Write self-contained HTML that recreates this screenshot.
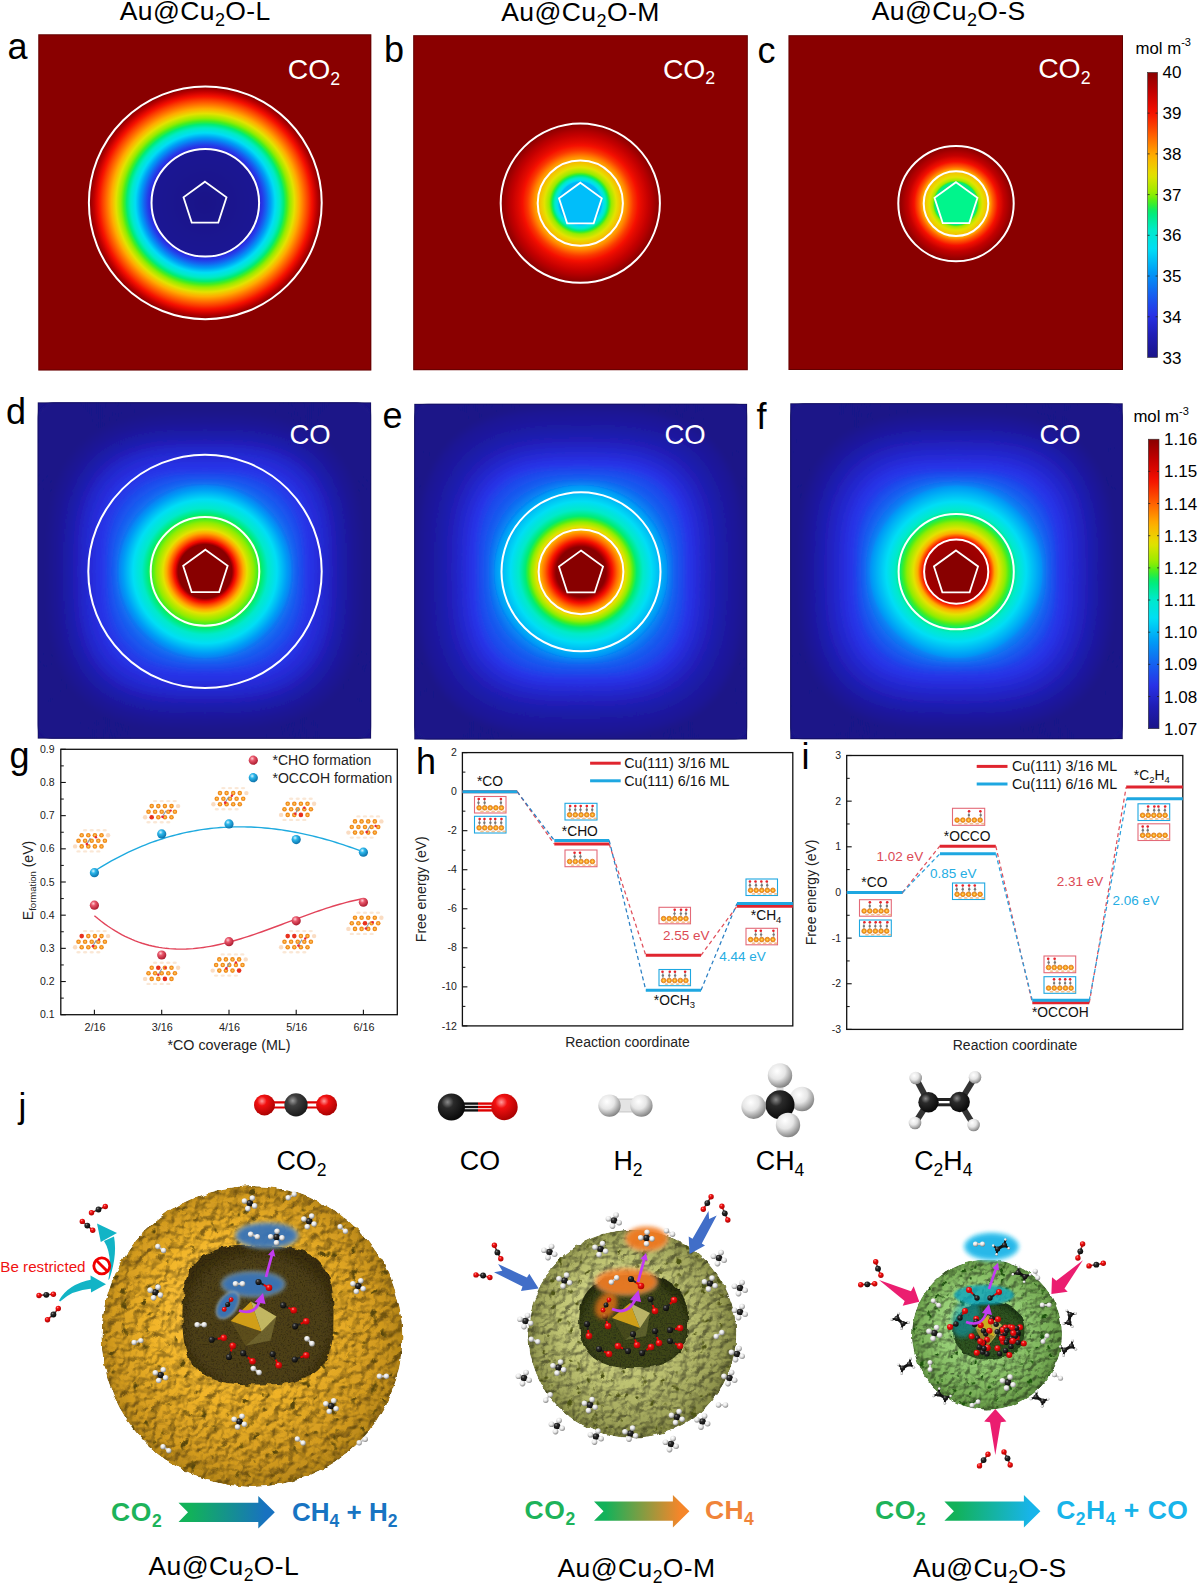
<!DOCTYPE html>
<html><head><meta charset="utf-8"><style>
html,body{margin:0;padding:0;background:#fff;}
body{width:1200px;height:1585px;overflow:hidden;}
svg{display:block;font-family:'Liberation Sans', sans-serif;}
</style></head><body>
<svg width="1200" height="1585" viewBox="0 0 1200 1585">
<defs><filter id="bandblur" x="-10%" y="-10%" width="120%" height="120%"><feGaussianBlur stdDeviation="1.6"/></filter>
<radialGradient id="g_a" gradientUnits="userSpaceOnUse" cx="205.30" cy="202.80" r="117.00"><stop offset="0.0000" stop-color="#1a1488"/><stop offset="0.0064" stop-color="#1a1488"/><stop offset="0.0128" stop-color="#1a1488"/><stop offset="0.0192" stop-color="#1a1488"/><stop offset="0.0256" stop-color="#1a1489"/><stop offset="0.0321" stop-color="#1a1489"/><stop offset="0.0385" stop-color="#1a1489"/><stop offset="0.0449" stop-color="#1a1489"/><stop offset="0.0513" stop-color="#1a1489"/><stop offset="0.0577" stop-color="#1a1489"/><stop offset="0.0641" stop-color="#1a148a"/><stop offset="0.0705" stop-color="#1a148a"/><stop offset="0.0769" stop-color="#1a148a"/><stop offset="0.0833" stop-color="#1a148a"/><stop offset="0.0897" stop-color="#1a148a"/><stop offset="0.0962" stop-color="#1a158a"/><stop offset="0.1026" stop-color="#1a158b"/><stop offset="0.1090" stop-color="#1a158b"/><stop offset="0.1154" stop-color="#1a158b"/><stop offset="0.1218" stop-color="#1a158b"/><stop offset="0.1282" stop-color="#1a158b"/><stop offset="0.1346" stop-color="#1a158b"/><stop offset="0.1410" stop-color="#1a158c"/><stop offset="0.1474" stop-color="#1a158c"/><stop offset="0.1538" stop-color="#1b158c"/><stop offset="0.1603" stop-color="#1b158c"/><stop offset="0.1667" stop-color="#1b158c"/><stop offset="0.1731" stop-color="#1b158c"/><stop offset="0.1795" stop-color="#1b158d"/><stop offset="0.1859" stop-color="#1b158d"/><stop offset="0.1923" stop-color="#1b158d"/><stop offset="0.1987" stop-color="#1b158d"/><stop offset="0.2051" stop-color="#1b158d"/><stop offset="0.2115" stop-color="#1b158d"/><stop offset="0.2179" stop-color="#1b158e"/><stop offset="0.2244" stop-color="#1b158e"/><stop offset="0.2308" stop-color="#1b158e"/><stop offset="0.2372" stop-color="#1b158e"/><stop offset="0.2436" stop-color="#1b158e"/><stop offset="0.2500" stop-color="#1b158e"/><stop offset="0.2564" stop-color="#1b158f"/><stop offset="0.2628" stop-color="#1b158f"/><stop offset="0.2692" stop-color="#1b158f"/><stop offset="0.2756" stop-color="#1b168f"/><stop offset="0.2821" stop-color="#1b168f"/><stop offset="0.2885" stop-color="#1b168f"/><stop offset="0.2949" stop-color="#1b168f"/><stop offset="0.3013" stop-color="#1b1690"/><stop offset="0.3077" stop-color="#1b1690"/><stop offset="0.3141" stop-color="#1b1690"/><stop offset="0.3205" stop-color="#1b1690"/><stop offset="0.3269" stop-color="#1b1690"/><stop offset="0.3333" stop-color="#1b1690"/><stop offset="0.3397" stop-color="#1b1691"/><stop offset="0.3462" stop-color="#1b1691"/><stop offset="0.3526" stop-color="#1b1691"/><stop offset="0.3590" stop-color="#1b1691"/><stop offset="0.3654" stop-color="#1b1691"/><stop offset="0.3718" stop-color="#1b1691"/><stop offset="0.3782" stop-color="#1b1692"/><stop offset="0.3846" stop-color="#1b1692"/><stop offset="0.3910" stop-color="#1b1692"/><stop offset="0.3974" stop-color="#1b1692"/><stop offset="0.4038" stop-color="#1b1692"/><stop offset="0.4103" stop-color="#1b1692"/><stop offset="0.4167" stop-color="#1b1693"/><stop offset="0.4231" stop-color="#1b1693"/><stop offset="0.4295" stop-color="#1b1693"/><stop offset="0.4359" stop-color="#1b1693"/><stop offset="0.4423" stop-color="#1b1693"/><stop offset="0.4487" stop-color="#1b1693"/><stop offset="0.4551" stop-color="#1d199f"/><stop offset="0.4615" stop-color="#2325c6"/><stop offset="0.4679" stop-color="#252bd6"/><stop offset="0.4744" stop-color="#262edd"/><stop offset="0.4808" stop-color="#2831e4"/><stop offset="0.4872" stop-color="#2636e7"/><stop offset="0.4936" stop-color="#233ee9"/><stop offset="0.5000" stop-color="#2046ea"/><stop offset="0.5064" stop-color="#1c4fec"/><stop offset="0.5128" stop-color="#1958ee"/><stop offset="0.5192" stop-color="#1660f0"/><stop offset="0.5256" stop-color="#126af1"/><stop offset="0.5321" stop-color="#0e74f2"/><stop offset="0.5385" stop-color="#0a7ff3"/><stop offset="0.5449" stop-color="#0789f4"/><stop offset="0.5513" stop-color="#0392f5"/><stop offset="0.5577" stop-color="#009cf6"/><stop offset="0.5641" stop-color="#00a6f6"/><stop offset="0.5705" stop-color="#00b1f6"/><stop offset="0.5769" stop-color="#00bbf6"/><stop offset="0.5833" stop-color="#00c6f5"/><stop offset="0.5897" stop-color="#00d0f5"/><stop offset="0.5962" stop-color="#00dbf5"/><stop offset="0.6026" stop-color="#00dff0"/><stop offset="0.6090" stop-color="#00e1e9"/><stop offset="0.6154" stop-color="#00e3e1"/><stop offset="0.6218" stop-color="#00e5da"/><stop offset="0.6282" stop-color="#00e7d3"/><stop offset="0.6346" stop-color="#00e9cb"/><stop offset="0.6410" stop-color="#00eac0"/><stop offset="0.6474" stop-color="#00ebb0"/><stop offset="0.6538" stop-color="#00eba0"/><stop offset="0.6603" stop-color="#00eb90"/><stop offset="0.6667" stop-color="#00ec80"/><stop offset="0.6731" stop-color="#04ec6f"/><stop offset="0.6795" stop-color="#18ed56"/><stop offset="0.6859" stop-color="#28ed43"/><stop offset="0.6923" stop-color="#37ee30"/><stop offset="0.6987" stop-color="#47ee1e"/><stop offset="0.7051" stop-color="#5ced16"/><stop offset="0.7115" stop-color="#71ed0e"/><stop offset="0.7179" stop-color="#85ec06"/><stop offset="0.7244" stop-color="#98ec00"/><stop offset="0.7308" stop-color="#a5ea00"/><stop offset="0.7372" stop-color="#b1e800"/><stop offset="0.7436" stop-color="#bee700"/><stop offset="0.7500" stop-color="#cae500"/><stop offset="0.7564" stop-color="#d7e400"/><stop offset="0.7628" stop-color="#e3e200"/><stop offset="0.7692" stop-color="#e8da00"/><stop offset="0.7756" stop-color="#ecd100"/><stop offset="0.7821" stop-color="#f1c900"/><stop offset="0.7885" stop-color="#f5c000"/><stop offset="0.7949" stop-color="#f9b700"/><stop offset="0.8013" stop-color="#feaf00"/><stop offset="0.8077" stop-color="#ffa600"/><stop offset="0.8141" stop-color="#ff9c00"/><stop offset="0.8205" stop-color="#ff9200"/><stop offset="0.8269" stop-color="#ff8900"/><stop offset="0.8333" stop-color="#ff7f00"/><stop offset="0.8397" stop-color="#ff7500"/><stop offset="0.8462" stop-color="#ff6c00"/><stop offset="0.8526" stop-color="#ff6200"/><stop offset="0.8590" stop-color="#fe5900"/><stop offset="0.8654" stop-color="#fd5000"/><stop offset="0.8718" stop-color="#fc4700"/><stop offset="0.8782" stop-color="#fb3e00"/><stop offset="0.8846" stop-color="#fa3500"/><stop offset="0.8910" stop-color="#f92b00"/><stop offset="0.8974" stop-color="#f72200"/><stop offset="0.9038" stop-color="#f61900"/><stop offset="0.9103" stop-color="#f51000"/><stop offset="0.9167" stop-color="#ee0d00"/><stop offset="0.9231" stop-color="#e50a00"/><stop offset="0.9295" stop-color="#dd0800"/><stop offset="0.9359" stop-color="#d40500"/><stop offset="0.9423" stop-color="#cc0300"/><stop offset="0.9487" stop-color="#c30000"/><stop offset="0.9551" stop-color="#ba0000"/><stop offset="0.9615" stop-color="#b00000"/><stop offset="0.9679" stop-color="#a70000"/><stop offset="0.9744" stop-color="#9e0000"/><stop offset="0.9808" stop-color="#940000"/><stop offset="0.9872" stop-color="#8f0000"/><stop offset="0.9936" stop-color="#8c0000"/><stop offset="1.0000" stop-color="#890000"/></radialGradient>
<radialGradient id="g_b" gradientUnits="userSpaceOnUse" cx="580.30" cy="203.20" r="79.00"><stop offset="0.0000" stop-color="#00acf6"/><stop offset="0.0095" stop-color="#00acf6"/><stop offset="0.0190" stop-color="#00acf6"/><stop offset="0.0285" stop-color="#00adf6"/><stop offset="0.0380" stop-color="#00adf6"/><stop offset="0.0475" stop-color="#00adf6"/><stop offset="0.0570" stop-color="#00aef6"/><stop offset="0.0665" stop-color="#00aef6"/><stop offset="0.0759" stop-color="#00aef6"/><stop offset="0.0854" stop-color="#00aef6"/><stop offset="0.0949" stop-color="#00aff6"/><stop offset="0.1044" stop-color="#00aff6"/><stop offset="0.1139" stop-color="#00aff6"/><stop offset="0.1234" stop-color="#00b0f6"/><stop offset="0.1329" stop-color="#00b0f6"/><stop offset="0.1424" stop-color="#00b0f6"/><stop offset="0.1519" stop-color="#00b1f6"/><stop offset="0.1614" stop-color="#00b1f6"/><stop offset="0.1709" stop-color="#00b1f6"/><stop offset="0.1804" stop-color="#00b1f6"/><stop offset="0.1899" stop-color="#00b2f6"/><stop offset="0.1994" stop-color="#00b2f6"/><stop offset="0.2089" stop-color="#00b2f6"/><stop offset="0.2184" stop-color="#00b3f6"/><stop offset="0.2278" stop-color="#00b3f6"/><stop offset="0.2373" stop-color="#00b3f6"/><stop offset="0.2468" stop-color="#00b4f6"/><stop offset="0.2563" stop-color="#00b4f6"/><stop offset="0.2658" stop-color="#00b4f6"/><stop offset="0.2753" stop-color="#00c7f5"/><stop offset="0.2848" stop-color="#00d8f5"/><stop offset="0.2943" stop-color="#00e0ec"/><stop offset="0.3038" stop-color="#00e4e0"/><stop offset="0.3133" stop-color="#00e7d3"/><stop offset="0.3228" stop-color="#00eac3"/><stop offset="0.3323" stop-color="#00eba7"/><stop offset="0.3418" stop-color="#00eb8b"/><stop offset="0.3513" stop-color="#07ec6b"/><stop offset="0.3608" stop-color="#26ed44"/><stop offset="0.3703" stop-color="#42ee23"/><stop offset="0.3797" stop-color="#65ed12"/><stop offset="0.3892" stop-color="#8aec05"/><stop offset="0.3987" stop-color="#9eeb00"/><stop offset="0.4082" stop-color="#a9ea00"/><stop offset="0.4177" stop-color="#b5e800"/><stop offset="0.4272" stop-color="#c1e600"/><stop offset="0.4367" stop-color="#cde500"/><stop offset="0.4462" stop-color="#d8e400"/><stop offset="0.4557" stop-color="#e4e200"/><stop offset="0.4652" stop-color="#e7dc00"/><stop offset="0.4747" stop-color="#ead600"/><stop offset="0.4842" stop-color="#edd100"/><stop offset="0.4937" stop-color="#f0cb00"/><stop offset="0.5032" stop-color="#f2c500"/><stop offset="0.5127" stop-color="#f5bf00"/><stop offset="0.5222" stop-color="#f8b900"/><stop offset="0.5316" stop-color="#fbb400"/><stop offset="0.5411" stop-color="#feaf00"/><stop offset="0.5506" stop-color="#ffa900"/><stop offset="0.5601" stop-color="#ffa100"/><stop offset="0.5696" stop-color="#ff9a00"/><stop offset="0.5791" stop-color="#ff9300"/><stop offset="0.5886" stop-color="#ff8a00"/><stop offset="0.5981" stop-color="#ff8000"/><stop offset="0.6076" stop-color="#ff7600"/><stop offset="0.6171" stop-color="#ff6c00"/><stop offset="0.6266" stop-color="#ff6200"/><stop offset="0.6361" stop-color="#fe5800"/><stop offset="0.6456" stop-color="#fd4f00"/><stop offset="0.6551" stop-color="#fc4600"/><stop offset="0.6646" stop-color="#fb3d00"/><stop offset="0.6741" stop-color="#fa3500"/><stop offset="0.6835" stop-color="#f92f00"/><stop offset="0.6930" stop-color="#f82900"/><stop offset="0.7025" stop-color="#f72300"/><stop offset="0.7120" stop-color="#f71d00"/><stop offset="0.7215" stop-color="#f61600"/><stop offset="0.7310" stop-color="#f51000"/><stop offset="0.7405" stop-color="#f20e00"/><stop offset="0.7500" stop-color="#ed0d00"/><stop offset="0.7595" stop-color="#e90b00"/><stop offset="0.7690" stop-color="#e50a00"/><stop offset="0.7785" stop-color="#e10900"/><stop offset="0.7880" stop-color="#de0800"/><stop offset="0.7975" stop-color="#da0700"/><stop offset="0.8070" stop-color="#d70600"/><stop offset="0.8165" stop-color="#d40500"/><stop offset="0.8259" stop-color="#d10400"/><stop offset="0.8354" stop-color="#cd0300"/><stop offset="0.8449" stop-color="#ca0200"/><stop offset="0.8544" stop-color="#c70100"/><stop offset="0.8639" stop-color="#c30000"/><stop offset="0.8734" stop-color="#c00000"/><stop offset="0.8829" stop-color="#bc0000"/><stop offset="0.8924" stop-color="#b80000"/><stop offset="0.9019" stop-color="#b40000"/><stop offset="0.9114" stop-color="#b00000"/><stop offset="0.9209" stop-color="#ac0000"/><stop offset="0.9304" stop-color="#a70000"/><stop offset="0.9399" stop-color="#a30000"/><stop offset="0.9494" stop-color="#9f0000"/><stop offset="0.9589" stop-color="#9b0000"/><stop offset="0.9684" stop-color="#970000"/><stop offset="0.9778" stop-color="#930000"/><stop offset="0.9873" stop-color="#8f0000"/><stop offset="0.9968" stop-color="#8a0000"/></radialGradient>
<radialGradient id="g_c" gradientUnits="userSpaceOnUse" cx="956.00" cy="203.60" r="57.00"><stop offset="0.0000" stop-color="#00ec81"/><stop offset="0.0132" stop-color="#00ec81"/><stop offset="0.0263" stop-color="#00ec81"/><stop offset="0.0395" stop-color="#00ec81"/><stop offset="0.0526" stop-color="#00ec81"/><stop offset="0.0658" stop-color="#00ec81"/><stop offset="0.0789" stop-color="#00ec81"/><stop offset="0.0921" stop-color="#00ec81"/><stop offset="0.1053" stop-color="#00ec81"/><stop offset="0.1184" stop-color="#00ec81"/><stop offset="0.1316" stop-color="#00ec81"/><stop offset="0.1447" stop-color="#00ec81"/><stop offset="0.1579" stop-color="#00ec81"/><stop offset="0.1711" stop-color="#00ec81"/><stop offset="0.1842" stop-color="#00ec81"/><stop offset="0.1974" stop-color="#00ec81"/><stop offset="0.2105" stop-color="#00ec81"/><stop offset="0.2237" stop-color="#00ec81"/><stop offset="0.2368" stop-color="#00ec81"/><stop offset="0.2500" stop-color="#00ec81"/><stop offset="0.2632" stop-color="#00ec81"/><stop offset="0.2763" stop-color="#00ec81"/><stop offset="0.2895" stop-color="#00ec81"/><stop offset="0.3026" stop-color="#00ec81"/><stop offset="0.3158" stop-color="#00ec81"/><stop offset="0.3289" stop-color="#00ec81"/><stop offset="0.3421" stop-color="#00ec81"/><stop offset="0.3553" stop-color="#00ec81"/><stop offset="0.3684" stop-color="#00ec81"/><stop offset="0.3816" stop-color="#28ed42"/><stop offset="0.3947" stop-color="#6eed0f"/><stop offset="0.4079" stop-color="#a1eb00"/><stop offset="0.4211" stop-color="#b1e900"/><stop offset="0.4342" stop-color="#c0e700"/><stop offset="0.4474" stop-color="#cfe500"/><stop offset="0.4605" stop-color="#dfe300"/><stop offset="0.4737" stop-color="#e6df00"/><stop offset="0.4868" stop-color="#e8da00"/><stop offset="0.5000" stop-color="#ebd500"/><stop offset="0.5132" stop-color="#edd000"/><stop offset="0.5263" stop-color="#f0cb00"/><stop offset="0.5395" stop-color="#f3c400"/><stop offset="0.5526" stop-color="#f6be00"/><stop offset="0.5658" stop-color="#f9b700"/><stop offset="0.5789" stop-color="#fdb000"/><stop offset="0.5921" stop-color="#ffa600"/><stop offset="0.6053" stop-color="#ff9600"/><stop offset="0.6184" stop-color="#ff8600"/><stop offset="0.6316" stop-color="#ff7500"/><stop offset="0.6447" stop-color="#ff6400"/><stop offset="0.6579" stop-color="#fe5700"/><stop offset="0.6711" stop-color="#fc4b00"/><stop offset="0.6842" stop-color="#fb3f00"/><stop offset="0.6974" stop-color="#fa3300"/><stop offset="0.7105" stop-color="#f82700"/><stop offset="0.7237" stop-color="#f61b00"/><stop offset="0.7368" stop-color="#f50f00"/><stop offset="0.7500" stop-color="#ef0d00"/><stop offset="0.7632" stop-color="#e90b00"/><stop offset="0.7763" stop-color="#e20900"/><stop offset="0.7895" stop-color="#dc0800"/><stop offset="0.8026" stop-color="#d60600"/><stop offset="0.8158" stop-color="#cf0400"/><stop offset="0.8289" stop-color="#c90200"/><stop offset="0.8421" stop-color="#c30000"/><stop offset="0.8553" stop-color="#be0000"/><stop offset="0.8684" stop-color="#b90000"/><stop offset="0.8816" stop-color="#b50000"/><stop offset="0.8947" stop-color="#b00000"/><stop offset="0.9079" stop-color="#ab0000"/><stop offset="0.9211" stop-color="#a60000"/><stop offset="0.9342" stop-color="#a10000"/><stop offset="0.9474" stop-color="#9c0000"/><stop offset="0.9605" stop-color="#970000"/><stop offset="0.9737" stop-color="#930000"/><stop offset="0.9868" stop-color="#8e0000"/><stop offset="1.0000" stop-color="#890000"/></radialGradient>
<radialGradient id="g_d" gradientUnits="userSpaceOnUse" cx="205.00" cy="571.40" r="162.00"><stop offset="0.0000" stop-color="#890000"/><stop offset="0.0046" stop-color="#890000"/><stop offset="0.0093" stop-color="#890000"/><stop offset="0.0139" stop-color="#890000"/><stop offset="0.0185" stop-color="#890000"/><stop offset="0.0231" stop-color="#890000"/><stop offset="0.0278" stop-color="#890000"/><stop offset="0.0324" stop-color="#890000"/><stop offset="0.0370" stop-color="#890000"/><stop offset="0.0417" stop-color="#890000"/><stop offset="0.0463" stop-color="#890000"/><stop offset="0.0509" stop-color="#890000"/><stop offset="0.0556" stop-color="#890000"/><stop offset="0.0602" stop-color="#890000"/><stop offset="0.0648" stop-color="#890000"/><stop offset="0.0694" stop-color="#890000"/><stop offset="0.0741" stop-color="#890000"/><stop offset="0.0787" stop-color="#890000"/><stop offset="0.0833" stop-color="#890000"/><stop offset="0.0880" stop-color="#890000"/><stop offset="0.0926" stop-color="#890000"/><stop offset="0.0972" stop-color="#890000"/><stop offset="0.1019" stop-color="#890000"/><stop offset="0.1065" stop-color="#890000"/><stop offset="0.1111" stop-color="#890000"/><stop offset="0.1157" stop-color="#890000"/><stop offset="0.1204" stop-color="#890000"/><stop offset="0.1250" stop-color="#890000"/><stop offset="0.1296" stop-color="#890000"/><stop offset="0.1343" stop-color="#890000"/><stop offset="0.1389" stop-color="#890000"/><stop offset="0.1435" stop-color="#890000"/><stop offset="0.1481" stop-color="#890000"/><stop offset="0.1528" stop-color="#890000"/><stop offset="0.1574" stop-color="#890000"/><stop offset="0.1620" stop-color="#890000"/><stop offset="0.1667" stop-color="#890000"/><stop offset="0.1713" stop-color="#a20000"/><stop offset="0.1759" stop-color="#bb0000"/><stop offset="0.1806" stop-color="#d10400"/><stop offset="0.1852" stop-color="#e70b00"/><stop offset="0.1898" stop-color="#f30e00"/><stop offset="0.1944" stop-color="#f71d00"/><stop offset="0.1991" stop-color="#f92e00"/><stop offset="0.2037" stop-color="#fb3f00"/><stop offset="0.2083" stop-color="#fd4f00"/><stop offset="0.2130" stop-color="#ff5e00"/><stop offset="0.2176" stop-color="#ff6d00"/><stop offset="0.2222" stop-color="#ff7c00"/><stop offset="0.2269" stop-color="#ff8b00"/><stop offset="0.2315" stop-color="#ff9a00"/><stop offset="0.2361" stop-color="#ffa900"/><stop offset="0.2407" stop-color="#fab500"/><stop offset="0.2454" stop-color="#f5c000"/><stop offset="0.2500" stop-color="#efcb00"/><stop offset="0.2546" stop-color="#ead700"/><stop offset="0.2593" stop-color="#e4e200"/><stop offset="0.2639" stop-color="#dbe300"/><stop offset="0.2685" stop-color="#d1e400"/><stop offset="0.2731" stop-color="#c8e600"/><stop offset="0.2778" stop-color="#bee700"/><stop offset="0.2824" stop-color="#b5e800"/><stop offset="0.2870" stop-color="#abe900"/><stop offset="0.2917" stop-color="#a2eb00"/><stop offset="0.2963" stop-color="#99ec00"/><stop offset="0.3009" stop-color="#8fec03"/><stop offset="0.3056" stop-color="#81ed08"/><stop offset="0.3102" stop-color="#72ed0d"/><stop offset="0.3148" stop-color="#64ed13"/><stop offset="0.3194" stop-color="#55ee18"/><stop offset="0.3241" stop-color="#47ee1e"/><stop offset="0.3287" stop-color="#3cee2a"/><stop offset="0.3333" stop-color="#31ed38"/><stop offset="0.3380" stop-color="#26ed45"/><stop offset="0.3426" stop-color="#1bed52"/><stop offset="0.3472" stop-color="#0fec61"/><stop offset="0.3519" stop-color="#00ec73"/><stop offset="0.3565" stop-color="#00ec7e"/><stop offset="0.3611" stop-color="#00ec88"/><stop offset="0.3657" stop-color="#00eb93"/><stop offset="0.3704" stop-color="#00eb9d"/><stop offset="0.3750" stop-color="#00eba8"/><stop offset="0.3796" stop-color="#00eab3"/><stop offset="0.3843" stop-color="#00eabd"/><stop offset="0.3889" stop-color="#00eac8"/><stop offset="0.3935" stop-color="#00e9cc"/><stop offset="0.3981" stop-color="#00e8d0"/><stop offset="0.4028" stop-color="#00e7d3"/><stop offset="0.4074" stop-color="#00e6d7"/><stop offset="0.4120" stop-color="#00e5db"/><stop offset="0.4167" stop-color="#00e4de"/><stop offset="0.4213" stop-color="#00e3e2"/><stop offset="0.4259" stop-color="#00e2e6"/><stop offset="0.4306" stop-color="#00e1ea"/><stop offset="0.4352" stop-color="#00e0ee"/><stop offset="0.4398" stop-color="#00dff1"/><stop offset="0.4444" stop-color="#00def5"/><stop offset="0.4491" stop-color="#00d9f5"/><stop offset="0.4537" stop-color="#00d4f5"/><stop offset="0.4583" stop-color="#00cff5"/><stop offset="0.4630" stop-color="#00caf5"/><stop offset="0.4676" stop-color="#00c5f5"/><stop offset="0.4722" stop-color="#00c0f5"/><stop offset="0.4769" stop-color="#00bbf6"/><stop offset="0.4815" stop-color="#00b6f6"/><stop offset="0.4861" stop-color="#00b1f6"/><stop offset="0.4907" stop-color="#00acf6"/><stop offset="0.4954" stop-color="#00a7f6"/><stop offset="0.5000" stop-color="#00a2f6"/><stop offset="0.5046" stop-color="#009df6"/><stop offset="0.5093" stop-color="#0198f6"/><stop offset="0.5139" stop-color="#0394f5"/><stop offset="0.5185" stop-color="#048ff5"/><stop offset="0.5231" stop-color="#068af4"/><stop offset="0.5278" stop-color="#0886f4"/><stop offset="0.5324" stop-color="#0982f3"/><stop offset="0.5370" stop-color="#0b7df3"/><stop offset="0.5417" stop-color="#0d78f3"/><stop offset="0.5463" stop-color="#0e74f2"/><stop offset="0.5509" stop-color="#1070f2"/><stop offset="0.5556" stop-color="#126bf1"/><stop offset="0.5602" stop-color="#1367f1"/><stop offset="0.5648" stop-color="#1562f0"/><stop offset="0.5694" stop-color="#165ef0"/><stop offset="0.5741" stop-color="#175bef"/><stop offset="0.5787" stop-color="#1859ef"/><stop offset="0.5833" stop-color="#1a56ee"/><stop offset="0.5880" stop-color="#1b54ed"/><stop offset="0.5926" stop-color="#1c51ed"/><stop offset="0.5972" stop-color="#1d4eec"/><stop offset="0.6019" stop-color="#1e4cec"/><stop offset="0.6065" stop-color="#1f49eb"/><stop offset="0.6111" stop-color="#2046eb"/><stop offset="0.6157" stop-color="#2144ea"/><stop offset="0.6204" stop-color="#2241e9"/><stop offset="0.6250" stop-color="#233fe9"/><stop offset="0.6296" stop-color="#243ce8"/><stop offset="0.6343" stop-color="#2539e8"/><stop offset="0.6389" stop-color="#2638e7"/><stop offset="0.6435" stop-color="#2636e7"/><stop offset="0.6481" stop-color="#2735e7"/><stop offset="0.6528" stop-color="#2734e6"/><stop offset="0.6574" stop-color="#2833e6"/><stop offset="0.6620" stop-color="#2832e6"/><stop offset="0.6667" stop-color="#2831e4"/><stop offset="0.6713" stop-color="#2831e3"/><stop offset="0.6759" stop-color="#2730e2"/><stop offset="0.6806" stop-color="#2730e0"/><stop offset="0.6852" stop-color="#272fdf"/><stop offset="0.6898" stop-color="#272fde"/><stop offset="0.6944" stop-color="#262edd"/><stop offset="0.6991" stop-color="#262edb"/><stop offset="0.7037" stop-color="#262dda"/><stop offset="0.7083" stop-color="#262cd9"/><stop offset="0.7130" stop-color="#262cd7"/><stop offset="0.7176" stop-color="#252bd6"/><stop offset="0.7222" stop-color="#252bd5"/><stop offset="0.7269" stop-color="#252ad4"/><stop offset="0.7315" stop-color="#252ad2"/><stop offset="0.7361" stop-color="#2429d1"/><stop offset="0.7407" stop-color="#2429d0"/><stop offset="0.7454" stop-color="#2428ce"/><stop offset="0.7500" stop-color="#2428cd"/><stop offset="0.7546" stop-color="#2427cc"/><stop offset="0.7593" stop-color="#2327cb"/><stop offset="0.7639" stop-color="#2326c9"/><stop offset="0.7685" stop-color="#2325c7"/><stop offset="0.7731" stop-color="#2324c5"/><stop offset="0.7778" stop-color="#2224c3"/><stop offset="0.7824" stop-color="#2223c1"/><stop offset="0.7870" stop-color="#2222c0"/><stop offset="0.7917" stop-color="#2121be"/><stop offset="0.7963" stop-color="#2120bc"/><stop offset="0.8009" stop-color="#2120ba"/><stop offset="0.8056" stop-color="#201fb8"/><stop offset="0.8102" stop-color="#201eb6"/><stop offset="0.8148" stop-color="#201eb5"/><stop offset="0.8194" stop-color="#201db3"/><stop offset="0.8241" stop-color="#1f1db2"/><stop offset="0.8287" stop-color="#1f1db0"/><stop offset="0.8333" stop-color="#1f1caf"/><stop offset="0.8380" stop-color="#1f1cad"/><stop offset="0.8426" stop-color="#1f1cac"/><stop offset="0.8472" stop-color="#1e1baa"/><stop offset="0.8519" stop-color="#1e1ba9"/><stop offset="0.8565" stop-color="#1e1ba8"/><stop offset="0.8611" stop-color="#1e1ba7"/><stop offset="0.8657" stop-color="#1e1aa5"/><stop offset="0.8704" stop-color="#1e1aa4"/><stop offset="0.8750" stop-color="#1e1aa3"/><stop offset="0.8796" stop-color="#1d1aa2"/><stop offset="0.8843" stop-color="#1d19a1"/><stop offset="0.8889" stop-color="#1d19a0"/><stop offset="0.8935" stop-color="#1d199f"/><stop offset="0.8981" stop-color="#1d199d"/><stop offset="0.9028" stop-color="#1d189c"/><stop offset="0.9074" stop-color="#1c189b"/><stop offset="0.9120" stop-color="#1c189a"/><stop offset="0.9167" stop-color="#1c1899"/><stop offset="0.9213" stop-color="#1c1798"/><stop offset="0.9259" stop-color="#1c1796"/><stop offset="0.9306" stop-color="#1c1795"/><stop offset="0.9352" stop-color="#1c1795"/><stop offset="0.9398" stop-color="#1c1794"/><stop offset="0.9444" stop-color="#1b1693"/><stop offset="0.9491" stop-color="#1b1692"/><stop offset="0.9537" stop-color="#1b1691"/><stop offset="0.9583" stop-color="#1b1690"/><stop offset="0.9630" stop-color="#1b168f"/><stop offset="0.9676" stop-color="#1b158e"/><stop offset="0.9722" stop-color="#1b158d"/><stop offset="0.9769" stop-color="#1b158c"/><stop offset="0.9815" stop-color="#1a158c"/><stop offset="0.9861" stop-color="#1a158b"/><stop offset="0.9907" stop-color="#1a148a"/><stop offset="0.9954" stop-color="#1a1489"/><stop offset="1.0000" stop-color="#1a1488"/></radialGradient>
<clipPath id="clip_d"><rect x="37.60" y="402.30" width="333.60" height="336.40"/></clipPath>
<radialGradient id="g_e" gradientUnits="userSpaceOnUse" cx="581.00" cy="571.80" r="168.00"><stop offset="0.0000" stop-color="#890000"/><stop offset="0.0045" stop-color="#890000"/><stop offset="0.0089" stop-color="#890000"/><stop offset="0.0134" stop-color="#890000"/><stop offset="0.0179" stop-color="#890000"/><stop offset="0.0223" stop-color="#890000"/><stop offset="0.0268" stop-color="#890000"/><stop offset="0.0312" stop-color="#890000"/><stop offset="0.0357" stop-color="#890000"/><stop offset="0.0402" stop-color="#890000"/><stop offset="0.0446" stop-color="#890000"/><stop offset="0.0491" stop-color="#890000"/><stop offset="0.0536" stop-color="#890000"/><stop offset="0.0580" stop-color="#890000"/><stop offset="0.0625" stop-color="#890000"/><stop offset="0.0670" stop-color="#890000"/><stop offset="0.0714" stop-color="#890000"/><stop offset="0.0759" stop-color="#890000"/><stop offset="0.0804" stop-color="#890000"/><stop offset="0.0848" stop-color="#890000"/><stop offset="0.0893" stop-color="#890000"/><stop offset="0.0938" stop-color="#890000"/><stop offset="0.0982" stop-color="#890000"/><stop offset="0.1027" stop-color="#890000"/><stop offset="0.1071" stop-color="#890000"/><stop offset="0.1116" stop-color="#890000"/><stop offset="0.1161" stop-color="#890000"/><stop offset="0.1205" stop-color="#890000"/><stop offset="0.1250" stop-color="#890000"/><stop offset="0.1295" stop-color="#890000"/><stop offset="0.1339" stop-color="#890000"/><stop offset="0.1384" stop-color="#890000"/><stop offset="0.1429" stop-color="#890000"/><stop offset="0.1473" stop-color="#890000"/><stop offset="0.1518" stop-color="#930000"/><stop offset="0.1562" stop-color="#a10000"/><stop offset="0.1607" stop-color="#af0000"/><stop offset="0.1652" stop-color="#be0000"/><stop offset="0.1696" stop-color="#cb0200"/><stop offset="0.1741" stop-color="#d70600"/><stop offset="0.1786" stop-color="#e40a00"/><stop offset="0.1830" stop-color="#f00d00"/><stop offset="0.1875" stop-color="#f61500"/><stop offset="0.1920" stop-color="#f72200"/><stop offset="0.1964" stop-color="#f92f00"/><stop offset="0.2009" stop-color="#fb3c00"/><stop offset="0.2054" stop-color="#fc4900"/><stop offset="0.2098" stop-color="#fe5700"/><stop offset="0.2143" stop-color="#ff6400"/><stop offset="0.2188" stop-color="#ff7100"/><stop offset="0.2232" stop-color="#ff7c00"/><stop offset="0.2277" stop-color="#ff8800"/><stop offset="0.2321" stop-color="#ff9300"/><stop offset="0.2366" stop-color="#ff9f00"/><stop offset="0.2411" stop-color="#ffaa00"/><stop offset="0.2455" stop-color="#fbb400"/><stop offset="0.2500" stop-color="#f6be00"/><stop offset="0.2545" stop-color="#f2c700"/><stop offset="0.2589" stop-color="#edd000"/><stop offset="0.2634" stop-color="#e8da00"/><stop offset="0.2679" stop-color="#e2e200"/><stop offset="0.2723" stop-color="#d5e400"/><stop offset="0.2768" stop-color="#c8e600"/><stop offset="0.2812" stop-color="#bbe700"/><stop offset="0.2857" stop-color="#aee900"/><stop offset="0.2902" stop-color="#a0eb00"/><stop offset="0.2946" stop-color="#96ec00"/><stop offset="0.2991" stop-color="#81ed08"/><stop offset="0.3036" stop-color="#6ced10"/><stop offset="0.3080" stop-color="#57ee17"/><stop offset="0.3125" stop-color="#44ee21"/><stop offset="0.3170" stop-color="#34ed34"/><stop offset="0.3214" stop-color="#25ed47"/><stop offset="0.3259" stop-color="#15ed59"/><stop offset="0.3304" stop-color="#06ec6b"/><stop offset="0.3348" stop-color="#00ec79"/><stop offset="0.3393" stop-color="#00ec83"/><stop offset="0.3438" stop-color="#00eb8d"/><stop offset="0.3482" stop-color="#00eb98"/><stop offset="0.3527" stop-color="#00eba2"/><stop offset="0.3571" stop-color="#00ebac"/><stop offset="0.3616" stop-color="#00eab7"/><stop offset="0.3661" stop-color="#00eac1"/><stop offset="0.3705" stop-color="#00eac9"/><stop offset="0.3750" stop-color="#00e9cd"/><stop offset="0.3795" stop-color="#00e8d1"/><stop offset="0.3839" stop-color="#00e6d5"/><stop offset="0.3884" stop-color="#00e5d9"/><stop offset="0.3929" stop-color="#00e4dd"/><stop offset="0.3973" stop-color="#00e3e1"/><stop offset="0.4018" stop-color="#00e2e5"/><stop offset="0.4062" stop-color="#00e1e9"/><stop offset="0.4107" stop-color="#00e0ed"/><stop offset="0.4152" stop-color="#00dff1"/><stop offset="0.4196" stop-color="#00def5"/><stop offset="0.4241" stop-color="#00daf5"/><stop offset="0.4286" stop-color="#00d7f5"/><stop offset="0.4330" stop-color="#00d3f5"/><stop offset="0.4375" stop-color="#00d0f5"/><stop offset="0.4420" stop-color="#00ccf5"/><stop offset="0.4464" stop-color="#00c9f5"/><stop offset="0.4509" stop-color="#00c5f5"/><stop offset="0.4554" stop-color="#00c2f5"/><stop offset="0.4598" stop-color="#00bef5"/><stop offset="0.4643" stop-color="#00bbf6"/><stop offset="0.4688" stop-color="#00b7f6"/><stop offset="0.4732" stop-color="#00b4f6"/><stop offset="0.4777" stop-color="#00b0f6"/><stop offset="0.4821" stop-color="#00acf6"/><stop offset="0.4866" stop-color="#00a9f6"/><stop offset="0.4911" stop-color="#00a5f6"/><stop offset="0.4955" stop-color="#00a2f6"/><stop offset="0.5000" stop-color="#009ef6"/><stop offset="0.5045" stop-color="#009bf6"/><stop offset="0.5089" stop-color="#0296f6"/><stop offset="0.5134" stop-color="#0392f5"/><stop offset="0.5179" stop-color="#058df5"/><stop offset="0.5223" stop-color="#0789f4"/><stop offset="0.5268" stop-color="#0884f4"/><stop offset="0.5312" stop-color="#0a80f3"/><stop offset="0.5357" stop-color="#0c7bf3"/><stop offset="0.5402" stop-color="#0d77f2"/><stop offset="0.5446" stop-color="#0f72f2"/><stop offset="0.5491" stop-color="#116ef1"/><stop offset="0.5536" stop-color="#1269f1"/><stop offset="0.5580" stop-color="#1465f1"/><stop offset="0.5625" stop-color="#1660f0"/><stop offset="0.5670" stop-color="#175df0"/><stop offset="0.5714" stop-color="#185bef"/><stop offset="0.5759" stop-color="#1859ef"/><stop offset="0.5804" stop-color="#1957ee"/><stop offset="0.5848" stop-color="#1a55ee"/><stop offset="0.5893" stop-color="#1b52ed"/><stop offset="0.5938" stop-color="#1c50ed"/><stop offset="0.5982" stop-color="#1d4eec"/><stop offset="0.6027" stop-color="#1e4cec"/><stop offset="0.6071" stop-color="#1f4aeb"/><stop offset="0.6116" stop-color="#1f47eb"/><stop offset="0.6161" stop-color="#2045ea"/><stop offset="0.6205" stop-color="#2143ea"/><stop offset="0.6250" stop-color="#2241e9"/><stop offset="0.6295" stop-color="#233fe9"/><stop offset="0.6339" stop-color="#243de8"/><stop offset="0.6384" stop-color="#253ae8"/><stop offset="0.6429" stop-color="#2638e7"/><stop offset="0.6473" stop-color="#2636e7"/><stop offset="0.6518" stop-color="#2734e6"/><stop offset="0.6562" stop-color="#2833e6"/><stop offset="0.6607" stop-color="#2832e5"/><stop offset="0.6652" stop-color="#2831e4"/><stop offset="0.6696" stop-color="#2730e2"/><stop offset="0.6741" stop-color="#2730e0"/><stop offset="0.6786" stop-color="#272fdf"/><stop offset="0.6830" stop-color="#272edd"/><stop offset="0.6875" stop-color="#262edc"/><stop offset="0.6920" stop-color="#262dda"/><stop offset="0.6964" stop-color="#262cd8"/><stop offset="0.7009" stop-color="#252cd7"/><stop offset="0.7054" stop-color="#252bd5"/><stop offset="0.7098" stop-color="#252ad4"/><stop offset="0.7143" stop-color="#252ad2"/><stop offset="0.7188" stop-color="#2429d0"/><stop offset="0.7232" stop-color="#2428cf"/><stop offset="0.7277" stop-color="#2428cd"/><stop offset="0.7321" stop-color="#2427cc"/><stop offset="0.7366" stop-color="#2326ca"/><stop offset="0.7411" stop-color="#2326c9"/><stop offset="0.7455" stop-color="#2325c7"/><stop offset="0.7500" stop-color="#2324c5"/><stop offset="0.7545" stop-color="#2224c4"/><stop offset="0.7589" stop-color="#2223c2"/><stop offset="0.7634" stop-color="#2222c1"/><stop offset="0.7679" stop-color="#2122bf"/><stop offset="0.7723" stop-color="#2121bd"/><stop offset="0.7768" stop-color="#2120bc"/><stop offset="0.7812" stop-color="#2120bb"/><stop offset="0.7857" stop-color="#211fb9"/><stop offset="0.7902" stop-color="#201fb8"/><stop offset="0.7946" stop-color="#201eb6"/><stop offset="0.7991" stop-color="#201eb5"/><stop offset="0.8036" stop-color="#201eb4"/><stop offset="0.8080" stop-color="#201db3"/><stop offset="0.8125" stop-color="#1f1db2"/><stop offset="0.8170" stop-color="#1f1db1"/><stop offset="0.8214" stop-color="#1f1daf"/><stop offset="0.8259" stop-color="#1f1cae"/><stop offset="0.8304" stop-color="#1f1cad"/><stop offset="0.8348" stop-color="#1f1cac"/><stop offset="0.8393" stop-color="#1f1cab"/><stop offset="0.8438" stop-color="#1e1baa"/><stop offset="0.8482" stop-color="#1e1ba9"/><stop offset="0.8527" stop-color="#1e1ba7"/><stop offset="0.8571" stop-color="#1e1ba6"/><stop offset="0.8616" stop-color="#1e1aa5"/><stop offset="0.8661" stop-color="#1e1aa4"/><stop offset="0.8705" stop-color="#1e1aa3"/><stop offset="0.8750" stop-color="#1d1aa3"/><stop offset="0.8795" stop-color="#1d1aa2"/><stop offset="0.8839" stop-color="#1d19a1"/><stop offset="0.8884" stop-color="#1d19a0"/><stop offset="0.8929" stop-color="#1d19a0"/><stop offset="0.8973" stop-color="#1d199f"/><stop offset="0.9018" stop-color="#1d199e"/><stop offset="0.9062" stop-color="#1d199d"/><stop offset="0.9107" stop-color="#1d189d"/><stop offset="0.9152" stop-color="#1d189c"/><stop offset="0.9196" stop-color="#1c189b"/><stop offset="0.9241" stop-color="#1c189a"/><stop offset="0.9286" stop-color="#1c1899"/><stop offset="0.9330" stop-color="#1c1899"/><stop offset="0.9375" stop-color="#1c1798"/><stop offset="0.9420" stop-color="#1c1797"/><stop offset="0.9464" stop-color="#1c1796"/><stop offset="0.9509" stop-color="#1c1795"/><stop offset="0.9554" stop-color="#1c1794"/><stop offset="0.9598" stop-color="#1b1693"/><stop offset="0.9643" stop-color="#1b1692"/><stop offset="0.9688" stop-color="#1b1690"/><stop offset="0.9732" stop-color="#1b168f"/><stop offset="0.9777" stop-color="#1b158e"/><stop offset="0.9821" stop-color="#1b158d"/><stop offset="0.9866" stop-color="#1a158c"/><stop offset="0.9911" stop-color="#1a158a"/><stop offset="0.9955" stop-color="#1a1489"/><stop offset="1.0000" stop-color="#1a1488"/></radialGradient>
<clipPath id="clip_e"><rect x="414.20" y="403.70" width="333.00" height="335.90"/></clipPath>
<radialGradient id="g_f" gradientUnits="userSpaceOnUse" cx="956.20" cy="571.70" r="162.00"><stop offset="0.0000" stop-color="#890000"/><stop offset="0.0046" stop-color="#8a0000"/><stop offset="0.0093" stop-color="#8a0000"/><stop offset="0.0139" stop-color="#8b0000"/><stop offset="0.0185" stop-color="#8b0000"/><stop offset="0.0231" stop-color="#8c0000"/><stop offset="0.0278" stop-color="#8d0000"/><stop offset="0.0324" stop-color="#8d0000"/><stop offset="0.0370" stop-color="#8e0000"/><stop offset="0.0417" stop-color="#8e0000"/><stop offset="0.0463" stop-color="#8f0000"/><stop offset="0.0509" stop-color="#900000"/><stop offset="0.0556" stop-color="#900000"/><stop offset="0.0602" stop-color="#910000"/><stop offset="0.0648" stop-color="#920000"/><stop offset="0.0694" stop-color="#920000"/><stop offset="0.0741" stop-color="#930000"/><stop offset="0.0787" stop-color="#930000"/><stop offset="0.0833" stop-color="#940000"/><stop offset="0.0880" stop-color="#950000"/><stop offset="0.0926" stop-color="#950000"/><stop offset="0.0972" stop-color="#960000"/><stop offset="0.1019" stop-color="#960000"/><stop offset="0.1065" stop-color="#970000"/><stop offset="0.1111" stop-color="#980000"/><stop offset="0.1157" stop-color="#980000"/><stop offset="0.1204" stop-color="#990000"/><stop offset="0.1250" stop-color="#990000"/><stop offset="0.1296" stop-color="#9a0000"/><stop offset="0.1343" stop-color="#9b0000"/><stop offset="0.1389" stop-color="#9b0000"/><stop offset="0.1435" stop-color="#9c0000"/><stop offset="0.1481" stop-color="#9c0000"/><stop offset="0.1528" stop-color="#9d0000"/><stop offset="0.1574" stop-color="#9e0000"/><stop offset="0.1620" stop-color="#9e0000"/><stop offset="0.1667" stop-color="#9f0000"/><stop offset="0.1713" stop-color="#9f0000"/><stop offset="0.1759" stop-color="#a00000"/><stop offset="0.1806" stop-color="#a10000"/><stop offset="0.1852" stop-color="#a10000"/><stop offset="0.1898" stop-color="#a40000"/><stop offset="0.1944" stop-color="#c10000"/><stop offset="0.1991" stop-color="#db0700"/><stop offset="0.2037" stop-color="#f20e00"/><stop offset="0.2083" stop-color="#f71f00"/><stop offset="0.2130" stop-color="#fa3400"/><stop offset="0.2176" stop-color="#fc4900"/><stop offset="0.2222" stop-color="#ff5e00"/><stop offset="0.2269" stop-color="#ff7500"/><stop offset="0.2315" stop-color="#ff8d00"/><stop offset="0.2361" stop-color="#ffa400"/><stop offset="0.2407" stop-color="#fcb200"/><stop offset="0.2454" stop-color="#f7bc00"/><stop offset="0.2500" stop-color="#f2c500"/><stop offset="0.2546" stop-color="#eecf00"/><stop offset="0.2593" stop-color="#e9d800"/><stop offset="0.2639" stop-color="#e4e100"/><stop offset="0.2685" stop-color="#dbe300"/><stop offset="0.2731" stop-color="#d2e400"/><stop offset="0.2778" stop-color="#c8e600"/><stop offset="0.2824" stop-color="#bfe700"/><stop offset="0.2870" stop-color="#b5e800"/><stop offset="0.2917" stop-color="#ace900"/><stop offset="0.2963" stop-color="#a2ea00"/><stop offset="0.3009" stop-color="#99ec00"/><stop offset="0.3056" stop-color="#8dec03"/><stop offset="0.3102" stop-color="#7ced0a"/><stop offset="0.3148" stop-color="#6bed10"/><stop offset="0.3194" stop-color="#5aed16"/><stop offset="0.3241" stop-color="#49ee1d"/><stop offset="0.3287" stop-color="#3cee2a"/><stop offset="0.3333" stop-color="#2fed3a"/><stop offset="0.3380" stop-color="#22ed49"/><stop offset="0.3426" stop-color="#16ed59"/><stop offset="0.3472" stop-color="#04ec6e"/><stop offset="0.3519" stop-color="#00ec7d"/><stop offset="0.3565" stop-color="#00eb8a"/><stop offset="0.3611" stop-color="#00eb97"/><stop offset="0.3657" stop-color="#00eba4"/><stop offset="0.3704" stop-color="#00ebb1"/><stop offset="0.3750" stop-color="#00eabe"/><stop offset="0.3796" stop-color="#00eac9"/><stop offset="0.3843" stop-color="#00e9cd"/><stop offset="0.3889" stop-color="#00e8d1"/><stop offset="0.3935" stop-color="#00e7d5"/><stop offset="0.3981" stop-color="#00e6d9"/><stop offset="0.4028" stop-color="#00e5dc"/><stop offset="0.4074" stop-color="#00e4e0"/><stop offset="0.4120" stop-color="#00e2e4"/><stop offset="0.4167" stop-color="#00e1e8"/><stop offset="0.4213" stop-color="#00e0ec"/><stop offset="0.4259" stop-color="#00dff0"/><stop offset="0.4306" stop-color="#00def4"/><stop offset="0.4352" stop-color="#00dcf5"/><stop offset="0.4398" stop-color="#00d8f5"/><stop offset="0.4444" stop-color="#00d4f5"/><stop offset="0.4491" stop-color="#00d1f5"/><stop offset="0.4537" stop-color="#00cdf5"/><stop offset="0.4583" stop-color="#00caf5"/><stop offset="0.4630" stop-color="#00c6f5"/><stop offset="0.4676" stop-color="#00c2f5"/><stop offset="0.4722" stop-color="#00bff5"/><stop offset="0.4769" stop-color="#00bbf6"/><stop offset="0.4815" stop-color="#00b8f6"/><stop offset="0.4861" stop-color="#00b4f6"/><stop offset="0.4907" stop-color="#00b1f6"/><stop offset="0.4954" stop-color="#00adf6"/><stop offset="0.5000" stop-color="#00a9f6"/><stop offset="0.5046" stop-color="#00a6f6"/><stop offset="0.5093" stop-color="#00a2f6"/><stop offset="0.5139" stop-color="#009ff6"/><stop offset="0.5185" stop-color="#009bf6"/><stop offset="0.5231" stop-color="#0296f6"/><stop offset="0.5278" stop-color="#0392f5"/><stop offset="0.5324" stop-color="#058ef5"/><stop offset="0.5370" stop-color="#0789f4"/><stop offset="0.5417" stop-color="#0885f4"/><stop offset="0.5463" stop-color="#0a80f3"/><stop offset="0.5509" stop-color="#0c7cf3"/><stop offset="0.5556" stop-color="#0d77f2"/><stop offset="0.5602" stop-color="#0f72f2"/><stop offset="0.5648" stop-color="#106ef2"/><stop offset="0.5694" stop-color="#1269f1"/><stop offset="0.5741" stop-color="#1465f1"/><stop offset="0.5787" stop-color="#1560f0"/><stop offset="0.5833" stop-color="#175df0"/><stop offset="0.5880" stop-color="#185aef"/><stop offset="0.5926" stop-color="#1957ee"/><stop offset="0.5972" stop-color="#1a54ee"/><stop offset="0.6019" stop-color="#1b52ed"/><stop offset="0.6065" stop-color="#1d4fec"/><stop offset="0.6111" stop-color="#1e4cec"/><stop offset="0.6157" stop-color="#1f49eb"/><stop offset="0.6204" stop-color="#2046ea"/><stop offset="0.6250" stop-color="#2143ea"/><stop offset="0.6296" stop-color="#2240e9"/><stop offset="0.6343" stop-color="#243de8"/><stop offset="0.6389" stop-color="#253ae8"/><stop offset="0.6435" stop-color="#2638e7"/><stop offset="0.6481" stop-color="#2637e7"/><stop offset="0.6528" stop-color="#2735e7"/><stop offset="0.6574" stop-color="#2734e6"/><stop offset="0.6620" stop-color="#2833e6"/><stop offset="0.6667" stop-color="#2832e5"/><stop offset="0.6713" stop-color="#2831e4"/><stop offset="0.6759" stop-color="#2730e2"/><stop offset="0.6806" stop-color="#2730e1"/><stop offset="0.6852" stop-color="#272fe0"/><stop offset="0.6898" stop-color="#272fde"/><stop offset="0.6944" stop-color="#262edd"/><stop offset="0.6991" stop-color="#262edb"/><stop offset="0.7037" stop-color="#262dda"/><stop offset="0.7083" stop-color="#262cd8"/><stop offset="0.7130" stop-color="#252cd7"/><stop offset="0.7176" stop-color="#252bd6"/><stop offset="0.7222" stop-color="#252bd4"/><stop offset="0.7269" stop-color="#252ad3"/><stop offset="0.7315" stop-color="#2529d1"/><stop offset="0.7361" stop-color="#2429d0"/><stop offset="0.7407" stop-color="#2428ce"/><stop offset="0.7454" stop-color="#2428cd"/><stop offset="0.7500" stop-color="#2427cc"/><stop offset="0.7546" stop-color="#2326ca"/><stop offset="0.7593" stop-color="#2326c9"/><stop offset="0.7639" stop-color="#2325c7"/><stop offset="0.7685" stop-color="#2325c6"/><stop offset="0.7731" stop-color="#2224c4"/><stop offset="0.7778" stop-color="#2223c3"/><stop offset="0.7824" stop-color="#2223c2"/><stop offset="0.7870" stop-color="#2222c0"/><stop offset="0.7917" stop-color="#2122bf"/><stop offset="0.7963" stop-color="#2121bd"/><stop offset="0.8009" stop-color="#2120bc"/><stop offset="0.8056" stop-color="#2120ba"/><stop offset="0.8102" stop-color="#201fb9"/><stop offset="0.8148" stop-color="#201fb7"/><stop offset="0.8194" stop-color="#201eb6"/><stop offset="0.8241" stop-color="#201eb5"/><stop offset="0.8287" stop-color="#201db3"/><stop offset="0.8333" stop-color="#1f1db2"/><stop offset="0.8380" stop-color="#1f1db1"/><stop offset="0.8426" stop-color="#1f1daf"/><stop offset="0.8472" stop-color="#1f1cae"/><stop offset="0.8519" stop-color="#1f1cad"/><stop offset="0.8565" stop-color="#1f1cac"/><stop offset="0.8611" stop-color="#1e1baa"/><stop offset="0.8657" stop-color="#1e1ba9"/><stop offset="0.8704" stop-color="#1e1ba8"/><stop offset="0.8750" stop-color="#1e1ba6"/><stop offset="0.8796" stop-color="#1e1aa5"/><stop offset="0.8843" stop-color="#1e1aa4"/><stop offset="0.8889" stop-color="#1d1aa2"/><stop offset="0.8935" stop-color="#1d19a1"/><stop offset="0.8981" stop-color="#1d19a0"/><stop offset="0.9028" stop-color="#1d199f"/><stop offset="0.9074" stop-color="#1d199e"/><stop offset="0.9120" stop-color="#1d189c"/><stop offset="0.9167" stop-color="#1d189b"/><stop offset="0.9213" stop-color="#1c189a"/><stop offset="0.9259" stop-color="#1c1899"/><stop offset="0.9306" stop-color="#1c1898"/><stop offset="0.9352" stop-color="#1c1797"/><stop offset="0.9398" stop-color="#1c1796"/><stop offset="0.9444" stop-color="#1c1795"/><stop offset="0.9491" stop-color="#1c1794"/><stop offset="0.9537" stop-color="#1b1693"/><stop offset="0.9583" stop-color="#1b1692"/><stop offset="0.9630" stop-color="#1b1691"/><stop offset="0.9676" stop-color="#1b1690"/><stop offset="0.9722" stop-color="#1b158e"/><stop offset="0.9769" stop-color="#1b158d"/><stop offset="0.9815" stop-color="#1b158c"/><stop offset="0.9861" stop-color="#1a158b"/><stop offset="0.9907" stop-color="#1a148a"/><stop offset="0.9954" stop-color="#1a1489"/><stop offset="1.0000" stop-color="#1a1488"/></radialGradient>
<clipPath id="clip_f"><rect x="790.20" y="403.20" width="332.60" height="336.00"/></clipPath>
<linearGradient id="cb1" x1="0" y1="0" x2="0" y2="1"><stop offset="0.0000" stop-color="#890000"/><stop offset="0.0167" stop-color="#970000"/><stop offset="0.0333" stop-color="#a50000"/><stop offset="0.0500" stop-color="#b20000"/><stop offset="0.0667" stop-color="#c00000"/><stop offset="0.0833" stop-color="#cd0300"/><stop offset="0.1000" stop-color="#d80600"/><stop offset="0.1167" stop-color="#e40a00"/><stop offset="0.1333" stop-color="#f00e00"/><stop offset="0.1500" stop-color="#f61900"/><stop offset="0.1667" stop-color="#f82a00"/><stop offset="0.1833" stop-color="#fa3a00"/><stop offset="0.2000" stop-color="#fc4b00"/><stop offset="0.2167" stop-color="#ff5c00"/><stop offset="0.2333" stop-color="#ff6e00"/><stop offset="0.2500" stop-color="#ff8000"/><stop offset="0.2667" stop-color="#ff9200"/><stop offset="0.2833" stop-color="#ffa500"/><stop offset="0.3000" stop-color="#fbb400"/><stop offset="0.3167" stop-color="#f5c100"/><stop offset="0.3333" stop-color="#eecd00"/><stop offset="0.3500" stop-color="#e8da00"/><stop offset="0.3667" stop-color="#dce300"/><stop offset="0.3833" stop-color="#c8e600"/><stop offset="0.4000" stop-color="#b4e800"/><stop offset="0.4167" stop-color="#a0eb00"/><stop offset="0.4333" stop-color="#80ed08"/><stop offset="0.4500" stop-color="#53ee19"/><stop offset="0.4667" stop-color="#2fed3a"/><stop offset="0.4833" stop-color="#0dec63"/><stop offset="0.5000" stop-color="#00ec81"/><stop offset="0.5167" stop-color="#00eb99"/><stop offset="0.5333" stop-color="#00ebb0"/><stop offset="0.5500" stop-color="#00eac8"/><stop offset="0.5667" stop-color="#00e7d3"/><stop offset="0.5833" stop-color="#00e4dd"/><stop offset="0.6000" stop-color="#00e1e8"/><stop offset="0.6167" stop-color="#00dff3"/><stop offset="0.6333" stop-color="#00d3f5"/><stop offset="0.6500" stop-color="#00c5f5"/><stop offset="0.6667" stop-color="#00b7f6"/><stop offset="0.6833" stop-color="#00a9f6"/><stop offset="0.7000" stop-color="#009bf6"/><stop offset="0.7167" stop-color="#058ef5"/><stop offset="0.7333" stop-color="#0982f4"/><stop offset="0.7500" stop-color="#0e76f2"/><stop offset="0.7667" stop-color="#1269f1"/><stop offset="0.7833" stop-color="#175df0"/><stop offset="0.8000" stop-color="#1b52ed"/><stop offset="0.8167" stop-color="#1f47eb"/><stop offset="0.8333" stop-color="#243de8"/><stop offset="0.8500" stop-color="#2832e6"/><stop offset="0.8667" stop-color="#262ddb"/><stop offset="0.8833" stop-color="#2428cf"/><stop offset="0.9000" stop-color="#2224c4"/><stop offset="0.9167" stop-color="#201fb8"/><stop offset="0.9333" stop-color="#1f1cae"/><stop offset="0.9500" stop-color="#1e1aa5"/><stop offset="0.9667" stop-color="#1c189b"/><stop offset="0.9833" stop-color="#1b1692"/><stop offset="1.0000" stop-color="#1a1488"/></linearGradient>
<linearGradient id="cb2" x1="0" y1="0" x2="0" y2="1"><stop offset="0.0000" stop-color="#890000"/><stop offset="0.0167" stop-color="#970000"/><stop offset="0.0333" stop-color="#a50000"/><stop offset="0.0500" stop-color="#b20000"/><stop offset="0.0667" stop-color="#c00000"/><stop offset="0.0833" stop-color="#cd0300"/><stop offset="0.1000" stop-color="#d80600"/><stop offset="0.1167" stop-color="#e40a00"/><stop offset="0.1333" stop-color="#f00e00"/><stop offset="0.1500" stop-color="#f61900"/><stop offset="0.1667" stop-color="#f82a00"/><stop offset="0.1833" stop-color="#fa3a00"/><stop offset="0.2000" stop-color="#fc4b00"/><stop offset="0.2167" stop-color="#ff5c00"/><stop offset="0.2333" stop-color="#ff6e00"/><stop offset="0.2500" stop-color="#ff8000"/><stop offset="0.2667" stop-color="#ff9200"/><stop offset="0.2833" stop-color="#ffa500"/><stop offset="0.3000" stop-color="#fbb400"/><stop offset="0.3167" stop-color="#f5c100"/><stop offset="0.3333" stop-color="#eecd00"/><stop offset="0.3500" stop-color="#e8da00"/><stop offset="0.3667" stop-color="#dce300"/><stop offset="0.3833" stop-color="#c8e600"/><stop offset="0.4000" stop-color="#b4e800"/><stop offset="0.4167" stop-color="#a0eb00"/><stop offset="0.4333" stop-color="#80ed08"/><stop offset="0.4500" stop-color="#53ee19"/><stop offset="0.4667" stop-color="#2fed3a"/><stop offset="0.4833" stop-color="#0dec63"/><stop offset="0.5000" stop-color="#00ec81"/><stop offset="0.5167" stop-color="#00eb99"/><stop offset="0.5333" stop-color="#00ebb0"/><stop offset="0.5500" stop-color="#00eac8"/><stop offset="0.5667" stop-color="#00e7d3"/><stop offset="0.5833" stop-color="#00e4dd"/><stop offset="0.6000" stop-color="#00e1e8"/><stop offset="0.6167" stop-color="#00dff3"/><stop offset="0.6333" stop-color="#00d3f5"/><stop offset="0.6500" stop-color="#00c5f5"/><stop offset="0.6667" stop-color="#00b7f6"/><stop offset="0.6833" stop-color="#00a9f6"/><stop offset="0.7000" stop-color="#009bf6"/><stop offset="0.7167" stop-color="#058ef5"/><stop offset="0.7333" stop-color="#0982f4"/><stop offset="0.7500" stop-color="#0e76f2"/><stop offset="0.7667" stop-color="#1269f1"/><stop offset="0.7833" stop-color="#175df0"/><stop offset="0.8000" stop-color="#1b52ed"/><stop offset="0.8167" stop-color="#1f47eb"/><stop offset="0.8333" stop-color="#243de8"/><stop offset="0.8500" stop-color="#2832e6"/><stop offset="0.8667" stop-color="#262ddb"/><stop offset="0.8833" stop-color="#2428cf"/><stop offset="0.9000" stop-color="#2224c4"/><stop offset="0.9167" stop-color="#201fb8"/><stop offset="0.9333" stop-color="#1f1cae"/><stop offset="0.9500" stop-color="#1e1aa5"/><stop offset="0.9667" stop-color="#1c189b"/><stop offset="0.9833" stop-color="#1b1692"/><stop offset="1.0000" stop-color="#1a1488"/></linearGradient>
<radialGradient id="bred" cx="0.38" cy="0.32" r="0.7"><stop offset="0" stop-color="#ffd0d5"/><stop offset="0.35" stop-color="#e8566a"/><stop offset="1" stop-color="#a8182c"/></radialGradient>
<radialGradient id="bblue" cx="0.38" cy="0.32" r="0.7"><stop offset="0" stop-color="#d8f4ff"/><stop offset="0.35" stop-color="#2bb6ea"/><stop offset="1" stop-color="#0a6fa8"/></radialGradient>
<radialGradient id="gC" cx="0.36" cy="0.32" r="0.75"><stop offset="0" stop-color="#8a8a8a"/><stop offset="0.3" stop-color="#2a2a2a"/><stop offset="1" stop-color="#050505"/></radialGradient>
<radialGradient id="gCg" cx="0.36" cy="0.32" r="0.75"><stop offset="0" stop-color="#9a9a9a"/><stop offset="0.3" stop-color="#404040"/><stop offset="1" stop-color="#151515"/></radialGradient>
<radialGradient id="gO" cx="0.38" cy="0.32" r="0.75"><stop offset="0" stop-color="#ff9a9a"/><stop offset="0.3" stop-color="#f21010"/><stop offset="1" stop-color="#a00000"/></radialGradient>
<radialGradient id="gH" cx="0.38" cy="0.32" r="0.75"><stop offset="0" stop-color="#ffffff"/><stop offset="0.45" stop-color="#e6e6e6"/><stop offset="1" stop-color="#747474"/></radialGradient>
<filter id="poreL" x="0" y="0" width="100%" height="100%" color-interpolation-filters="sRGB"><feTurbulence type="fractalNoise" baseFrequency="0.085" numOctaves="2" seed="4" result="n"/><feColorMatrix in="n" type="matrix" values="0 0 0 0 0.42  0 0 0 0 0.30  0 0 0 0 0.02  3.20 0 0 0 -1.55" result="c"/><feComposite in="c" in2="SourceAlpha" operator="in"/></filter>
<filter id="poreM" x="0" y="0" width="100%" height="100%" color-interpolation-filters="sRGB"><feTurbulence type="fractalNoise" baseFrequency="0.100" numOctaves="2" seed="7" result="n"/><feColorMatrix in="n" type="matrix" values="0 0 0 0 0.32  0 0 0 0 0.34  0 0 0 0 0.08  3.20 0 0 0 -1.55" result="c"/><feComposite in="c" in2="SourceAlpha" operator="in"/></filter>
<filter id="poreS" x="0" y="0" width="100%" height="100%" color-interpolation-filters="sRGB"><feTurbulence type="fractalNoise" baseFrequency="0.120" numOctaves="2" seed="9" result="n"/><feColorMatrix in="n" type="matrix" values="0 0 0 0 0.14  0 0 0 0 0.34  0 0 0 0 0.08  3.20 0 0 0 -1.55" result="c"/><feComposite in="c" in2="SourceAlpha" operator="in"/></filter>
<filter id="hiL" x="0" y="0" width="100%" height="100%" color-interpolation-filters="sRGB"><feTurbulence type="fractalNoise" baseFrequency="0.085" numOctaves="2" seed="11" result="n"/><feColorMatrix in="n" type="matrix" values="0 0 0 0 1.0  0 0 0 0 0.85  0 0 0 0 0.45  3.00 0 0 0 -1.60" result="c"/><feComposite in="c" in2="SourceAlpha" operator="in"/></filter>
<filter id="hiM" x="0" y="0" width="100%" height="100%" color-interpolation-filters="sRGB"><feTurbulence type="fractalNoise" baseFrequency="0.100" numOctaves="2" seed="13" result="n"/><feColorMatrix in="n" type="matrix" values="0 0 0 0 0.85  0 0 0 0 0.88  0 0 0 0 0.55  3.00 0 0 0 -1.60" result="c"/><feComposite in="c" in2="SourceAlpha" operator="in"/></filter>
<filter id="hiS" x="0" y="0" width="100%" height="100%" color-interpolation-filters="sRGB"><feTurbulence type="fractalNoise" baseFrequency="0.120" numOctaves="2" seed="15" result="n"/><feColorMatrix in="n" type="matrix" values="0 0 0 0 0.75  0 0 0 0 0.92  0 0 0 0 0.60  3.00 0 0 0 -1.60" result="c"/><feComposite in="c" in2="SourceAlpha" operator="in"/></filter>
<filter id="blur2" x="-50%" y="-50%" width="200%" height="200%"><feGaussianBlur stdDeviation="2"/></filter>
<filter id="blur1" x="-50%" y="-50%" width="200%" height="200%"><feGaussianBlur stdDeviation="1"/></filter>
<filter id="blur4" x="-50%" y="-50%" width="200%" height="200%"><feGaussianBlur stdDeviation="4"/></filter>
<radialGradient id="sgL" gradientUnits="userSpaceOnUse" cx="252.00" cy="1336.50" r="158.03" fx="214.38" fy="1291.35"><stop offset="0" stop-color="#e8b43a"/><stop offset="0.55" stop-color="#d6a024"/><stop offset="0.85" stop-color="#bc8a1c"/><stop offset="1" stop-color="#987012"/></radialGradient>
<filter id="bumpL" x="0" y="0" width="100%" height="100%" color-interpolation-filters="sRGB"><feTurbulence type="fractalNoise" baseFrequency="0.110" numOctaves="2" seed="4" result="n"/><feComponentTransfer in="n" result="h"><feFuncA type="table" tableValues="0 0.1 0.5 0.9 1"/></feComponentTransfer><feDiffuseLighting in="h" surfaceScale="3" diffuseConstant="1.15" lighting-color="#fff" result="lt"><feDistantLight azimuth="235" elevation="45"/></feDiffuseLighting><feComposite in="SourceGraphic" in2="lt" operator="arithmetic" k1="0.5" k2="0.62" k3="0" k4="0" result="m"/><feTurbulence type="fractalNoise" baseFrequency="0.100" numOctaves="2" seed="9" result="n2"/><feColorMatrix in="n2" type="matrix" values="0 0 0 0 0.35  0 0 0 0 0.28  0 0 0 0 0.04  -8 0 0 0 2.7" result="p"/><feGaussianBlur in="p" stdDeviation="0.6" result="pb"/><feComposite in="pb" in2="m" operator="over" result="mp"/><feComposite in="mp" in2="SourceAlpha" operator="in"/></filter>
<filter id="roughL" x="-5%" y="-5%" width="110%" height="110%"><feTurbulence type="fractalNoise" baseFrequency="0.12" numOctaves="2" seed="2" result="t"/><feDisplacementMap in="SourceGraphic" in2="t" scale="5.0" xChannelSelector="R" yChannelSelector="G" result="d"/><feGaussianBlur in="d" stdDeviation="0.45"/></filter>
<radialGradient id="hgL" cx="0.5" cy="0.55" r="0.55"><stop offset="0" stop-color="#4e4016"/><stop offset="0.8" stop-color="#4e4016"/><stop offset="1" stop-color="#3a2e0e"/></radialGradient>
<filter id="grainL" x="0" y="0" width="100%" height="100%" color-interpolation-filters="sRGB"><feTurbulence type="fractalNoise" baseFrequency="0.6" numOctaves="1" seed="3" result="g"/><feColorMatrix in="g" type="matrix" values="0 0 0 0 0  0 0 0 0 0  0 0 0 0 0  0 0 0 -0.9 0.5" result="ga"/><feComposite in="ga" in2="SourceGraphic" operator="in" result="gi"/><feComposite in="gi" in2="SourceGraphic" operator="over"/></filter>
<radialGradient id="sgM" gradientUnits="userSpaceOnUse" cx="632.30" cy="1333.80" r="109.20" fx="606.30" fy="1302.60"><stop offset="0" stop-color="#c6c888"/><stop offset="0.55" stop-color="#acb068"/><stop offset="0.85" stop-color="#8e9250"/><stop offset="1" stop-color="#6e7236"/></radialGradient>
<filter id="bumpM" x="0" y="0" width="100%" height="100%" color-interpolation-filters="sRGB"><feTurbulence type="fractalNoise" baseFrequency="0.130" numOctaves="2" seed="4" result="n"/><feComponentTransfer in="n" result="h"><feFuncA type="table" tableValues="0 0.1 0.5 0.9 1"/></feComponentTransfer><feDiffuseLighting in="h" surfaceScale="3" diffuseConstant="1.15" lighting-color="#fff" result="lt"><feDistantLight azimuth="235" elevation="45"/></feDiffuseLighting><feComposite in="SourceGraphic" in2="lt" operator="arithmetic" k1="0.5" k2="0.62" k3="0" k4="0" result="m"/><feTurbulence type="fractalNoise" baseFrequency="0.120" numOctaves="2" seed="9" result="n2"/><feColorMatrix in="n2" type="matrix" values="0 0 0 0 0.30  0 0 0 0 0.32  0 0 0 0 0.08  -8 0 0 0 2.7" result="p"/><feGaussianBlur in="p" stdDeviation="0.6" result="pb"/><feComposite in="pb" in2="m" operator="over" result="mp"/><feComposite in="mp" in2="SourceAlpha" operator="in"/></filter>
<filter id="roughM" x="-5%" y="-5%" width="110%" height="110%"><feTurbulence type="fractalNoise" baseFrequency="0.12" numOctaves="2" seed="2" result="t"/><feDisplacementMap in="SourceGraphic" in2="t" scale="4.0" xChannelSelector="R" yChannelSelector="G" result="d"/><feGaussianBlur in="d" stdDeviation="0.45"/></filter>
<radialGradient id="hgM" cx="0.5" cy="0.55" r="0.55"><stop offset="0" stop-color="#3c4418"/><stop offset="0.8" stop-color="#3c4418"/><stop offset="1" stop-color="#262c0c"/></radialGradient>
<filter id="grainM" x="0" y="0" width="100%" height="100%" color-interpolation-filters="sRGB"><feTurbulence type="fractalNoise" baseFrequency="0.6" numOctaves="1" seed="3" result="g"/><feColorMatrix in="g" type="matrix" values="0 0 0 0 0  0 0 0 0 0  0 0 0 0 0  0 0 0 -0.9 0.5" result="ga"/><feComposite in="ga" in2="SourceGraphic" operator="in" result="gi"/><feComposite in="gi" in2="SourceGraphic" operator="over"/></filter>
<radialGradient id="sgS" gradientUnits="userSpaceOnUse" cx="987.00" cy="1334.70" r="78.75" fx="968.25" fy="1312.20"><stop offset="0" stop-color="#a0d084"/><stop offset="0.55" stop-color="#82b464"/><stop offset="0.85" stop-color="#6a9a4c"/><stop offset="1" stop-color="#507a36"/></radialGradient>
<filter id="bumpS" x="0" y="0" width="100%" height="100%" color-interpolation-filters="sRGB"><feTurbulence type="fractalNoise" baseFrequency="0.150" numOctaves="2" seed="4" result="n"/><feComponentTransfer in="n" result="h"><feFuncA type="table" tableValues="0 0.1 0.5 0.9 1"/></feComponentTransfer><feDiffuseLighting in="h" surfaceScale="3" diffuseConstant="1.15" lighting-color="#fff" result="lt"><feDistantLight azimuth="235" elevation="45"/></feDiffuseLighting><feComposite in="SourceGraphic" in2="lt" operator="arithmetic" k1="0.5" k2="0.62" k3="0" k4="0" result="m"/><feTurbulence type="fractalNoise" baseFrequency="0.150" numOctaves="2" seed="9" result="n2"/><feColorMatrix in="n2" type="matrix" values="0 0 0 0 0.12  0 0 0 0 0.32  0 0 0 0 0.06  -8 0 0 0 2.7" result="p"/><feGaussianBlur in="p" stdDeviation="0.6" result="pb"/><feComposite in="pb" in2="m" operator="over" result="mp"/><feComposite in="mp" in2="SourceAlpha" operator="in"/></filter>
<filter id="roughS" x="-5%" y="-5%" width="110%" height="110%"><feTurbulence type="fractalNoise" baseFrequency="0.12" numOctaves="2" seed="2" result="t"/><feDisplacementMap in="SourceGraphic" in2="t" scale="3.5" xChannelSelector="R" yChannelSelector="G" result="d"/><feGaussianBlur in="d" stdDeviation="0.45"/></filter>
<radialGradient id="hgS" cx="0.5" cy="0.55" r="0.55"><stop offset="0" stop-color="#2e5220"/><stop offset="0.8" stop-color="#2e5220"/><stop offset="1" stop-color="#1a3412"/></radialGradient>
<filter id="grainS" x="0" y="0" width="100%" height="100%" color-interpolation-filters="sRGB"><feTurbulence type="fractalNoise" baseFrequency="0.6" numOctaves="1" seed="3" result="g"/><feColorMatrix in="g" type="matrix" values="0 0 0 0 0  0 0 0 0 0  0 0 0 0 0  0 0 0 -0.9 0.5" result="ga"/><feComposite in="ga" in2="SourceGraphic" operator="in" result="gi"/><feComposite in="gi" in2="SourceGraphic" operator="over"/></filter>
<linearGradient id="agL" gradientUnits="userSpaceOnUse" x1="178.50" y1="0" x2="274.80" y2="0"><stop offset="0.12" stop-color="#12b25a"/><stop offset="0.9" stop-color="#1872c0"/></linearGradient>
<linearGradient id="agM" gradientUnits="userSpaceOnUse" x1="594.00" y1="0" x2="689.40" y2="0"><stop offset="0.12" stop-color="#12b25a"/><stop offset="0.9" stop-color="#f5862a"/></linearGradient>
<linearGradient id="agS" gradientUnits="userSpaceOnUse" x1="944.40" y1="0" x2="1040.40" y2="0"><stop offset="0.12" stop-color="#12b25a"/><stop offset="0.9" stop-color="#18b4ea"/></linearGradient></defs>
<rect x="38.30" y="34.30" width="333.00" height="336.20" fill="url(#g_a)"/>
<rect x="38.80" y="34.80" width="332.00" height="335.20" fill="none" stroke="#000" stroke-opacity="0.28" stroke-width="1"/>
<circle cx="205.30" cy="202.80" r="53.80" fill="none" stroke="#fff" stroke-width="2"/>
<circle cx="205.30" cy="202.80" r="116.40" fill="none" stroke="#fff" stroke-width="2"/>
<polygon points="205.00,181.70 226.49,197.32 218.28,222.58 191.72,222.58 183.51,197.32" fill="none" stroke="#fff" stroke-width="1.8" stroke-linejoin="miter"/>
<rect x="413.20" y="35.20" width="334.60" height="335.00" fill="url(#g_b)"/>
<rect x="413.70" y="35.70" width="333.60" height="334.00" fill="none" stroke="#000" stroke-opacity="0.28" stroke-width="1"/>
<polygon points="580.40,182.70 601.80,198.25 593.63,223.40 567.17,223.40 559.00,198.25" fill="#00befa"/>
<circle cx="580.30" cy="203.20" r="42.60" fill="none" stroke="#fff" stroke-width="2"/>
<circle cx="580.30" cy="203.20" r="79.60" fill="none" stroke="#fff" stroke-width="2"/>
<polygon points="580.40,182.70 601.80,198.25 593.63,223.40 567.17,223.40 559.00,198.25" fill="none" stroke="#fff" stroke-width="1.8" stroke-linejoin="miter"/>
<rect x="788.50" y="35.20" width="334.50" height="334.80" fill="url(#g_c)"/>
<rect x="789.00" y="35.70" width="333.50" height="333.80" fill="none" stroke="#000" stroke-opacity="0.28" stroke-width="1"/>
<polygon points="956.00,182.20 977.49,197.82 969.28,223.08 942.72,223.08 934.51,197.82" fill="#00f58c"/>
<circle cx="956.00" cy="203.60" r="32.30" fill="none" stroke="#fff" stroke-width="2"/>
<circle cx="956.00" cy="203.60" r="57.70" fill="none" stroke="#fff" stroke-width="2"/>
<polygon points="956.00,182.20 977.49,197.82 969.28,223.08 942.72,223.08 934.51,197.82" fill="none" stroke="#fff" stroke-width="1.8" stroke-linejoin="miter"/>
<g clip-path="url(#clip_d)">
<rect x="37.60" y="402.30" width="333.60" height="336.40" fill="#1a1488"/>
<g filter="url(#bandblur)">
<polygon points="410.0,571.4 409.1,619.0 406.6,646.7 402.3,669.4 396.2,688.9 388.5,706.0 379.0,721.0 367.7,734.1 354.6,745.4 339.6,754.9 322.5,762.6 303.0,768.7 280.3,773.0 252.6,775.5 205.0,776.4 157.4,775.5 129.7,773.0 107.0,768.7 87.5,762.6 70.4,754.9 55.4,745.4 42.3,734.1 31.0,721.0 21.5,706.0 13.8,688.9 7.7,669.4 3.4,646.7 0.9,619.0 0.0,571.4 0.9,523.8 3.4,496.1 7.7,473.4 13.8,453.9 21.5,436.8 31.0,421.8 42.3,408.7 55.4,397.4 70.4,387.9 87.5,380.2 107.0,374.1 129.7,369.8 157.4,367.3 205.0,366.4 252.6,367.3 280.3,369.8 303.0,374.1 322.5,380.2 339.6,387.9 354.6,397.4 367.7,408.7 379.0,421.8 388.5,436.8 396.2,453.9 402.3,473.4 406.6,496.1 409.1,523.8" fill="#1a1488"/>
<polygon points="407.5,571.4 406.7,618.4 404.1,645.8 399.9,668.2 393.9,687.5 386.2,704.4 376.9,719.2 365.7,732.1 352.8,743.3 338.0,752.6 321.1,760.3 301.8,766.3 279.4,770.5 252.0,773.1 205.0,773.9 158.0,773.1 130.6,770.5 108.2,766.3 88.9,760.3 72.0,752.6 57.2,743.3 44.3,732.1 33.1,719.2 23.8,704.4 16.1,687.5 10.1,668.2 5.9,645.8 3.3,618.4 2.5,571.4 3.3,524.4 5.9,497.0 10.1,474.6 16.1,455.3 23.8,438.4 33.1,423.6 44.3,410.7 57.2,399.5 72.0,390.2 88.9,382.5 108.2,376.5 130.6,372.3 158.0,369.7 205.0,368.9 252.0,369.7 279.4,372.3 301.8,376.5 321.1,382.5 338.0,390.2 352.8,399.5 365.7,410.7 376.9,423.6 386.2,438.4 393.9,455.3 399.9,474.6 404.1,497.0 406.7,524.4" fill="#1a1488"/>
<polygon points="405.0,571.4 404.2,617.9 401.6,644.8 397.4,667.0 391.6,686.0 384.0,702.7 374.7,717.4 363.7,730.1 351.0,741.1 336.3,750.4 319.6,758.0 300.6,763.8 278.4,768.0 251.5,770.6 205.0,771.4 158.5,770.6 131.6,768.0 109.4,763.8 90.4,758.0 73.7,750.4 59.0,741.1 46.3,730.1 35.3,717.4 26.0,702.7 18.4,686.0 12.6,667.0 8.4,644.8 5.8,617.9 5.0,571.4 5.8,524.9 8.4,498.0 12.6,475.8 18.4,456.8 26.0,440.1 35.3,425.4 46.3,412.7 59.0,401.7 73.7,392.4 90.4,384.8 109.4,379.0 131.6,374.8 158.5,372.2 205.0,371.4 251.5,372.2 278.4,374.8 300.6,379.0 319.6,384.8 336.3,392.4 351.0,401.7 363.7,412.7 374.7,425.4 384.0,440.1 391.6,456.8 397.4,475.8 401.6,498.0 404.2,524.9" fill="#1a1488"/>
<polygon points="402.5,571.4 401.7,617.3 399.2,643.9 395.0,665.8 389.2,684.6 381.8,701.1 372.6,715.5 361.8,728.2 349.1,739.0 334.7,748.2 318.2,755.6 299.4,761.4 277.5,765.6 250.9,768.1 205.0,768.9 159.1,768.1 132.5,765.6 110.6,761.4 91.8,755.6 75.3,748.2 60.9,739.0 48.2,728.2 37.4,715.5 28.2,701.1 20.8,684.6 15.0,665.8 10.8,643.9 8.3,617.3 7.5,571.4 8.3,525.5 10.8,498.9 15.0,477.0 20.8,458.2 28.2,441.7 37.4,427.3 48.2,414.6 60.9,403.8 75.3,394.6 91.8,387.2 110.6,381.4 132.5,377.2 159.1,374.7 205.0,373.9 250.9,374.7 277.5,377.2 299.4,381.4 318.2,387.2 334.7,394.6 349.1,403.8 361.8,414.6 372.6,427.3 381.8,441.7 389.2,458.2 395.0,477.0 399.2,498.9 401.7,525.5" fill="#1a1488"/>
<polygon points="400.0,571.4 399.2,616.7 396.7,643.0 392.6,664.6 386.9,683.2 379.5,699.4 370.5,713.7 359.8,726.2 347.3,736.9 333.0,745.9 316.8,753.3 298.2,759.0 276.6,763.1 250.3,765.6 205.0,766.4 159.7,765.6 133.4,763.1 111.8,759.0 93.2,753.3 77.0,745.9 62.7,736.9 50.2,726.2 39.5,713.7 30.5,699.4 23.1,683.2 17.4,664.6 13.3,643.0 10.8,616.7 10.0,571.4 10.8,526.1 13.3,499.8 17.4,478.2 23.1,459.6 30.5,443.4 39.5,429.1 50.2,416.6 62.7,405.9 77.0,396.9 93.2,389.5 111.8,383.8 133.4,379.7 159.7,377.2 205.0,376.4 250.3,377.2 276.6,379.7 298.2,383.8 316.8,389.5 333.0,396.9 347.3,405.9 359.8,416.6 370.5,429.1 379.5,443.4 386.9,459.6 392.6,478.2 396.7,499.8 399.2,526.1" fill="#1a1488"/>
<polygon points="397.5,571.4 396.7,616.1 394.3,642.1 390.2,663.4 384.6,681.7 377.3,697.8 368.4,711.9 357.8,724.2 345.5,734.8 331.4,743.7 315.3,751.0 297.0,756.6 275.7,760.7 249.7,763.1 205.0,763.9 160.3,763.1 134.3,760.7 113.0,756.6 94.7,751.0 78.6,743.7 64.5,734.8 52.2,724.2 41.6,711.9 32.7,697.8 25.4,681.7 19.8,663.4 15.7,642.1 13.3,616.1 12.5,571.4 13.3,526.7 15.7,500.7 19.8,479.4 25.4,461.1 32.7,445.0 41.6,430.9 52.2,418.6 64.5,408.0 78.6,399.1 94.7,391.8 113.0,386.2 134.3,382.1 160.3,379.7 205.0,378.9 249.7,379.7 275.7,382.1 297.0,386.2 315.3,391.8 331.4,399.1 345.5,408.0 357.8,418.6 368.4,430.9 377.3,445.0 384.6,461.1 390.2,479.4 394.3,500.7 396.7,526.7" fill="#1a1488"/>
<polygon points="395.0,571.4 394.2,615.5 391.8,641.2 387.8,662.2 382.2,680.3 375.1,696.2 366.2,710.1 355.8,722.2 343.7,732.6 329.8,741.5 313.9,748.6 295.8,754.2 274.8,758.2 249.1,760.6 205.0,761.4 160.9,760.6 135.2,758.2 114.2,754.2 96.1,748.6 80.2,741.5 66.3,732.6 54.2,722.2 43.8,710.1 34.9,696.2 27.8,680.3 22.2,662.2 18.2,641.2 15.8,615.5 15.0,571.4 15.8,527.3 18.2,501.6 22.2,480.6 27.8,462.5 34.9,446.6 43.8,432.7 54.2,420.6 66.3,410.2 80.2,401.3 96.1,394.2 114.2,388.6 135.2,384.6 160.9,382.2 205.0,381.4 249.1,382.2 274.8,384.6 295.8,388.6 313.9,394.2 329.8,401.3 343.7,410.2 355.8,420.6 366.2,432.7 375.1,446.6 382.2,462.5 387.8,480.6 391.8,501.6 394.2,527.3" fill="#1a1488"/>
<polygon points="392.5,571.4 391.7,615.0 389.4,640.3 385.4,661.0 379.9,678.9 372.8,694.5 364.1,708.2 353.8,720.2 341.8,730.5 328.1,739.2 312.5,746.3 294.6,751.8 273.9,755.8 248.6,758.1 205.0,758.9 161.4,758.1 136.1,755.8 115.4,751.8 97.5,746.3 81.9,739.2 68.2,730.5 56.2,720.2 45.9,708.2 37.2,694.5 30.1,678.9 24.6,661.0 20.6,640.3 18.3,615.0 17.5,571.4 18.3,527.8 20.6,502.5 24.6,481.8 30.1,463.9 37.2,448.3 45.9,434.6 56.2,422.6 68.2,412.3 81.9,403.6 97.5,396.5 115.4,391.0 136.1,387.0 161.4,384.7 205.0,383.9 248.6,384.7 273.9,387.0 294.6,391.0 312.5,396.5 328.1,403.6 341.8,412.3 353.8,422.6 364.1,434.6 372.8,448.3 379.9,463.9 385.4,481.8 389.4,502.5 391.7,527.8" fill="#1a1488"/>
<polygon points="390.0,571.4 389.2,614.4 386.9,639.3 383.0,659.8 377.6,677.4 370.6,692.9 362.0,706.4 351.8,718.2 340.0,728.4 326.5,737.0 311.0,744.0 293.4,749.4 272.9,753.3 248.0,755.6 205.0,756.4 162.0,755.6 137.1,753.3 116.6,749.4 99.0,744.0 83.5,737.0 70.0,728.4 58.2,718.2 48.0,706.4 39.4,692.9 32.4,677.4 27.0,659.8 23.1,639.3 20.8,614.4 20.0,571.4 20.8,528.4 23.1,503.5 27.0,483.0 32.4,465.4 39.4,449.9 48.0,436.4 58.2,424.6 70.0,414.4 83.5,405.8 99.0,398.8 116.6,393.4 137.1,389.5 162.0,387.2 205.0,386.4 248.0,387.2 272.9,389.5 293.4,393.4 311.0,398.8 326.5,405.8 340.0,414.4 351.8,424.6 362.0,436.4 370.6,449.9 377.6,465.4 383.0,483.0 386.9,503.5 389.2,528.4" fill="#1a1488"/>
<polygon points="387.5,571.4 386.7,613.8 384.4,638.4 380.6,658.6 375.2,676.0 368.3,691.2 359.9,704.6 349.9,716.3 338.2,726.3 324.8,734.7 309.6,741.6 292.2,747.0 272.0,750.8 247.4,753.1 205.0,753.9 162.6,753.1 138.0,750.8 117.8,747.0 100.4,741.6 85.2,734.7 71.8,726.3 60.1,716.3 50.1,704.6 41.7,691.2 34.8,676.0 29.4,658.6 25.6,638.4 23.3,613.8 22.5,571.4 23.3,529.0 25.6,504.4 29.4,484.2 34.8,466.8 41.7,451.6 50.1,438.2 60.1,426.5 71.8,416.5 85.2,408.1 100.4,401.2 117.8,395.8 138.0,392.0 162.6,389.7 205.0,388.9 247.4,389.7 272.0,392.0 292.2,395.8 309.6,401.2 324.8,408.1 338.2,416.5 349.9,426.5 359.9,438.2 368.3,451.6 375.2,466.8 380.6,484.2 384.4,504.4 386.7,529.0" fill="#1a1488"/>
<polygon points="385.0,571.4 384.2,613.2 382.0,637.5 378.2,657.4 372.9,674.6 366.1,689.6 357.8,702.8 347.9,714.3 336.4,724.2 323.2,732.5 308.2,739.3 291.0,744.6 271.1,748.4 246.8,750.6 205.0,751.4 163.2,750.6 138.9,748.4 119.0,744.6 101.8,739.3 86.8,732.5 73.6,724.2 62.1,714.3 52.2,702.8 43.9,689.6 37.1,674.6 31.8,657.4 28.0,637.5 25.8,613.2 25.0,571.4 25.8,529.6 28.0,505.3 31.8,485.4 37.1,468.2 43.9,453.2 52.2,440.0 62.1,428.5 73.6,418.6 86.8,410.3 101.8,403.5 119.0,398.2 138.9,394.4 163.2,392.2 205.0,391.4 246.8,392.2 271.1,394.4 291.0,398.2 308.2,403.5 323.2,410.3 336.4,418.6 347.9,428.5 357.8,440.0 366.1,453.2 372.9,468.2 378.2,485.4 382.0,505.3 384.2,529.6" fill="#1a1488"/>
<polygon points="382.5,571.4 381.8,612.6 379.5,636.6 375.8,656.2 370.6,673.1 363.9,687.9 355.6,700.9 345.9,712.3 334.5,722.0 321.5,730.3 306.7,737.0 289.8,742.2 270.2,745.9 246.2,748.2 205.0,748.9 163.8,748.2 139.8,745.9 120.2,742.2 103.3,737.0 88.5,730.3 75.5,722.0 64.1,712.3 54.4,700.9 46.1,687.9 39.4,673.1 34.2,656.2 30.5,636.6 28.2,612.6 27.5,571.4 28.2,530.2 30.5,506.2 34.2,486.6 39.4,469.7 46.1,454.9 54.4,441.9 64.1,430.5 75.5,420.8 88.5,412.5 103.3,405.8 120.2,400.6 139.8,396.9 163.8,394.6 205.0,393.9 246.2,394.6 270.2,396.9 289.8,400.6 306.7,405.8 321.5,412.5 334.5,420.8 345.9,430.5 355.6,441.9 363.9,454.9 370.6,469.7 375.8,486.6 379.5,506.2 381.8,530.2" fill="#1a1488"/>
<polygon points="380.0,571.4 379.3,612.1 377.1,635.7 373.4,655.0 368.2,671.7 361.6,686.3 353.5,699.1 343.9,710.3 332.7,719.9 319.9,728.0 305.3,734.6 288.6,739.8 269.3,743.5 245.7,745.7 205.0,746.4 164.3,745.7 140.7,743.5 121.4,739.8 104.7,734.6 90.1,728.0 77.3,719.9 66.1,710.3 56.5,699.1 48.4,686.3 41.8,671.7 36.6,655.0 32.9,635.7 30.7,612.1 30.0,571.4 30.7,530.7 32.9,507.1 36.6,487.8 41.8,471.1 48.4,456.5 56.5,443.7 66.1,432.5 77.3,422.9 90.1,414.8 104.7,408.2 121.4,403.0 140.7,399.3 164.3,397.1 205.0,396.4 245.7,397.1 269.3,399.3 288.6,403.0 305.3,408.2 319.9,414.8 332.7,422.9 343.9,432.5 353.5,443.7 361.6,456.5 368.2,471.1 373.4,487.8 377.1,507.1 379.3,530.7" fill="#1a1488"/>
<polygon points="377.5,571.4 376.8,611.5 374.6,634.7 371.0,653.8 365.9,670.3 359.4,684.7 351.4,697.3 341.9,708.3 330.9,717.8 318.3,725.8 303.9,732.3 287.4,737.4 268.3,741.0 245.1,743.2 205.0,743.9 164.9,743.2 141.7,741.0 122.6,737.4 106.1,732.3 91.7,725.8 79.1,717.8 68.1,708.3 58.6,697.3 50.6,684.7 44.1,670.3 39.0,653.8 35.4,634.7 33.2,611.5 32.5,571.4 33.2,531.3 35.4,508.1 39.0,489.0 44.1,472.5 50.6,458.1 58.6,445.5 68.1,434.5 79.1,425.0 91.7,417.0 106.1,410.5 122.6,405.4 141.7,401.8 164.9,399.6 205.0,398.9 245.1,399.6 268.3,401.8 287.4,405.4 303.9,410.5 318.3,417.0 330.9,425.0 341.9,434.5 351.4,445.5 359.4,458.1 365.9,472.5 371.0,489.0 374.6,508.1 376.8,531.3" fill="#1a1488"/>
<polygon points="375.0,571.4 374.3,610.9 372.1,633.8 368.6,652.6 363.6,668.8 357.2,683.0 349.3,695.5 339.9,706.3 329.1,715.7 316.6,723.6 302.4,730.0 286.2,735.0 267.4,738.5 244.5,740.7 205.0,741.4 165.5,740.7 142.6,738.5 123.8,735.0 107.6,730.0 93.4,723.6 80.9,715.7 70.1,706.3 60.7,695.5 52.8,683.0 46.4,668.8 41.4,652.6 37.9,633.8 35.7,610.9 35.0,571.4 35.7,531.9 37.9,509.0 41.4,490.2 46.4,474.0 52.8,459.8 60.7,447.3 70.1,436.5 80.9,427.1 93.4,419.2 107.6,412.8 123.8,407.8 142.6,404.3 165.5,402.1 205.0,401.4 244.5,402.1 267.4,404.3 286.2,407.8 302.4,412.8 316.6,419.2 329.1,427.1 339.9,436.5 349.3,447.3 357.2,459.8 363.6,474.0 368.6,490.2 372.1,509.0 374.3,531.9" fill="#1a1488"/>
<polygon points="372.5,571.4 371.8,610.3 369.7,632.9 366.2,651.4 361.3,667.4 354.9,681.4 347.2,693.6 337.9,704.3 327.2,713.6 315.0,721.3 301.0,727.7 285.0,732.6 266.5,736.1 243.9,738.2 205.0,738.9 166.1,738.2 143.5,736.1 125.0,732.6 109.0,727.7 95.0,721.3 82.8,713.6 72.1,704.3 62.8,693.6 55.1,681.4 48.7,667.4 43.8,651.4 40.3,632.9 38.2,610.3 37.5,571.4 38.2,532.5 40.3,509.9 43.8,491.4 48.7,475.4 55.1,461.4 62.8,449.2 72.1,438.5 82.8,429.2 95.0,421.5 109.0,415.1 125.0,410.2 143.5,406.7 166.1,404.6 205.0,403.9 243.9,404.6 266.5,406.7 285.0,410.2 301.0,415.1 315.0,421.5 327.2,429.2 337.9,438.5 347.2,449.2 354.9,461.4 361.3,475.4 366.2,491.4 369.7,509.9 371.8,532.5" fill="#1a1488"/>
<polygon points="370.0,571.4 369.3,609.7 367.2,632.0 363.8,650.2 358.9,666.0 352.7,679.7 345.0,691.8 336.0,702.4 325.4,711.4 313.3,719.1 299.6,725.3 283.8,730.2 265.6,733.6 243.3,735.7 205.0,736.4 166.7,735.7 144.4,733.6 126.2,730.2 110.4,725.3 96.7,719.1 84.6,711.4 74.0,702.4 65.0,691.8 57.3,679.7 51.1,666.0 46.2,650.2 42.8,632.0 40.7,609.7 40.0,571.4 40.7,533.1 42.8,510.8 46.2,492.6 51.1,476.8 57.3,463.1 65.0,451.0 74.0,440.4 84.6,431.4 96.7,423.7 110.4,417.5 126.2,412.6 144.4,409.2 166.7,407.1 205.0,406.4 243.3,407.1 265.6,409.2 283.8,412.6 299.6,417.5 313.3,423.7 325.4,431.4 336.0,440.4 345.0,451.0 352.7,463.1 358.9,476.8 363.8,492.6 367.2,510.8 369.3,533.1" fill="#1a1488"/>
<polygon points="367.5,571.4 366.8,609.1 364.8,631.1 361.4,649.0 356.6,664.5 350.4,678.1 342.9,690.0 334.0,700.4 323.6,709.3 311.7,716.8 298.1,723.0 282.6,727.8 264.7,731.2 242.7,733.2 205.0,733.9 167.3,733.2 145.3,731.2 127.4,727.8 111.9,723.0 98.3,716.8 86.4,709.3 76.0,700.4 67.1,690.0 59.6,678.1 53.4,664.5 48.6,649.0 45.2,631.1 43.2,609.1 42.5,571.4 43.2,533.7 45.2,511.7 48.6,493.8 53.4,478.3 59.6,464.7 67.1,452.8 76.0,442.4 86.4,433.5 98.3,426.0 111.9,419.8 127.4,415.0 145.3,411.6 167.3,409.6 205.0,408.9 242.7,409.6 264.7,411.6 282.6,415.0 298.1,419.8 311.7,426.0 323.6,433.5 334.0,442.4 342.9,452.8 350.4,464.7 356.6,478.3 361.4,493.8 364.8,511.7 366.8,533.7" fill="#1a1488"/>
<polygon points="365.0,571.4 364.3,608.6 362.3,630.2 359.0,647.8 354.3,663.1 348.2,676.5 340.8,688.2 332.0,698.4 321.8,707.2 310.1,714.6 296.7,720.7 281.4,725.4 263.8,728.7 242.2,730.7 205.0,731.4 167.8,730.7 146.2,728.7 128.6,725.4 113.3,720.7 99.9,714.6 88.2,707.2 78.0,698.4 69.2,688.2 61.8,676.5 55.7,663.1 51.0,647.8 47.7,630.2 45.7,608.6 45.0,571.4 45.7,534.2 47.7,512.6 51.0,495.0 55.7,479.7 61.8,466.3 69.2,454.6 78.0,444.4 88.2,435.6 99.9,428.2 113.3,422.1 128.6,417.4 146.2,414.1 167.8,412.1 205.0,411.4 242.2,412.1 263.8,414.1 281.4,417.4 296.7,422.1 310.1,428.2 321.8,435.6 332.0,444.4 340.8,454.6 348.2,466.3 354.3,479.7 359.0,495.0 362.3,512.6 364.3,534.2" fill="#1a158a"/>
<polygon points="362.5,571.4 361.8,608.0 359.9,629.2 356.6,646.7 351.9,661.7 346.0,674.8 338.7,686.3 330.0,696.4 319.9,705.1 308.4,712.4 295.3,718.3 280.3,723.0 262.8,726.3 241.6,728.2 205.0,728.9 168.4,728.2 147.2,726.3 129.7,723.0 114.7,718.3 101.6,712.4 90.1,705.1 80.0,696.4 71.3,686.3 64.0,674.8 58.1,661.7 53.4,646.7 50.1,629.2 48.2,608.0 47.5,571.4 48.2,534.8 50.1,513.6 53.4,496.1 58.1,481.1 64.0,468.0 71.3,456.5 80.0,446.4 90.1,437.7 101.6,430.4 114.7,424.5 129.7,419.8 147.2,416.5 168.4,414.6 205.0,413.9 241.6,414.6 262.8,416.5 280.3,419.8 295.3,424.5 308.4,430.4 319.9,437.7 330.0,446.4 338.7,456.5 346.0,468.0 351.9,481.1 356.6,496.1 359.9,513.6 361.8,534.8" fill="#1b158d"/>
<polygon points="360.0,571.4 359.3,607.4 357.4,628.3 354.1,645.5 349.6,660.2 343.7,673.2 336.5,684.5 328.0,694.4 318.1,702.9 306.8,710.1 293.8,716.0 279.1,720.5 261.9,723.8 241.0,725.7 205.0,726.4 169.0,725.7 148.1,723.8 130.9,720.5 116.2,716.0 103.2,710.1 91.9,702.9 82.0,694.4 73.5,684.5 66.3,673.2 60.4,660.2 55.9,645.5 52.6,628.3 50.7,607.4 50.0,571.4 50.7,535.4 52.6,514.5 55.9,497.3 60.4,482.6 66.3,469.6 73.5,458.3 82.0,448.4 91.9,439.9 103.2,432.7 116.2,426.8 130.9,422.3 148.1,419.0 169.0,417.1 205.0,416.4 241.0,417.1 261.9,419.0 279.1,422.3 293.8,426.8 306.8,432.7 318.1,439.9 328.0,448.4 336.5,458.3 343.7,469.6 349.6,482.6 354.1,497.3 357.4,514.5 359.3,535.4" fill="#1b1690"/>
<polygon points="357.5,571.4 356.9,606.8 354.9,627.4 351.7,644.3 347.3,658.8 341.5,671.5 334.4,682.7 326.0,692.4 316.3,700.8 305.1,707.9 292.4,713.7 277.9,718.1 261.0,721.3 240.4,723.3 205.0,723.9 169.6,723.3 149.0,721.3 132.1,718.1 117.6,713.7 104.9,707.9 93.7,700.8 84.0,692.4 75.6,682.7 68.5,671.5 62.7,658.8 58.3,644.3 55.1,627.4 53.1,606.8 52.5,571.4 53.1,536.0 55.1,515.4 58.3,498.5 62.7,484.0 68.5,471.3 75.6,460.1 84.0,450.4 93.7,442.0 104.9,434.9 117.6,429.1 132.1,424.7 149.0,421.5 169.6,419.5 205.0,418.9 240.4,419.5 261.0,421.5 277.9,424.7 292.4,429.1 305.1,434.9 316.3,442.0 326.0,450.4 334.4,460.1 341.5,471.3 347.3,484.0 351.7,498.5 354.9,515.4 356.9,536.0" fill="#1b1693"/>
<polygon points="355.0,571.4 354.4,606.2 352.5,626.5 349.3,643.1 344.9,657.4 339.3,669.9 332.3,680.9 324.1,690.5 314.5,698.7 303.5,705.7 291.0,711.3 276.7,715.7 260.1,718.9 239.8,720.8 205.0,721.4 170.2,720.8 149.9,718.9 133.3,715.7 119.0,711.3 106.5,705.7 95.5,698.7 85.9,690.5 77.7,680.9 70.7,669.9 65.1,657.4 60.7,643.1 57.5,626.5 55.6,606.2 55.0,571.4 55.6,536.6 57.5,516.3 60.7,499.7 65.1,485.4 70.7,472.9 77.7,461.9 85.9,452.3 95.5,444.1 106.5,437.1 119.0,431.5 133.3,427.1 149.9,423.9 170.2,422.0 205.0,421.4 239.8,422.0 260.1,423.9 276.7,427.1 291.0,431.5 303.5,437.1 314.5,444.1 324.1,452.3 332.3,461.9 339.3,472.9 344.9,485.4 349.3,499.7 352.5,516.3 354.4,536.6" fill="#1c1796"/>
<polygon points="352.5,571.4 351.9,605.7 350.0,625.6 346.9,641.9 342.6,655.9 337.0,668.2 330.2,679.0 322.1,688.5 312.6,696.6 301.8,703.4 289.5,709.0 275.5,713.3 259.2,716.4 239.3,718.3 205.0,718.9 170.7,718.3 150.8,716.4 134.5,713.3 120.5,709.0 108.2,703.4 97.4,696.6 87.9,688.5 79.8,679.0 73.0,668.2 67.4,655.9 63.1,641.9 60.0,625.6 58.1,605.7 57.5,571.4 58.1,537.1 60.0,517.2 63.1,500.9 67.4,486.9 73.0,474.6 79.8,463.8 87.9,454.3 97.4,446.2 108.2,439.4 120.5,433.8 134.5,429.5 150.8,426.4 170.7,424.5 205.0,423.9 239.3,424.5 259.2,426.4 275.5,429.5 289.5,433.8 301.8,439.4 312.6,446.2 322.1,454.3 330.2,463.8 337.0,474.6 342.6,486.9 346.9,500.9 350.0,517.2 351.9,537.1" fill="#1c189a"/>
<polygon points="350.0,571.4 349.4,605.1 347.6,624.6 344.5,640.7 340.3,654.5 334.8,666.6 328.1,677.2 320.1,686.5 310.8,694.5 300.2,701.2 288.1,706.7 274.3,710.9 258.2,714.0 238.7,715.8 205.0,716.4 171.3,715.8 151.8,714.0 135.7,710.9 121.9,706.7 109.8,701.2 99.2,694.5 89.9,686.5 81.9,677.2 75.2,666.6 69.7,654.5 65.5,640.7 62.4,624.6 60.6,605.1 60.0,571.4 60.6,537.7 62.4,518.2 65.5,502.1 69.7,488.3 75.2,476.2 81.9,465.6 89.9,456.3 99.2,448.3 109.8,441.6 121.9,436.1 135.7,431.9 151.8,428.8 171.3,427.0 205.0,426.4 238.7,427.0 258.2,428.8 274.3,431.9 288.1,436.1 300.2,441.6 310.8,448.3 320.1,456.3 328.1,465.6 334.8,476.2 340.3,488.3 344.5,502.1 347.6,518.2 349.4,537.7" fill="#1d199e"/>
<polygon points="347.5,571.4 346.9,604.5 345.1,623.7 342.1,639.5 337.9,653.1 332.5,665.0 325.9,675.4 318.1,684.5 309.0,692.3 298.6,698.9 286.7,704.3 273.1,708.5 257.3,711.5 238.1,713.3 205.0,713.9 171.9,713.3 152.7,711.5 136.9,708.5 123.3,704.3 111.4,698.9 101.0,692.3 91.9,684.5 84.1,675.4 77.5,665.0 72.1,653.1 67.9,639.5 64.9,623.7 63.1,604.5 62.5,571.4 63.1,538.3 64.9,519.1 67.9,503.3 72.1,489.7 77.5,477.8 84.1,467.4 91.9,458.3 101.0,450.5 111.4,443.9 123.3,438.5 136.9,434.3 152.7,431.3 171.9,429.5 205.0,428.9 238.1,429.5 257.3,431.3 273.1,434.3 286.7,438.5 298.6,443.9 309.0,450.5 318.1,458.3 325.9,467.4 332.5,477.8 337.9,489.7 342.1,503.3 345.1,519.1 346.9,538.3" fill="#1d1aa2"/>
<polygon points="345.0,571.4 344.4,603.9 342.7,622.8 339.7,638.3 335.6,651.6 330.3,663.3 323.8,673.6 316.1,682.5 307.2,690.2 296.9,696.7 285.2,702.0 271.9,706.1 256.4,709.1 237.5,710.8 205.0,711.4 172.5,710.8 153.6,709.1 138.1,706.1 124.8,702.0 113.1,696.7 102.8,690.2 93.9,682.5 86.2,673.6 79.7,663.3 74.4,651.6 70.3,638.3 67.3,622.8 65.6,603.9 65.0,571.4 65.6,538.9 67.3,520.0 70.3,504.5 74.4,491.2 79.7,479.5 86.2,469.2 93.9,460.3 102.8,452.6 113.1,446.1 124.8,440.8 138.1,436.7 153.6,433.7 172.5,432.0 205.0,431.4 237.5,432.0 256.4,433.7 271.9,436.7 285.2,440.8 296.9,446.1 307.2,452.6 316.1,460.3 323.8,469.2 330.3,479.5 335.6,491.2 339.7,504.5 342.7,520.0 344.4,538.9" fill="#1e1aa6"/>
<polygon points="342.5,571.4 341.9,603.3 340.2,621.9 337.3,637.1 333.3,650.2 328.1,661.7 321.7,671.8 314.1,680.5 305.4,688.1 295.3,694.5 283.8,699.7 270.7,703.7 255.5,706.6 236.9,708.3 205.0,708.9 173.1,708.3 154.5,706.6 139.3,703.7 126.2,699.7 114.7,694.5 104.6,688.1 95.9,680.5 88.3,671.8 81.9,661.7 76.7,650.2 72.7,637.1 69.8,621.9 68.1,603.3 67.5,571.4 68.1,539.5 69.8,520.9 72.7,505.7 76.7,492.6 81.9,481.1 88.3,471.0 95.9,462.3 104.6,454.7 114.7,448.3 126.2,443.1 139.3,439.1 154.5,436.2 173.1,434.5 205.0,433.9 236.9,434.5 255.5,436.2 270.7,439.1 283.8,443.1 295.3,448.3 305.4,454.7 314.1,462.3 321.7,471.0 328.1,481.1 333.3,492.6 337.3,505.7 340.2,520.9 341.9,539.5" fill="#1e1baa"/>
<polygon points="340.0,571.4 339.4,602.8 337.7,621.0 334.9,635.9 330.9,648.8 325.8,660.0 319.6,669.9 312.1,678.5 303.5,686.0 293.6,692.2 282.4,697.3 269.5,701.3 254.6,704.1 236.4,705.8 205.0,706.4 173.6,705.8 155.4,704.1 140.5,701.3 127.6,697.3 116.4,692.2 106.5,686.0 97.9,678.5 90.4,669.9 84.2,660.0 79.1,648.8 75.1,635.9 72.3,621.0 70.6,602.8 70.0,571.4 70.6,540.0 72.3,521.8 75.1,506.9 79.1,494.0 84.2,482.8 90.4,472.9 97.9,464.3 106.5,456.8 116.4,450.6 127.6,445.5 140.5,441.5 155.4,438.7 173.6,437.0 205.0,436.4 236.4,437.0 254.6,438.7 269.5,441.5 282.4,445.5 293.6,450.6 303.5,456.8 312.1,464.3 319.6,472.9 325.8,482.8 330.9,494.0 334.9,506.9 337.7,521.8 339.4,540.0" fill="#1f1caf"/>
<polygon points="337.5,571.4 336.9,602.2 335.3,620.1 332.5,634.7 328.6,647.3 323.6,658.4 317.4,668.1 310.2,676.6 301.7,683.8 292.0,690.0 280.9,695.0 268.3,698.9 253.7,701.7 235.8,703.3 205.0,703.9 174.2,703.3 156.3,701.7 141.7,698.9 129.1,695.0 118.0,690.0 108.3,683.8 99.8,676.6 92.6,668.1 86.4,658.4 81.4,647.3 77.5,634.7 74.7,620.1 73.1,602.2 72.5,571.4 73.1,540.6 74.7,522.7 77.5,508.1 81.4,495.5 86.4,484.4 92.6,474.7 99.8,466.2 108.3,459.0 118.0,452.8 129.1,447.8 141.7,443.9 156.3,441.1 174.2,439.5 205.0,438.9 235.8,439.5 253.7,441.1 268.3,443.9 280.9,447.8 292.0,452.8 301.7,459.0 310.2,466.2 317.4,474.7 323.6,484.4 328.6,495.5 332.5,508.1 335.3,522.7 336.9,540.6" fill="#201eb4"/>
<polygon points="335.0,571.4 334.5,601.6 332.8,619.1 330.1,633.5 326.3,645.9 321.4,656.8 315.3,666.3 308.2,674.6 299.9,681.7 290.4,687.8 279.5,692.7 267.1,696.5 252.7,699.2 235.2,700.9 205.0,701.4 174.8,700.9 157.3,699.2 142.9,696.5 130.5,692.7 119.6,687.8 110.1,681.7 101.8,674.6 94.7,666.3 88.6,656.8 83.7,645.9 79.9,633.5 77.2,619.1 75.5,601.6 75.0,571.4 75.5,541.2 77.2,523.7 79.9,509.3 83.7,496.9 88.6,486.0 94.7,476.5 101.8,468.2 110.1,461.1 119.6,455.0 130.5,450.1 142.9,446.3 157.3,443.6 174.8,441.9 205.0,441.4 235.2,441.9 252.7,443.6 267.1,446.3 279.5,450.1 290.4,455.0 299.9,461.1 308.2,468.2 315.3,476.5 321.4,486.0 326.3,496.9 330.1,509.3 332.8,523.7 334.5,541.2" fill="#211fb9"/>
<polygon points="332.5,571.4 332.0,601.0 330.4,618.2 327.7,632.3 323.9,644.5 319.1,655.1 313.2,664.5 306.2,672.6 298.1,679.6 288.7,685.5 278.1,690.3 265.9,694.1 251.8,696.8 234.6,698.4 205.0,698.9 175.4,698.4 158.2,696.8 144.1,694.1 131.9,690.3 121.3,685.5 111.9,679.6 103.8,672.6 96.8,664.5 90.9,655.1 86.1,644.5 82.3,632.3 79.6,618.2 78.0,601.0 77.5,571.4 78.0,541.8 79.6,524.6 82.3,510.5 86.1,498.3 90.9,487.7 96.8,478.3 103.8,470.2 111.9,463.2 121.3,457.3 131.9,452.5 144.1,448.7 158.2,446.0 175.4,444.4 205.0,443.9 234.6,444.4 251.8,446.0 265.9,448.7 278.1,452.5 288.7,457.3 298.1,463.2 306.2,470.2 313.2,478.3 319.1,487.7 323.9,498.3 327.7,510.5 330.4,524.6 332.0,541.8" fill="#2222c0"/>
<polygon points="330.0,571.4 329.5,600.4 327.9,617.3 325.3,631.1 321.6,643.0 316.9,653.5 311.1,662.6 304.2,670.6 296.2,677.5 287.1,683.3 276.6,688.0 264.7,691.7 250.9,694.3 234.0,695.9 205.0,696.4 176.0,695.9 159.1,694.3 145.3,691.7 133.4,688.0 122.9,683.3 113.8,677.5 105.8,670.6 98.9,662.6 93.1,653.5 88.4,643.0 84.7,631.1 82.1,617.3 80.5,600.4 80.0,571.4 80.5,542.4 82.1,525.5 84.7,511.7 88.4,499.8 93.1,489.3 98.9,480.2 105.8,472.2 113.8,465.3 122.9,459.5 133.4,454.8 145.3,451.1 159.1,448.5 176.0,446.9 205.0,446.4 234.0,446.9 250.9,448.5 264.7,451.1 276.6,454.8 287.1,459.5 296.2,465.3 304.2,472.2 311.1,480.2 316.9,489.3 321.6,499.8 325.3,511.7 327.9,525.5 329.5,542.4" fill="#2325c6"/>
<polygon points="327.5,571.4 327.0,599.9 325.4,616.4 322.9,629.9 319.3,641.6 314.6,651.8 309.0,660.8 302.2,668.6 294.4,675.4 285.4,681.0 275.2,685.7 263.5,689.3 250.0,691.8 233.5,693.4 205.0,693.9 176.5,693.4 160.0,691.8 146.5,689.3 134.8,685.7 124.6,681.0 115.6,675.4 107.8,668.6 101.0,660.8 95.4,651.8 90.7,641.6 87.1,629.9 84.6,616.4 83.0,599.9 82.5,571.4 83.0,542.9 84.6,526.4 87.1,512.9 90.7,501.2 95.4,491.0 101.0,482.0 107.8,474.2 115.6,467.4 124.6,461.8 134.8,457.1 146.5,453.5 160.0,451.0 176.5,449.4 205.0,448.9 233.5,449.4 250.0,451.0 263.5,453.5 275.2,457.1 285.4,461.8 294.4,467.4 302.2,474.2 309.0,482.0 314.6,491.0 319.3,501.2 322.9,512.9 325.4,526.4 327.0,542.9" fill="#2427cb"/>
<polygon points="325.0,571.4 324.5,599.3 323.0,615.5 320.5,628.7 316.9,640.2 312.4,650.2 306.8,659.0 300.2,666.6 292.6,673.2 283.8,678.8 273.8,683.3 262.3,686.9 249.1,689.4 232.9,690.9 205.0,691.4 177.1,690.9 160.9,689.4 147.7,686.9 136.2,683.3 126.2,678.8 117.4,673.2 109.8,666.6 103.2,659.0 97.6,650.2 93.1,640.2 89.5,628.7 87.0,615.5 85.5,599.3 85.0,571.4 85.5,543.5 87.0,527.3 89.5,514.1 93.1,502.6 97.6,492.6 103.2,483.8 109.8,476.2 117.4,469.6 126.2,464.0 136.2,459.5 147.7,455.9 160.9,453.4 177.1,451.9 205.0,451.4 232.9,451.9 249.1,453.4 262.3,455.9 273.8,459.5 283.8,464.0 292.6,469.6 300.2,476.2 306.8,483.8 312.4,492.6 316.9,502.6 320.5,514.1 323.0,527.3 324.5,543.5" fill="#2429d0"/>
<polygon points="322.5,571.4 322.0,598.7 320.5,614.5 318.1,627.5 314.6,638.7 310.2,648.5 304.7,657.2 298.3,664.7 290.8,671.1 282.1,676.6 272.3,681.0 261.1,684.5 248.1,686.9 232.3,688.4 205.0,688.9 177.7,688.4 161.9,686.9 148.9,684.5 137.7,681.0 127.9,676.6 119.2,671.1 111.7,664.7 105.3,657.2 99.8,648.5 95.4,638.7 91.9,627.5 89.5,614.5 88.0,598.7 87.5,571.4 88.0,544.1 89.5,528.3 91.9,515.3 95.4,504.1 99.8,494.3 105.3,485.6 111.7,478.1 119.2,471.7 127.9,466.2 137.7,461.8 148.9,458.3 161.9,455.9 177.7,454.4 205.0,453.9 232.3,454.4 248.1,455.9 261.1,458.3 272.3,461.8 282.1,466.2 290.8,471.7 298.3,478.1 304.7,485.6 310.2,494.3 314.6,504.1 318.1,515.3 320.5,528.3 322.0,544.1" fill="#252ad4"/>
<polygon points="320.0,571.4 319.5,598.1 318.1,613.6 315.7,626.3 312.3,637.3 307.9,646.9 302.6,655.3 296.3,662.7 288.9,669.0 280.5,674.3 270.9,678.7 259.9,682.1 247.2,684.5 231.7,685.9 205.0,686.4 178.3,685.9 162.8,684.5 150.1,682.1 139.1,678.7 129.5,674.3 121.1,669.0 113.7,662.7 107.4,655.3 102.1,646.9 97.7,637.3 94.3,626.3 91.9,613.6 90.5,598.1 90.0,571.4 90.5,544.7 91.9,529.2 94.3,516.5 97.7,505.5 102.1,495.9 107.4,487.5 113.7,480.1 121.1,473.8 129.5,468.5 139.1,464.1 150.1,460.7 162.8,458.3 178.3,456.9 205.0,456.4 231.7,456.9 247.2,458.3 259.9,460.7 270.9,464.1 280.5,468.5 288.9,473.8 296.3,480.1 302.6,487.5 307.9,495.9 312.3,505.5 315.7,516.5 318.1,529.2 319.5,544.7" fill="#262cd8"/>
<polygon points="317.5,571.4 317.0,597.5 315.6,612.7 313.3,625.2 309.9,635.9 305.7,645.3 300.5,653.5 294.3,660.7 287.1,666.9 278.9,672.1 269.5,676.3 258.8,679.7 246.3,682.0 231.1,683.4 205.0,683.9 178.9,683.4 163.7,682.0 151.2,679.7 140.5,676.3 131.1,672.1 122.9,666.9 115.7,660.7 109.5,653.5 104.3,645.3 100.1,635.9 96.7,625.2 94.4,612.7 93.0,597.5 92.5,571.4 93.0,545.3 94.4,530.1 96.7,517.6 100.1,506.9 104.3,497.5 109.5,489.3 115.7,482.1 122.9,475.9 131.1,470.7 140.5,466.5 151.2,463.1 163.7,460.8 178.9,459.4 205.0,458.9 231.1,459.4 246.3,460.8 258.8,463.1 269.5,466.5 278.9,470.7 287.1,475.9 294.3,482.1 300.5,489.3 305.7,497.5 309.9,506.9 313.3,517.6 315.6,530.1 317.0,545.3" fill="#262edd"/>
<polygon points="315.0,571.4 314.5,597.0 313.2,611.8 310.8,624.0 307.6,634.4 303.5,643.6 298.4,651.7 292.3,658.7 285.3,664.8 277.2,669.9 268.0,674.0 257.6,677.2 245.4,679.6 230.6,680.9 205.0,681.4 179.4,680.9 164.6,679.6 152.4,677.2 142.0,674.0 132.8,669.9 124.7,664.8 117.7,658.7 111.6,651.7 106.5,643.6 102.4,634.4 99.2,624.0 96.8,611.8 95.5,597.0 95.0,571.4 95.5,545.8 96.8,531.0 99.2,518.8 102.4,508.4 106.5,499.2 111.6,491.1 117.7,484.1 124.7,478.0 132.8,472.9 142.0,468.8 152.4,465.6 164.6,463.2 179.4,461.9 205.0,461.4 230.6,461.9 245.4,463.2 257.6,465.6 268.0,468.8 277.2,472.9 285.3,478.0 292.3,484.1 298.4,491.1 303.5,499.2 307.6,508.4 310.8,518.8 313.2,531.0 314.5,545.8" fill="#2730e1"/>
<polygon points="312.5,571.4 312.0,596.4 310.7,610.9 308.4,622.8 305.3,633.0 301.2,642.0 296.2,649.9 290.3,656.7 283.5,662.6 275.6,667.6 266.6,671.7 256.4,674.8 244.5,677.1 230.0,678.4 205.0,678.9 180.0,678.4 165.5,677.1 153.6,674.8 143.4,671.7 134.4,667.6 126.5,662.6 119.7,656.7 113.8,649.9 108.8,642.0 104.7,633.0 101.6,622.8 99.3,610.9 98.0,596.4 97.5,571.4 98.0,546.4 99.3,531.9 101.6,520.0 104.7,509.8 108.8,500.8 113.8,492.9 119.7,486.1 126.5,480.2 134.4,475.2 143.4,471.1 153.6,468.0 165.5,465.7 180.0,464.4 205.0,463.9 230.0,464.4 244.5,465.7 256.4,468.0 266.6,471.1 275.6,475.2 283.5,480.2 290.3,486.1 296.2,492.9 301.2,500.8 305.3,509.8 308.4,520.0 310.7,531.9 312.0,546.4" fill="#2832e5"/>
<polygon points="310.0,571.4 309.6,595.8 308.2,610.0 306.0,621.6 302.9,631.6 299.0,640.3 294.1,648.0 288.3,654.7 281.6,660.5 273.9,665.4 265.2,669.3 255.2,672.4 243.6,674.6 229.4,676.0 205.0,676.4 180.6,676.0 166.4,674.6 154.8,672.4 144.8,669.3 136.1,665.4 128.4,660.5 121.7,654.7 115.9,648.0 111.0,640.3 107.1,631.6 104.0,621.6 101.8,610.0 100.4,595.8 100.0,571.4 100.4,547.0 101.8,532.8 104.0,521.2 107.1,511.2 111.0,502.5 115.9,494.8 121.7,488.1 128.4,482.3 136.1,477.4 144.8,473.5 154.8,470.4 166.4,468.2 180.6,466.8 205.0,466.4 229.4,466.8 243.6,468.2 255.2,470.4 265.2,473.5 273.9,477.4 281.6,482.3 288.3,488.1 294.1,494.8 299.0,502.5 302.9,511.2 306.0,521.2 308.2,532.8 309.6,547.0" fill="#2735e7"/>
<polygon points="307.5,571.4 307.1,593.7 305.7,607.3 303.5,618.7 300.3,628.7 296.3,637.4 291.3,645.1 285.5,651.9 278.7,657.7 271.0,662.7 262.3,666.7 252.3,669.9 240.9,672.1 227.3,673.5 205.0,673.9 182.7,673.5 169.1,672.1 157.7,669.9 147.7,666.7 139.0,662.7 131.3,657.7 124.5,651.9 118.7,645.1 113.7,637.4 109.7,628.7 106.5,618.7 104.3,607.3 102.9,593.7 102.5,571.4 102.9,549.1 104.3,535.5 106.5,524.1 109.7,514.1 113.7,505.4 118.7,497.7 124.5,490.9 131.3,485.1 139.0,480.1 147.7,476.1 157.7,472.9 169.1,470.7 182.7,469.3 205.0,468.9 227.3,469.3 240.9,470.7 252.3,472.9 262.3,476.1 271.0,480.1 278.7,485.1 285.5,490.9 291.3,497.7 296.3,505.4 300.3,514.1 303.5,524.1 305.7,535.5 307.1,549.1" fill="#253ae8"/>
<polygon points="305.0,571.4 304.5,591.6 303.2,604.7 300.9,615.9 297.7,625.7 293.6,634.5 288.5,642.2 282.6,649.0 275.8,654.9 268.1,660.0 259.3,664.1 249.5,667.3 238.3,669.6 225.2,670.9 205.0,671.4 184.8,670.9 171.7,669.6 160.5,667.3 150.7,664.1 141.9,660.0 134.2,654.9 127.4,649.0 121.5,642.2 116.4,634.5 112.3,625.7 109.1,615.9 106.8,604.7 105.5,591.6 105.0,571.4 105.5,551.2 106.8,538.1 109.1,526.9 112.3,517.1 116.4,508.3 121.5,500.6 127.4,493.8 134.2,487.9 141.9,482.8 150.7,478.7 160.5,475.5 171.7,473.2 184.8,471.9 205.0,471.4 225.2,471.9 238.3,473.2 249.5,475.5 259.3,478.7 268.1,482.8 275.8,487.9 282.6,493.8 288.5,500.6 293.6,508.3 297.7,517.1 300.9,526.9 303.2,538.1 304.5,551.2" fill="#2143ea"/>
<polygon points="302.5,571.4 302.0,589.6 300.6,602.2 298.3,613.1 295.0,622.8 290.8,631.5 285.7,639.2 279.7,646.1 272.8,652.1 265.1,657.2 256.4,661.4 246.7,664.7 235.8,667.0 223.2,668.4 205.0,668.9 186.8,668.4 174.2,667.0 163.3,664.7 153.6,661.4 144.9,657.2 137.2,652.1 130.3,646.1 124.3,639.2 119.2,631.5 115.0,622.8 111.7,613.1 109.4,602.2 108.0,589.6 107.5,571.4 108.0,553.2 109.4,540.6 111.7,529.7 115.0,520.0 119.2,511.3 124.3,503.6 130.3,496.7 137.2,490.7 144.9,485.6 153.6,481.4 163.3,478.1 174.2,475.8 186.8,474.4 205.0,473.9 223.2,474.4 235.8,475.8 246.7,478.1 256.4,481.4 265.1,485.6 272.8,490.7 279.7,496.7 285.7,503.6 290.8,511.3 295.0,520.0 298.3,529.7 300.6,540.6 302.0,553.2" fill="#1e4cec"/>
<polygon points="300.0,571.4 299.5,587.6 298.1,599.6 295.7,610.2 292.3,619.8 288.0,628.4 282.9,636.2 276.8,643.2 269.8,649.3 262.0,654.4 253.4,658.7 243.8,662.1 233.2,664.5 221.2,665.9 205.0,666.4 188.8,665.9 176.8,664.5 166.2,662.1 156.6,658.7 148.0,654.4 140.2,649.3 133.2,643.2 127.1,636.2 122.0,628.4 117.7,619.8 114.3,610.2 111.9,599.6 110.5,587.6 110.0,571.4 110.5,555.2 111.9,543.2 114.3,532.6 117.7,523.0 122.0,514.4 127.1,506.6 133.2,499.6 140.2,493.5 148.0,488.4 156.6,484.1 166.2,480.7 176.8,478.3 188.8,476.9 205.0,476.4 221.2,476.9 233.2,478.3 243.8,480.7 253.4,484.1 262.0,488.4 269.8,493.5 276.8,499.6 282.9,506.6 288.0,514.4 292.3,523.0 295.7,532.6 298.1,543.2 299.5,555.2" fill="#1a54ee"/>
<polygon points="297.5,571.4 297.0,585.7 295.5,597.0 293.0,607.3 289.6,616.7 285.2,625.4 280.0,633.2 273.8,640.2 266.8,646.4 259.0,651.6 250.3,656.0 240.9,659.4 230.6,661.9 219.3,663.4 205.0,663.9 190.7,663.4 179.4,661.9 169.1,659.4 159.7,656.0 151.0,651.6 143.2,646.4 136.2,640.2 130.0,633.2 124.8,625.4 120.4,616.7 117.0,607.3 114.5,597.0 113.0,585.7 112.5,571.4 113.0,557.1 114.5,545.8 117.0,535.5 120.4,526.1 124.8,517.4 130.0,509.6 136.2,502.6 143.2,496.4 151.0,491.2 159.7,486.8 169.1,483.4 179.4,480.9 190.7,479.4 205.0,478.9 219.3,479.4 230.6,480.9 240.9,483.4 250.3,486.8 259.0,491.2 266.8,496.4 273.8,502.6 280.0,509.6 285.2,517.4 289.6,526.1 293.0,535.5 295.5,545.8 297.0,557.1" fill="#175df0"/>
<polygon points="295.0,571.4 294.5,583.8 293.0,594.5 290.4,604.4 286.9,613.7 282.4,622.2 277.0,630.1 270.8,637.2 263.7,643.4 255.8,648.8 247.3,653.3 238.0,656.8 228.1,659.4 217.4,660.9 205.0,661.4 192.6,660.9 181.9,659.4 172.0,656.8 162.7,653.3 154.2,648.8 146.3,643.4 139.2,637.2 133.0,630.1 127.6,622.2 123.1,613.7 119.6,604.4 117.0,594.5 115.5,583.8 115.0,571.4 115.5,559.0 117.0,548.3 119.6,538.4 123.1,529.1 127.6,520.6 133.0,512.7 139.2,505.6 146.3,499.4 154.2,494.0 162.7,489.5 172.0,486.0 181.9,483.4 192.6,481.9 205.0,481.4 217.4,481.9 228.1,483.4 238.0,486.0 247.3,489.5 255.8,494.0 263.7,499.4 270.8,505.6 277.0,512.7 282.4,520.6 286.9,529.1 290.4,538.4 293.0,548.3 294.5,559.0" fill="#126bf1"/>
<polygon points="292.5,571.4 292.0,582.0 290.4,592.0 287.8,601.5 284.1,610.6 279.6,619.1 274.1,626.9 267.7,634.1 260.5,640.5 252.7,646.0 244.2,650.5 235.1,654.2 225.6,656.8 215.6,658.4 205.0,658.9 194.4,658.4 184.4,656.8 174.9,654.2 165.8,650.5 157.3,646.0 149.5,640.5 142.3,634.1 135.9,626.9 130.4,619.1 125.9,610.6 122.2,601.5 119.6,592.0 118.0,582.0 117.5,571.4 118.0,560.8 119.6,550.8 122.2,541.3 125.9,532.2 130.4,523.7 135.9,515.9 142.3,508.7 149.5,502.3 157.3,496.8 165.8,492.3 174.9,488.6 184.4,486.0 194.4,484.4 205.0,483.9 215.6,484.4 225.6,486.0 235.1,488.6 244.2,492.3 252.7,496.8 260.5,502.3 267.7,508.7 274.1,515.9 279.6,523.7 284.1,532.2 287.8,541.3 290.4,550.8 292.0,560.8" fill="#0c7af3"/>
</g>
<circle cx="205.00" cy="571.40" r="86.50" fill="url(#g_d)"/>
</g>
<rect x="38.10" y="402.80" width="332.60" height="335.40" fill="none" stroke="#000" stroke-opacity="0.28" stroke-width="1"/>
<polygon points="205.40,549.70 227.65,565.87 219.15,592.03 191.65,592.03 183.15,565.87" fill="#880000"/>
<circle cx="205.00" cy="571.40" r="54.30" fill="none" stroke="#fff" stroke-width="2"/>
<circle cx="205.00" cy="571.40" r="116.70" fill="none" stroke="#fff" stroke-width="2"/>
<polygon points="205.40,549.70 227.65,565.87 219.15,592.03 191.65,592.03 183.15,565.87" fill="none" stroke="#fff" stroke-width="1.8" stroke-linejoin="miter"/>
<g clip-path="url(#clip_e)">
<rect x="414.20" y="403.70" width="333.00" height="335.90" fill="#1a1488"/>
<g filter="url(#bandblur)">
<polygon points="786.0,571.8 785.1,619.4 782.6,647.1 778.3,669.8 772.2,689.3 764.5,706.4 755.0,721.4 743.7,734.5 730.6,745.8 715.6,755.3 698.5,763.0 679.0,769.1 656.3,773.4 628.6,775.9 581.0,776.8 533.4,775.9 505.7,773.4 483.0,769.1 463.5,763.0 446.4,755.3 431.4,745.8 418.3,734.5 407.0,721.4 397.5,706.4 389.8,689.3 383.7,669.8 379.4,647.1 376.9,619.4 376.0,571.8 376.9,524.2 379.4,496.5 383.7,473.8 389.8,454.3 397.5,437.2 407.0,422.2 418.3,409.1 431.4,397.8 446.4,388.3 463.5,380.6 483.0,374.5 505.7,370.2 533.4,367.7 581.0,366.8 628.6,367.7 656.3,370.2 679.0,374.5 698.5,380.6 715.6,388.3 730.6,397.8 743.7,409.1 755.0,422.2 764.5,437.2 772.2,454.3 778.3,473.8 782.6,496.5 785.1,524.2" fill="#1a1488"/>
<polygon points="783.5,571.8 782.7,618.8 780.1,646.2 775.9,668.6 769.9,687.9 762.2,704.8 752.9,719.6 741.7,732.5 728.8,743.7 714.0,753.0 697.1,760.7 677.8,766.7 655.4,770.9 628.0,773.5 581.0,774.3 534.0,773.5 506.6,770.9 484.2,766.7 464.9,760.7 448.0,753.0 433.2,743.7 420.3,732.5 409.1,719.6 399.8,704.8 392.1,687.9 386.1,668.6 381.9,646.2 379.3,618.8 378.5,571.8 379.3,524.8 381.9,497.4 386.1,475.0 392.1,455.7 399.8,438.8 409.1,424.0 420.3,411.1 433.2,399.9 448.0,390.6 464.9,382.9 484.2,376.9 506.6,372.7 534.0,370.1 581.0,369.3 628.0,370.1 655.4,372.7 677.8,376.9 697.1,382.9 714.0,390.6 728.8,399.9 741.7,411.1 752.9,424.0 762.2,438.8 769.9,455.7 775.9,475.0 780.1,497.4 782.7,524.8" fill="#1a1488"/>
<polygon points="781.0,571.8 780.2,618.3 777.6,645.2 773.4,667.4 767.6,686.4 760.0,703.1 750.7,717.8 739.7,730.5 727.0,741.5 712.3,750.8 695.6,758.4 676.6,764.2 654.4,768.4 627.5,771.0 581.0,771.8 534.5,771.0 507.6,768.4 485.4,764.2 466.4,758.4 449.7,750.8 435.0,741.5 422.3,730.5 411.3,717.8 402.0,703.1 394.4,686.4 388.6,667.4 384.4,645.2 381.8,618.3 381.0,571.8 381.8,525.3 384.4,498.4 388.6,476.2 394.4,457.2 402.0,440.5 411.3,425.8 422.3,413.1 435.0,402.1 449.7,392.8 466.4,385.2 485.4,379.4 507.6,375.2 534.5,372.6 581.0,371.8 627.5,372.6 654.4,375.2 676.6,379.4 695.6,385.2 712.3,392.8 727.0,402.1 739.7,413.1 750.7,425.8 760.0,440.5 767.6,457.2 773.4,476.2 777.6,498.4 780.2,525.3" fill="#1a1488"/>
<polygon points="778.5,571.8 777.7,617.7 775.2,644.3 771.0,666.2 765.2,685.0 757.8,701.5 748.6,715.9 737.8,728.6 725.1,739.4 710.7,748.6 694.2,756.0 675.4,761.8 653.5,766.0 626.9,768.5 581.0,769.3 535.1,768.5 508.5,766.0 486.6,761.8 467.8,756.0 451.3,748.6 436.9,739.4 424.2,728.6 413.4,715.9 404.2,701.5 396.8,685.0 391.0,666.2 386.8,644.3 384.3,617.7 383.5,571.8 384.3,525.9 386.8,499.3 391.0,477.4 396.8,458.6 404.2,442.1 413.4,427.7 424.2,415.0 436.9,404.2 451.3,395.0 467.8,387.6 486.6,381.8 508.5,377.6 535.1,375.1 581.0,374.3 626.9,375.1 653.5,377.6 675.4,381.8 694.2,387.6 710.7,395.0 725.1,404.2 737.8,415.0 748.6,427.7 757.8,442.1 765.2,458.6 771.0,477.4 775.2,499.3 777.7,525.9" fill="#1a1488"/>
<polygon points="776.0,571.8 775.2,617.1 772.7,643.4 768.6,665.0 762.9,683.6 755.5,699.8 746.5,714.1 735.8,726.6 723.3,737.3 709.0,746.3 692.8,753.7 674.2,759.4 652.6,763.5 626.3,766.0 581.0,766.8 535.7,766.0 509.4,763.5 487.8,759.4 469.2,753.7 453.0,746.3 438.7,737.3 426.2,726.6 415.5,714.1 406.5,699.8 399.1,683.6 393.4,665.0 389.3,643.4 386.8,617.1 386.0,571.8 386.8,526.5 389.3,500.2 393.4,478.6 399.1,460.0 406.5,443.8 415.5,429.5 426.2,417.0 438.7,406.3 453.0,397.3 469.2,389.9 487.8,384.2 509.4,380.1 535.7,377.6 581.0,376.8 626.3,377.6 652.6,380.1 674.2,384.2 692.8,389.9 709.0,397.3 723.3,406.3 735.8,417.0 746.5,429.5 755.5,443.8 762.9,460.0 768.6,478.6 772.7,500.2 775.2,526.5" fill="#1a1488"/>
<polygon points="773.5,571.8 772.7,616.5 770.3,642.5 766.2,663.8 760.6,682.1 753.3,698.2 744.4,712.3 733.8,724.6 721.5,735.2 707.4,744.1 691.3,751.4 673.0,757.0 651.7,761.1 625.7,763.5 581.0,764.3 536.3,763.5 510.3,761.1 489.0,757.0 470.7,751.4 454.6,744.1 440.5,735.2 428.2,724.6 417.6,712.3 408.7,698.2 401.4,682.1 395.8,663.8 391.7,642.5 389.3,616.5 388.5,571.8 389.3,527.1 391.7,501.1 395.8,479.8 401.4,461.5 408.7,445.4 417.6,431.3 428.2,419.0 440.5,408.4 454.6,399.5 470.7,392.2 489.0,386.6 510.3,382.5 536.3,380.1 581.0,379.3 625.7,380.1 651.7,382.5 673.0,386.6 691.3,392.2 707.4,399.5 721.5,408.4 733.8,419.0 744.4,431.3 753.3,445.4 760.6,461.5 766.2,479.8 770.3,501.1 772.7,527.1" fill="#1a1488"/>
<polygon points="771.0,571.8 770.2,615.9 767.8,641.6 763.8,662.6 758.2,680.7 751.1,696.6 742.2,710.5 731.8,722.6 719.7,733.0 705.8,741.9 689.9,749.0 671.8,754.6 650.8,758.6 625.1,761.0 581.0,761.8 536.9,761.0 511.2,758.6 490.2,754.6 472.1,749.0 456.2,741.9 442.3,733.0 430.2,722.6 419.8,710.5 410.9,696.6 403.8,680.7 398.2,662.6 394.2,641.6 391.8,615.9 391.0,571.8 391.8,527.7 394.2,502.0 398.2,481.0 403.8,462.9 410.9,447.0 419.8,433.1 430.2,421.0 442.3,410.6 456.2,401.7 472.1,394.6 490.2,389.0 511.2,385.0 536.9,382.6 581.0,381.8 625.1,382.6 650.8,385.0 671.8,389.0 689.9,394.6 705.8,401.7 719.7,410.6 731.8,421.0 742.2,433.1 751.1,447.0 758.2,462.9 763.8,481.0 767.8,502.0 770.2,527.7" fill="#1a1488"/>
<polygon points="768.5,571.8 767.7,615.4 765.4,640.7 761.4,661.4 755.9,679.3 748.8,694.9 740.1,708.6 729.8,720.6 717.8,730.9 704.1,739.6 688.5,746.7 670.6,752.2 649.9,756.2 624.6,758.5 581.0,759.3 537.4,758.5 512.1,756.2 491.4,752.2 473.5,746.7 457.9,739.6 444.2,730.9 432.2,720.6 421.9,708.6 413.2,694.9 406.1,679.3 400.6,661.4 396.6,640.7 394.3,615.4 393.5,571.8 394.3,528.2 396.6,502.9 400.6,482.2 406.1,464.3 413.2,448.7 421.9,435.0 432.2,423.0 444.2,412.7 457.9,404.0 473.5,396.9 491.4,391.4 512.1,387.4 537.4,385.1 581.0,384.3 624.6,385.1 649.9,387.4 670.6,391.4 688.5,396.9 704.1,404.0 717.8,412.7 729.8,423.0 740.1,435.0 748.8,448.7 755.9,464.3 761.4,482.2 765.4,502.9 767.7,528.2" fill="#1a1488"/>
<polygon points="766.0,571.8 765.2,614.8 762.9,639.7 759.0,660.2 753.6,677.8 746.6,693.3 738.0,706.8 727.8,718.6 716.0,728.8 702.5,737.4 687.0,744.4 669.4,749.8 648.9,753.7 624.0,756.0 581.0,756.8 538.0,756.0 513.1,753.7 492.6,749.8 475.0,744.4 459.5,737.4 446.0,728.8 434.2,718.6 424.0,706.8 415.4,693.3 408.4,677.8 403.0,660.2 399.1,639.7 396.8,614.8 396.0,571.8 396.8,528.8 399.1,503.9 403.0,483.4 408.4,465.8 415.4,450.3 424.0,436.8 434.2,425.0 446.0,414.8 459.5,406.2 475.0,399.2 492.6,393.8 513.1,389.9 538.0,387.6 581.0,386.8 624.0,387.6 648.9,389.9 669.4,393.8 687.0,399.2 702.5,406.2 716.0,414.8 727.8,425.0 738.0,436.8 746.6,450.3 753.6,465.8 759.0,483.4 762.9,503.9 765.2,528.8" fill="#1a1488"/>
<polygon points="763.5,571.8 762.7,614.2 760.4,638.8 756.6,659.0 751.2,676.4 744.3,691.6 735.9,705.0 725.9,716.7 714.2,726.7 700.8,735.1 685.6,742.0 668.2,747.4 648.0,751.2 623.4,753.5 581.0,754.3 538.6,753.5 514.0,751.2 493.8,747.4 476.4,742.0 461.2,735.1 447.8,726.7 436.1,716.7 426.1,705.0 417.7,691.6 410.8,676.4 405.4,659.0 401.6,638.8 399.3,614.2 398.5,571.8 399.3,529.4 401.6,504.8 405.4,484.6 410.8,467.2 417.7,452.0 426.1,438.6 436.1,426.9 447.8,416.9 461.2,408.5 476.4,401.6 493.8,396.2 514.0,392.4 538.6,390.1 581.0,389.3 623.4,390.1 648.0,392.4 668.2,396.2 685.6,401.6 700.8,408.5 714.2,416.9 725.9,426.9 735.9,438.6 744.3,452.0 751.2,467.2 756.6,484.6 760.4,504.8 762.7,529.4" fill="#1a1488"/>
<polygon points="761.0,571.8 760.2,613.6 758.0,637.9 754.2,657.8 748.9,675.0 742.1,690.0 733.8,703.2 723.9,714.7 712.4,724.6 699.2,732.9 684.2,739.7 667.0,745.0 647.1,748.8 622.8,751.0 581.0,751.8 539.2,751.0 514.9,748.8 495.0,745.0 477.8,739.7 462.8,732.9 449.6,724.6 438.1,714.7 428.2,703.2 419.9,690.0 413.1,675.0 407.8,657.8 404.0,637.9 401.8,613.6 401.0,571.8 401.8,530.0 404.0,505.7 407.8,485.8 413.1,468.6 419.9,453.6 428.2,440.4 438.1,428.9 449.6,419.0 462.8,410.7 477.8,403.9 495.0,398.6 514.9,394.8 539.2,392.6 581.0,391.8 622.8,392.6 647.1,394.8 667.0,398.6 684.2,403.9 699.2,410.7 712.4,419.0 723.9,428.9 733.8,440.4 742.1,453.6 748.9,468.6 754.2,485.8 758.0,505.7 760.2,530.0" fill="#1a1488"/>
<polygon points="758.5,571.8 757.8,613.0 755.5,637.0 751.8,656.6 746.6,673.5 739.9,688.3 731.6,701.3 721.9,712.7 710.5,722.4 697.5,730.7 682.7,737.4 665.8,742.6 646.2,746.3 622.2,748.6 581.0,749.3 539.8,748.6 515.8,746.3 496.2,742.6 479.3,737.4 464.5,730.7 451.5,722.4 440.1,712.7 430.4,701.3 422.1,688.3 415.4,673.5 410.2,656.6 406.5,637.0 404.2,613.0 403.5,571.8 404.2,530.6 406.5,506.6 410.2,487.0 415.4,470.1 422.1,455.3 430.4,442.3 440.1,430.9 451.5,421.2 464.5,412.9 479.3,406.2 496.2,401.0 515.8,397.3 539.8,395.0 581.0,394.3 622.2,395.0 646.2,397.3 665.8,401.0 682.7,406.2 697.5,412.9 710.5,421.2 721.9,430.9 731.6,442.3 739.9,455.3 746.6,470.1 751.8,487.0 755.5,506.6 757.8,530.6" fill="#1a1488"/>
<polygon points="756.0,571.8 755.3,612.5 753.1,636.1 749.4,655.4 744.2,672.1 737.6,686.7 729.5,699.5 719.9,710.7 708.7,720.3 695.9,728.4 681.3,735.0 664.6,740.2 645.3,743.9 621.7,746.1 581.0,746.8 540.3,746.1 516.7,743.9 497.4,740.2 480.7,735.0 466.1,728.4 453.3,720.3 442.1,710.7 432.5,699.5 424.4,686.7 417.8,672.1 412.6,655.4 408.9,636.1 406.7,612.5 406.0,571.8 406.7,531.1 408.9,507.5 412.6,488.2 417.8,471.5 424.4,456.9 432.5,444.1 442.1,432.9 453.3,423.3 466.1,415.2 480.7,408.6 497.4,403.4 516.7,399.7 540.3,397.5 581.0,396.8 621.7,397.5 645.3,399.7 664.6,403.4 681.3,408.6 695.9,415.2 708.7,423.3 719.9,432.9 729.5,444.1 737.6,456.9 744.2,471.5 749.4,488.2 753.1,507.5 755.3,531.1" fill="#1a1488"/>
<polygon points="753.5,571.8 752.8,611.9 750.6,635.1 747.0,654.2 741.9,670.7 735.4,685.1 727.4,697.7 717.9,708.7 706.9,718.2 694.3,726.2 679.9,732.7 663.4,737.8 644.3,741.4 621.1,743.6 581.0,744.3 540.9,743.6 517.7,741.4 498.6,737.8 482.1,732.7 467.7,726.2 455.1,718.2 444.1,708.7 434.6,697.7 426.6,685.1 420.1,670.7 415.0,654.2 411.4,635.1 409.2,611.9 408.5,571.8 409.2,531.7 411.4,508.5 415.0,489.4 420.1,472.9 426.6,458.5 434.6,445.9 444.1,434.9 455.1,425.4 467.7,417.4 482.1,410.9 498.6,405.8 517.7,402.2 540.9,400.0 581.0,399.3 621.1,400.0 644.3,402.2 663.4,405.8 679.9,410.9 694.3,417.4 706.9,425.4 717.9,434.9 727.4,445.9 735.4,458.5 741.9,472.9 747.0,489.4 750.6,508.5 752.8,531.7" fill="#1a1488"/>
<polygon points="751.0,571.8 750.3,611.3 748.1,634.2 744.6,653.0 739.6,669.2 733.2,683.4 725.3,695.9 715.9,706.7 705.1,716.1 692.6,724.0 678.4,730.4 662.2,735.4 643.4,738.9 620.5,741.1 581.0,741.8 541.5,741.1 518.6,738.9 499.8,735.4 483.6,730.4 469.4,724.0 456.9,716.1 446.1,706.7 436.7,695.9 428.8,683.4 422.4,669.2 417.4,653.0 413.9,634.2 411.7,611.3 411.0,571.8 411.7,532.3 413.9,509.4 417.4,490.6 422.4,474.4 428.8,460.2 436.7,447.7 446.1,436.9 456.9,427.5 469.4,419.6 483.6,413.2 499.8,408.2 518.6,404.7 541.5,402.5 581.0,401.8 620.5,402.5 643.4,404.7 662.2,408.2 678.4,413.2 692.6,419.6 705.1,427.5 715.9,436.9 725.3,447.7 733.2,460.2 739.6,474.4 744.6,490.6 748.1,509.4 750.3,532.3" fill="#1a1488"/>
<polygon points="748.5,571.8 747.8,610.7 745.7,633.3 742.2,651.8 737.3,667.8 730.9,681.8 723.2,694.0 713.9,704.7 703.2,714.0 691.0,721.7 677.0,728.1 661.0,733.0 642.5,736.5 619.9,738.6 581.0,739.3 542.1,738.6 519.5,736.5 501.0,733.0 485.0,728.1 471.0,721.7 458.8,714.0 448.1,704.7 438.8,694.0 431.1,681.8 424.7,667.8 419.8,651.8 416.3,633.3 414.2,610.7 413.5,571.8 414.2,532.9 416.3,510.3 419.8,491.8 424.7,475.8 431.1,461.8 438.8,449.6 448.1,438.9 458.8,429.6 471.0,421.9 485.0,415.5 501.0,410.6 519.5,407.1 542.1,405.0 581.0,404.3 619.9,405.0 642.5,407.1 661.0,410.6 677.0,415.5 691.0,421.9 703.2,429.6 713.9,438.9 723.2,449.6 730.9,461.8 737.3,475.8 742.2,491.8 745.7,510.3 747.8,532.9" fill="#1a1489"/>
<polygon points="746.0,571.8 745.3,610.1 743.2,632.4 739.8,650.6 734.9,666.4 728.7,680.1 721.0,692.2 712.0,702.8 701.4,711.8 689.3,719.5 675.6,725.7 659.8,730.6 641.6,734.0 619.3,736.1 581.0,736.8 542.7,736.1 520.4,734.0 502.2,730.6 486.4,725.7 472.7,719.5 460.6,711.8 450.0,702.8 441.0,692.2 433.3,680.1 427.1,666.4 422.2,650.6 418.8,632.4 416.7,610.1 416.0,571.8 416.7,533.5 418.8,511.2 422.2,493.0 427.1,477.2 433.3,463.5 441.0,451.4 450.0,440.8 460.6,431.8 472.7,424.1 486.4,417.9 502.2,413.0 520.4,409.6 542.7,407.5 581.0,406.8 619.3,407.5 641.6,409.6 659.8,413.0 675.6,417.9 689.3,424.1 701.4,431.8 712.0,440.8 721.0,451.4 728.7,463.5 734.9,477.2 739.8,493.0 743.2,511.2 745.3,533.5" fill="#1b158d"/>
<polygon points="743.5,571.8 742.8,609.5 740.8,631.5 737.4,649.4 732.6,664.9 726.4,678.5 718.9,690.4 710.0,700.8 699.6,709.7 687.7,717.2 674.1,723.4 658.6,728.2 640.7,731.6 618.7,733.6 581.0,734.3 543.3,733.6 521.3,731.6 503.4,728.2 487.9,723.4 474.3,717.2 462.4,709.7 452.0,700.8 443.1,690.4 435.6,678.5 429.4,664.9 424.6,649.4 421.2,631.5 419.2,609.5 418.5,571.8 419.2,534.1 421.2,512.1 424.6,494.2 429.4,478.7 435.6,465.1 443.1,453.2 452.0,442.8 462.4,433.9 474.3,426.4 487.9,420.2 503.4,415.4 521.3,412.0 543.3,410.0 581.0,409.3 618.7,410.0 640.7,412.0 658.6,415.4 674.1,420.2 687.7,426.4 699.6,433.9 710.0,442.8 718.9,453.2 726.4,465.1 732.6,478.7 737.4,494.2 740.8,512.1 742.8,534.1" fill="#1b1691"/>
<polygon points="741.0,571.8 740.3,609.0 738.3,630.6 735.0,648.2 730.3,663.5 724.2,676.9 716.8,688.6 708.0,698.8 697.8,707.6 686.1,715.0 672.7,721.1 657.4,725.8 639.8,729.1 618.2,731.1 581.0,731.8 543.8,731.1 522.2,729.1 504.6,725.8 489.3,721.1 475.9,715.0 464.2,707.6 454.0,698.8 445.2,688.6 437.8,676.9 431.7,663.5 427.0,648.2 423.7,630.6 421.7,609.0 421.0,571.8 421.7,534.6 423.7,513.0 427.0,495.4 431.7,480.1 437.8,466.7 445.2,455.0 454.0,444.8 464.2,436.0 475.9,428.6 489.3,422.5 504.6,417.8 522.2,414.5 543.8,412.5 581.0,411.8 618.2,412.5 639.8,414.5 657.4,417.8 672.7,422.5 686.1,428.6 697.8,436.0 708.0,444.8 716.8,455.0 724.2,466.7 730.3,480.1 735.0,495.4 738.3,513.0 740.3,534.6" fill="#1c1795"/>
<polygon points="738.5,571.8 737.8,608.4 735.9,629.6 732.6,647.1 727.9,662.1 722.0,675.2 714.7,686.7 706.0,696.8 695.9,705.5 684.4,712.8 671.3,718.7 656.3,723.4 638.8,726.7 617.6,728.6 581.0,729.3 544.4,728.6 523.2,726.7 505.7,723.4 490.7,718.7 477.6,712.8 466.1,705.5 456.0,696.8 447.3,686.7 440.0,675.2 434.1,662.1 429.4,647.1 426.1,629.6 424.2,608.4 423.5,571.8 424.2,535.2 426.1,514.0 429.4,496.5 434.1,481.5 440.0,468.4 447.3,456.9 456.0,446.8 466.1,438.1 477.6,430.8 490.7,424.9 505.7,420.2 523.2,416.9 544.4,415.0 581.0,414.3 617.6,415.0 638.8,416.9 656.3,420.2 671.3,424.9 684.4,430.8 695.9,438.1 706.0,446.8 714.7,456.9 722.0,468.4 727.9,481.5 732.6,496.5 735.9,514.0 737.8,535.2" fill="#1c1798"/>
<polygon points="736.0,571.8 735.3,607.8 733.4,628.7 730.1,645.9 725.6,660.6 719.7,673.6 712.5,684.9 704.0,694.8 694.1,703.3 682.8,710.5 669.8,716.4 655.1,720.9 637.9,724.2 617.0,726.1 581.0,726.8 545.0,726.1 524.1,724.2 506.9,720.9 492.2,716.4 479.2,710.5 467.9,703.3 458.0,694.8 449.5,684.9 442.3,673.6 436.4,660.6 431.9,645.9 428.6,628.7 426.7,607.8 426.0,571.8 426.7,535.8 428.6,514.9 431.9,497.7 436.4,483.0 442.3,470.0 449.5,458.7 458.0,448.8 467.9,440.3 479.2,433.1 492.2,427.2 506.9,422.7 524.1,419.4 545.0,417.5 581.0,416.8 617.0,417.5 637.9,419.4 655.1,422.7 669.8,427.2 682.8,433.1 694.1,440.3 704.0,448.8 712.5,458.7 719.7,470.0 725.6,483.0 730.1,497.7 733.4,514.9 735.3,535.8" fill="#1c189a"/>
<polygon points="733.5,571.8 732.9,607.2 730.9,627.8 727.7,644.7 723.3,659.2 717.5,671.9 710.4,683.1 702.0,692.8 692.3,701.2 681.1,708.3 668.4,714.1 653.9,718.5 637.0,721.7 616.4,723.7 581.0,724.3 545.6,723.7 525.0,721.7 508.1,718.5 493.6,714.1 480.9,708.3 469.7,701.2 460.0,692.8 451.6,683.1 444.5,671.9 438.7,659.2 434.3,644.7 431.1,627.8 429.1,607.2 428.5,571.8 429.1,536.4 431.1,515.8 434.3,498.9 438.7,484.4 444.5,471.7 451.6,460.5 460.0,450.8 469.7,442.4 480.9,435.3 493.6,429.5 508.1,425.1 525.0,421.9 545.6,419.9 581.0,419.3 616.4,419.9 637.0,421.9 653.9,425.1 668.4,429.5 681.1,435.3 692.3,442.4 702.0,450.8 710.4,460.5 717.5,471.7 723.3,484.4 727.7,498.9 730.9,515.8 732.9,536.4" fill="#1d199d"/>
<polygon points="731.0,571.8 730.4,606.6 728.5,626.9 725.3,643.5 720.9,657.8 715.3,670.3 708.3,681.3 700.1,690.9 690.5,699.1 679.5,706.1 667.0,711.7 652.7,716.1 636.1,719.3 615.8,721.2 581.0,721.8 546.2,721.2 525.9,719.3 509.3,716.1 495.0,711.7 482.5,706.1 471.5,699.1 461.9,690.9 453.7,681.3 446.7,670.3 441.1,657.8 436.7,643.5 433.5,626.9 431.6,606.6 431.0,571.8 431.6,537.0 433.5,516.7 436.7,500.1 441.1,485.8 446.7,473.3 453.7,462.3 461.9,452.7 471.5,444.5 482.5,437.5 495.0,431.9 509.3,427.5 525.9,424.3 546.2,422.4 581.0,421.8 615.8,422.4 636.1,424.3 652.7,427.5 667.0,431.9 679.5,437.5 690.5,444.5 700.1,452.7 708.3,462.3 715.3,473.3 720.9,485.8 725.3,500.1 728.5,516.7 730.4,537.0" fill="#1d19a0"/>
<polygon points="728.5,571.8 727.9,606.1 726.0,626.0 722.9,642.3 718.6,656.3 713.0,668.6 706.2,679.4 698.1,688.9 688.6,697.0 677.8,703.8 665.5,709.4 651.5,713.7 635.2,716.8 615.3,718.7 581.0,719.3 546.7,718.7 526.8,716.8 510.5,713.7 496.5,709.4 484.2,703.8 473.4,697.0 463.9,688.9 455.8,679.4 449.0,668.6 443.4,656.3 439.1,642.3 436.0,626.0 434.1,606.1 433.5,571.8 434.1,537.5 436.0,517.6 439.1,501.3 443.4,487.3 449.0,475.0 455.8,464.2 463.9,454.7 473.4,446.6 484.2,439.8 496.5,434.2 510.5,429.9 526.8,426.8 546.7,424.9 581.0,424.3 615.3,424.9 635.2,426.8 651.5,429.9 665.5,434.2 677.8,439.8 688.6,446.6 698.1,454.7 706.2,464.2 713.0,475.0 718.6,487.3 722.9,501.3 726.0,517.6 727.9,537.5" fill="#1d1aa2"/>
<polygon points="726.0,571.8 725.4,605.5 723.6,625.0 720.5,641.1 716.3,654.9 710.8,667.0 704.1,677.6 696.1,686.9 686.8,694.9 676.2,701.6 664.1,707.1 650.3,711.3 634.2,714.4 614.7,716.2 581.0,716.8 547.3,716.2 527.8,714.4 511.7,711.3 497.9,707.1 485.8,701.6 475.2,694.9 465.9,686.9 457.9,677.6 451.2,667.0 445.7,654.9 441.5,641.1 438.4,625.0 436.6,605.5 436.0,571.8 436.6,538.1 438.4,518.6 441.5,502.5 445.7,488.7 451.2,476.6 457.9,466.0 465.9,456.7 475.2,448.7 485.8,442.0 497.9,436.5 511.7,432.3 527.8,429.2 547.3,427.4 581.0,426.8 614.7,427.4 634.2,429.2 650.3,432.3 664.1,436.5 676.2,442.0 686.8,448.7 696.1,456.7 704.1,466.0 710.8,476.6 716.3,488.7 720.5,502.5 723.6,518.6 725.4,538.1" fill="#1e1aa5"/>
<polygon points="723.5,571.8 722.9,604.9 721.1,624.1 718.1,639.9 713.9,653.5 708.5,665.4 701.9,675.8 694.1,684.9 685.0,692.7 674.6,699.3 662.7,704.7 649.1,708.9 633.3,711.9 614.1,713.7 581.0,714.3 547.9,713.7 528.7,711.9 512.9,708.9 499.3,704.7 487.4,699.3 477.0,692.7 467.9,684.9 460.1,675.8 453.5,665.4 448.1,653.5 443.9,639.9 440.9,624.1 439.1,604.9 438.5,571.8 439.1,538.7 440.9,519.5 443.9,503.7 448.1,490.1 453.5,478.2 460.1,467.8 467.9,458.7 477.0,450.9 487.4,444.3 499.3,438.9 512.9,434.7 528.7,431.7 547.9,429.9 581.0,429.3 614.1,429.9 633.3,431.7 649.1,434.7 662.7,438.9 674.6,444.3 685.0,450.9 694.1,458.7 701.9,467.8 708.5,478.2 713.9,490.1 718.1,503.7 721.1,519.5 722.9,538.7" fill="#1e1ba9"/>
<polygon points="721.0,571.8 720.4,604.3 718.7,623.2 715.7,638.7 711.6,652.0 706.3,663.7 699.8,674.0 692.1,682.9 683.2,690.6 672.9,697.1 661.2,702.4 647.9,706.5 632.4,709.5 613.5,711.2 581.0,711.8 548.5,711.2 529.6,709.5 514.1,706.5 500.8,702.4 489.1,697.1 478.8,690.6 469.9,682.9 462.2,674.0 455.7,663.7 450.4,652.0 446.3,638.7 443.3,623.2 441.6,604.3 441.0,571.8 441.6,539.3 443.3,520.4 446.3,504.9 450.4,491.6 455.7,479.9 462.2,469.6 469.9,460.7 478.8,453.0 489.1,446.5 500.8,441.2 514.1,437.1 529.6,434.1 548.5,432.4 581.0,431.8 613.5,432.4 632.4,434.1 647.9,437.1 661.2,441.2 672.9,446.5 683.2,453.0 692.1,460.7 699.8,469.6 706.3,479.9 711.6,491.6 715.7,504.9 718.7,520.4 720.4,539.3" fill="#1f1cac"/>
<polygon points="718.5,571.8 717.9,603.7 716.2,622.3 713.3,637.5 709.3,650.6 704.1,662.1 697.7,672.2 690.1,680.9 681.4,688.5 671.3,694.9 659.8,700.1 646.7,704.1 631.5,707.0 612.9,708.7 581.0,709.3 549.1,708.7 530.5,707.0 515.3,704.1 502.2,700.1 490.7,694.9 480.6,688.5 471.9,680.9 464.3,672.2 457.9,662.1 452.7,650.6 448.7,637.5 445.8,622.3 444.1,603.7 443.5,571.8 444.1,539.9 445.8,521.3 448.7,506.1 452.7,493.0 457.9,481.5 464.3,471.4 471.9,462.7 480.6,455.1 490.7,448.7 502.2,443.5 515.3,439.5 530.5,436.6 549.1,434.9 581.0,434.3 612.9,434.9 631.5,436.6 646.7,439.5 659.8,443.5 671.3,448.7 681.4,455.1 690.1,462.7 697.7,471.4 704.1,481.5 709.3,493.0 713.3,506.1 716.2,521.3 717.9,539.9" fill="#1f1db0"/>
<polygon points="716.0,571.8 715.4,603.2 713.7,621.4 710.9,636.3 706.9,649.2 701.8,660.4 695.6,670.3 688.1,678.9 679.5,686.4 669.6,692.6 658.4,697.7 645.5,701.7 630.6,704.5 612.4,706.2 581.0,706.8 549.6,706.2 531.4,704.5 516.5,701.7 503.6,697.7 492.4,692.6 482.5,686.4 473.9,678.9 466.4,670.3 460.2,660.4 455.1,649.2 451.1,636.3 448.3,621.4 446.6,603.2 446.0,571.8 446.6,540.4 448.3,522.2 451.1,507.3 455.1,494.4 460.2,483.2 466.4,473.3 473.9,464.7 482.5,457.2 492.4,451.0 503.6,445.9 516.5,441.9 531.4,439.1 549.6,437.4 581.0,436.8 612.4,437.4 630.6,439.1 645.5,441.9 658.4,445.9 669.6,451.0 679.5,457.2 688.1,464.7 695.6,473.3 701.8,483.2 706.9,494.4 710.9,507.3 713.7,522.2 715.4,540.4" fill="#201eb4"/>
<polygon points="713.5,571.8 712.9,602.6 711.3,620.5 708.5,635.1 704.6,647.7 699.6,658.8 693.4,668.5 686.2,677.0 677.7,684.2 668.0,690.4 656.9,695.4 644.3,699.3 629.7,702.1 611.8,703.7 581.0,704.3 550.2,703.7 532.3,702.1 517.7,699.3 505.1,695.4 494.0,690.4 484.3,684.2 475.8,677.0 468.6,668.5 462.4,658.8 457.4,647.7 453.5,635.1 450.7,620.5 449.1,602.6 448.5,571.8 449.1,541.0 450.7,523.1 453.5,508.5 457.4,495.9 462.4,484.8 468.6,475.1 475.8,466.6 484.3,459.4 494.0,453.2 505.1,448.2 517.7,444.3 532.3,441.5 550.2,439.9 581.0,439.3 611.8,439.9 629.7,441.5 644.3,444.3 656.9,448.2 668.0,453.2 677.7,459.4 686.2,466.6 693.4,475.1 699.6,484.8 704.6,495.9 708.5,508.5 711.3,523.1 712.9,541.0" fill="#201fb8"/>
<polygon points="711.0,571.8 710.5,602.0 708.8,619.5 706.1,633.9 702.3,646.3 697.4,657.2 691.3,666.7 684.2,675.0 675.9,682.1 666.4,688.2 655.5,693.1 643.1,696.9 628.7,699.6 611.2,701.3 581.0,701.8 550.8,701.3 533.3,699.6 518.9,696.9 506.5,693.1 495.6,688.2 486.1,682.1 477.8,675.0 470.7,666.7 464.6,657.2 459.7,646.3 455.9,633.9 453.2,619.5 451.5,602.0 451.0,571.8 451.5,541.6 453.2,524.1 455.9,509.7 459.7,497.3 464.6,486.4 470.7,476.9 477.8,468.6 486.1,461.5 495.6,455.4 506.5,450.5 518.9,446.7 533.3,444.0 550.8,442.3 581.0,441.8 611.2,442.3 628.7,444.0 643.1,446.7 655.5,450.5 666.4,455.4 675.9,461.5 684.2,468.6 691.3,476.9 697.4,486.4 702.3,497.3 706.1,509.7 708.8,524.1 710.5,541.6" fill="#2121bd"/>
<polygon points="708.5,571.8 708.0,601.4 706.4,618.6 703.7,632.7 699.9,644.9 695.1,655.5 689.2,664.9 682.2,673.0 674.1,680.0 664.7,685.9 654.1,690.7 641.9,694.5 627.8,697.2 610.6,698.8 581.0,699.3 551.4,698.8 534.2,697.2 520.1,694.5 507.9,690.7 497.3,685.9 487.9,680.0 479.8,673.0 472.8,664.9 466.9,655.5 462.1,644.9 458.3,632.7 455.6,618.6 454.0,601.4 453.5,571.8 454.0,542.2 455.6,525.0 458.3,510.9 462.1,498.7 466.9,488.1 472.8,478.7 479.8,470.6 487.9,463.6 497.3,457.7 507.9,452.9 520.1,449.1 534.2,446.4 551.4,444.8 581.0,444.3 610.6,444.8 627.8,446.4 641.9,449.1 654.1,452.9 664.7,457.7 674.1,463.6 682.2,470.6 689.2,478.7 695.1,488.1 699.9,498.7 703.7,510.9 706.4,525.0 708.0,542.2" fill="#2223c2"/>
<polygon points="706.0,571.8 705.5,600.8 703.9,617.7 701.3,631.5 697.6,643.4 692.9,653.9 687.1,663.0 680.2,671.0 672.2,677.9 663.1,683.7 652.6,688.4 640.7,692.1 626.9,694.7 610.0,696.3 581.0,696.8 552.0,696.3 535.1,694.7 521.3,692.1 509.4,688.4 498.9,683.7 489.8,677.9 481.8,671.0 474.9,663.0 469.1,653.9 464.4,643.4 460.7,631.5 458.1,617.7 456.5,600.8 456.0,571.8 456.5,542.8 458.1,525.9 460.7,512.1 464.4,500.2 469.1,489.7 474.9,480.6 481.8,472.6 489.8,465.7 498.9,459.9 509.4,455.2 521.3,451.5 535.1,448.9 552.0,447.3 581.0,446.8 610.0,447.3 626.9,448.9 640.7,451.5 652.6,455.2 663.1,459.9 672.2,465.7 680.2,472.6 687.1,480.6 692.9,489.7 697.6,500.2 701.3,512.1 703.9,525.9 705.5,542.8" fill="#2325c7"/>
<polygon points="703.5,571.8 703.0,600.3 701.4,616.8 698.9,630.3 695.3,642.0 690.6,652.2 685.0,661.2 678.2,669.0 670.4,675.8 661.4,681.4 651.2,686.1 639.5,689.7 626.0,692.2 609.5,693.8 581.0,694.3 552.5,693.8 536.0,692.2 522.5,689.7 510.8,686.1 500.6,681.4 491.6,675.8 483.8,669.0 477.0,661.2 471.4,652.2 466.7,642.0 463.1,630.3 460.6,616.8 459.0,600.3 458.5,571.8 459.0,543.3 460.6,526.8 463.1,513.3 466.7,501.6 471.4,491.4 477.0,482.4 483.8,474.6 491.6,467.8 500.6,462.2 510.8,457.5 522.5,453.9 536.0,451.4 552.5,449.8 581.0,449.3 609.5,449.8 626.0,451.4 639.5,453.9 651.2,457.5 661.4,462.2 670.4,467.8 678.2,474.6 685.0,482.4 690.6,491.4 695.3,501.6 698.9,513.3 701.4,526.8 703.0,543.3" fill="#2427cd"/>
<polygon points="701.0,571.8 700.5,599.7 699.0,615.9 696.5,629.1 692.9,640.6 688.4,650.6 682.8,659.4 676.2,667.0 668.6,673.6 659.8,679.2 649.8,683.7 638.3,687.3 625.1,689.8 608.9,691.3 581.0,691.8 553.1,691.3 536.9,689.8 523.7,687.3 512.2,683.7 502.2,679.2 493.4,673.6 485.8,667.0 479.2,659.4 473.6,650.6 469.1,640.6 465.5,629.1 463.0,615.9 461.5,599.7 461.0,571.8 461.5,543.9 463.0,527.7 465.5,514.5 469.1,503.0 473.6,493.0 479.2,484.2 485.8,476.6 493.4,470.0 502.2,464.4 512.2,459.9 523.7,456.3 536.9,453.8 553.1,452.3 581.0,451.8 608.9,452.3 625.1,453.8 638.3,456.3 649.8,459.9 659.8,464.4 668.6,470.0 676.2,476.6 682.8,484.2 688.4,493.0 692.9,503.0 696.5,514.5 699.0,527.7 700.5,543.9" fill="#252ad2"/>
<polygon points="698.5,571.8 698.0,599.1 696.5,614.9 694.1,627.9 690.6,639.1 686.2,648.9 680.7,657.6 674.3,665.1 666.8,671.5 658.1,677.0 648.3,681.4 637.1,684.9 624.1,687.3 608.3,688.8 581.0,689.3 553.7,688.8 537.9,687.3 524.9,684.9 513.7,681.4 503.9,677.0 495.2,671.5 487.7,665.1 481.3,657.6 475.8,648.9 471.4,639.1 467.9,627.9 465.5,614.9 464.0,599.1 463.5,571.8 464.0,544.5 465.5,528.7 467.9,515.7 471.4,504.5 475.8,494.7 481.3,486.0 487.7,478.5 495.2,472.1 503.9,466.6 513.7,462.2 524.9,458.7 537.9,456.3 553.7,454.8 581.0,454.3 608.3,454.8 624.1,456.3 637.1,458.7 648.3,462.2 658.1,466.6 666.8,472.1 674.3,478.5 680.7,486.0 686.2,494.7 690.6,504.5 694.1,515.7 696.5,528.7 698.0,544.5" fill="#262cd7"/>
<polygon points="696.0,571.8 695.5,598.5 694.1,614.0 691.7,626.7 688.3,637.7 683.9,647.3 678.6,655.7 672.3,663.1 664.9,669.4 656.5,674.7 646.9,679.1 635.9,682.5 623.2,684.9 607.7,686.3 581.0,686.8 554.3,686.3 538.8,684.9 526.1,682.5 515.1,679.1 505.5,674.7 497.1,669.4 489.7,663.1 483.4,655.7 478.1,647.3 473.7,637.7 470.3,626.7 467.9,614.0 466.5,598.5 466.0,571.8 466.5,545.1 467.9,529.6 470.3,516.9 473.7,505.9 478.1,496.3 483.4,487.9 489.7,480.5 497.1,474.2 505.5,468.9 515.1,464.5 526.1,461.1 538.8,458.7 554.3,457.3 581.0,456.8 607.7,457.3 623.2,458.7 635.9,461.1 646.9,464.5 656.5,468.9 664.9,474.2 672.3,480.5 678.6,487.9 683.9,496.3 688.3,505.9 691.7,516.9 694.1,529.6 695.5,545.1" fill="#262edd"/>
<polygon points="693.5,571.8 693.0,597.9 691.6,613.1 689.3,625.6 685.9,636.3 681.7,645.7 676.5,653.9 670.3,661.1 663.1,667.3 654.9,672.5 645.5,676.7 634.8,680.1 622.3,682.4 607.1,683.8 581.0,684.3 554.9,683.8 539.7,682.4 527.2,680.1 516.5,676.7 507.1,672.5 498.9,667.3 491.7,661.1 485.5,653.9 480.3,645.7 476.1,636.3 472.7,625.6 470.4,613.1 469.0,597.9 468.5,571.8 469.0,545.7 470.4,530.5 472.7,518.0 476.1,507.3 480.3,497.9 485.5,489.7 491.7,482.5 498.9,476.3 507.1,471.1 516.5,466.9 527.2,463.5 539.7,461.2 554.9,459.8 581.0,459.3 607.1,459.8 622.3,461.2 634.8,463.5 645.5,466.9 654.9,471.1 663.1,476.3 670.3,482.5 676.5,489.7 681.7,497.9 685.9,507.3 689.3,518.0 691.6,530.5 693.0,545.7" fill="#2730e2"/>
<polygon points="691.0,571.8 690.5,597.4 689.2,612.2 686.8,624.4 683.6,634.8 679.5,644.0 674.4,652.1 668.3,659.1 661.3,665.2 653.2,670.3 644.0,674.4 633.6,677.6 621.4,680.0 606.6,681.3 581.0,681.8 555.4,681.3 540.6,680.0 528.4,677.6 518.0,674.4 508.8,670.3 500.7,665.2 493.7,659.1 487.6,652.1 482.5,644.0 478.4,634.8 475.2,624.4 472.8,612.2 471.5,597.4 471.0,571.8 471.5,546.2 472.8,531.4 475.2,519.2 478.4,508.8 482.5,499.6 487.6,491.5 493.7,484.5 500.7,478.4 508.8,473.3 518.0,469.2 528.4,466.0 540.6,463.6 555.4,462.3 581.0,461.8 606.6,462.3 621.4,463.6 633.6,466.0 644.0,469.2 653.2,473.3 661.3,478.4 668.3,484.5 674.4,491.5 679.5,499.6 683.6,508.8 686.8,519.2 689.2,531.4 690.5,546.2" fill="#2833e6"/>
<polygon points="688.5,571.8 688.0,596.8 686.7,611.3 684.4,623.2 681.3,633.4 677.2,642.4 672.2,650.3 666.3,657.1 659.5,663.0 651.6,668.0 642.6,672.1 632.4,675.2 620.5,677.5 606.0,678.8 581.0,679.3 556.0,678.8 541.5,677.5 529.6,675.2 519.4,672.1 510.4,668.0 502.5,663.0 495.7,657.1 489.8,650.3 484.8,642.4 480.7,633.4 477.6,623.2 475.3,611.3 474.0,596.8 473.5,571.8 474.0,546.8 475.3,532.3 477.6,520.4 480.7,510.2 484.8,501.2 489.8,493.3 495.7,486.5 502.5,480.6 510.4,475.6 519.4,471.5 529.6,468.4 541.5,466.1 556.0,464.8 581.0,464.3 606.0,464.8 620.5,466.1 632.4,468.4 642.6,471.5 651.6,475.6 659.5,480.6 666.3,486.5 672.2,493.3 677.2,501.2 681.3,510.2 684.4,520.4 686.7,532.3 688.0,546.8" fill="#253ae8"/>
<polygon points="686.0,571.8 685.6,596.2 684.2,610.4 682.0,622.0 678.9,632.0 675.0,640.7 670.1,648.4 664.3,655.1 657.6,660.9 649.9,665.8 641.2,669.7 631.2,672.8 619.6,675.0 605.4,676.4 581.0,676.8 556.6,676.4 542.4,675.0 530.8,672.8 520.8,669.7 512.1,665.8 504.4,660.9 497.7,655.1 491.9,648.4 487.0,640.7 483.1,632.0 480.0,622.0 477.8,610.4 476.4,596.2 476.0,571.8 476.4,547.4 477.8,533.2 480.0,521.6 483.1,511.6 487.0,502.9 491.9,495.2 497.7,488.5 504.4,482.7 512.1,477.8 520.8,473.9 530.8,470.8 542.4,468.6 556.6,467.2 581.0,466.8 605.4,467.2 619.6,468.6 631.2,470.8 641.2,473.9 649.9,477.8 657.6,482.7 664.3,488.5 670.1,495.2 675.0,502.9 678.9,511.6 682.0,521.6 684.2,533.2 685.6,547.4" fill="#2241e9"/>
<polygon points="683.5,571.8 683.1,594.1 681.7,607.7 679.5,619.1 676.3,629.1 672.3,637.8 667.3,645.5 661.5,652.3 654.7,658.1 647.0,663.1 638.3,667.1 628.3,670.3 616.9,672.5 603.3,673.9 581.0,674.3 558.7,673.9 545.1,672.5 533.7,670.3 523.7,667.1 515.0,663.1 507.3,658.1 500.5,652.3 494.7,645.5 489.7,637.8 485.7,629.1 482.5,619.1 480.3,607.7 478.9,594.1 478.5,571.8 478.9,549.5 480.3,535.9 482.5,524.5 485.7,514.5 489.7,505.8 494.7,498.1 500.5,491.3 507.3,485.5 515.0,480.5 523.7,476.5 533.7,473.3 545.1,471.1 558.7,469.7 581.0,469.3 603.3,469.7 616.9,471.1 628.3,473.3 638.3,476.5 647.0,480.5 654.7,485.5 661.5,491.3 667.3,498.1 672.3,505.8 676.3,514.5 679.5,524.5 681.7,535.9 683.1,549.5" fill="#1f48eb"/>
<polygon points="681.0,571.8 680.5,592.0 679.2,605.1 676.9,616.3 673.7,626.1 669.6,634.9 664.5,642.6 658.6,649.4 651.8,655.3 644.1,660.4 635.3,664.5 625.5,667.7 614.3,670.0 601.2,671.3 581.0,671.8 560.8,671.3 547.7,670.0 536.5,667.7 526.7,664.5 517.9,660.4 510.2,655.3 503.4,649.4 497.5,642.6 492.4,634.9 488.3,626.1 485.1,616.3 482.8,605.1 481.5,592.0 481.0,571.8 481.5,551.6 482.8,538.5 485.1,527.3 488.3,517.5 492.4,508.7 497.5,501.0 503.4,494.2 510.2,488.3 517.9,483.2 526.7,479.1 536.5,475.9 547.7,473.6 560.8,472.3 581.0,471.8 601.2,472.3 614.3,473.6 625.5,475.9 635.3,479.1 644.1,483.2 651.8,488.3 658.6,494.2 664.5,501.0 669.6,508.7 673.7,517.5 676.9,527.3 679.2,538.5 680.5,551.6" fill="#1c50ed"/>
<polygon points="678.5,571.8 678.0,590.0 676.6,602.6 674.3,613.5 671.0,623.2 666.8,631.9 661.7,639.6 655.7,646.5 648.8,652.5 641.1,657.6 632.4,661.8 622.7,665.1 611.8,667.4 599.2,668.8 581.0,669.3 562.8,668.8 550.2,667.4 539.3,665.1 529.6,661.8 520.9,657.6 513.2,652.5 506.3,646.5 500.3,639.6 495.2,631.9 491.0,623.2 487.7,613.5 485.4,602.6 484.0,590.0 483.5,571.8 484.0,553.6 485.4,541.0 487.7,530.1 491.0,520.4 495.2,511.7 500.3,504.0 506.3,497.1 513.2,491.1 520.9,486.0 529.6,481.8 539.3,478.5 550.2,476.2 562.8,474.8 581.0,474.3 599.2,474.8 611.8,476.2 622.7,478.5 632.4,481.8 641.1,486.0 648.8,491.1 655.7,497.1 661.7,504.0 666.8,511.7 671.0,520.4 674.3,530.1 676.6,541.0 678.0,553.6" fill="#1957ee"/>
<polygon points="676.0,571.8 675.5,588.0 674.1,600.0 671.7,610.6 668.3,620.2 664.0,628.8 658.9,636.6 652.8,643.6 645.8,649.7 638.0,654.8 629.4,659.1 619.8,662.5 609.2,664.9 597.2,666.3 581.0,666.8 564.8,666.3 552.8,664.9 542.2,662.5 532.6,659.1 524.0,654.8 516.2,649.7 509.2,643.6 503.1,636.6 498.0,628.8 493.7,620.2 490.3,610.6 487.9,600.0 486.5,588.0 486.0,571.8 486.5,555.6 487.9,543.6 490.3,533.0 493.7,523.4 498.0,514.8 503.1,507.0 509.2,500.0 516.2,493.9 524.0,488.8 532.6,484.5 542.2,481.1 552.8,478.7 564.8,477.3 581.0,476.8 597.2,477.3 609.2,478.7 619.8,481.1 629.4,484.5 638.0,488.8 645.8,493.9 652.8,500.0 658.9,507.0 664.0,514.8 668.3,523.4 671.7,533.0 674.1,543.6 675.5,555.6" fill="#165ef0"/>
<polygon points="673.5,571.8 673.0,586.1 671.5,597.4 669.0,607.7 665.6,617.1 661.2,625.8 656.0,633.6 649.8,640.6 642.8,646.8 635.0,652.0 626.3,656.4 616.9,659.8 606.6,662.3 595.3,663.8 581.0,664.3 566.7,663.8 555.4,662.3 545.1,659.8 535.7,656.4 527.0,652.0 519.2,646.8 512.2,640.6 506.0,633.6 500.8,625.8 496.4,617.1 493.0,607.7 490.5,597.4 489.0,586.1 488.5,571.8 489.0,557.5 490.5,546.2 493.0,535.9 496.4,526.5 500.8,517.8 506.0,510.0 512.2,503.0 519.2,496.8 527.0,491.6 535.7,487.2 545.1,483.8 555.4,481.3 566.7,479.8 581.0,479.3 595.3,479.8 606.6,481.3 616.9,483.8 626.3,487.2 635.0,491.6 642.8,496.8 649.8,503.0 656.0,510.0 661.2,517.8 665.6,526.5 669.0,535.9 671.5,546.2 673.0,557.5" fill="#116cf1"/>
<polygon points="671.0,571.8 670.5,584.2 669.0,594.9 666.4,604.8 662.9,614.1 658.4,622.6 653.0,630.5 646.8,637.6 639.7,643.8 631.8,649.2 623.3,653.7 614.0,657.2 604.1,659.8 593.4,661.3 581.0,661.8 568.6,661.3 557.9,659.8 548.0,657.2 538.7,653.7 530.2,649.2 522.3,643.8 515.2,637.6 509.0,630.5 503.6,622.6 499.1,614.1 495.6,604.8 493.0,594.9 491.5,584.2 491.0,571.8 491.5,559.4 493.0,548.7 495.6,538.8 499.1,529.5 503.6,521.0 509.0,513.1 515.2,506.0 522.3,499.8 530.2,494.4 538.7,489.9 548.0,486.4 557.9,483.8 568.6,482.3 581.0,481.8 593.4,482.3 604.1,483.8 614.0,486.4 623.3,489.9 631.8,494.4 639.7,499.8 646.8,506.0 653.0,513.1 658.4,521.0 662.9,529.5 666.4,538.8 669.0,548.7 670.5,559.4" fill="#0c7bf3"/>
<polygon points="668.5,571.8 668.0,582.4 666.4,592.4 663.8,601.9 660.1,611.0 655.6,619.5 650.1,627.3 643.7,634.5 636.5,640.9 628.7,646.4 620.2,650.9 611.1,654.6 601.6,657.2 591.6,658.8 581.0,659.3 570.4,658.8 560.4,657.2 550.9,654.6 541.8,650.9 533.3,646.4 525.5,640.9 518.3,634.5 511.9,627.3 506.4,619.5 501.9,611.0 498.2,601.9 495.6,592.4 494.0,582.4 493.5,571.8 494.0,561.2 495.6,551.2 498.2,541.7 501.9,532.6 506.4,524.1 511.9,516.3 518.3,509.1 525.5,502.7 533.3,497.2 541.8,492.7 550.9,489.0 560.4,486.4 570.4,484.8 581.0,484.3 591.6,484.8 601.6,486.4 611.1,489.0 620.2,492.7 628.7,497.2 636.5,502.7 643.7,509.1 650.1,516.3 655.6,524.1 660.1,532.6 663.8,541.7 666.4,551.2 668.0,561.2" fill="#068af4"/>
</g>
<circle cx="581.00" cy="571.80" r="86.50" fill="url(#g_e)"/>
</g>
<rect x="414.70" y="404.20" width="332.00" height="334.90" fill="none" stroke="#000" stroke-opacity="0.28" stroke-width="1"/>
<polygon points="581.00,550.50 603.06,566.53 594.64,592.47 567.36,592.47 558.94,566.53" fill="#880000"/>
<circle cx="581.00" cy="571.80" r="42.40" fill="none" stroke="#fff" stroke-width="2"/>
<circle cx="581.00" cy="571.80" r="79.50" fill="none" stroke="#fff" stroke-width="2"/>
<polygon points="581.00,550.50 603.06,566.53 594.64,592.47 567.36,592.47 558.94,566.53" fill="none" stroke="#fff" stroke-width="1.8" stroke-linejoin="miter"/>
<g clip-path="url(#clip_f)">
<rect x="790.20" y="403.20" width="332.60" height="336.00" fill="#1a1488"/>
<g filter="url(#bandblur)">
<polygon points="1161.2,571.7 1160.3,619.3 1157.8,647.0 1153.5,669.7 1147.4,689.2 1139.7,706.3 1130.2,721.3 1118.9,734.4 1105.8,745.7 1090.8,755.2 1073.7,762.9 1054.2,769.0 1031.5,773.3 1003.8,775.8 956.2,776.7 908.6,775.8 880.9,773.3 858.2,769.0 838.7,762.9 821.6,755.2 806.6,745.7 793.5,734.4 782.2,721.3 772.7,706.3 765.0,689.2 758.9,669.7 754.6,647.0 752.1,619.3 751.2,571.7 752.1,524.1 754.6,496.4 758.9,473.7 765.0,454.2 772.7,437.1 782.2,422.1 793.5,409.0 806.6,397.7 821.6,388.2 838.7,380.5 858.2,374.4 880.9,370.1 908.6,367.6 956.2,366.7 1003.8,367.6 1031.5,370.1 1054.2,374.4 1073.7,380.5 1090.8,388.2 1105.8,397.7 1118.9,409.0 1130.2,422.1 1139.7,437.1 1147.4,454.2 1153.5,473.7 1157.8,496.4 1160.3,524.1" fill="#1a1488"/>
<polygon points="1158.7,571.7 1157.9,618.7 1155.3,646.1 1151.1,668.5 1145.1,687.8 1137.4,704.7 1128.1,719.5 1116.9,732.4 1104.0,743.6 1089.2,752.9 1072.3,760.6 1053.0,766.6 1030.6,770.8 1003.2,773.4 956.2,774.2 909.2,773.4 881.8,770.8 859.4,766.6 840.1,760.6 823.2,752.9 808.4,743.6 795.5,732.4 784.3,719.5 775.0,704.7 767.3,687.8 761.3,668.5 757.1,646.1 754.5,618.7 753.7,571.7 754.5,524.7 757.1,497.3 761.3,474.9 767.3,455.6 775.0,438.7 784.3,423.9 795.5,411.0 808.4,399.8 823.2,390.5 840.1,382.8 859.4,376.8 881.8,372.6 909.2,370.0 956.2,369.2 1003.2,370.0 1030.6,372.6 1053.0,376.8 1072.3,382.8 1089.2,390.5 1104.0,399.8 1116.9,411.0 1128.1,423.9 1137.4,438.7 1145.1,455.6 1151.1,474.9 1155.3,497.3 1157.9,524.7" fill="#1a1488"/>
<polygon points="1156.2,571.7 1155.4,618.2 1152.8,645.1 1148.6,667.3 1142.8,686.3 1135.2,703.0 1125.9,717.7 1114.9,730.4 1102.2,741.4 1087.5,750.7 1070.8,758.3 1051.8,764.1 1029.6,768.3 1002.7,770.9 956.2,771.7 909.7,770.9 882.8,768.3 860.6,764.1 841.6,758.3 824.9,750.7 810.2,741.4 797.5,730.4 786.5,717.7 777.2,703.0 769.6,686.3 763.8,667.3 759.6,645.1 757.0,618.2 756.2,571.7 757.0,525.2 759.6,498.3 763.8,476.1 769.6,457.1 777.2,440.4 786.5,425.7 797.5,413.0 810.2,402.0 824.9,392.7 841.6,385.1 860.6,379.3 882.8,375.1 909.7,372.5 956.2,371.7 1002.7,372.5 1029.6,375.1 1051.8,379.3 1070.8,385.1 1087.5,392.7 1102.2,402.0 1114.9,413.0 1125.9,425.7 1135.2,440.4 1142.8,457.1 1148.6,476.1 1152.8,498.3 1155.4,525.2" fill="#1a1488"/>
<polygon points="1153.7,571.7 1152.9,617.6 1150.4,644.2 1146.2,666.1 1140.4,684.9 1133.0,701.4 1123.8,715.8 1113.0,728.5 1100.3,739.3 1085.9,748.5 1069.4,755.9 1050.6,761.7 1028.7,765.9 1002.1,768.4 956.2,769.2 910.3,768.4 883.7,765.9 861.8,761.7 843.0,755.9 826.5,748.5 812.1,739.3 799.4,728.5 788.6,715.8 779.4,701.4 772.0,684.9 766.2,666.1 762.0,644.2 759.5,617.6 758.7,571.7 759.5,525.8 762.0,499.2 766.2,477.3 772.0,458.5 779.4,442.0 788.6,427.6 799.4,414.9 812.1,404.1 826.5,394.9 843.0,387.5 861.8,381.7 883.7,377.5 910.3,375.0 956.2,374.2 1002.1,375.0 1028.7,377.5 1050.6,381.7 1069.4,387.5 1085.9,394.9 1100.3,404.1 1113.0,414.9 1123.8,427.6 1133.0,442.0 1140.4,458.5 1146.2,477.3 1150.4,499.2 1152.9,525.8" fill="#1a1488"/>
<polygon points="1151.2,571.7 1150.4,617.0 1147.9,643.3 1143.8,664.9 1138.1,683.5 1130.7,699.7 1121.7,714.0 1111.0,726.5 1098.5,737.2 1084.2,746.2 1068.0,753.6 1049.4,759.3 1027.8,763.4 1001.5,765.9 956.2,766.7 910.9,765.9 884.6,763.4 863.0,759.3 844.4,753.6 828.2,746.2 813.9,737.2 801.4,726.5 790.7,714.0 781.7,699.7 774.3,683.5 768.6,664.9 764.5,643.3 762.0,617.0 761.2,571.7 762.0,526.4 764.5,500.1 768.6,478.5 774.3,459.9 781.7,443.7 790.7,429.4 801.4,416.9 813.9,406.2 828.2,397.2 844.4,389.8 863.0,384.1 884.6,380.0 910.9,377.5 956.2,376.7 1001.5,377.5 1027.8,380.0 1049.4,384.1 1068.0,389.8 1084.2,397.2 1098.5,406.2 1111.0,416.9 1121.7,429.4 1130.7,443.7 1138.1,459.9 1143.8,478.5 1147.9,500.1 1150.4,526.4" fill="#1a1488"/>
<polygon points="1148.7,571.7 1147.9,616.4 1145.5,642.4 1141.4,663.7 1135.8,682.0 1128.5,698.1 1119.6,712.2 1109.0,724.5 1096.7,735.1 1082.6,744.0 1066.5,751.3 1048.2,756.9 1026.9,761.0 1000.9,763.4 956.2,764.2 911.5,763.4 885.5,761.0 864.2,756.9 845.9,751.3 829.8,744.0 815.7,735.1 803.4,724.5 792.8,712.2 783.9,698.1 776.6,682.0 771.0,663.7 766.9,642.4 764.5,616.4 763.7,571.7 764.5,527.0 766.9,501.0 771.0,479.7 776.6,461.4 783.9,445.3 792.8,431.2 803.4,418.9 815.7,408.3 829.8,399.4 845.9,392.1 864.2,386.5 885.5,382.4 911.5,380.0 956.2,379.2 1000.9,380.0 1026.9,382.4 1048.2,386.5 1066.5,392.1 1082.6,399.4 1096.7,408.3 1109.0,418.9 1119.6,431.2 1128.5,445.3 1135.8,461.4 1141.4,479.7 1145.5,501.0 1147.9,527.0" fill="#1a1488"/>
<polygon points="1146.2,571.7 1145.4,615.8 1143.0,641.5 1139.0,662.5 1133.4,680.6 1126.3,696.5 1117.4,710.4 1107.0,722.5 1094.9,732.9 1081.0,741.8 1065.1,748.9 1047.0,754.5 1026.0,758.5 1000.3,760.9 956.2,761.7 912.1,760.9 886.4,758.5 865.4,754.5 847.3,748.9 831.4,741.8 817.5,732.9 805.4,722.5 795.0,710.4 786.1,696.5 779.0,680.6 773.4,662.5 769.4,641.5 767.0,615.8 766.2,571.7 767.0,527.6 769.4,501.9 773.4,480.9 779.0,462.8 786.1,446.9 795.0,433.0 805.4,420.9 817.5,410.5 831.4,401.6 847.3,394.5 865.4,388.9 886.4,384.9 912.1,382.5 956.2,381.7 1000.3,382.5 1026.0,384.9 1047.0,388.9 1065.1,394.5 1081.0,401.6 1094.9,410.5 1107.0,420.9 1117.4,433.0 1126.3,446.9 1133.4,462.8 1139.0,480.9 1143.0,501.9 1145.4,527.6" fill="#1a1488"/>
<polygon points="1143.7,571.7 1142.9,615.3 1140.6,640.6 1136.6,661.3 1131.1,679.2 1124.0,694.8 1115.3,708.5 1105.0,720.5 1093.0,730.8 1079.3,739.5 1063.7,746.6 1045.8,752.1 1025.1,756.1 999.8,758.4 956.2,759.2 912.6,758.4 887.3,756.1 866.6,752.1 848.7,746.6 833.1,739.5 819.4,730.8 807.4,720.5 797.1,708.5 788.4,694.8 781.3,679.2 775.8,661.3 771.8,640.6 769.5,615.3 768.7,571.7 769.5,528.1 771.8,502.8 775.8,482.1 781.3,464.2 788.4,448.6 797.1,434.9 807.4,422.9 819.4,412.6 833.1,403.9 848.7,396.8 866.6,391.3 887.3,387.3 912.6,385.0 956.2,384.2 999.8,385.0 1025.1,387.3 1045.8,391.3 1063.7,396.8 1079.3,403.9 1093.0,412.6 1105.0,422.9 1115.3,434.9 1124.0,448.6 1131.1,464.2 1136.6,482.1 1140.6,502.8 1142.9,528.1" fill="#1a1488"/>
<polygon points="1141.2,571.7 1140.4,614.7 1138.1,639.6 1134.2,660.1 1128.8,677.7 1121.8,693.2 1113.2,706.7 1103.0,718.5 1091.2,728.7 1077.7,737.3 1062.2,744.3 1044.6,749.7 1024.1,753.6 999.2,755.9 956.2,756.7 913.2,755.9 888.3,753.6 867.8,749.7 850.2,744.3 834.7,737.3 821.2,728.7 809.4,718.5 799.2,706.7 790.6,693.2 783.6,677.7 778.2,660.1 774.3,639.6 772.0,614.7 771.2,571.7 772.0,528.7 774.3,503.8 778.2,483.3 783.6,465.7 790.6,450.2 799.2,436.7 809.4,424.9 821.2,414.7 834.7,406.1 850.2,399.1 867.8,393.7 888.3,389.8 913.2,387.5 956.2,386.7 999.2,387.5 1024.1,389.8 1044.6,393.7 1062.2,399.1 1077.7,406.1 1091.2,414.7 1103.0,424.9 1113.2,436.7 1121.8,450.2 1128.8,465.7 1134.2,483.3 1138.1,503.8 1140.4,528.7" fill="#1a1488"/>
<polygon points="1138.7,571.7 1137.9,614.1 1135.6,638.7 1131.8,658.9 1126.4,676.3 1119.5,691.5 1111.1,704.9 1101.1,716.6 1089.4,726.6 1076.0,735.0 1060.8,741.9 1043.4,747.3 1023.2,751.1 998.6,753.4 956.2,754.2 913.8,753.4 889.2,751.1 869.0,747.3 851.6,741.9 836.4,735.0 823.0,726.6 811.3,716.6 801.3,704.9 792.9,691.5 786.0,676.3 780.6,658.9 776.8,638.7 774.5,614.1 773.7,571.7 774.5,529.3 776.8,504.7 780.6,484.5 786.0,467.1 792.9,451.9 801.3,438.5 811.3,426.8 823.0,416.8 836.4,408.4 851.6,401.5 869.0,396.1 889.2,392.3 913.8,390.0 956.2,389.2 998.6,390.0 1023.2,392.3 1043.4,396.1 1060.8,401.5 1076.0,408.4 1089.4,416.8 1101.1,426.8 1111.1,438.5 1119.5,451.9 1126.4,467.1 1131.8,484.5 1135.6,504.7 1137.9,529.3" fill="#1a1488"/>
<polygon points="1136.2,571.7 1135.4,613.5 1133.2,637.8 1129.4,657.7 1124.1,674.9 1117.3,689.9 1109.0,703.1 1099.1,714.6 1087.6,724.5 1074.4,732.8 1059.4,739.6 1042.2,744.9 1022.3,748.7 998.0,750.9 956.2,751.7 914.4,750.9 890.1,748.7 870.2,744.9 853.0,739.6 838.0,732.8 824.8,724.5 813.3,714.6 803.4,703.1 795.1,689.9 788.3,674.9 783.0,657.7 779.2,637.8 777.0,613.5 776.2,571.7 777.0,529.9 779.2,505.6 783.0,485.7 788.3,468.5 795.1,453.5 803.4,440.3 813.3,428.8 824.8,418.9 838.0,410.6 853.0,403.8 870.2,398.5 890.1,394.7 914.4,392.5 956.2,391.7 998.0,392.5 1022.3,394.7 1042.2,398.5 1059.4,403.8 1074.4,410.6 1087.6,418.9 1099.1,428.8 1109.0,440.3 1117.3,453.5 1124.1,468.5 1129.4,485.7 1133.2,505.6 1135.4,529.9" fill="#1a1488"/>
<polygon points="1133.7,571.7 1133.0,612.9 1130.7,636.9 1127.0,656.5 1121.8,673.4 1115.1,688.2 1106.8,701.2 1097.1,712.6 1085.7,722.3 1072.7,730.6 1057.9,737.3 1041.0,742.5 1021.4,746.2 997.4,748.5 956.2,749.2 915.0,748.5 891.0,746.2 871.4,742.5 854.5,737.3 839.7,730.6 826.7,722.3 815.3,712.6 805.6,701.2 797.3,688.2 790.6,673.4 785.4,656.5 781.7,636.9 779.4,612.9 778.7,571.7 779.4,530.5 781.7,506.5 785.4,486.9 790.6,470.0 797.3,455.2 805.6,442.2 815.3,430.8 826.7,421.1 839.7,412.8 854.5,406.1 871.4,400.9 891.0,397.2 915.0,394.9 956.2,394.2 997.4,394.9 1021.4,397.2 1041.0,400.9 1057.9,406.1 1072.7,412.8 1085.7,421.1 1097.1,430.8 1106.8,442.2 1115.1,455.2 1121.8,470.0 1127.0,486.9 1130.7,506.5 1133.0,530.5" fill="#1a1488"/>
<polygon points="1131.2,571.7 1130.5,612.4 1128.3,636.0 1124.6,655.3 1119.4,672.0 1112.8,686.6 1104.7,699.4 1095.1,710.6 1083.9,720.2 1071.1,728.3 1056.5,734.9 1039.8,740.1 1020.5,743.8 996.9,746.0 956.2,746.7 915.5,746.0 891.9,743.8 872.6,740.1 855.9,734.9 841.3,728.3 828.5,720.2 817.3,710.6 807.7,699.4 799.6,686.6 793.0,672.0 787.8,655.3 784.1,636.0 781.9,612.4 781.2,571.7 781.9,531.0 784.1,507.4 787.8,488.1 793.0,471.4 799.6,456.8 807.7,444.0 817.3,432.8 828.5,423.2 841.3,415.1 855.9,408.5 872.6,403.3 891.9,399.6 915.5,397.4 956.2,396.7 996.9,397.4 1020.5,399.6 1039.8,403.3 1056.5,408.5 1071.1,415.1 1083.9,423.2 1095.1,432.8 1104.7,444.0 1112.8,456.8 1119.4,471.4 1124.6,488.1 1128.3,507.4 1130.5,531.0" fill="#1a1488"/>
<polygon points="1128.7,571.7 1128.0,611.8 1125.8,635.0 1122.2,654.1 1117.1,670.6 1110.6,685.0 1102.6,697.6 1093.1,708.6 1082.1,718.1 1069.5,726.1 1055.1,732.6 1038.6,737.7 1019.5,741.3 996.3,743.5 956.2,744.2 916.1,743.5 892.9,741.3 873.8,737.7 857.3,732.6 842.9,726.1 830.3,718.1 819.3,708.6 809.8,697.6 801.8,685.0 795.3,670.6 790.2,654.1 786.6,635.0 784.4,611.8 783.7,571.7 784.4,531.6 786.6,508.4 790.2,489.3 795.3,472.8 801.8,458.4 809.8,445.8 819.3,434.8 830.3,425.3 842.9,417.3 857.3,410.8 873.8,405.7 892.9,402.1 916.1,399.9 956.2,399.2 996.3,399.9 1019.5,402.1 1038.6,405.7 1055.1,410.8 1069.5,417.3 1082.1,425.3 1093.1,434.8 1102.6,445.8 1110.6,458.4 1117.1,472.8 1122.2,489.3 1125.8,508.4 1128.0,531.6" fill="#1a1488"/>
<polygon points="1126.2,571.7 1125.5,611.2 1123.3,634.1 1119.8,652.9 1114.8,669.1 1108.4,683.3 1100.5,695.8 1091.1,706.6 1080.3,716.0 1067.8,723.9 1053.6,730.3 1037.4,735.3 1018.6,738.8 995.7,741.0 956.2,741.7 916.7,741.0 893.8,738.8 875.0,735.3 858.8,730.3 844.6,723.9 832.1,716.0 821.3,706.6 811.9,695.8 804.0,683.3 797.6,669.1 792.6,652.9 789.1,634.1 786.9,611.2 786.2,571.7 786.9,532.2 789.1,509.3 792.6,490.5 797.6,474.3 804.0,460.1 811.9,447.6 821.3,436.8 832.1,427.4 844.6,419.5 858.8,413.1 875.0,408.1 893.8,404.6 916.7,402.4 956.2,401.7 995.7,402.4 1018.6,404.6 1037.4,408.1 1053.6,413.1 1067.8,419.5 1080.3,427.4 1091.1,436.8 1100.5,447.6 1108.4,460.1 1114.8,474.3 1119.8,490.5 1123.3,509.3 1125.5,532.2" fill="#1a1488"/>
<polygon points="1123.7,571.7 1123.0,610.6 1120.9,633.2 1117.4,651.7 1112.5,667.7 1106.1,681.7 1098.4,693.9 1089.1,704.6 1078.4,713.9 1066.2,721.6 1052.2,728.0 1036.2,732.9 1017.7,736.4 995.1,738.5 956.2,739.2 917.3,738.5 894.7,736.4 876.2,732.9 860.2,728.0 846.2,721.6 834.0,713.9 823.3,704.6 814.0,693.9 806.3,681.7 799.9,667.7 795.0,651.7 791.5,633.2 789.4,610.6 788.7,571.7 789.4,532.8 791.5,510.2 795.0,491.7 799.9,475.7 806.3,461.7 814.0,449.5 823.3,438.8 834.0,429.5 846.2,421.8 860.2,415.4 876.2,410.5 894.7,407.0 917.3,404.9 956.2,404.2 995.1,404.9 1017.7,407.0 1036.2,410.5 1052.2,415.4 1066.2,421.8 1078.4,429.5 1089.1,438.8 1098.4,449.5 1106.1,461.7 1112.5,475.7 1117.4,491.7 1120.9,510.2 1123.0,532.8" fill="#1a1488"/>
<polygon points="1121.2,571.7 1120.5,610.0 1118.4,632.3 1115.0,650.5 1110.1,666.3 1103.9,680.0 1096.2,692.1 1087.2,702.7 1076.6,711.7 1064.5,719.4 1050.8,725.6 1035.0,730.5 1016.8,733.9 994.5,736.0 956.2,736.7 917.9,736.0 895.6,733.9 877.4,730.5 861.6,725.6 847.9,719.4 835.8,711.7 825.2,702.7 816.2,692.1 808.5,680.0 802.3,666.3 797.4,650.5 794.0,632.3 791.9,610.0 791.2,571.7 791.9,533.4 794.0,511.1 797.4,492.9 802.3,477.1 808.5,463.4 816.2,451.3 825.2,440.7 835.8,431.7 847.9,424.0 861.6,417.8 877.4,412.9 895.6,409.5 917.9,407.4 956.2,406.7 994.5,407.4 1016.8,409.5 1035.0,412.9 1050.8,417.8 1064.5,424.0 1076.6,431.7 1087.2,440.7 1096.2,451.3 1103.9,463.4 1110.1,477.1 1115.0,492.9 1118.4,511.1 1120.5,533.4" fill="#1a1488"/>
<polygon points="1118.7,571.7 1118.0,609.4 1116.0,631.4 1112.6,649.3 1107.8,664.8 1101.6,678.4 1094.1,690.3 1085.2,700.7 1074.8,709.6 1062.9,717.1 1049.3,723.3 1033.8,728.1 1015.9,731.5 993.9,733.5 956.2,734.2 918.5,733.5 896.5,731.5 878.6,728.1 863.1,723.3 849.5,717.1 837.6,709.6 827.2,700.7 818.3,690.3 810.8,678.4 804.6,664.8 799.8,649.3 796.4,631.4 794.4,609.4 793.7,571.7 794.4,534.0 796.4,512.0 799.8,494.1 804.6,478.6 810.8,465.0 818.3,453.1 827.2,442.7 837.6,433.8 849.5,426.3 863.1,420.1 878.6,415.3 896.5,411.9 918.5,409.9 956.2,409.2 993.9,409.9 1015.9,411.9 1033.8,415.3 1049.3,420.1 1062.9,426.3 1074.8,433.8 1085.2,442.7 1094.1,453.1 1101.6,465.0 1107.8,478.6 1112.6,494.1 1116.0,512.0 1118.0,534.0" fill="#1a1488"/>
<polygon points="1116.2,571.7 1115.5,608.9 1113.5,630.5 1110.2,648.1 1105.5,663.4 1099.4,676.8 1092.0,688.5 1083.2,698.7 1073.0,707.5 1061.3,714.9 1047.9,721.0 1032.6,725.7 1015.0,729.0 993.4,731.0 956.2,731.7 919.0,731.0 897.4,729.0 879.8,725.7 864.5,721.0 851.1,714.9 839.4,707.5 829.2,698.7 820.4,688.5 813.0,676.8 806.9,663.4 802.2,648.1 798.9,630.5 796.9,608.9 796.2,571.7 796.9,534.5 798.9,512.9 802.2,495.3 806.9,480.0 813.0,466.6 820.4,454.9 829.2,444.7 839.4,435.9 851.1,428.5 864.5,422.4 879.8,417.7 897.4,414.4 919.0,412.4 956.2,411.7 993.4,412.4 1015.0,414.4 1032.6,417.7 1047.9,422.4 1061.3,428.5 1073.0,435.9 1083.2,444.7 1092.0,454.9 1099.4,466.6 1105.5,480.0 1110.2,495.3 1113.5,512.9 1115.5,534.5" fill="#1a158b"/>
<polygon points="1113.7,571.7 1113.0,608.3 1111.1,629.5 1107.8,647.0 1103.1,662.0 1097.2,675.1 1089.9,686.6 1081.2,696.7 1071.1,705.4 1059.6,712.7 1046.5,718.6 1031.5,723.3 1014.0,726.6 992.8,728.5 956.2,729.2 919.6,728.5 898.4,726.6 880.9,723.3 865.9,718.6 852.8,712.7 841.3,705.4 831.2,696.7 822.5,686.6 815.2,675.1 809.3,662.0 804.6,647.0 801.3,629.5 799.4,608.3 798.7,571.7 799.4,535.1 801.3,513.9 804.6,496.4 809.3,481.4 815.2,468.3 822.5,456.8 831.2,446.7 841.3,438.0 852.8,430.7 865.9,424.8 880.9,420.1 898.4,416.8 919.6,414.9 956.2,414.2 992.8,414.9 1014.0,416.8 1031.5,420.1 1046.5,424.8 1059.6,430.7 1071.1,438.0 1081.2,446.7 1089.9,456.8 1097.2,468.3 1103.1,481.4 1107.8,496.4 1111.1,513.9 1113.0,535.1" fill="#1b158e"/>
<polygon points="1111.2,571.7 1110.5,607.7 1108.6,628.6 1105.3,645.8 1100.8,660.5 1094.9,673.5 1087.7,684.8 1079.2,694.7 1069.3,703.2 1058.0,710.4 1045.0,716.3 1030.3,720.8 1013.1,724.1 992.2,726.0 956.2,726.7 920.2,726.0 899.3,724.1 882.1,720.8 867.4,716.3 854.4,710.4 843.1,703.2 833.2,694.7 824.7,684.8 817.5,673.5 811.6,660.5 807.1,645.8 803.8,628.6 801.9,607.7 801.2,571.7 801.9,535.7 803.8,514.8 807.1,497.6 811.6,482.9 817.5,469.9 824.7,458.6 833.2,448.7 843.1,440.2 854.4,433.0 867.4,427.1 882.1,422.6 899.3,419.3 920.2,417.4 956.2,416.7 992.2,417.4 1013.1,419.3 1030.3,422.6 1045.0,427.1 1058.0,433.0 1069.3,440.2 1079.2,448.7 1087.7,458.6 1094.9,469.9 1100.8,482.9 1105.3,497.6 1108.6,514.8 1110.5,535.7" fill="#1b1692"/>
<polygon points="1108.7,571.7 1108.1,607.1 1106.1,627.7 1102.9,644.6 1098.5,659.1 1092.7,671.8 1085.6,683.0 1077.2,692.7 1067.5,701.1 1056.3,708.2 1043.6,714.0 1029.1,718.4 1012.2,721.6 991.6,723.6 956.2,724.2 920.8,723.6 900.2,721.6 883.3,718.4 868.8,714.0 856.1,708.2 844.9,701.1 835.2,692.7 826.8,683.0 819.7,671.8 813.9,659.1 809.5,644.6 806.3,627.7 804.3,607.1 803.7,571.7 804.3,536.3 806.3,515.7 809.5,498.8 813.9,484.3 819.7,471.6 826.8,460.4 835.2,450.7 844.9,442.3 856.1,435.2 868.8,429.4 883.3,425.0 900.2,421.8 920.8,419.8 956.2,419.2 991.6,419.8 1012.2,421.8 1029.1,425.0 1043.6,429.4 1056.3,435.2 1067.5,442.3 1077.2,450.7 1085.6,460.4 1092.7,471.6 1098.5,484.3 1102.9,498.8 1106.1,515.7 1108.1,536.3" fill="#1c1796"/>
<polygon points="1106.2,571.7 1105.6,606.5 1103.7,626.8 1100.5,643.4 1096.1,657.7 1090.5,670.2 1083.5,681.2 1075.3,690.8 1065.7,699.0 1054.7,706.0 1042.2,711.6 1027.9,716.0 1011.3,719.2 991.0,721.1 956.2,721.7 921.4,721.1 901.1,719.2 884.5,716.0 870.2,711.6 857.7,706.0 846.7,699.0 837.1,690.8 828.9,681.2 821.9,670.2 816.3,657.7 811.9,643.4 808.7,626.8 806.8,606.5 806.2,571.7 806.8,536.9 808.7,516.6 811.9,500.0 816.3,485.7 821.9,473.2 828.9,462.2 837.1,452.6 846.7,444.4 857.7,437.4 870.2,431.8 884.5,427.4 901.1,424.2 921.4,422.3 956.2,421.7 991.0,422.3 1011.3,424.2 1027.9,427.4 1042.2,431.8 1054.7,437.4 1065.7,444.4 1075.3,452.6 1083.5,462.2 1090.5,473.2 1096.1,485.7 1100.5,500.0 1103.7,516.6 1105.6,536.9" fill="#1c1899"/>
<polygon points="1103.7,571.7 1103.1,606.0 1101.2,625.9 1098.1,642.2 1093.8,656.2 1088.2,668.5 1081.4,679.3 1073.3,688.8 1063.8,696.9 1053.0,703.7 1040.7,709.3 1026.7,713.6 1010.4,716.7 990.5,718.6 956.2,719.2 921.9,718.6 902.0,716.7 885.7,713.6 871.7,709.3 859.4,703.7 848.6,696.9 839.1,688.8 831.0,679.3 824.2,668.5 818.6,656.2 814.3,642.2 811.2,625.9 809.3,606.0 808.7,571.7 809.3,537.4 811.2,517.5 814.3,501.2 818.6,487.2 824.2,474.9 831.0,464.1 839.1,454.6 848.6,446.5 859.4,439.7 871.7,434.1 885.7,429.8 902.0,426.7 921.9,424.8 956.2,424.2 990.5,424.8 1010.4,426.7 1026.7,429.8 1040.7,434.1 1053.0,439.7 1063.8,446.5 1073.3,454.6 1081.4,464.1 1088.2,474.9 1093.8,487.2 1098.1,501.2 1101.2,517.5 1103.1,537.4" fill="#1d199d"/>
<polygon points="1101.2,571.7 1100.6,605.4 1098.8,624.9 1095.7,641.0 1091.5,654.8 1086.0,666.9 1079.3,677.5 1071.3,686.8 1062.0,694.8 1051.4,701.5 1039.3,707.0 1025.5,711.2 1009.4,714.3 989.9,716.1 956.2,716.7 922.5,716.1 903.0,714.3 886.9,711.2 873.1,707.0 861.0,701.5 850.4,694.8 841.1,686.8 833.1,677.5 826.4,666.9 820.9,654.8 816.7,641.0 813.6,624.9 811.8,605.4 811.2,571.7 811.8,538.0 813.6,518.5 816.7,502.4 820.9,488.6 826.4,476.5 833.1,465.9 841.1,456.6 850.4,448.6 861.0,441.9 873.1,436.4 886.9,432.2 903.0,429.1 922.5,427.3 956.2,426.7 989.9,427.3 1009.4,429.1 1025.5,432.2 1039.3,436.4 1051.4,441.9 1062.0,448.6 1071.3,456.6 1079.3,465.9 1086.0,476.5 1091.5,488.6 1095.7,502.4 1098.8,518.5 1100.6,538.0" fill="#1d19a1"/>
<polygon points="1098.7,571.7 1098.1,604.8 1096.3,624.0 1093.3,639.8 1089.1,653.4 1083.7,665.3 1077.1,675.7 1069.3,684.8 1060.2,692.6 1049.8,699.2 1037.9,704.6 1024.3,708.8 1008.5,711.8 989.3,713.6 956.2,714.2 923.1,713.6 903.9,711.8 888.1,708.8 874.5,704.6 862.6,699.2 852.2,692.6 843.1,684.8 835.3,675.7 828.7,665.3 823.3,653.4 819.1,639.8 816.1,624.0 814.3,604.8 813.7,571.7 814.3,538.6 816.1,519.4 819.1,503.6 823.3,490.0 828.7,478.1 835.3,467.7 843.1,458.6 852.2,450.8 862.6,444.2 874.5,438.8 888.1,434.6 903.9,431.6 923.1,429.8 956.2,429.2 989.3,429.8 1008.5,431.6 1024.3,434.6 1037.9,438.8 1049.8,444.2 1060.2,450.8 1069.3,458.6 1077.1,467.7 1083.7,478.1 1089.1,490.0 1093.3,503.6 1096.3,519.4 1098.1,538.6" fill="#1e1aa5"/>
<polygon points="1096.2,571.7 1095.6,604.2 1093.9,623.1 1090.9,638.6 1086.8,651.9 1081.5,663.6 1075.0,673.9 1067.3,682.8 1058.4,690.5 1048.1,697.0 1036.4,702.3 1023.1,706.4 1007.6,709.4 988.7,711.1 956.2,711.7 923.7,711.1 904.8,709.4 889.3,706.4 876.0,702.3 864.3,697.0 854.0,690.5 845.1,682.8 837.4,673.9 830.9,663.6 825.6,651.9 821.5,638.6 818.5,623.1 816.8,604.2 816.2,571.7 816.8,539.2 818.5,520.3 821.5,504.8 825.6,491.5 830.9,479.8 837.4,469.5 845.1,460.6 854.0,452.9 864.3,446.4 876.0,441.1 889.3,437.0 904.8,434.0 923.7,432.3 956.2,431.7 988.7,432.3 1007.6,434.0 1023.1,437.0 1036.4,441.1 1048.1,446.4 1058.4,452.9 1067.3,460.6 1075.0,469.5 1081.5,479.8 1086.8,491.5 1090.9,504.8 1093.9,520.3 1095.6,539.2" fill="#1e1ba9"/>
<polygon points="1093.7,571.7 1093.1,603.6 1091.4,622.2 1088.5,637.4 1084.5,650.5 1079.3,662.0 1072.9,672.1 1065.3,680.8 1056.6,688.4 1046.5,694.8 1035.0,700.0 1021.9,704.0 1006.7,706.9 988.1,708.6 956.2,709.2 924.3,708.6 905.7,706.9 890.5,704.0 877.4,700.0 865.9,694.8 855.8,688.4 847.1,680.8 839.5,672.1 833.1,662.0 827.9,650.5 823.9,637.4 821.0,622.2 819.3,603.6 818.7,571.7 819.3,539.8 821.0,521.2 823.9,506.0 827.9,492.9 833.1,481.4 839.5,471.3 847.1,462.6 855.8,455.0 865.9,448.6 877.4,443.4 890.5,439.4 905.7,436.5 924.3,434.8 956.2,434.2 988.1,434.8 1006.7,436.5 1021.9,439.4 1035.0,443.4 1046.5,448.6 1056.6,455.0 1065.3,462.6 1072.9,471.3 1079.3,481.4 1084.5,492.9 1088.5,506.0 1091.4,521.2 1093.1,539.8" fill="#1f1cae"/>
<polygon points="1091.2,571.7 1090.6,603.1 1088.9,621.3 1086.1,636.2 1082.1,649.1 1077.0,660.3 1070.8,670.2 1063.3,678.8 1054.7,686.3 1044.8,692.5 1033.6,697.6 1020.7,701.6 1005.8,704.4 987.6,706.1 956.2,706.7 924.8,706.1 906.6,704.4 891.7,701.6 878.8,697.6 867.6,692.5 857.7,686.3 849.1,678.8 841.6,670.2 835.4,660.3 830.3,649.1 826.3,636.2 823.5,621.3 821.8,603.1 821.2,571.7 821.8,540.3 823.5,522.1 826.3,507.2 830.3,494.3 835.4,483.1 841.6,473.2 849.1,464.6 857.7,457.1 867.6,450.9 878.8,445.8 891.7,441.8 906.6,439.0 924.8,437.3 956.2,436.7 987.6,437.3 1005.8,439.0 1020.7,441.8 1033.6,445.8 1044.8,450.9 1054.7,457.1 1063.3,464.6 1070.8,473.2 1077.0,483.1 1082.1,494.3 1086.1,507.2 1088.9,522.1 1090.6,540.3" fill="#1f1db2"/>
<polygon points="1088.7,571.7 1088.1,602.5 1086.5,620.4 1083.7,635.0 1079.8,647.6 1074.8,658.7 1068.6,668.4 1061.4,676.9 1052.9,684.1 1043.2,690.3 1032.1,695.3 1019.5,699.2 1004.9,702.0 987.0,703.6 956.2,704.2 925.4,703.6 907.5,702.0 892.9,699.2 880.3,695.3 869.2,690.3 859.5,684.1 851.0,676.9 843.8,668.4 837.6,658.7 832.6,647.6 828.7,635.0 825.9,620.4 824.3,602.5 823.7,571.7 824.3,540.9 825.9,523.0 828.7,508.4 832.6,495.8 837.6,484.7 843.8,475.0 851.0,466.5 859.5,459.3 869.2,453.1 880.3,448.1 892.9,444.2 907.5,441.4 925.4,439.8 956.2,439.2 987.0,439.8 1004.9,441.4 1019.5,444.2 1032.1,448.1 1043.2,453.1 1052.9,459.3 1061.4,466.5 1068.6,475.0 1074.8,484.7 1079.8,495.8 1083.7,508.4 1086.5,523.0 1088.1,540.9" fill="#201eb6"/>
<polygon points="1086.2,571.7 1085.7,601.9 1084.0,619.4 1081.3,633.8 1077.5,646.2 1072.6,657.1 1066.5,666.6 1059.4,674.9 1051.1,682.0 1041.6,688.1 1030.7,693.0 1018.3,696.8 1003.9,699.5 986.4,701.2 956.2,701.7 926.0,701.2 908.5,699.5 894.1,696.8 881.7,693.0 870.8,688.1 861.3,682.0 853.0,674.9 845.9,666.6 839.8,657.1 834.9,646.2 831.1,633.8 828.4,619.4 826.7,601.9 826.2,571.7 826.7,541.5 828.4,524.0 831.1,509.6 834.9,497.2 839.8,486.3 845.9,476.8 853.0,468.5 861.3,461.4 870.8,455.3 881.7,450.4 894.1,446.6 908.5,443.9 926.0,442.2 956.2,441.7 986.4,442.2 1003.9,443.9 1018.3,446.6 1030.7,450.4 1041.6,455.3 1051.1,461.4 1059.4,468.5 1066.5,476.8 1072.6,486.3 1077.5,497.2 1081.3,509.6 1084.0,524.0 1085.7,541.5" fill="#2120bb"/>
<polygon points="1083.7,571.7 1083.2,601.3 1081.6,618.5 1078.9,632.6 1075.1,644.8 1070.3,655.4 1064.4,664.8 1057.4,672.9 1049.3,679.9 1039.9,685.8 1029.3,690.6 1017.1,694.4 1003.0,697.1 985.8,698.7 956.2,699.2 926.6,698.7 909.4,697.1 895.3,694.4 883.1,690.6 872.5,685.8 863.1,679.9 855.0,672.9 848.0,664.8 842.1,655.4 837.3,644.8 833.5,632.6 830.8,618.5 829.2,601.3 828.7,571.7 829.2,542.1 830.8,524.9 833.5,510.8 837.3,498.6 842.1,488.0 848.0,478.6 855.0,470.5 863.1,463.5 872.5,457.6 883.1,452.8 895.3,449.0 909.4,446.3 926.6,444.7 956.2,444.2 985.8,444.7 1003.0,446.3 1017.1,449.0 1029.3,452.8 1039.9,457.6 1049.3,463.5 1057.4,470.5 1064.4,478.6 1070.3,488.0 1075.1,498.6 1078.9,510.8 1081.6,524.9 1083.2,542.1" fill="#2222c0"/>
<polygon points="1081.2,571.7 1080.7,600.7 1079.1,617.6 1076.5,631.4 1072.8,643.3 1068.1,653.8 1062.3,662.9 1055.4,670.9 1047.4,677.8 1038.3,683.6 1027.8,688.3 1015.9,692.0 1002.1,694.6 985.2,696.2 956.2,696.7 927.2,696.2 910.3,694.6 896.5,692.0 884.6,688.3 874.1,683.6 865.0,677.8 857.0,670.9 850.1,662.9 844.3,653.8 839.6,643.3 835.9,631.4 833.3,617.6 831.7,600.7 831.2,571.7 831.7,542.7 833.3,525.8 835.9,512.0 839.6,500.1 844.3,489.6 850.1,480.5 857.0,472.5 865.0,465.6 874.1,459.8 884.6,455.1 896.5,451.4 910.3,448.8 927.2,447.2 956.2,446.7 985.2,447.2 1002.1,448.8 1015.9,451.4 1027.8,455.1 1038.3,459.8 1047.4,465.6 1055.4,472.5 1062.3,480.5 1068.1,489.6 1072.8,500.1 1076.5,512.0 1079.1,525.8 1080.7,542.7" fill="#2224c5"/>
<polygon points="1078.7,571.7 1078.2,600.2 1076.6,616.7 1074.1,630.2 1070.5,641.9 1065.8,652.1 1060.2,661.1 1053.4,668.9 1045.6,675.7 1036.6,681.3 1026.4,686.0 1014.7,689.6 1001.2,692.1 984.7,693.7 956.2,694.2 927.7,693.7 911.2,692.1 897.7,689.6 886.0,686.0 875.8,681.3 866.8,675.7 859.0,668.9 852.2,661.1 846.6,652.1 841.9,641.9 838.3,630.2 835.8,616.7 834.2,600.2 833.7,571.7 834.2,543.2 835.8,526.7 838.3,513.2 841.9,501.5 846.6,491.3 852.2,482.3 859.0,474.5 866.8,467.7 875.8,462.1 886.0,457.4 897.7,453.8 911.2,451.3 927.7,449.7 956.2,449.2 984.7,449.7 1001.2,451.3 1014.7,453.8 1026.4,457.4 1036.6,462.1 1045.6,467.7 1053.4,474.5 1060.2,482.3 1065.8,491.3 1070.5,501.5 1074.1,513.2 1076.6,526.7 1078.2,543.2" fill="#2326ca"/>
<polygon points="1076.2,571.7 1075.7,599.6 1074.2,615.8 1071.7,629.0 1068.1,640.5 1063.6,650.5 1058.0,659.3 1051.4,666.9 1043.8,673.5 1035.0,679.1 1025.0,683.6 1013.5,687.2 1000.3,689.7 984.1,691.2 956.2,691.7 928.3,691.2 912.1,689.7 898.9,687.2 887.4,683.6 877.4,679.1 868.6,673.5 861.0,666.9 854.4,659.3 848.8,650.5 844.3,640.5 840.7,629.0 838.2,615.8 836.7,599.6 836.2,571.7 836.7,543.8 838.2,527.6 840.7,514.4 844.3,502.9 848.8,492.9 854.4,484.1 861.0,476.5 868.6,469.9 877.4,464.3 887.4,459.8 898.9,456.2 912.1,453.7 928.3,452.2 956.2,451.7 984.1,452.2 1000.3,453.7 1013.5,456.2 1025.0,459.8 1035.0,464.3 1043.8,469.9 1051.4,476.5 1058.0,484.1 1063.6,492.9 1068.1,502.9 1071.7,514.4 1074.2,527.6 1075.7,543.8" fill="#2428ce"/>
<polygon points="1073.7,571.7 1073.2,599.0 1071.7,614.8 1069.3,627.8 1065.8,639.0 1061.4,648.8 1055.9,657.5 1049.5,665.0 1042.0,671.4 1033.3,676.9 1023.5,681.3 1012.3,684.8 999.3,687.2 983.5,688.7 956.2,689.2 928.9,688.7 913.1,687.2 900.1,684.8 888.9,681.3 879.1,676.9 870.4,671.4 862.9,665.0 856.5,657.5 851.0,648.8 846.6,639.0 843.1,627.8 840.7,614.8 839.2,599.0 838.7,571.7 839.2,544.4 840.7,528.6 843.1,515.6 846.6,504.4 851.0,494.6 856.5,485.9 862.9,478.4 870.4,472.0 879.1,466.5 888.9,462.1 900.1,458.6 913.1,456.2 928.9,454.7 956.2,454.2 983.5,454.7 999.3,456.2 1012.3,458.6 1023.5,462.1 1033.3,466.5 1042.0,472.0 1049.5,478.4 1055.9,485.9 1061.4,494.6 1065.8,504.4 1069.3,515.6 1071.7,528.6 1073.2,544.4" fill="#252ad3"/>
<polygon points="1071.2,571.7 1070.7,598.4 1069.3,613.9 1066.9,626.6 1063.5,637.6 1059.1,647.2 1053.8,655.6 1047.5,663.0 1040.1,669.3 1031.7,674.6 1022.1,679.0 1011.1,682.4 998.4,684.8 982.9,686.2 956.2,686.7 929.5,686.2 914.0,684.8 901.3,682.4 890.3,679.0 880.7,674.6 872.3,669.3 864.9,663.0 858.6,655.6 853.3,647.2 848.9,637.6 845.5,626.6 843.1,613.9 841.7,598.4 841.2,571.7 841.7,545.0 843.1,529.5 845.5,516.8 848.9,505.8 853.3,496.2 858.6,487.8 864.9,480.4 872.3,474.1 880.7,468.8 890.3,464.4 901.3,461.0 914.0,458.6 929.5,457.2 956.2,456.7 982.9,457.2 998.4,458.6 1011.1,461.0 1022.1,464.4 1031.7,468.8 1040.1,474.1 1047.5,480.4 1053.8,487.8 1059.1,496.2 1063.5,505.8 1066.9,516.8 1069.3,529.5 1070.7,545.0" fill="#262cd8"/>
<polygon points="1068.7,571.7 1068.2,597.8 1066.8,613.0 1064.5,625.5 1061.1,636.2 1056.9,645.6 1051.7,653.8 1045.5,661.0 1038.3,667.2 1030.1,672.4 1020.7,676.6 1010.0,680.0 997.5,682.3 982.3,683.7 956.2,684.2 930.1,683.7 914.9,682.3 902.4,680.0 891.7,676.6 882.3,672.4 874.1,667.2 866.9,661.0 860.7,653.8 855.5,645.6 851.3,636.2 847.9,625.5 845.6,613.0 844.2,597.8 843.7,571.7 844.2,545.6 845.6,530.4 847.9,517.9 851.3,507.2 855.5,497.8 860.7,489.6 866.9,482.4 874.1,476.2 882.3,471.0 891.7,466.8 902.4,463.4 914.9,461.1 930.1,459.7 956.2,459.2 982.3,459.7 997.5,461.1 1010.0,463.4 1020.7,466.8 1030.1,471.0 1038.3,476.2 1045.5,482.4 1051.7,489.6 1056.9,497.8 1061.1,507.2 1064.5,517.9 1066.8,530.4 1068.2,545.6" fill="#262edd"/>
<polygon points="1066.2,571.7 1065.7,597.3 1064.4,612.1 1062.0,624.3 1058.8,634.7 1054.7,643.9 1049.6,652.0 1043.5,659.0 1036.5,665.1 1028.4,670.2 1019.2,674.3 1008.8,677.5 996.6,679.9 981.8,681.2 956.2,681.7 930.6,681.2 915.8,679.9 903.6,677.5 893.2,674.3 884.0,670.2 875.9,665.1 868.9,659.0 862.8,652.0 857.7,643.9 853.6,634.7 850.4,624.3 848.0,612.1 846.7,597.3 846.2,571.7 846.7,546.1 848.0,531.3 850.4,519.1 853.6,508.7 857.7,499.5 862.8,491.4 868.9,484.4 875.9,478.3 884.0,473.2 893.2,469.1 903.6,465.9 915.8,463.5 930.6,462.2 956.2,461.7 981.8,462.2 996.6,463.5 1008.8,465.9 1019.2,469.1 1028.4,473.2 1036.5,478.3 1043.5,484.4 1049.6,491.4 1054.7,499.5 1058.8,508.7 1062.0,519.1 1064.4,531.3 1065.7,546.1" fill="#2730e1"/>
<polygon points="1063.7,571.7 1063.2,596.7 1061.9,611.2 1059.6,623.1 1056.5,633.3 1052.4,642.3 1047.4,650.2 1041.5,657.0 1034.7,662.9 1026.8,667.9 1017.8,672.0 1007.6,675.1 995.7,677.4 981.2,678.7 956.2,679.2 931.2,678.7 916.7,677.4 904.8,675.1 894.6,672.0 885.6,667.9 877.7,662.9 870.9,657.0 865.0,650.2 860.0,642.3 855.9,633.3 852.8,623.1 850.5,611.2 849.2,596.7 848.7,571.7 849.2,546.7 850.5,532.2 852.8,520.3 855.9,510.1 860.0,501.1 865.0,493.2 870.9,486.4 877.7,480.5 885.6,475.5 894.6,471.4 904.8,468.3 916.7,466.0 931.2,464.7 956.2,464.2 981.2,464.7 995.7,466.0 1007.6,468.3 1017.8,471.4 1026.8,475.5 1034.7,480.5 1041.5,486.4 1047.4,493.2 1052.4,501.1 1056.5,510.1 1059.6,520.3 1061.9,532.2 1063.2,546.7" fill="#2832e6"/>
<polygon points="1061.2,571.7 1060.8,596.1 1059.4,610.3 1057.2,621.9 1054.1,631.9 1050.2,640.6 1045.3,648.3 1039.5,655.0 1032.8,660.8 1025.1,665.7 1016.4,669.6 1006.4,672.7 994.8,674.9 980.6,676.3 956.2,676.7 931.8,676.3 917.6,674.9 906.0,672.7 896.0,669.6 887.3,665.7 879.6,660.8 872.9,655.0 867.1,648.3 862.2,640.6 858.3,631.9 855.2,621.9 853.0,610.3 851.6,596.1 851.2,571.7 851.6,547.3 853.0,533.1 855.2,521.5 858.3,511.5 862.2,502.8 867.1,495.1 872.9,488.4 879.6,482.6 887.3,477.7 896.0,473.8 906.0,470.7 917.6,468.5 931.8,467.1 956.2,466.7 980.6,467.1 994.8,468.5 1006.4,470.7 1016.4,473.8 1025.1,477.7 1032.8,482.6 1039.5,488.4 1045.3,495.1 1050.2,502.8 1054.1,511.5 1057.2,521.5 1059.4,533.1 1060.8,547.3" fill="#2637e7"/>
<polygon points="1058.7,571.7 1058.3,594.0 1056.9,607.6 1054.7,619.0 1051.5,629.0 1047.5,637.7 1042.5,645.4 1036.7,652.2 1029.9,658.0 1022.2,663.0 1013.5,667.0 1003.5,670.2 992.1,672.4 978.5,673.8 956.2,674.2 933.9,673.8 920.3,672.4 908.9,670.2 898.9,667.0 890.2,663.0 882.5,658.0 875.7,652.2 869.9,645.4 864.9,637.7 860.9,629.0 857.7,619.0 855.5,607.6 854.1,594.0 853.7,571.7 854.1,549.4 855.5,535.8 857.7,524.4 860.9,514.4 864.9,505.7 869.9,498.0 875.7,491.2 882.5,485.4 890.2,480.4 898.9,476.4 908.9,473.2 920.3,471.0 933.9,469.6 956.2,469.2 978.5,469.6 992.1,471.0 1003.5,473.2 1013.5,476.4 1022.2,480.4 1029.9,485.4 1036.7,491.2 1042.5,498.0 1047.5,505.7 1051.5,514.4 1054.7,524.4 1056.9,535.8 1058.3,549.4" fill="#233ee9"/>
<polygon points="1056.2,571.7 1055.7,591.9 1054.4,605.0 1052.1,616.2 1048.9,626.0 1044.8,634.8 1039.7,642.5 1033.8,649.3 1027.0,655.2 1019.3,660.3 1010.5,664.4 1000.7,667.6 989.5,669.9 976.4,671.2 956.2,671.7 936.0,671.2 922.9,669.9 911.7,667.6 901.9,664.4 893.1,660.3 885.4,655.2 878.6,649.3 872.7,642.5 867.6,634.8 863.5,626.0 860.3,616.2 858.0,605.0 856.7,591.9 856.2,571.7 856.7,551.5 858.0,538.4 860.3,527.2 863.5,517.4 867.6,508.6 872.7,500.9 878.6,494.1 885.4,488.2 893.1,483.1 901.9,479.0 911.7,475.8 922.9,473.5 936.0,472.2 956.2,471.7 976.4,472.2 989.5,473.5 1000.7,475.8 1010.5,479.0 1019.3,483.1 1027.0,488.2 1033.8,494.1 1039.7,500.9 1044.8,508.6 1048.9,517.4 1052.1,527.2 1054.4,538.4 1055.7,551.5" fill="#1f48eb"/>
<polygon points="1053.7,571.7 1053.2,589.9 1051.8,602.5 1049.5,613.4 1046.2,623.1 1042.0,631.8 1036.9,639.5 1030.9,646.4 1024.0,652.4 1016.3,657.5 1007.6,661.7 997.9,665.0 987.0,667.3 974.4,668.7 956.2,669.2 938.0,668.7 925.4,667.3 914.5,665.0 904.8,661.7 896.1,657.5 888.4,652.4 881.5,646.4 875.5,639.5 870.4,631.8 866.2,623.1 862.9,613.4 860.6,602.5 859.2,589.9 858.7,571.7 859.2,553.5 860.6,540.9 862.9,530.0 866.2,520.3 870.4,511.6 875.5,503.9 881.5,497.0 888.4,491.0 896.1,485.9 904.8,481.7 914.5,478.4 925.4,476.1 938.0,474.7 956.2,474.2 974.4,474.7 987.0,476.1 997.9,478.4 1007.6,481.7 1016.3,485.9 1024.0,491.0 1030.9,497.0 1036.9,503.9 1042.0,511.6 1046.2,520.3 1049.5,530.0 1051.8,540.9 1053.2,553.5" fill="#1b52ed"/>
<polygon points="1051.2,571.7 1050.7,587.9 1049.3,599.9 1046.9,610.5 1043.5,620.1 1039.2,628.7 1034.1,636.5 1028.0,643.5 1021.0,649.6 1013.2,654.7 1004.6,659.0 995.0,662.4 984.4,664.8 972.4,666.2 956.2,666.7 940.0,666.2 928.0,664.8 917.4,662.4 907.8,659.0 899.2,654.7 891.4,649.6 884.4,643.5 878.3,636.5 873.2,628.7 868.9,620.1 865.5,610.5 863.1,599.9 861.7,587.9 861.2,571.7 861.7,555.5 863.1,543.5 865.5,532.9 868.9,523.3 873.2,514.7 878.3,506.9 884.4,499.9 891.4,493.8 899.2,488.7 907.8,484.4 917.4,481.0 928.0,478.6 940.0,477.2 956.2,476.7 972.4,477.2 984.4,478.6 995.0,481.0 1004.6,484.4 1013.2,488.7 1021.0,493.8 1028.0,499.9 1034.1,506.9 1039.2,514.7 1043.5,523.3 1046.9,532.9 1049.3,543.5 1050.7,555.5" fill="#185bef"/>
<polygon points="1048.7,571.7 1048.2,586.0 1046.7,597.3 1044.2,607.6 1040.8,617.0 1036.4,625.7 1031.2,633.5 1025.0,640.5 1018.0,646.7 1010.2,651.9 1001.5,656.3 992.1,659.7 981.8,662.2 970.5,663.7 956.2,664.2 941.9,663.7 930.6,662.2 920.3,659.7 910.9,656.3 902.2,651.9 894.4,646.7 887.4,640.5 881.2,633.5 876.0,625.7 871.6,617.0 868.2,607.6 865.7,597.3 864.2,586.0 863.7,571.7 864.2,557.4 865.7,546.1 868.2,535.8 871.6,526.4 876.0,517.7 881.2,509.9 887.4,502.9 894.4,496.7 902.2,491.5 910.9,487.1 920.3,483.7 930.6,481.2 941.9,479.7 956.2,479.2 970.5,479.7 981.8,481.2 992.1,483.7 1001.5,487.1 1010.2,491.5 1018.0,496.7 1025.0,502.9 1031.2,509.9 1036.4,517.7 1040.8,526.4 1044.2,535.8 1046.7,546.1 1048.2,557.4" fill="#1368f1"/>
<polygon points="1046.2,571.7 1045.7,584.1 1044.2,594.8 1041.6,604.7 1038.1,614.0 1033.6,622.5 1028.2,630.4 1022.0,637.5 1014.9,643.7 1007.0,649.1 998.5,653.6 989.2,657.1 979.3,659.7 968.6,661.2 956.2,661.7 943.8,661.2 933.1,659.7 923.2,657.1 913.9,653.6 905.4,649.1 897.5,643.7 890.4,637.5 884.2,630.4 878.8,622.5 874.3,614.0 870.8,604.7 868.2,594.8 866.7,584.1 866.2,571.7 866.7,559.3 868.2,548.6 870.8,538.7 874.3,529.4 878.8,520.9 884.2,513.0 890.4,505.9 897.5,499.7 905.4,494.3 913.9,489.8 923.2,486.3 933.1,483.7 943.8,482.2 956.2,481.7 968.6,482.2 979.3,483.7 989.2,486.3 998.5,489.8 1007.0,494.3 1014.9,499.7 1022.0,505.9 1028.2,513.0 1033.6,520.9 1038.1,529.4 1041.6,538.7 1044.2,548.6 1045.7,559.3" fill="#0d77f2"/>
<polygon points="1043.7,571.7 1043.2,582.3 1041.6,592.3 1039.0,601.8 1035.3,610.9 1030.8,619.4 1025.3,627.2 1018.9,634.4 1011.7,640.8 1003.9,646.3 995.4,650.8 986.3,654.5 976.8,657.1 966.8,658.7 956.2,659.2 945.6,658.7 935.6,657.1 926.1,654.5 917.0,650.8 908.5,646.3 900.7,640.8 893.5,634.4 887.1,627.2 881.6,619.4 877.1,610.9 873.4,601.8 870.8,592.3 869.2,582.3 868.7,571.7 869.2,561.1 870.8,551.1 873.4,541.6 877.1,532.5 881.6,524.0 887.1,516.2 893.5,509.0 900.7,502.6 908.5,497.1 917.0,492.6 926.1,488.9 935.6,486.3 945.6,484.7 956.2,484.2 966.8,484.7 976.8,486.3 986.3,488.9 995.4,492.6 1003.9,497.1 1011.7,502.6 1018.9,509.0 1025.3,516.2 1030.8,524.0 1035.3,532.5 1039.0,541.6 1041.6,551.1 1043.2,561.1" fill="#0886f4"/>
</g>
<circle cx="956.20" cy="571.70" r="86.50" fill="url(#g_f)"/>
</g>
<rect x="790.70" y="403.70" width="331.60" height="335.00" fill="none" stroke="#000" stroke-opacity="0.28" stroke-width="1"/>
<polygon points="956.00,550.40 978.06,566.43 969.64,592.37 942.36,592.37 933.94,566.43" fill="#880000"/>
<circle cx="956.20" cy="571.70" r="32.10" fill="none" stroke="#fff" stroke-width="2"/>
<circle cx="956.20" cy="571.70" r="57.60" fill="none" stroke="#fff" stroke-width="2"/>
<polygon points="956.00,550.40 978.06,566.43 969.64,592.37 942.36,592.37 933.94,566.43" fill="none" stroke="#fff" stroke-width="1.8" stroke-linejoin="miter"/>
<text x="287.80" y="78.90" font-size="28.30" fill="#fff" text-anchor="start" font-weight="normal" >CO<tspan font-size="17.8" dy="5.8">2</tspan></text>
<text x="662.90" y="78.60" font-size="28.30" fill="#fff" text-anchor="start" font-weight="normal" >CO<tspan font-size="17.8" dy="5.8">2</tspan></text>
<text x="1038.20" y="78.40" font-size="28.30" fill="#fff" text-anchor="start" font-weight="normal" >CO<tspan font-size="17.8" dy="5.8">2</tspan></text>
<text x="289.50" y="444.20" font-size="27.50" fill="#fff" text-anchor="start" font-weight="normal" >CO</text>
<text x="664.50" y="444.20" font-size="27.50" fill="#fff" text-anchor="start" font-weight="normal" >CO</text>
<text x="1039.50" y="444.20" font-size="27.50" fill="#fff" text-anchor="start" font-weight="normal" >CO</text>
<text x="119.70" y="20.30" font-size="26.50" fill="#000" text-anchor="start" font-weight="normal" letter-spacing="0.4">Au@Cu<tspan font-size="18.0" dy="6">2</tspan><tspan dy="-6">O-L</tspan></text>
<text x="501.30" y="20.80" font-size="26.50" fill="#000" text-anchor="start" font-weight="normal" letter-spacing="0.4">Au@Cu<tspan font-size="18.0" dy="6">2</tspan><tspan dy="-6">O-M</tspan></text>
<text x="871.70" y="20.30" font-size="26.50" fill="#000" text-anchor="start" font-weight="normal" letter-spacing="0.4">Au@Cu<tspan font-size="18.0" dy="6">2</tspan><tspan dy="-6">O-S</tspan></text>
<text x="7.60" y="59.20" font-size="36.00" fill="#000" text-anchor="start" font-weight="normal" >a</text>
<text x="384.00" y="61.70" font-size="36.00" fill="#000" text-anchor="start" font-weight="normal" >b</text>
<text x="757.50" y="62.50" font-size="36.00" fill="#000" text-anchor="start" font-weight="normal" >c</text>
<text x="6.00" y="423.80" font-size="36.00" fill="#000" text-anchor="start" font-weight="normal" >d</text>
<text x="382.50" y="427.60" font-size="36.00" fill="#000" text-anchor="start" font-weight="normal" >e</text>
<text x="756.50" y="428.70" font-size="36.00" fill="#000" text-anchor="start" font-weight="normal" >f</text>
<rect x="1147.60" y="72.40" width="10.00" height="285.10" fill="url(#cb1)" stroke="#333" stroke-width="0.6"/>
<text x="1162.60" y="78.40" font-size="17.00" fill="#000" text-anchor="start" font-weight="normal" >40</text>
<line x1="1147.60" y1="113.13" x2="1149.60" y2="113.13" stroke="#222" stroke-width="0.8"/>
<line x1="1155.60" y1="113.13" x2="1157.60" y2="113.13" stroke="#222" stroke-width="0.8"/>
<text x="1162.60" y="119.13" font-size="17.00" fill="#000" text-anchor="start" font-weight="normal" >39</text>
<line x1="1147.60" y1="153.86" x2="1149.60" y2="153.86" stroke="#222" stroke-width="0.8"/>
<line x1="1155.60" y1="153.86" x2="1157.60" y2="153.86" stroke="#222" stroke-width="0.8"/>
<text x="1162.60" y="159.86" font-size="17.00" fill="#000" text-anchor="start" font-weight="normal" >38</text>
<line x1="1147.60" y1="194.59" x2="1149.60" y2="194.59" stroke="#222" stroke-width="0.8"/>
<line x1="1155.60" y1="194.59" x2="1157.60" y2="194.59" stroke="#222" stroke-width="0.8"/>
<text x="1162.60" y="200.59" font-size="17.00" fill="#000" text-anchor="start" font-weight="normal" >37</text>
<line x1="1147.60" y1="235.31" x2="1149.60" y2="235.31" stroke="#222" stroke-width="0.8"/>
<line x1="1155.60" y1="235.31" x2="1157.60" y2="235.31" stroke="#222" stroke-width="0.8"/>
<text x="1162.60" y="241.31" font-size="17.00" fill="#000" text-anchor="start" font-weight="normal" >36</text>
<line x1="1147.60" y1="276.04" x2="1149.60" y2="276.04" stroke="#222" stroke-width="0.8"/>
<line x1="1155.60" y1="276.04" x2="1157.60" y2="276.04" stroke="#222" stroke-width="0.8"/>
<text x="1162.60" y="282.04" font-size="17.00" fill="#000" text-anchor="start" font-weight="normal" >35</text>
<line x1="1147.60" y1="316.77" x2="1149.60" y2="316.77" stroke="#222" stroke-width="0.8"/>
<line x1="1155.60" y1="316.77" x2="1157.60" y2="316.77" stroke="#222" stroke-width="0.8"/>
<text x="1162.60" y="322.77" font-size="17.00" fill="#000" text-anchor="start" font-weight="normal" >34</text>
<text x="1162.60" y="363.50" font-size="17.00" fill="#000" text-anchor="start" font-weight="normal" >33</text>
<text x="1135.50" y="53.70" font-size="16.80" fill="#000" text-anchor="start" font-weight="normal" >mol m<tspan font-size="11" dy="-7.5">-3</tspan></text>
<rect x="1148.30" y="439.20" width="10.70" height="289.50" fill="url(#cb2)" stroke="#333" stroke-width="0.6"/>
<text x="1164.00" y="445.20" font-size="17.00" fill="#000" text-anchor="start" font-weight="normal" >1.16</text>
<line x1="1148.30" y1="471.37" x2="1150.30" y2="471.37" stroke="#222" stroke-width="0.8"/>
<line x1="1157.00" y1="471.37" x2="1159.00" y2="471.37" stroke="#222" stroke-width="0.8"/>
<text x="1164.00" y="477.37" font-size="17.00" fill="#000" text-anchor="start" font-weight="normal" >1.15</text>
<line x1="1148.30" y1="503.53" x2="1150.30" y2="503.53" stroke="#222" stroke-width="0.8"/>
<line x1="1157.00" y1="503.53" x2="1159.00" y2="503.53" stroke="#222" stroke-width="0.8"/>
<text x="1164.00" y="509.53" font-size="17.00" fill="#000" text-anchor="start" font-weight="normal" >1.14</text>
<line x1="1148.30" y1="535.70" x2="1150.30" y2="535.70" stroke="#222" stroke-width="0.8"/>
<line x1="1157.00" y1="535.70" x2="1159.00" y2="535.70" stroke="#222" stroke-width="0.8"/>
<text x="1164.00" y="541.70" font-size="17.00" fill="#000" text-anchor="start" font-weight="normal" >1.13</text>
<line x1="1148.30" y1="567.87" x2="1150.30" y2="567.87" stroke="#222" stroke-width="0.8"/>
<line x1="1157.00" y1="567.87" x2="1159.00" y2="567.87" stroke="#222" stroke-width="0.8"/>
<text x="1164.00" y="573.87" font-size="17.00" fill="#000" text-anchor="start" font-weight="normal" >1.12</text>
<line x1="1148.30" y1="600.03" x2="1150.30" y2="600.03" stroke="#222" stroke-width="0.8"/>
<line x1="1157.00" y1="600.03" x2="1159.00" y2="600.03" stroke="#222" stroke-width="0.8"/>
<text x="1164.00" y="606.03" font-size="17.00" fill="#000" text-anchor="start" font-weight="normal" >1.11</text>
<line x1="1148.30" y1="632.20" x2="1150.30" y2="632.20" stroke="#222" stroke-width="0.8"/>
<line x1="1157.00" y1="632.20" x2="1159.00" y2="632.20" stroke="#222" stroke-width="0.8"/>
<text x="1164.00" y="638.20" font-size="17.00" fill="#000" text-anchor="start" font-weight="normal" >1.10</text>
<line x1="1148.30" y1="664.37" x2="1150.30" y2="664.37" stroke="#222" stroke-width="0.8"/>
<line x1="1157.00" y1="664.37" x2="1159.00" y2="664.37" stroke="#222" stroke-width="0.8"/>
<text x="1164.00" y="670.37" font-size="17.00" fill="#000" text-anchor="start" font-weight="normal" >1.09</text>
<line x1="1148.30" y1="696.53" x2="1150.30" y2="696.53" stroke="#222" stroke-width="0.8"/>
<line x1="1157.00" y1="696.53" x2="1159.00" y2="696.53" stroke="#222" stroke-width="0.8"/>
<text x="1164.00" y="702.53" font-size="17.00" fill="#000" text-anchor="start" font-weight="normal" >1.08</text>
<text x="1164.00" y="734.70" font-size="17.00" fill="#000" text-anchor="start" font-weight="normal" >1.07</text>
<text x="1133.40" y="422.00" font-size="16.80" fill="#000" text-anchor="start" font-weight="normal" >mol m<tspan font-size="11" dy="-7.5">-3</tspan></text>
<rect x="60.80" y="749.30" width="336.50" height="265.40" fill="none" stroke="#111" stroke-width="1.3"/>
<line x1="60.80" y1="1014.70" x2="65.80" y2="1014.70" stroke="#111" stroke-width="1.10" />
<text x="54.50" y="1018.30" font-size="10.50" fill="#222" text-anchor="end" >0.1</text>
<line x1="60.80" y1="998.11" x2="63.80" y2="998.11" stroke="#111" stroke-width="1.00" />
<line x1="60.80" y1="981.53" x2="65.80" y2="981.53" stroke="#111" stroke-width="1.10" />
<text x="54.50" y="985.13" font-size="10.50" fill="#222" text-anchor="end" >0.2</text>
<line x1="60.80" y1="964.94" x2="63.80" y2="964.94" stroke="#111" stroke-width="1.00" />
<line x1="60.80" y1="948.35" x2="65.80" y2="948.35" stroke="#111" stroke-width="1.10" />
<text x="54.50" y="951.95" font-size="10.50" fill="#222" text-anchor="end" >0.3</text>
<line x1="60.80" y1="931.76" x2="63.80" y2="931.76" stroke="#111" stroke-width="1.00" />
<line x1="60.80" y1="915.17" x2="65.80" y2="915.17" stroke="#111" stroke-width="1.10" />
<text x="54.50" y="918.77" font-size="10.50" fill="#222" text-anchor="end" >0.4</text>
<line x1="60.80" y1="898.59" x2="63.80" y2="898.59" stroke="#111" stroke-width="1.00" />
<line x1="60.80" y1="882.00" x2="65.80" y2="882.00" stroke="#111" stroke-width="1.10" />
<text x="54.50" y="885.60" font-size="10.50" fill="#222" text-anchor="end" >0.5</text>
<line x1="60.80" y1="865.41" x2="63.80" y2="865.41" stroke="#111" stroke-width="1.00" />
<line x1="60.80" y1="848.83" x2="65.80" y2="848.83" stroke="#111" stroke-width="1.10" />
<text x="54.50" y="852.43" font-size="10.50" fill="#222" text-anchor="end" >0.6</text>
<line x1="60.80" y1="832.24" x2="63.80" y2="832.24" stroke="#111" stroke-width="1.00" />
<line x1="60.80" y1="815.65" x2="65.80" y2="815.65" stroke="#111" stroke-width="1.10" />
<text x="54.50" y="819.25" font-size="10.50" fill="#222" text-anchor="end" >0.7</text>
<line x1="60.80" y1="799.06" x2="63.80" y2="799.06" stroke="#111" stroke-width="1.00" />
<line x1="60.80" y1="782.47" x2="65.80" y2="782.47" stroke="#111" stroke-width="1.10" />
<text x="54.50" y="786.07" font-size="10.50" fill="#222" text-anchor="end" >0.8</text>
<line x1="60.80" y1="765.89" x2="63.80" y2="765.89" stroke="#111" stroke-width="1.00" />
<line x1="60.80" y1="749.30" x2="65.80" y2="749.30" stroke="#111" stroke-width="1.10" />
<text x="54.50" y="752.90" font-size="10.50" fill="#222" text-anchor="end" >0.9</text>
<line x1="94.40" y1="1014.70" x2="94.40" y2="1009.70" stroke="#111" stroke-width="1.10" />
<text x="94.90" y="1030.50" font-size="10.80" fill="#222" text-anchor="middle" >2/16</text>
<line x1="161.70" y1="1014.70" x2="161.70" y2="1009.70" stroke="#111" stroke-width="1.10" />
<text x="162.20" y="1030.50" font-size="10.80" fill="#222" text-anchor="middle" >3/16</text>
<line x1="229.00" y1="1014.70" x2="229.00" y2="1009.70" stroke="#111" stroke-width="1.10" />
<text x="229.50" y="1030.50" font-size="10.80" fill="#222" text-anchor="middle" >4/16</text>
<line x1="296.20" y1="1014.70" x2="296.20" y2="1009.70" stroke="#111" stroke-width="1.10" />
<text x="296.70" y="1030.50" font-size="10.80" fill="#222" text-anchor="middle" >5/16</text>
<line x1="363.40" y1="1014.70" x2="363.40" y2="1009.70" stroke="#111" stroke-width="1.10" />
<text x="363.90" y="1030.50" font-size="10.80" fill="#222" text-anchor="middle" >6/16</text>
<text x="229.00" y="1050.30" font-size="14.30" fill="#222" text-anchor="middle" >*CO coverage (ML)</text>
<text transform="translate(32.5,880.5) rotate(-90)" font-size="14" fill="#222" text-anchor="middle">E<tspan font-size="9.5" dy="3">formation</tspan><tspan dy="-3"> (eV)</tspan></text>
<ellipse cx="85.10" cy="830.20" rx="2.2" ry="1.2" fill="#f3c9a2" opacity="0.45"/>
<ellipse cx="91.70" cy="830.20" rx="2.2" ry="1.2" fill="#f3c9a2" opacity="0.45"/>
<ellipse cx="98.30" cy="830.20" rx="2.2" ry="1.2" fill="#f3c9a2" opacity="0.45"/>
<ellipse cx="104.70" cy="830.20" rx="2.2" ry="1.2" fill="#f3c9a2" opacity="0.45"/>
<ellipse cx="78.50" cy="851.40" rx="2.2" ry="1.2" fill="#f3c9a2" opacity="0.45"/>
<ellipse cx="85.10" cy="851.40" rx="2.2" ry="1.2" fill="#f3c9a2" opacity="0.45"/>
<ellipse cx="91.70" cy="851.40" rx="2.2" ry="1.2" fill="#f3c9a2" opacity="0.45"/>
<ellipse cx="98.30" cy="851.40" rx="2.2" ry="1.2" fill="#f3c9a2" opacity="0.45"/>
<circle cx="108.10" cy="835.20" r="2.2" fill="#f6c59a" opacity="0.6"/>
<circle cx="75.10" cy="846.40" r="2.2" fill="#f6c59a" opacity="0.6"/>
<circle cx="81.70" cy="835.20" r="2.3" fill="#f08a1c"/>
<circle cx="81.70" cy="835.20" r="1.0" fill="#fcc457"/>
<circle cx="88.30" cy="835.20" r="2.3" fill="#f08a1c"/>
<circle cx="88.30" cy="835.20" r="1.0" fill="#fcc457"/>
<circle cx="94.90" cy="835.20" r="2.3" fill="#f08a1c"/>
<circle cx="94.90" cy="835.20" r="1.0" fill="#fcc457"/>
<circle cx="101.50" cy="835.20" r="2.3" fill="#f08a1c"/>
<circle cx="101.50" cy="835.20" r="1.0" fill="#fcc457"/>
<circle cx="78.50" cy="840.80" r="2.3" fill="#f08a1c"/>
<circle cx="78.50" cy="840.80" r="1.0" fill="#fcc457"/>
<circle cx="85.10" cy="840.80" r="2.3" fill="#f08a1c"/>
<circle cx="85.10" cy="840.80" r="1.0" fill="#fcc457"/>
<circle cx="91.70" cy="840.80" r="2.3" fill="#f08a1c"/>
<circle cx="91.70" cy="840.80" r="1.0" fill="#fcc457"/>
<circle cx="98.30" cy="840.80" r="2.3" fill="#f08a1c"/>
<circle cx="98.30" cy="840.80" r="1.0" fill="#fcc457"/>
<circle cx="104.90" cy="840.80" r="2.3" fill="#f08a1c"/>
<circle cx="104.90" cy="840.80" r="1.0" fill="#fcc457"/>
<circle cx="81.70" cy="846.40" r="2.3" fill="#f08a1c"/>
<circle cx="81.70" cy="846.40" r="1.0" fill="#fcc457"/>
<circle cx="88.30" cy="846.40" r="2.3" fill="#f08a1c"/>
<circle cx="88.30" cy="846.40" r="1.0" fill="#fcc457"/>
<circle cx="94.90" cy="846.40" r="2.3" fill="#f08a1c"/>
<circle cx="94.90" cy="846.40" r="1.0" fill="#fcc457"/>
<circle cx="101.50" cy="846.40" r="2.3" fill="#f08a1c"/>
<circle cx="101.50" cy="846.40" r="1.0" fill="#fcc457"/>
<line x1="87.37" y1="843.12" x2="90.37" y2="838.12" stroke="#8a9aa8" stroke-width="1.1"/>
<circle cx="86.87" cy="844.12" r="1.3" fill="#e8283a"/>
<circle cx="95.95" cy="837.21" r="1.2" fill="#e8283a"/>
<ellipse cx="155.10" cy="801.10" rx="2.2" ry="1.2" fill="#f3c9a2" opacity="0.45"/>
<ellipse cx="161.70" cy="801.10" rx="2.2" ry="1.2" fill="#f3c9a2" opacity="0.45"/>
<ellipse cx="168.30" cy="801.10" rx="2.2" ry="1.2" fill="#f3c9a2" opacity="0.45"/>
<ellipse cx="174.70" cy="801.10" rx="2.2" ry="1.2" fill="#f3c9a2" opacity="0.45"/>
<ellipse cx="148.50" cy="822.30" rx="2.2" ry="1.2" fill="#f3c9a2" opacity="0.45"/>
<ellipse cx="155.10" cy="822.30" rx="2.2" ry="1.2" fill="#f3c9a2" opacity="0.45"/>
<ellipse cx="161.70" cy="822.30" rx="2.2" ry="1.2" fill="#f3c9a2" opacity="0.45"/>
<ellipse cx="168.30" cy="822.30" rx="2.2" ry="1.2" fill="#f3c9a2" opacity="0.45"/>
<circle cx="178.10" cy="806.10" r="2.2" fill="#f6c59a" opacity="0.6"/>
<circle cx="145.10" cy="817.30" r="2.2" fill="#f6c59a" opacity="0.6"/>
<circle cx="151.70" cy="806.10" r="2.3" fill="#f08a1c"/>
<circle cx="151.70" cy="806.10" r="1.0" fill="#fcc457"/>
<circle cx="158.30" cy="806.10" r="2.3" fill="#f08a1c"/>
<circle cx="158.30" cy="806.10" r="1.0" fill="#fcc457"/>
<circle cx="164.90" cy="806.10" r="2.3" fill="#f08a1c"/>
<circle cx="164.90" cy="806.10" r="1.0" fill="#fcc457"/>
<circle cx="171.50" cy="806.10" r="2.3" fill="#f08a1c"/>
<circle cx="171.50" cy="806.10" r="1.0" fill="#fcc457"/>
<circle cx="148.50" cy="811.70" r="2.3" fill="#f08a1c"/>
<circle cx="148.50" cy="811.70" r="1.0" fill="#fcc457"/>
<circle cx="155.10" cy="811.70" r="2.3" fill="#f08a1c"/>
<circle cx="155.10" cy="811.70" r="1.0" fill="#fcc457"/>
<circle cx="161.70" cy="811.70" r="2.3" fill="#f08a1c"/>
<circle cx="161.70" cy="811.70" r="1.0" fill="#fcc457"/>
<circle cx="168.30" cy="811.70" r="2.3" fill="#f08a1c"/>
<circle cx="168.30" cy="811.70" r="1.0" fill="#fcc457"/>
<circle cx="174.90" cy="811.70" r="2.3" fill="#f08a1c"/>
<circle cx="174.90" cy="811.70" r="1.0" fill="#fcc457"/>
<circle cx="151.70" cy="817.30" r="2.3" fill="#e8321e"/>
<circle cx="158.30" cy="817.30" r="2.3" fill="#f08a1c"/>
<circle cx="158.30" cy="817.30" r="1.0" fill="#fcc457"/>
<circle cx="164.90" cy="817.30" r="2.3" fill="#f08a1c"/>
<circle cx="164.90" cy="817.30" r="1.0" fill="#fcc457"/>
<circle cx="171.50" cy="817.30" r="2.3" fill="#f08a1c"/>
<circle cx="171.50" cy="817.30" r="1.0" fill="#fcc457"/>
<line x1="162.98" y1="815.83" x2="165.98" y2="810.83" stroke="#8a9aa8" stroke-width="1.1"/>
<circle cx="162.48" cy="816.83" r="1.3" fill="#e8283a"/>
<circle cx="170.63" cy="810.62" r="1.2" fill="#e8283a"/>
<ellipse cx="223.40" cy="788.10" rx="2.2" ry="1.2" fill="#f3c9a2" opacity="0.45"/>
<ellipse cx="230.00" cy="788.10" rx="2.2" ry="1.2" fill="#f3c9a2" opacity="0.45"/>
<ellipse cx="236.60" cy="788.10" rx="2.2" ry="1.2" fill="#f3c9a2" opacity="0.45"/>
<ellipse cx="243.00" cy="788.10" rx="2.2" ry="1.2" fill="#f3c9a2" opacity="0.45"/>
<ellipse cx="216.80" cy="809.30" rx="2.2" ry="1.2" fill="#f3c9a2" opacity="0.45"/>
<ellipse cx="223.40" cy="809.30" rx="2.2" ry="1.2" fill="#f3c9a2" opacity="0.45"/>
<ellipse cx="230.00" cy="809.30" rx="2.2" ry="1.2" fill="#f3c9a2" opacity="0.45"/>
<ellipse cx="236.60" cy="809.30" rx="2.2" ry="1.2" fill="#f3c9a2" opacity="0.45"/>
<circle cx="246.40" cy="793.10" r="2.2" fill="#f6c59a" opacity="0.6"/>
<circle cx="213.40" cy="804.30" r="2.2" fill="#f6c59a" opacity="0.6"/>
<circle cx="220.00" cy="793.10" r="2.3" fill="#f08a1c"/>
<circle cx="220.00" cy="793.10" r="1.0" fill="#fcc457"/>
<circle cx="226.60" cy="793.10" r="2.3" fill="#f08a1c"/>
<circle cx="226.60" cy="793.10" r="1.0" fill="#fcc457"/>
<circle cx="233.20" cy="793.10" r="2.3" fill="#f08a1c"/>
<circle cx="233.20" cy="793.10" r="1.0" fill="#fcc457"/>
<circle cx="239.80" cy="793.10" r="2.3" fill="#f08a1c"/>
<circle cx="239.80" cy="793.10" r="1.0" fill="#fcc457"/>
<circle cx="216.80" cy="798.70" r="2.3" fill="#f08a1c"/>
<circle cx="216.80" cy="798.70" r="1.0" fill="#fcc457"/>
<circle cx="223.40" cy="798.70" r="2.3" fill="#f08a1c"/>
<circle cx="223.40" cy="798.70" r="1.0" fill="#fcc457"/>
<circle cx="230.00" cy="798.70" r="2.3" fill="#f08a1c"/>
<circle cx="230.00" cy="798.70" r="1.0" fill="#fcc457"/>
<circle cx="236.60" cy="798.70" r="2.3" fill="#f08a1c"/>
<circle cx="236.60" cy="798.70" r="1.0" fill="#fcc457"/>
<circle cx="243.20" cy="798.70" r="2.3" fill="#f08a1c"/>
<circle cx="243.20" cy="798.70" r="1.0" fill="#fcc457"/>
<circle cx="220.00" cy="804.30" r="2.3" fill="#f08a1c"/>
<circle cx="220.00" cy="804.30" r="1.0" fill="#fcc457"/>
<circle cx="226.60" cy="804.30" r="2.3" fill="#f08a1c"/>
<circle cx="226.60" cy="804.30" r="1.0" fill="#fcc457"/>
<circle cx="233.20" cy="804.30" r="2.3" fill="#f08a1c"/>
<circle cx="233.20" cy="804.30" r="1.0" fill="#fcc457"/>
<circle cx="239.80" cy="804.30" r="2.3" fill="#f08a1c"/>
<circle cx="239.80" cy="804.30" r="1.0" fill="#fcc457"/>
<line x1="225.69" y1="801.66" x2="228.69" y2="796.66" stroke="#8a9aa8" stroke-width="1.1"/>
<circle cx="225.19" cy="802.66" r="1.3" fill="#e8283a"/>
<circle cx="231.86" cy="795.74" r="1.2" fill="#e8283a"/>
<ellipse cx="291.10" cy="798.70" rx="2.2" ry="1.2" fill="#f3c9a2" opacity="0.45"/>
<ellipse cx="297.70" cy="798.70" rx="2.2" ry="1.2" fill="#f3c9a2" opacity="0.45"/>
<ellipse cx="304.30" cy="798.70" rx="2.2" ry="1.2" fill="#f3c9a2" opacity="0.45"/>
<ellipse cx="310.70" cy="798.70" rx="2.2" ry="1.2" fill="#f3c9a2" opacity="0.45"/>
<ellipse cx="284.50" cy="819.90" rx="2.2" ry="1.2" fill="#f3c9a2" opacity="0.45"/>
<ellipse cx="291.10" cy="819.90" rx="2.2" ry="1.2" fill="#f3c9a2" opacity="0.45"/>
<ellipse cx="297.70" cy="819.90" rx="2.2" ry="1.2" fill="#f3c9a2" opacity="0.45"/>
<ellipse cx="304.30" cy="819.90" rx="2.2" ry="1.2" fill="#f3c9a2" opacity="0.45"/>
<circle cx="314.10" cy="803.70" r="2.2" fill="#f6c59a" opacity="0.6"/>
<circle cx="281.10" cy="814.90" r="2.2" fill="#f6c59a" opacity="0.6"/>
<circle cx="287.70" cy="803.70" r="2.3" fill="#f08a1c"/>
<circle cx="287.70" cy="803.70" r="1.0" fill="#fcc457"/>
<circle cx="294.30" cy="803.70" r="2.3" fill="#f08a1c"/>
<circle cx="294.30" cy="803.70" r="1.0" fill="#fcc457"/>
<circle cx="300.90" cy="803.70" r="2.3" fill="#f08a1c"/>
<circle cx="300.90" cy="803.70" r="1.0" fill="#fcc457"/>
<circle cx="307.50" cy="803.70" r="2.3" fill="#f08a1c"/>
<circle cx="307.50" cy="803.70" r="1.0" fill="#fcc457"/>
<circle cx="284.50" cy="809.30" r="2.3" fill="#f08a1c"/>
<circle cx="284.50" cy="809.30" r="1.0" fill="#fcc457"/>
<circle cx="291.10" cy="809.30" r="2.3" fill="#f08a1c"/>
<circle cx="291.10" cy="809.30" r="1.0" fill="#fcc457"/>
<circle cx="297.70" cy="809.30" r="2.3" fill="#f08a1c"/>
<circle cx="297.70" cy="809.30" r="1.0" fill="#fcc457"/>
<circle cx="304.30" cy="809.30" r="2.3" fill="#f08a1c"/>
<circle cx="304.30" cy="809.30" r="1.0" fill="#fcc457"/>
<circle cx="310.90" cy="809.30" r="2.3" fill="#f08a1c"/>
<circle cx="310.90" cy="809.30" r="1.0" fill="#fcc457"/>
<circle cx="287.70" cy="814.90" r="2.3" fill="#f08a1c"/>
<circle cx="287.70" cy="814.90" r="1.0" fill="#fcc457"/>
<circle cx="294.30" cy="814.90" r="2.3" fill="#f08a1c"/>
<circle cx="294.30" cy="814.90" r="1.0" fill="#fcc457"/>
<circle cx="300.90" cy="814.90" r="2.3" fill="#e8321e"/>
<circle cx="307.50" cy="814.90" r="2.3" fill="#f08a1c"/>
<circle cx="307.50" cy="814.90" r="1.0" fill="#fcc457"/>
<line x1="295.85" y1="812.68" x2="298.85" y2="807.68" stroke="#8a9aa8" stroke-width="1.1"/>
<circle cx="295.35" cy="813.68" r="1.3" fill="#e8283a"/>
<circle cx="304.29" cy="807.75" r="1.2" fill="#e8283a"/>
<ellipse cx="358.40" cy="816.40" rx="2.2" ry="1.2" fill="#f3c9a2" opacity="0.45"/>
<ellipse cx="365.00" cy="816.40" rx="2.2" ry="1.2" fill="#f3c9a2" opacity="0.45"/>
<ellipse cx="371.60" cy="816.40" rx="2.2" ry="1.2" fill="#f3c9a2" opacity="0.45"/>
<ellipse cx="378.00" cy="816.40" rx="2.2" ry="1.2" fill="#f3c9a2" opacity="0.45"/>
<ellipse cx="351.80" cy="837.60" rx="2.2" ry="1.2" fill="#f3c9a2" opacity="0.45"/>
<ellipse cx="358.40" cy="837.60" rx="2.2" ry="1.2" fill="#f3c9a2" opacity="0.45"/>
<ellipse cx="365.00" cy="837.60" rx="2.2" ry="1.2" fill="#f3c9a2" opacity="0.45"/>
<ellipse cx="371.60" cy="837.60" rx="2.2" ry="1.2" fill="#f3c9a2" opacity="0.45"/>
<circle cx="381.40" cy="821.40" r="2.2" fill="#f6c59a" opacity="0.6"/>
<circle cx="348.40" cy="832.60" r="2.2" fill="#f6c59a" opacity="0.6"/>
<circle cx="355.00" cy="821.40" r="2.3" fill="#f08a1c"/>
<circle cx="355.00" cy="821.40" r="1.0" fill="#fcc457"/>
<circle cx="361.60" cy="821.40" r="2.3" fill="#f08a1c"/>
<circle cx="361.60" cy="821.40" r="1.0" fill="#fcc457"/>
<circle cx="368.20" cy="821.40" r="2.3" fill="#f08a1c"/>
<circle cx="368.20" cy="821.40" r="1.0" fill="#fcc457"/>
<circle cx="374.80" cy="821.40" r="2.3" fill="#f08a1c"/>
<circle cx="374.80" cy="821.40" r="1.0" fill="#fcc457"/>
<circle cx="351.80" cy="827.00" r="2.3" fill="#f08a1c"/>
<circle cx="351.80" cy="827.00" r="1.0" fill="#fcc457"/>
<circle cx="358.40" cy="827.00" r="2.3" fill="#f08a1c"/>
<circle cx="358.40" cy="827.00" r="1.0" fill="#fcc457"/>
<circle cx="365.00" cy="827.00" r="2.3" fill="#f08a1c"/>
<circle cx="365.00" cy="827.00" r="1.0" fill="#fcc457"/>
<circle cx="371.60" cy="827.00" r="2.3" fill="#f08a1c"/>
<circle cx="371.60" cy="827.00" r="1.0" fill="#fcc457"/>
<circle cx="378.20" cy="827.00" r="2.3" fill="#f08a1c"/>
<circle cx="378.20" cy="827.00" r="1.0" fill="#fcc457"/>
<circle cx="355.00" cy="832.60" r="2.3" fill="#f08a1c"/>
<circle cx="355.00" cy="832.60" r="1.0" fill="#fcc457"/>
<circle cx="361.60" cy="832.60" r="2.3" fill="#f08a1c"/>
<circle cx="361.60" cy="832.60" r="1.0" fill="#fcc457"/>
<circle cx="368.20" cy="832.60" r="2.3" fill="#f08a1c"/>
<circle cx="368.20" cy="832.60" r="1.0" fill="#fcc457"/>
<circle cx="374.80" cy="832.60" r="2.3" fill="#f08a1c"/>
<circle cx="374.80" cy="832.60" r="1.0" fill="#fcc457"/>
<line x1="367.18" y1="830.99" x2="370.18" y2="825.99" stroke="#8a9aa8" stroke-width="1.1"/>
<circle cx="366.68" cy="831.99" r="1.3" fill="#e8283a"/>
<circle cx="375.61" cy="826.03" r="1.2" fill="#e8283a"/>
<ellipse cx="85.10" cy="931.10" rx="2.2" ry="1.2" fill="#f3c9a2" opacity="0.45"/>
<ellipse cx="91.70" cy="931.10" rx="2.2" ry="1.2" fill="#f3c9a2" opacity="0.45"/>
<ellipse cx="98.30" cy="931.10" rx="2.2" ry="1.2" fill="#f3c9a2" opacity="0.45"/>
<ellipse cx="104.70" cy="931.10" rx="2.2" ry="1.2" fill="#f3c9a2" opacity="0.45"/>
<ellipse cx="78.50" cy="952.30" rx="2.2" ry="1.2" fill="#f3c9a2" opacity="0.45"/>
<ellipse cx="85.10" cy="952.30" rx="2.2" ry="1.2" fill="#f3c9a2" opacity="0.45"/>
<ellipse cx="91.70" cy="952.30" rx="2.2" ry="1.2" fill="#f3c9a2" opacity="0.45"/>
<ellipse cx="98.30" cy="952.30" rx="2.2" ry="1.2" fill="#f3c9a2" opacity="0.45"/>
<circle cx="108.10" cy="936.10" r="2.2" fill="#f6c59a" opacity="0.6"/>
<circle cx="75.10" cy="947.30" r="2.2" fill="#f6c59a" opacity="0.6"/>
<circle cx="81.70" cy="936.10" r="2.3" fill="#e8321e"/>
<circle cx="88.30" cy="936.10" r="2.3" fill="#f08a1c"/>
<circle cx="88.30" cy="936.10" r="1.0" fill="#fcc457"/>
<circle cx="94.90" cy="936.10" r="2.3" fill="#f08a1c"/>
<circle cx="94.90" cy="936.10" r="1.0" fill="#fcc457"/>
<circle cx="101.50" cy="936.10" r="2.3" fill="#f08a1c"/>
<circle cx="101.50" cy="936.10" r="1.0" fill="#fcc457"/>
<circle cx="78.50" cy="941.70" r="2.3" fill="#f08a1c"/>
<circle cx="78.50" cy="941.70" r="1.0" fill="#fcc457"/>
<circle cx="85.10" cy="941.70" r="2.3" fill="#f08a1c"/>
<circle cx="85.10" cy="941.70" r="1.0" fill="#fcc457"/>
<circle cx="91.70" cy="941.70" r="2.3" fill="#f08a1c"/>
<circle cx="91.70" cy="941.70" r="1.0" fill="#fcc457"/>
<circle cx="98.30" cy="941.70" r="2.3" fill="#f08a1c"/>
<circle cx="98.30" cy="941.70" r="1.0" fill="#fcc457"/>
<circle cx="104.90" cy="941.70" r="2.3" fill="#f08a1c"/>
<circle cx="104.90" cy="941.70" r="1.0" fill="#fcc457"/>
<circle cx="81.70" cy="947.30" r="2.3" fill="#f08a1c"/>
<circle cx="81.70" cy="947.30" r="1.0" fill="#fcc457"/>
<circle cx="88.30" cy="947.30" r="2.3" fill="#f08a1c"/>
<circle cx="88.30" cy="947.30" r="1.0" fill="#fcc457"/>
<circle cx="94.90" cy="947.30" r="2.3" fill="#f08a1c"/>
<circle cx="94.90" cy="947.30" r="1.0" fill="#fcc457"/>
<circle cx="101.50" cy="947.30" r="2.3" fill="#f08a1c"/>
<circle cx="101.50" cy="947.30" r="1.0" fill="#fcc457"/>
<line x1="93.41" y1="945.14" x2="96.41" y2="940.14" stroke="#8a9aa8" stroke-width="1.1"/>
<circle cx="92.91" cy="946.14" r="1.3" fill="#e8283a"/>
<circle cx="99.03" cy="939.40" r="1.2" fill="#e8283a"/>
<ellipse cx="155.10" cy="962.70" rx="2.2" ry="1.2" fill="#f3c9a2" opacity="0.45"/>
<ellipse cx="161.70" cy="962.70" rx="2.2" ry="1.2" fill="#f3c9a2" opacity="0.45"/>
<ellipse cx="168.30" cy="962.70" rx="2.2" ry="1.2" fill="#f3c9a2" opacity="0.45"/>
<ellipse cx="174.70" cy="962.70" rx="2.2" ry="1.2" fill="#f3c9a2" opacity="0.45"/>
<ellipse cx="148.50" cy="983.90" rx="2.2" ry="1.2" fill="#f3c9a2" opacity="0.45"/>
<ellipse cx="155.10" cy="983.90" rx="2.2" ry="1.2" fill="#f3c9a2" opacity="0.45"/>
<ellipse cx="161.70" cy="983.90" rx="2.2" ry="1.2" fill="#f3c9a2" opacity="0.45"/>
<ellipse cx="168.30" cy="983.90" rx="2.2" ry="1.2" fill="#f3c9a2" opacity="0.45"/>
<circle cx="178.10" cy="967.70" r="2.2" fill="#f6c59a" opacity="0.6"/>
<circle cx="145.10" cy="978.90" r="2.2" fill="#f6c59a" opacity="0.6"/>
<circle cx="151.70" cy="967.70" r="2.3" fill="#f08a1c"/>
<circle cx="151.70" cy="967.70" r="1.0" fill="#fcc457"/>
<circle cx="158.30" cy="967.70" r="2.3" fill="#e8321e"/>
<circle cx="164.90" cy="967.70" r="2.3" fill="#f08a1c"/>
<circle cx="164.90" cy="967.70" r="1.0" fill="#fcc457"/>
<circle cx="171.50" cy="967.70" r="2.3" fill="#f08a1c"/>
<circle cx="171.50" cy="967.70" r="1.0" fill="#fcc457"/>
<circle cx="148.50" cy="973.30" r="2.3" fill="#f08a1c"/>
<circle cx="148.50" cy="973.30" r="1.0" fill="#fcc457"/>
<circle cx="155.10" cy="973.30" r="2.3" fill="#f08a1c"/>
<circle cx="155.10" cy="973.30" r="1.0" fill="#fcc457"/>
<circle cx="161.70" cy="973.30" r="2.3" fill="#f08a1c"/>
<circle cx="161.70" cy="973.30" r="1.0" fill="#fcc457"/>
<circle cx="168.30" cy="973.30" r="2.3" fill="#f08a1c"/>
<circle cx="168.30" cy="973.30" r="1.0" fill="#fcc457"/>
<circle cx="174.90" cy="973.30" r="2.3" fill="#f08a1c"/>
<circle cx="174.90" cy="973.30" r="1.0" fill="#fcc457"/>
<circle cx="151.70" cy="978.90" r="2.3" fill="#f08a1c"/>
<circle cx="151.70" cy="978.90" r="1.0" fill="#fcc457"/>
<circle cx="158.30" cy="978.90" r="2.3" fill="#f08a1c"/>
<circle cx="158.30" cy="978.90" r="1.0" fill="#fcc457"/>
<circle cx="164.90" cy="978.90" r="2.3" fill="#e8321e"/>
<circle cx="171.50" cy="978.90" r="2.3" fill="#f08a1c"/>
<circle cx="171.50" cy="978.90" r="1.0" fill="#fcc457"/>
<line x1="158.80" y1="973.81" x2="161.80" y2="968.81" stroke="#8a9aa8" stroke-width="1.1"/>
<circle cx="158.30" cy="974.81" r="1.3" fill="#e8283a"/>
<circle cx="165.44" cy="967.81" r="1.2" fill="#e8283a"/>
<ellipse cx="222.70" cy="954.40" rx="2.2" ry="1.2" fill="#f3c9a2" opacity="0.45"/>
<ellipse cx="229.30" cy="954.40" rx="2.2" ry="1.2" fill="#f3c9a2" opacity="0.45"/>
<ellipse cx="235.90" cy="954.40" rx="2.2" ry="1.2" fill="#f3c9a2" opacity="0.45"/>
<ellipse cx="242.30" cy="954.40" rx="2.2" ry="1.2" fill="#f3c9a2" opacity="0.45"/>
<ellipse cx="216.10" cy="975.60" rx="2.2" ry="1.2" fill="#f3c9a2" opacity="0.45"/>
<ellipse cx="222.70" cy="975.60" rx="2.2" ry="1.2" fill="#f3c9a2" opacity="0.45"/>
<ellipse cx="229.30" cy="975.60" rx="2.2" ry="1.2" fill="#f3c9a2" opacity="0.45"/>
<ellipse cx="235.90" cy="975.60" rx="2.2" ry="1.2" fill="#f3c9a2" opacity="0.45"/>
<circle cx="245.70" cy="959.40" r="2.2" fill="#f6c59a" opacity="0.6"/>
<circle cx="212.70" cy="970.60" r="2.2" fill="#f6c59a" opacity="0.6"/>
<circle cx="219.30" cy="959.40" r="2.3" fill="#f08a1c"/>
<circle cx="219.30" cy="959.40" r="1.0" fill="#fcc457"/>
<circle cx="225.90" cy="959.40" r="2.3" fill="#f08a1c"/>
<circle cx="225.90" cy="959.40" r="1.0" fill="#fcc457"/>
<circle cx="232.50" cy="959.40" r="2.3" fill="#f08a1c"/>
<circle cx="232.50" cy="959.40" r="1.0" fill="#fcc457"/>
<circle cx="239.10" cy="959.40" r="2.3" fill="#f08a1c"/>
<circle cx="239.10" cy="959.40" r="1.0" fill="#fcc457"/>
<circle cx="216.10" cy="965.00" r="2.3" fill="#f08a1c"/>
<circle cx="216.10" cy="965.00" r="1.0" fill="#fcc457"/>
<circle cx="222.70" cy="965.00" r="2.3" fill="#f08a1c"/>
<circle cx="222.70" cy="965.00" r="1.0" fill="#fcc457"/>
<circle cx="229.30" cy="965.00" r="2.3" fill="#f08a1c"/>
<circle cx="229.30" cy="965.00" r="1.0" fill="#fcc457"/>
<circle cx="235.90" cy="965.00" r="2.3" fill="#f08a1c"/>
<circle cx="235.90" cy="965.00" r="1.0" fill="#fcc457"/>
<circle cx="242.50" cy="965.00" r="2.3" fill="#f08a1c"/>
<circle cx="242.50" cy="965.00" r="1.0" fill="#fcc457"/>
<circle cx="219.30" cy="970.60" r="2.3" fill="#f08a1c"/>
<circle cx="219.30" cy="970.60" r="1.0" fill="#fcc457"/>
<circle cx="225.90" cy="970.60" r="2.3" fill="#f08a1c"/>
<circle cx="225.90" cy="970.60" r="1.0" fill="#fcc457"/>
<circle cx="232.50" cy="970.60" r="2.3" fill="#f08a1c"/>
<circle cx="232.50" cy="970.60" r="1.0" fill="#fcc457"/>
<circle cx="239.10" cy="970.60" r="2.3" fill="#e8321e"/>
<line x1="226.88" y1="967.38" x2="229.88" y2="962.38" stroke="#8a9aa8" stroke-width="1.1"/>
<circle cx="226.38" cy="968.38" r="1.3" fill="#e8283a"/>
<circle cx="235.88" cy="962.48" r="1.2" fill="#e8283a"/>
<ellipse cx="291.10" cy="931.10" rx="2.2" ry="1.2" fill="#f3c9a2" opacity="0.45"/>
<ellipse cx="297.70" cy="931.10" rx="2.2" ry="1.2" fill="#f3c9a2" opacity="0.45"/>
<ellipse cx="304.30" cy="931.10" rx="2.2" ry="1.2" fill="#f3c9a2" opacity="0.45"/>
<ellipse cx="310.70" cy="931.10" rx="2.2" ry="1.2" fill="#f3c9a2" opacity="0.45"/>
<ellipse cx="284.50" cy="952.30" rx="2.2" ry="1.2" fill="#f3c9a2" opacity="0.45"/>
<ellipse cx="291.10" cy="952.30" rx="2.2" ry="1.2" fill="#f3c9a2" opacity="0.45"/>
<ellipse cx="297.70" cy="952.30" rx="2.2" ry="1.2" fill="#f3c9a2" opacity="0.45"/>
<ellipse cx="304.30" cy="952.30" rx="2.2" ry="1.2" fill="#f3c9a2" opacity="0.45"/>
<circle cx="314.10" cy="936.10" r="2.2" fill="#f6c59a" opacity="0.6"/>
<circle cx="281.10" cy="947.30" r="2.2" fill="#f6c59a" opacity="0.6"/>
<circle cx="287.70" cy="936.10" r="2.3" fill="#e8321e"/>
<circle cx="294.30" cy="936.10" r="2.3" fill="#e8321e"/>
<circle cx="300.90" cy="936.10" r="2.3" fill="#f08a1c"/>
<circle cx="300.90" cy="936.10" r="1.0" fill="#fcc457"/>
<circle cx="307.50" cy="936.10" r="2.3" fill="#f08a1c"/>
<circle cx="307.50" cy="936.10" r="1.0" fill="#fcc457"/>
<circle cx="284.50" cy="941.70" r="2.3" fill="#f08a1c"/>
<circle cx="284.50" cy="941.70" r="1.0" fill="#fcc457"/>
<circle cx="291.10" cy="941.70" r="2.3" fill="#f08a1c"/>
<circle cx="291.10" cy="941.70" r="1.0" fill="#fcc457"/>
<circle cx="297.70" cy="941.70" r="2.3" fill="#f08a1c"/>
<circle cx="297.70" cy="941.70" r="1.0" fill="#fcc457"/>
<circle cx="304.30" cy="941.70" r="2.3" fill="#f08a1c"/>
<circle cx="304.30" cy="941.70" r="1.0" fill="#fcc457"/>
<circle cx="310.90" cy="941.70" r="2.3" fill="#f08a1c"/>
<circle cx="310.90" cy="941.70" r="1.0" fill="#fcc457"/>
<circle cx="287.70" cy="947.30" r="2.3" fill="#f08a1c"/>
<circle cx="287.70" cy="947.30" r="1.0" fill="#fcc457"/>
<circle cx="294.30" cy="947.30" r="2.3" fill="#f08a1c"/>
<circle cx="294.30" cy="947.30" r="1.0" fill="#fcc457"/>
<circle cx="300.90" cy="947.30" r="2.3" fill="#f08a1c"/>
<circle cx="300.90" cy="947.30" r="1.0" fill="#fcc457"/>
<circle cx="307.50" cy="947.30" r="2.3" fill="#f08a1c"/>
<circle cx="307.50" cy="947.30" r="1.0" fill="#fcc457"/>
<line x1="298.94" y1="944.60" x2="301.94" y2="939.60" stroke="#8a9aa8" stroke-width="1.1"/>
<circle cx="298.44" cy="945.60" r="1.3" fill="#e8283a"/>
<circle cx="305.29" cy="938.54" r="1.2" fill="#e8283a"/>
<ellipse cx="358.40" cy="912.70" rx="2.2" ry="1.2" fill="#f3c9a2" opacity="0.45"/>
<ellipse cx="365.00" cy="912.70" rx="2.2" ry="1.2" fill="#f3c9a2" opacity="0.45"/>
<ellipse cx="371.60" cy="912.70" rx="2.2" ry="1.2" fill="#f3c9a2" opacity="0.45"/>
<ellipse cx="378.00" cy="912.70" rx="2.2" ry="1.2" fill="#f3c9a2" opacity="0.45"/>
<ellipse cx="351.80" cy="933.90" rx="2.2" ry="1.2" fill="#f3c9a2" opacity="0.45"/>
<ellipse cx="358.40" cy="933.90" rx="2.2" ry="1.2" fill="#f3c9a2" opacity="0.45"/>
<ellipse cx="365.00" cy="933.90" rx="2.2" ry="1.2" fill="#f3c9a2" opacity="0.45"/>
<ellipse cx="371.60" cy="933.90" rx="2.2" ry="1.2" fill="#f3c9a2" opacity="0.45"/>
<circle cx="381.40" cy="917.70" r="2.2" fill="#f6c59a" opacity="0.6"/>
<circle cx="348.40" cy="928.90" r="2.2" fill="#f6c59a" opacity="0.6"/>
<circle cx="355.00" cy="917.70" r="2.3" fill="#f08a1c"/>
<circle cx="355.00" cy="917.70" r="1.0" fill="#fcc457"/>
<circle cx="361.60" cy="917.70" r="2.3" fill="#f08a1c"/>
<circle cx="361.60" cy="917.70" r="1.0" fill="#fcc457"/>
<circle cx="368.20" cy="917.70" r="2.3" fill="#f08a1c"/>
<circle cx="368.20" cy="917.70" r="1.0" fill="#fcc457"/>
<circle cx="374.80" cy="917.70" r="2.3" fill="#f08a1c"/>
<circle cx="374.80" cy="917.70" r="1.0" fill="#fcc457"/>
<circle cx="351.80" cy="923.30" r="2.3" fill="#f08a1c"/>
<circle cx="351.80" cy="923.30" r="1.0" fill="#fcc457"/>
<circle cx="358.40" cy="923.30" r="2.3" fill="#f08a1c"/>
<circle cx="358.40" cy="923.30" r="1.0" fill="#fcc457"/>
<circle cx="365.00" cy="923.30" r="2.3" fill="#e8321e"/>
<circle cx="371.60" cy="923.30" r="2.3" fill="#f08a1c"/>
<circle cx="371.60" cy="923.30" r="1.0" fill="#fcc457"/>
<circle cx="378.20" cy="923.30" r="2.3" fill="#f08a1c"/>
<circle cx="378.20" cy="923.30" r="1.0" fill="#fcc457"/>
<circle cx="355.00" cy="928.90" r="2.3" fill="#f08a1c"/>
<circle cx="355.00" cy="928.90" r="1.0" fill="#fcc457"/>
<circle cx="361.60" cy="928.90" r="2.3" fill="#f08a1c"/>
<circle cx="361.60" cy="928.90" r="1.0" fill="#fcc457"/>
<circle cx="368.20" cy="928.90" r="2.3" fill="#f08a1c"/>
<circle cx="368.20" cy="928.90" r="1.0" fill="#fcc457"/>
<circle cx="374.80" cy="928.90" r="2.3" fill="#f08a1c"/>
<circle cx="374.80" cy="928.90" r="1.0" fill="#fcc457"/>
<line x1="366.38" y1="927.50" x2="369.38" y2="922.50" stroke="#8a9aa8" stroke-width="1.1"/>
<circle cx="365.88" cy="928.50" r="1.3" fill="#e8283a"/>
<circle cx="372.72" cy="922.18" r="1.2" fill="#e8283a"/>
<polyline points="94.40,871.18 97.81,869.02 101.21,866.92 104.62,864.87 108.02,862.89 111.43,860.96 114.83,859.09 118.24,857.28 121.64,855.52 125.05,853.82 128.45,852.18 131.86,850.59 135.26,849.06 138.67,847.58 142.07,846.15 145.48,844.78 148.88,843.47 152.29,842.21 155.69,841.00 159.10,839.84 162.50,838.73 165.91,837.68 169.31,836.68 172.72,835.73 176.12,834.83 179.53,833.98 182.93,833.18 186.34,832.43 189.74,831.73 193.15,831.07 196.55,830.47 199.96,829.91 203.36,829.40 206.77,828.94 210.17,828.53 213.58,828.16 216.98,827.84 220.39,827.56 223.79,827.33 227.20,827.14 230.60,827.00 234.01,826.90 237.41,826.84 240.82,826.83 244.22,826.86 247.63,826.94 251.03,827.05 254.44,827.21 257.84,827.41 261.25,827.65 264.65,827.93 268.06,828.25 271.46,828.61 274.87,829.01 278.27,829.44 281.68,829.92 285.08,830.44 288.49,830.99 291.89,831.58 295.30,832.21 298.70,832.87 302.11,833.57 305.51,834.31 308.92,835.08 312.32,835.89 315.73,836.73 319.13,837.61 322.54,838.52 325.94,839.46 329.35,840.44 332.75,841.45 336.16,842.49 339.56,843.56 342.97,844.67 346.37,845.80 349.78,846.97 353.18,848.17 356.59,849.40 359.99,850.66 363.40,851.94" fill="none" stroke="#1eaadf" stroke-width="1.4"/>
<polyline points="94.40,915.72 97.81,918.56 101.21,921.26 104.62,923.82 108.02,926.23 111.43,928.51 114.83,930.65 118.24,932.66 121.64,934.53 125.05,936.29 128.45,937.91 131.86,939.42 135.26,940.80 138.67,942.07 142.07,943.22 145.48,944.27 148.88,945.20 152.29,946.03 155.69,946.75 159.10,947.37 162.50,947.89 165.91,948.32 169.31,948.65 172.72,948.90 176.12,949.05 179.53,949.12 182.93,949.11 186.34,949.02 189.74,948.84 193.15,948.60 196.55,948.28 199.96,947.89 203.36,947.44 206.77,946.92 210.17,946.34 213.58,945.70 216.98,945.00 220.39,944.25 223.79,943.44 227.20,942.59 230.60,941.69 234.01,940.75 237.41,939.77 240.82,938.75 244.22,937.69 247.63,936.60 251.03,935.48 254.44,934.34 257.84,933.16 261.25,931.97 264.65,930.75 268.06,929.52 271.46,928.27 274.87,927.01 278.27,925.74 281.68,924.47 285.08,923.19 288.49,921.91 291.89,920.62 295.30,919.35 298.70,918.08 302.11,916.81 305.51,915.56 308.92,914.33 312.32,913.11 315.73,911.91 319.13,910.73 322.54,909.57 325.94,908.44 329.35,907.35 332.75,906.28 336.16,905.25 339.56,904.26 342.97,903.31 346.37,902.40 349.78,901.54 353.18,900.72 356.59,899.96 359.99,899.24 363.40,898.59" fill="none" stroke="#e2445a" stroke-width="1.4"/>
<circle cx="94.40" cy="905.22" r="4.6" fill="url(#bred)"/>
<circle cx="94.40" cy="872.71" r="4.6" fill="url(#bblue)"/>
<circle cx="161.70" cy="954.99" r="4.6" fill="url(#bred)"/>
<circle cx="161.70" cy="833.90" r="4.6" fill="url(#bblue)"/>
<circle cx="229.00" cy="941.72" r="4.6" fill="url(#bred)"/>
<circle cx="229.00" cy="823.94" r="4.6" fill="url(#bblue)"/>
<circle cx="296.20" cy="920.81" r="4.6" fill="url(#bred)"/>
<circle cx="296.20" cy="839.54" r="4.6" fill="url(#bblue)"/>
<circle cx="363.40" cy="902.24" r="4.6" fill="url(#bred)"/>
<circle cx="363.40" cy="852.14" r="4.6" fill="url(#bblue)"/>
<circle cx="253.3" cy="760.2" r="4.6" fill="url(#bred)"/>
<circle cx="253.3" cy="777.7" r="4.6" fill="url(#bblue)"/>
<text x="272.50" y="765.20" font-size="14.00" fill="#222" text-anchor="start" >*CHO formation</text>
<text x="272.50" y="782.70" font-size="14.00" fill="#222" text-anchor="start" >*OCCOH formation</text>
<rect x="462.40" y="752.60" width="330.40" height="273.30" fill="none" stroke="#111" stroke-width="1.3"/>
<line x1="462.40" y1="1025.90" x2="467.40" y2="1025.90" stroke="#111" stroke-width="1.10" />
<text x="456.90" y="1029.50" font-size="10.50" fill="#222" text-anchor="end" >-12</text>
<line x1="462.40" y1="986.86" x2="467.40" y2="986.86" stroke="#111" stroke-width="1.10" />
<text x="456.90" y="990.46" font-size="10.50" fill="#222" text-anchor="end" >-10</text>
<line x1="462.40" y1="947.81" x2="467.40" y2="947.81" stroke="#111" stroke-width="1.10" />
<text x="456.90" y="951.41" font-size="10.50" fill="#222" text-anchor="end" >-8</text>
<line x1="462.40" y1="908.77" x2="467.40" y2="908.77" stroke="#111" stroke-width="1.10" />
<text x="456.90" y="912.37" font-size="10.50" fill="#222" text-anchor="end" >-6</text>
<line x1="462.40" y1="869.73" x2="467.40" y2="869.73" stroke="#111" stroke-width="1.10" />
<text x="456.90" y="873.33" font-size="10.50" fill="#222" text-anchor="end" >-4</text>
<line x1="462.40" y1="830.69" x2="467.40" y2="830.69" stroke="#111" stroke-width="1.10" />
<text x="456.90" y="834.29" font-size="10.50" fill="#222" text-anchor="end" >-2</text>
<line x1="462.40" y1="791.64" x2="467.40" y2="791.64" stroke="#111" stroke-width="1.10" />
<text x="456.90" y="795.24" font-size="10.50" fill="#222" text-anchor="end" >0</text>
<line x1="462.40" y1="752.60" x2="467.40" y2="752.60" stroke="#111" stroke-width="1.10" />
<text x="456.90" y="756.20" font-size="10.50" fill="#222" text-anchor="end" >2</text>
<line x1="462.40" y1="1006.38" x2="465.40" y2="1006.38" stroke="#111" stroke-width="1.00" />
<line x1="462.40" y1="967.34" x2="465.40" y2="967.34" stroke="#111" stroke-width="1.00" />
<line x1="462.40" y1="928.29" x2="465.40" y2="928.29" stroke="#111" stroke-width="1.00" />
<line x1="462.40" y1="889.25" x2="465.40" y2="889.25" stroke="#111" stroke-width="1.00" />
<line x1="462.40" y1="850.21" x2="465.40" y2="850.21" stroke="#111" stroke-width="1.00" />
<line x1="462.40" y1="811.16" x2="465.40" y2="811.16" stroke="#111" stroke-width="1.00" />
<line x1="462.40" y1="772.12" x2="465.40" y2="772.12" stroke="#111" stroke-width="1.00" />
<line x1="517.20" y1="791.70" x2="554.30" y2="844.00" stroke="#e0505c" stroke-width="1.25" stroke-dasharray="4,3"/>
<line x1="517.20" y1="791.70" x2="554.30" y2="840.40" stroke="#2a7fc4" stroke-width="1.25" stroke-dasharray="4,3"/>
<line x1="609.20" y1="844.00" x2="645.80" y2="955.30" stroke="#e0505c" stroke-width="1.25" stroke-dasharray="4,3"/>
<line x1="609.20" y1="840.40" x2="645.80" y2="990.20" stroke="#2a7fc4" stroke-width="1.25" stroke-dasharray="4,3"/>
<line x1="701.00" y1="955.30" x2="737.00" y2="906.20" stroke="#e0505c" stroke-width="1.25" stroke-dasharray="4,3"/>
<line x1="701.00" y1="990.20" x2="737.00" y2="903.50" stroke="#2a7fc4" stroke-width="1.25" stroke-dasharray="4,3"/>
<line x1="554.30" y1="844.00" x2="609.20" y2="844.00" stroke="#e0252f" stroke-width="3.00" />
<line x1="554.30" y1="840.40" x2="609.20" y2="840.40" stroke="#1ea7e1" stroke-width="3.00" />
<line x1="645.80" y1="955.30" x2="701.00" y2="955.30" stroke="#e0252f" stroke-width="3.00" />
<line x1="645.80" y1="990.20" x2="701.00" y2="990.20" stroke="#1ea7e1" stroke-width="3.00" />
<line x1="737.00" y1="906.20" x2="792.80" y2="906.20" stroke="#e0252f" stroke-width="3.00" />
<line x1="737.00" y1="903.50" x2="792.80" y2="903.50" stroke="#1ea7e1" stroke-width="3.00" />
<line x1="462.40" y1="791.70" x2="517.20" y2="791.70" stroke="#e0252f" stroke-width="3.00" />
<line x1="462.40" y1="791.70" x2="517.20" y2="791.70" stroke="#1ea7e1" stroke-width="3.00" />
<text x="477.00" y="786.40" font-size="13.80" fill="#111" text-anchor="start" >*CO</text>
<text x="561.80" y="835.50" font-size="13.80" fill="#111" text-anchor="start" >*CHO</text>
<text x="653.80" y="1004.50" font-size="13.80" fill="#111" text-anchor="start" >*OCH<tspan font-size="9.5" dy="3">3</tspan></text>
<text x="750.80" y="919.70" font-size="13.80" fill="#111" text-anchor="start" >*CH<tspan font-size="9.5" dy="3">4</tspan></text>
<text x="663.00" y="940.40" font-size="13.50" fill="#dc4a55" text-anchor="start" >2.55 eV</text>
<text x="719.20" y="961.00" font-size="13.50" fill="#25ade3" text-anchor="start" >4.44 eV</text>
<rect x="474.50" y="796.50" width="31.50" height="16.50" fill="#fff" stroke="#e36a78" stroke-width="1.1"/>
<ellipse cx="482.00" cy="811.40" rx="1.9" ry="0.9" fill="#f0a860" opacity="0.7"/>
<circle cx="479.10" cy="807.80" r="2.35" fill="#f7a21b" stroke="#d86a10" stroke-width="0.7"/>
<circle cx="479.10" cy="807.80" r="0.9" fill="#ffd36a"/>
<ellipse cx="487.57" cy="811.40" rx="1.9" ry="0.9" fill="#f0a860" opacity="0.7"/>
<circle cx="484.68" cy="807.80" r="2.35" fill="#f7a21b" stroke="#d86a10" stroke-width="0.7"/>
<circle cx="484.68" cy="807.80" r="0.9" fill="#ffd36a"/>
<ellipse cx="493.15" cy="811.40" rx="1.9" ry="0.9" fill="#f0a860" opacity="0.7"/>
<circle cx="490.25" cy="807.80" r="2.35" fill="#f7a21b" stroke="#d86a10" stroke-width="0.7"/>
<circle cx="490.25" cy="807.80" r="0.9" fill="#ffd36a"/>
<ellipse cx="498.73" cy="811.40" rx="1.9" ry="0.9" fill="#f0a860" opacity="0.7"/>
<circle cx="495.83" cy="807.80" r="2.35" fill="#f7a21b" stroke="#d86a10" stroke-width="0.7"/>
<circle cx="495.83" cy="807.80" r="0.9" fill="#ffd36a"/>
<ellipse cx="504.30" cy="811.40" rx="1.9" ry="0.9" fill="#f0a860" opacity="0.7"/>
<circle cx="501.40" cy="807.80" r="2.35" fill="#f7a21b" stroke="#d86a10" stroke-width="0.7"/>
<circle cx="501.40" cy="807.80" r="0.9" fill="#ffd36a"/>
<line x1="478.49" y1="805.60" x2="478.49" y2="799.80" stroke="#888" stroke-width="0.8"/>
<circle cx="478.49" cy="802.80" r="1.2" fill="#777"/>
<circle cx="478.75" cy="799.00" r="1.3" fill="#e8222a"/>
<line x1="484.63" y1="805.60" x2="484.63" y2="799.80" stroke="#888" stroke-width="0.8"/>
<circle cx="484.63" cy="802.80" r="1.2" fill="#777"/>
<circle cx="484.51" cy="799.00" r="1.3" fill="#e8222a"/>
<line x1="500.94" y1="805.60" x2="500.94" y2="799.80" stroke="#888" stroke-width="0.8"/>
<circle cx="500.94" cy="802.80" r="1.2" fill="#777"/>
<circle cx="500.92" cy="799.00" r="1.3" fill="#e8222a"/>
<rect x="474.50" y="816.30" width="31.50" height="16.70" fill="#fff" stroke="#1ea7e1" stroke-width="1.1"/>
<ellipse cx="482.00" cy="831.40" rx="1.9" ry="0.9" fill="#f0a860" opacity="0.7"/>
<circle cx="479.10" cy="827.80" r="2.35" fill="#f7a21b" stroke="#d86a10" stroke-width="0.7"/>
<circle cx="479.10" cy="827.80" r="0.9" fill="#ffd36a"/>
<ellipse cx="487.57" cy="831.40" rx="1.9" ry="0.9" fill="#f0a860" opacity="0.7"/>
<circle cx="484.68" cy="827.80" r="2.35" fill="#f7a21b" stroke="#d86a10" stroke-width="0.7"/>
<circle cx="484.68" cy="827.80" r="0.9" fill="#ffd36a"/>
<ellipse cx="493.15" cy="831.40" rx="1.9" ry="0.9" fill="#f0a860" opacity="0.7"/>
<circle cx="490.25" cy="827.80" r="2.35" fill="#f7a21b" stroke="#d86a10" stroke-width="0.7"/>
<circle cx="490.25" cy="827.80" r="0.9" fill="#ffd36a"/>
<ellipse cx="498.73" cy="831.40" rx="1.9" ry="0.9" fill="#f0a860" opacity="0.7"/>
<circle cx="495.83" cy="827.80" r="2.35" fill="#f7a21b" stroke="#d86a10" stroke-width="0.7"/>
<circle cx="495.83" cy="827.80" r="0.9" fill="#ffd36a"/>
<ellipse cx="504.30" cy="831.40" rx="1.9" ry="0.9" fill="#f0a860" opacity="0.7"/>
<circle cx="501.40" cy="827.80" r="2.35" fill="#f7a21b" stroke="#d86a10" stroke-width="0.7"/>
<circle cx="501.40" cy="827.80" r="0.9" fill="#ffd36a"/>
<line x1="479.48" y1="825.60" x2="479.48" y2="819.80" stroke="#888" stroke-width="0.8"/>
<circle cx="479.48" cy="822.80" r="1.2" fill="#777"/>
<circle cx="479.65" cy="819.00" r="1.3" fill="#e8222a"/>
<line x1="484.37" y1="825.60" x2="484.37" y2="819.80" stroke="#888" stroke-width="0.8"/>
<circle cx="484.37" cy="822.80" r="1.2" fill="#777"/>
<circle cx="484.47" cy="819.00" r="1.3" fill="#e8222a"/>
<line x1="490.42" y1="825.60" x2="490.42" y2="819.80" stroke="#888" stroke-width="0.8"/>
<circle cx="490.42" cy="822.80" r="1.2" fill="#777"/>
<circle cx="490.50" cy="819.00" r="1.3" fill="#e8222a"/>
<line x1="495.28" y1="825.60" x2="495.28" y2="819.80" stroke="#888" stroke-width="0.8"/>
<circle cx="495.28" cy="822.80" r="1.2" fill="#777"/>
<circle cx="495.21" cy="819.00" r="1.3" fill="#e8222a"/>
<line x1="501.23" y1="825.60" x2="501.23" y2="819.80" stroke="#888" stroke-width="0.8"/>
<circle cx="501.23" cy="822.80" r="1.2" fill="#777"/>
<circle cx="501.45" cy="819.00" r="1.3" fill="#e8222a"/>
<rect x="565.00" y="803.30" width="32.00" height="16.70" fill="#fff" stroke="#1ea7e1" stroke-width="1.1"/>
<ellipse cx="572.50" cy="818.40" rx="1.9" ry="0.9" fill="#f0a860" opacity="0.7"/>
<circle cx="569.60" cy="814.80" r="2.35" fill="#f7a21b" stroke="#d86a10" stroke-width="0.7"/>
<circle cx="569.60" cy="814.80" r="0.9" fill="#ffd36a"/>
<ellipse cx="578.20" cy="818.40" rx="1.9" ry="0.9" fill="#f0a860" opacity="0.7"/>
<circle cx="575.30" cy="814.80" r="2.35" fill="#f7a21b" stroke="#d86a10" stroke-width="0.7"/>
<circle cx="575.30" cy="814.80" r="0.9" fill="#ffd36a"/>
<ellipse cx="583.90" cy="818.40" rx="1.9" ry="0.9" fill="#f0a860" opacity="0.7"/>
<circle cx="581.00" cy="814.80" r="2.35" fill="#f7a21b" stroke="#d86a10" stroke-width="0.7"/>
<circle cx="581.00" cy="814.80" r="0.9" fill="#ffd36a"/>
<ellipse cx="589.60" cy="818.40" rx="1.9" ry="0.9" fill="#f0a860" opacity="0.7"/>
<circle cx="586.70" cy="814.80" r="2.35" fill="#f7a21b" stroke="#d86a10" stroke-width="0.7"/>
<circle cx="586.70" cy="814.80" r="0.9" fill="#ffd36a"/>
<ellipse cx="595.30" cy="818.40" rx="1.9" ry="0.9" fill="#f0a860" opacity="0.7"/>
<circle cx="592.40" cy="814.80" r="2.35" fill="#f7a21b" stroke="#d86a10" stroke-width="0.7"/>
<circle cx="592.40" cy="814.80" r="0.9" fill="#ffd36a"/>
<line x1="569.77" y1="812.60" x2="569.77" y2="806.80" stroke="#888" stroke-width="0.8"/>
<circle cx="569.77" cy="809.80" r="1.2" fill="#777"/>
<circle cx="570.18" cy="806.00" r="1.3" fill="#e8222a"/>
<line x1="575.25" y1="812.60" x2="575.25" y2="806.80" stroke="#888" stroke-width="0.8"/>
<circle cx="575.25" cy="809.80" r="1.2" fill="#777"/>
<circle cx="575.30" cy="806.00" r="1.3" fill="#e8222a"/>
<line x1="580.51" y1="812.60" x2="580.51" y2="806.80" stroke="#888" stroke-width="0.8"/>
<circle cx="580.51" cy="809.80" r="1.2" fill="#777"/>
<circle cx="580.72" cy="806.00" r="1.3" fill="#e8222a"/>
<line x1="586.77" y1="812.60" x2="586.77" y2="806.80" stroke="#888" stroke-width="0.8"/>
<circle cx="586.77" cy="809.80" r="1.2" fill="#777"/>
<circle cx="586.82" cy="806.00" r="1.3" fill="#e8222a"/>
<line x1="592.24" y1="812.60" x2="592.24" y2="806.80" stroke="#888" stroke-width="0.8"/>
<circle cx="592.24" cy="809.80" r="1.2" fill="#777"/>
<circle cx="592.60" cy="806.00" r="1.3" fill="#e8222a"/>
<rect x="565.00" y="850.00" width="32.00" height="16.70" fill="#fff" stroke="#e36a78" stroke-width="1.1"/>
<ellipse cx="572.50" cy="865.10" rx="1.9" ry="0.9" fill="#f0a860" opacity="0.7"/>
<circle cx="569.60" cy="861.50" r="2.35" fill="#f7a21b" stroke="#d86a10" stroke-width="0.7"/>
<circle cx="569.60" cy="861.50" r="0.9" fill="#ffd36a"/>
<ellipse cx="578.20" cy="865.10" rx="1.9" ry="0.9" fill="#f0a860" opacity="0.7"/>
<circle cx="575.30" cy="861.50" r="2.35" fill="#f7a21b" stroke="#d86a10" stroke-width="0.7"/>
<circle cx="575.30" cy="861.50" r="0.9" fill="#ffd36a"/>
<ellipse cx="583.90" cy="865.10" rx="1.9" ry="0.9" fill="#f0a860" opacity="0.7"/>
<circle cx="581.00" cy="861.50" r="2.35" fill="#f7a21b" stroke="#d86a10" stroke-width="0.7"/>
<circle cx="581.00" cy="861.50" r="0.9" fill="#ffd36a"/>
<ellipse cx="589.60" cy="865.10" rx="1.9" ry="0.9" fill="#f0a860" opacity="0.7"/>
<circle cx="586.70" cy="861.50" r="2.35" fill="#f7a21b" stroke="#d86a10" stroke-width="0.7"/>
<circle cx="586.70" cy="861.50" r="0.9" fill="#ffd36a"/>
<ellipse cx="595.30" cy="865.10" rx="1.9" ry="0.9" fill="#f0a860" opacity="0.7"/>
<circle cx="592.40" cy="861.50" r="2.35" fill="#f7a21b" stroke="#d86a10" stroke-width="0.7"/>
<circle cx="592.40" cy="861.50" r="0.9" fill="#ffd36a"/>
<line x1="574.67" y1="859.30" x2="574.67" y2="853.50" stroke="#888" stroke-width="0.8"/>
<circle cx="574.67" cy="856.50" r="1.2" fill="#777"/>
<circle cx="574.56" cy="852.70" r="1.3" fill="#e8222a"/>
<line x1="580.45" y1="859.30" x2="580.45" y2="853.50" stroke="#888" stroke-width="0.8"/>
<circle cx="580.45" cy="856.50" r="1.2" fill="#777"/>
<circle cx="580.01" cy="852.70" r="1.3" fill="#e8222a"/>
<rect x="659.00" y="907.30" width="31.50" height="16.50" fill="#fff" stroke="#e36a78" stroke-width="1.1"/>
<ellipse cx="666.50" cy="922.20" rx="1.9" ry="0.9" fill="#f0a860" opacity="0.7"/>
<circle cx="663.60" cy="918.60" r="2.35" fill="#f7a21b" stroke="#d86a10" stroke-width="0.7"/>
<circle cx="663.60" cy="918.60" r="0.9" fill="#ffd36a"/>
<ellipse cx="672.08" cy="922.20" rx="1.9" ry="0.9" fill="#f0a860" opacity="0.7"/>
<circle cx="669.18" cy="918.60" r="2.35" fill="#f7a21b" stroke="#d86a10" stroke-width="0.7"/>
<circle cx="669.18" cy="918.60" r="0.9" fill="#ffd36a"/>
<ellipse cx="677.65" cy="922.20" rx="1.9" ry="0.9" fill="#f0a860" opacity="0.7"/>
<circle cx="674.75" cy="918.60" r="2.35" fill="#f7a21b" stroke="#d86a10" stroke-width="0.7"/>
<circle cx="674.75" cy="918.60" r="0.9" fill="#ffd36a"/>
<ellipse cx="683.23" cy="922.20" rx="1.9" ry="0.9" fill="#f0a860" opacity="0.7"/>
<circle cx="680.33" cy="918.60" r="2.35" fill="#f7a21b" stroke="#d86a10" stroke-width="0.7"/>
<circle cx="680.33" cy="918.60" r="0.9" fill="#ffd36a"/>
<ellipse cx="688.80" cy="922.20" rx="1.9" ry="0.9" fill="#f0a860" opacity="0.7"/>
<circle cx="685.90" cy="918.60" r="2.35" fill="#f7a21b" stroke="#d86a10" stroke-width="0.7"/>
<circle cx="685.90" cy="918.60" r="0.9" fill="#ffd36a"/>
<line x1="674.52" y1="916.40" x2="674.52" y2="910.60" stroke="#888" stroke-width="0.8"/>
<circle cx="674.52" cy="913.60" r="1.2" fill="#777"/>
<circle cx="674.71" cy="909.80" r="1.3" fill="#e8222a"/>
<line x1="680.87" y1="916.40" x2="680.87" y2="910.60" stroke="#888" stroke-width="0.8"/>
<circle cx="680.87" cy="913.60" r="1.2" fill="#777"/>
<circle cx="681.02" cy="909.80" r="1.3" fill="#e8222a"/>
<line x1="685.95" y1="916.40" x2="685.95" y2="910.60" stroke="#888" stroke-width="0.8"/>
<circle cx="685.95" cy="913.60" r="1.2" fill="#777"/>
<circle cx="686.29" cy="909.80" r="1.3" fill="#e8222a"/>
<rect x="659.00" y="969.50" width="31.50" height="16.20" fill="#fff" stroke="#1ea7e1" stroke-width="1.1"/>
<ellipse cx="666.50" cy="984.10" rx="1.9" ry="0.9" fill="#f0a860" opacity="0.7"/>
<circle cx="663.60" cy="980.50" r="2.35" fill="#f7a21b" stroke="#d86a10" stroke-width="0.7"/>
<circle cx="663.60" cy="980.50" r="0.9" fill="#ffd36a"/>
<ellipse cx="672.08" cy="984.10" rx="1.9" ry="0.9" fill="#f0a860" opacity="0.7"/>
<circle cx="669.18" cy="980.50" r="2.35" fill="#f7a21b" stroke="#d86a10" stroke-width="0.7"/>
<circle cx="669.18" cy="980.50" r="0.9" fill="#ffd36a"/>
<ellipse cx="677.65" cy="984.10" rx="1.9" ry="0.9" fill="#f0a860" opacity="0.7"/>
<circle cx="674.75" cy="980.50" r="2.35" fill="#f7a21b" stroke="#d86a10" stroke-width="0.7"/>
<circle cx="674.75" cy="980.50" r="0.9" fill="#ffd36a"/>
<ellipse cx="683.23" cy="984.10" rx="1.9" ry="0.9" fill="#f0a860" opacity="0.7"/>
<circle cx="680.33" cy="980.50" r="2.35" fill="#f7a21b" stroke="#d86a10" stroke-width="0.7"/>
<circle cx="680.33" cy="980.50" r="0.9" fill="#ffd36a"/>
<ellipse cx="688.80" cy="984.10" rx="1.9" ry="0.9" fill="#f0a860" opacity="0.7"/>
<circle cx="685.90" cy="980.50" r="2.35" fill="#f7a21b" stroke="#d86a10" stroke-width="0.7"/>
<circle cx="685.90" cy="980.50" r="0.9" fill="#ffd36a"/>
<line x1="662.86" y1="978.30" x2="662.86" y2="972.50" stroke="#888" stroke-width="0.8"/>
<circle cx="662.86" cy="975.50" r="1.2" fill="#777"/>
<circle cx="662.50" cy="971.70" r="1.3" fill="#e8222a"/>
<line x1="669.31" y1="978.30" x2="669.31" y2="972.50" stroke="#888" stroke-width="0.8"/>
<circle cx="669.31" cy="975.50" r="1.2" fill="#777"/>
<circle cx="669.78" cy="971.70" r="1.3" fill="#e8222a"/>
<line x1="675.13" y1="978.30" x2="675.13" y2="972.50" stroke="#888" stroke-width="0.8"/>
<circle cx="675.13" cy="975.50" r="1.2" fill="#777"/>
<circle cx="674.95" cy="971.70" r="1.3" fill="#e8222a"/>
<line x1="685.14" y1="978.30" x2="685.14" y2="972.50" stroke="#888" stroke-width="0.8"/>
<circle cx="685.14" cy="975.50" r="1.2" fill="#777"/>
<circle cx="685.12" cy="971.70" r="1.3" fill="#e8222a"/>
<rect x="746.00" y="879.00" width="31.50" height="16.50" fill="#fff" stroke="#1ea7e1" stroke-width="1.1"/>
<ellipse cx="753.50" cy="893.90" rx="1.9" ry="0.9" fill="#f0a860" opacity="0.7"/>
<circle cx="750.60" cy="890.30" r="2.35" fill="#f7a21b" stroke="#d86a10" stroke-width="0.7"/>
<circle cx="750.60" cy="890.30" r="0.9" fill="#ffd36a"/>
<ellipse cx="759.08" cy="893.90" rx="1.9" ry="0.9" fill="#f0a860" opacity="0.7"/>
<circle cx="756.18" cy="890.30" r="2.35" fill="#f7a21b" stroke="#d86a10" stroke-width="0.7"/>
<circle cx="756.18" cy="890.30" r="0.9" fill="#ffd36a"/>
<ellipse cx="764.65" cy="893.90" rx="1.9" ry="0.9" fill="#f0a860" opacity="0.7"/>
<circle cx="761.75" cy="890.30" r="2.35" fill="#f7a21b" stroke="#d86a10" stroke-width="0.7"/>
<circle cx="761.75" cy="890.30" r="0.9" fill="#ffd36a"/>
<ellipse cx="770.23" cy="893.90" rx="1.9" ry="0.9" fill="#f0a860" opacity="0.7"/>
<circle cx="767.33" cy="890.30" r="2.35" fill="#f7a21b" stroke="#d86a10" stroke-width="0.7"/>
<circle cx="767.33" cy="890.30" r="0.9" fill="#ffd36a"/>
<ellipse cx="775.80" cy="893.90" rx="1.9" ry="0.9" fill="#f0a860" opacity="0.7"/>
<circle cx="772.90" cy="890.30" r="2.35" fill="#f7a21b" stroke="#d86a10" stroke-width="0.7"/>
<circle cx="772.90" cy="890.30" r="0.9" fill="#ffd36a"/>
<line x1="749.92" y1="888.10" x2="749.92" y2="882.30" stroke="#888" stroke-width="0.8"/>
<circle cx="749.92" cy="885.30" r="1.2" fill="#777"/>
<circle cx="749.95" cy="881.50" r="1.3" fill="#e8222a"/>
<line x1="755.96" y1="888.10" x2="755.96" y2="882.30" stroke="#888" stroke-width="0.8"/>
<circle cx="755.96" cy="885.30" r="1.2" fill="#777"/>
<circle cx="755.52" cy="881.50" r="1.3" fill="#e8222a"/>
<line x1="761.76" y1="888.10" x2="761.76" y2="882.30" stroke="#888" stroke-width="0.8"/>
<circle cx="761.76" cy="885.30" r="1.2" fill="#777"/>
<circle cx="761.30" cy="881.50" r="1.3" fill="#e8222a"/>
<line x1="767.22" y1="888.10" x2="767.22" y2="882.30" stroke="#888" stroke-width="0.8"/>
<circle cx="767.22" cy="885.30" r="1.2" fill="#777"/>
<circle cx="766.79" cy="881.50" r="1.3" fill="#e8222a"/>
<rect x="746.00" y="928.30" width="31.50" height="16.50" fill="#fff" stroke="#e36a78" stroke-width="1.1"/>
<ellipse cx="753.50" cy="943.20" rx="1.9" ry="0.9" fill="#f0a860" opacity="0.7"/>
<circle cx="750.60" cy="939.60" r="2.35" fill="#f7a21b" stroke="#d86a10" stroke-width="0.7"/>
<circle cx="750.60" cy="939.60" r="0.9" fill="#ffd36a"/>
<ellipse cx="759.08" cy="943.20" rx="1.9" ry="0.9" fill="#f0a860" opacity="0.7"/>
<circle cx="756.18" cy="939.60" r="2.35" fill="#f7a21b" stroke="#d86a10" stroke-width="0.7"/>
<circle cx="756.18" cy="939.60" r="0.9" fill="#ffd36a"/>
<ellipse cx="764.65" cy="943.20" rx="1.9" ry="0.9" fill="#f0a860" opacity="0.7"/>
<circle cx="761.75" cy="939.60" r="2.35" fill="#f7a21b" stroke="#d86a10" stroke-width="0.7"/>
<circle cx="761.75" cy="939.60" r="0.9" fill="#ffd36a"/>
<ellipse cx="770.23" cy="943.20" rx="1.9" ry="0.9" fill="#f0a860" opacity="0.7"/>
<circle cx="767.33" cy="939.60" r="2.35" fill="#f7a21b" stroke="#d86a10" stroke-width="0.7"/>
<circle cx="767.33" cy="939.60" r="0.9" fill="#ffd36a"/>
<ellipse cx="775.80" cy="943.20" rx="1.9" ry="0.9" fill="#f0a860" opacity="0.7"/>
<circle cx="772.90" cy="939.60" r="2.35" fill="#f7a21b" stroke="#d86a10" stroke-width="0.7"/>
<circle cx="772.90" cy="939.60" r="0.9" fill="#ffd36a"/>
<line x1="755.58" y1="937.40" x2="755.58" y2="931.60" stroke="#888" stroke-width="0.8"/>
<circle cx="755.58" cy="934.60" r="1.2" fill="#777"/>
<circle cx="755.78" cy="930.80" r="1.3" fill="#e8222a"/>
<line x1="761.09" y1="937.40" x2="761.09" y2="931.60" stroke="#888" stroke-width="0.8"/>
<circle cx="761.09" cy="934.60" r="1.2" fill="#777"/>
<circle cx="760.83" cy="930.80" r="1.3" fill="#e8222a"/>
<line x1="773.70" y1="937.40" x2="773.70" y2="931.60" stroke="#888" stroke-width="0.8"/>
<circle cx="773.70" cy="934.60" r="1.2" fill="#777"/>
<circle cx="773.41" cy="930.80" r="1.3" fill="#e8222a"/>
<line x1="590.10" y1="763.20" x2="620.70" y2="763.20" stroke="#e0252f" stroke-width="3.00" />
<line x1="590.10" y1="780.80" x2="620.70" y2="780.80" stroke="#1ea7e1" stroke-width="3.00" />
<text x="624.30" y="768.00" font-size="14.30" fill="#111" text-anchor="start" >Cu(111) 3/16 ML</text>
<text x="624.30" y="785.60" font-size="14.30" fill="#111" text-anchor="start" >Cu(111) 6/16 ML</text>
<text transform="translate(425.50,889.25) rotate(-90)" font-size="14" fill="#222" text-anchor="middle">Free energy (eV)</text>
<text x="627.50" y="1046.80" font-size="14.00" fill="#222" text-anchor="middle" >Reaction coordinate</text>
<rect x="846.70" y="755.50" width="336.10" height="273.90" fill="none" stroke="#111" stroke-width="1.3"/>
<line x1="846.70" y1="1029.40" x2="851.70" y2="1029.40" stroke="#111" stroke-width="1.10" />
<text x="841.20" y="1033.00" font-size="10.50" fill="#222" text-anchor="end" >-3</text>
<line x1="846.70" y1="983.75" x2="851.70" y2="983.75" stroke="#111" stroke-width="1.10" />
<text x="841.20" y="987.35" font-size="10.50" fill="#222" text-anchor="end" >-2</text>
<line x1="846.70" y1="938.10" x2="851.70" y2="938.10" stroke="#111" stroke-width="1.10" />
<text x="841.20" y="941.70" font-size="10.50" fill="#222" text-anchor="end" >-1</text>
<line x1="846.70" y1="892.45" x2="851.70" y2="892.45" stroke="#111" stroke-width="1.10" />
<text x="841.20" y="896.05" font-size="10.50" fill="#222" text-anchor="end" >0</text>
<line x1="846.70" y1="846.80" x2="851.70" y2="846.80" stroke="#111" stroke-width="1.10" />
<text x="841.20" y="850.40" font-size="10.50" fill="#222" text-anchor="end" >1</text>
<line x1="846.70" y1="801.15" x2="851.70" y2="801.15" stroke="#111" stroke-width="1.10" />
<text x="841.20" y="804.75" font-size="10.50" fill="#222" text-anchor="end" >2</text>
<line x1="846.70" y1="755.50" x2="851.70" y2="755.50" stroke="#111" stroke-width="1.10" />
<text x="841.20" y="759.10" font-size="10.50" fill="#222" text-anchor="end" >3</text>
<line x1="846.70" y1="1006.58" x2="849.70" y2="1006.58" stroke="#111" stroke-width="1.00" />
<line x1="846.70" y1="960.93" x2="849.70" y2="960.93" stroke="#111" stroke-width="1.00" />
<line x1="846.70" y1="915.28" x2="849.70" y2="915.28" stroke="#111" stroke-width="1.00" />
<line x1="846.70" y1="869.62" x2="849.70" y2="869.62" stroke="#111" stroke-width="1.00" />
<line x1="846.70" y1="823.98" x2="849.70" y2="823.98" stroke="#111" stroke-width="1.00" />
<line x1="846.70" y1="778.33" x2="849.70" y2="778.33" stroke="#111" stroke-width="1.00" />
<line x1="902.50" y1="892.50" x2="939.70" y2="846.20" stroke="#e0505c" stroke-width="1.25" stroke-dasharray="4,3"/>
<line x1="902.50" y1="892.50" x2="940.00" y2="853.70" stroke="#2aa0dd" stroke-width="1.25" stroke-dasharray="4,3"/>
<line x1="995.80" y1="846.20" x2="1032.30" y2="1002.70" stroke="#e0505c" stroke-width="1.25" stroke-dasharray="4,3"/>
<line x1="995.80" y1="853.70" x2="1032.30" y2="1000.30" stroke="#2aa0dd" stroke-width="1.25" stroke-dasharray="4,3"/>
<line x1="1089.30" y1="1002.70" x2="1126.20" y2="787.00" stroke="#e0505c" stroke-width="1.25" stroke-dasharray="4,3"/>
<line x1="1089.30" y1="1000.30" x2="1126.70" y2="798.70" stroke="#2aa0dd" stroke-width="1.25" stroke-dasharray="4,3"/>
<line x1="939.70" y1="846.20" x2="995.80" y2="846.20" stroke="#e0252f" stroke-width="3.00" />
<line x1="940.00" y1="853.70" x2="995.80" y2="853.70" stroke="#1ea7e1" stroke-width="3.00" />
<line x1="1032.30" y1="1002.70" x2="1089.30" y2="1002.70" stroke="#e0252f" stroke-width="3.00" />
<line x1="1032.30" y1="1000.30" x2="1089.30" y2="1000.30" stroke="#1ea7e1" stroke-width="3.00" />
<line x1="1126.20" y1="787.00" x2="1182.80" y2="787.00" stroke="#e0252f" stroke-width="3.00" />
<line x1="1126.70" y1="798.70" x2="1182.80" y2="798.70" stroke="#1ea7e1" stroke-width="3.00" />
<line x1="846.70" y1="892.50" x2="902.50" y2="892.50" stroke="#e0252f" stroke-width="3.00" />
<line x1="846.70" y1="892.50" x2="902.50" y2="892.50" stroke="#1ea7e1" stroke-width="3.00" />
<text x="861.30" y="887.00" font-size="13.80" fill="#111" text-anchor="start" >*CO</text>
<text x="943.80" y="840.80" font-size="13.80" fill="#111" text-anchor="start" >*OCCO</text>
<text x="1032.00" y="1017.30" font-size="13.80" fill="#111" text-anchor="start" >*OCCOH</text>
<text x="1133.80" y="780.00" font-size="13.80" fill="#111" text-anchor="start" >*C<tspan font-size="9.5" dy="3">2</tspan><tspan dy="-3">H</tspan><tspan font-size="9.5" dy="3">4</tspan></text>
<text x="876.60" y="860.50" font-size="13.50" fill="#dc4a55" text-anchor="start" >1.02 eV</text>
<text x="930.00" y="877.50" font-size="13.50" fill="#25ade3" text-anchor="start" >0.85 eV</text>
<text x="1056.80" y="885.80" font-size="13.50" fill="#dc4a55" text-anchor="start" >2.31 eV</text>
<text x="1112.60" y="904.70" font-size="13.50" fill="#25ade3" text-anchor="start" >2.06 eV</text>
<rect x="859.50" y="899.70" width="31.80" height="16.50" fill="#fff" stroke="#e36a78" stroke-width="1.1"/>
<ellipse cx="867.00" cy="914.60" rx="1.9" ry="0.9" fill="#f0a860" opacity="0.7"/>
<circle cx="864.10" cy="911.00" r="2.35" fill="#f7a21b" stroke="#d86a10" stroke-width="0.7"/>
<circle cx="864.10" cy="911.00" r="0.9" fill="#ffd36a"/>
<ellipse cx="872.65" cy="914.60" rx="1.9" ry="0.9" fill="#f0a860" opacity="0.7"/>
<circle cx="869.75" cy="911.00" r="2.35" fill="#f7a21b" stroke="#d86a10" stroke-width="0.7"/>
<circle cx="869.75" cy="911.00" r="0.9" fill="#ffd36a"/>
<ellipse cx="878.30" cy="914.60" rx="1.9" ry="0.9" fill="#f0a860" opacity="0.7"/>
<circle cx="875.40" cy="911.00" r="2.35" fill="#f7a21b" stroke="#d86a10" stroke-width="0.7"/>
<circle cx="875.40" cy="911.00" r="0.9" fill="#ffd36a"/>
<ellipse cx="883.95" cy="914.60" rx="1.9" ry="0.9" fill="#f0a860" opacity="0.7"/>
<circle cx="881.05" cy="911.00" r="2.35" fill="#f7a21b" stroke="#d86a10" stroke-width="0.7"/>
<circle cx="881.05" cy="911.00" r="0.9" fill="#ffd36a"/>
<ellipse cx="889.60" cy="914.60" rx="1.9" ry="0.9" fill="#f0a860" opacity="0.7"/>
<circle cx="886.70" cy="911.00" r="2.35" fill="#f7a21b" stroke="#d86a10" stroke-width="0.7"/>
<circle cx="886.70" cy="911.00" r="0.9" fill="#ffd36a"/>
<line x1="869.76" y1="908.80" x2="869.76" y2="903.00" stroke="#888" stroke-width="0.8"/>
<circle cx="869.76" cy="906.00" r="1.2" fill="#777"/>
<circle cx="869.85" cy="902.20" r="1.3" fill="#e8222a"/>
<line x1="880.55" y1="908.80" x2="880.55" y2="903.00" stroke="#888" stroke-width="0.8"/>
<circle cx="880.55" cy="906.00" r="1.2" fill="#777"/>
<circle cx="880.56" cy="902.20" r="1.3" fill="#e8222a"/>
<line x1="886.91" y1="908.80" x2="886.91" y2="903.00" stroke="#888" stroke-width="0.8"/>
<circle cx="886.91" cy="906.00" r="1.2" fill="#777"/>
<circle cx="887.20" cy="902.20" r="1.3" fill="#e8222a"/>
<rect x="859.50" y="920.00" width="31.80" height="16.30" fill="#fff" stroke="#1ea7e1" stroke-width="1.1"/>
<ellipse cx="867.00" cy="934.70" rx="1.9" ry="0.9" fill="#f0a860" opacity="0.7"/>
<circle cx="864.10" cy="931.10" r="2.35" fill="#f7a21b" stroke="#d86a10" stroke-width="0.7"/>
<circle cx="864.10" cy="931.10" r="0.9" fill="#ffd36a"/>
<ellipse cx="872.65" cy="934.70" rx="1.9" ry="0.9" fill="#f0a860" opacity="0.7"/>
<circle cx="869.75" cy="931.10" r="2.35" fill="#f7a21b" stroke="#d86a10" stroke-width="0.7"/>
<circle cx="869.75" cy="931.10" r="0.9" fill="#ffd36a"/>
<ellipse cx="878.30" cy="934.70" rx="1.9" ry="0.9" fill="#f0a860" opacity="0.7"/>
<circle cx="875.40" cy="931.10" r="2.35" fill="#f7a21b" stroke="#d86a10" stroke-width="0.7"/>
<circle cx="875.40" cy="931.10" r="0.9" fill="#ffd36a"/>
<ellipse cx="883.95" cy="934.70" rx="1.9" ry="0.9" fill="#f0a860" opacity="0.7"/>
<circle cx="881.05" cy="931.10" r="2.35" fill="#f7a21b" stroke="#d86a10" stroke-width="0.7"/>
<circle cx="881.05" cy="931.10" r="0.9" fill="#ffd36a"/>
<ellipse cx="889.60" cy="934.70" rx="1.9" ry="0.9" fill="#f0a860" opacity="0.7"/>
<circle cx="886.70" cy="931.10" r="2.35" fill="#f7a21b" stroke="#d86a10" stroke-width="0.7"/>
<circle cx="886.70" cy="931.10" r="0.9" fill="#ffd36a"/>
<line x1="863.91" y1="928.90" x2="863.91" y2="923.10" stroke="#888" stroke-width="0.8"/>
<circle cx="863.91" cy="926.10" r="1.2" fill="#777"/>
<circle cx="864.41" cy="922.30" r="1.3" fill="#e8222a"/>
<line x1="869.72" y1="928.90" x2="869.72" y2="923.10" stroke="#888" stroke-width="0.8"/>
<circle cx="869.72" cy="926.10" r="1.2" fill="#777"/>
<circle cx="869.87" cy="922.30" r="1.3" fill="#e8222a"/>
<line x1="875.34" y1="928.90" x2="875.34" y2="923.10" stroke="#888" stroke-width="0.8"/>
<circle cx="875.34" cy="926.10" r="1.2" fill="#777"/>
<circle cx="875.70" cy="922.30" r="1.3" fill="#e8222a"/>
<line x1="880.61" y1="928.90" x2="880.61" y2="923.10" stroke="#888" stroke-width="0.8"/>
<circle cx="880.61" cy="926.10" r="1.2" fill="#777"/>
<circle cx="880.12" cy="922.30" r="1.3" fill="#e8222a"/>
<line x1="886.90" y1="928.90" x2="886.90" y2="923.10" stroke="#888" stroke-width="0.8"/>
<circle cx="886.90" cy="926.10" r="1.2" fill="#777"/>
<circle cx="887.38" cy="922.30" r="1.3" fill="#e8222a"/>
<rect x="952.50" y="808.30" width="32.20" height="17.00" fill="#fff" stroke="#e36a78" stroke-width="1.1"/>
<ellipse cx="960.00" cy="823.70" rx="1.9" ry="0.9" fill="#f0a860" opacity="0.7"/>
<circle cx="957.10" cy="820.10" r="2.35" fill="#f7a21b" stroke="#d86a10" stroke-width="0.7"/>
<circle cx="957.10" cy="820.10" r="0.9" fill="#ffd36a"/>
<ellipse cx="965.75" cy="823.70" rx="1.9" ry="0.9" fill="#f0a860" opacity="0.7"/>
<circle cx="962.85" cy="820.10" r="2.35" fill="#f7a21b" stroke="#d86a10" stroke-width="0.7"/>
<circle cx="962.85" cy="820.10" r="0.9" fill="#ffd36a"/>
<ellipse cx="971.50" cy="823.70" rx="1.9" ry="0.9" fill="#f0a860" opacity="0.7"/>
<circle cx="968.60" cy="820.10" r="2.35" fill="#f7a21b" stroke="#d86a10" stroke-width="0.7"/>
<circle cx="968.60" cy="820.10" r="0.9" fill="#ffd36a"/>
<ellipse cx="977.25" cy="823.70" rx="1.9" ry="0.9" fill="#f0a860" opacity="0.7"/>
<circle cx="974.35" cy="820.10" r="2.35" fill="#f7a21b" stroke="#d86a10" stroke-width="0.7"/>
<circle cx="974.35" cy="820.10" r="0.9" fill="#ffd36a"/>
<ellipse cx="983.00" cy="823.70" rx="1.9" ry="0.9" fill="#f0a860" opacity="0.7"/>
<circle cx="980.10" cy="820.10" r="2.35" fill="#f7a21b" stroke="#d86a10" stroke-width="0.7"/>
<circle cx="980.10" cy="820.10" r="0.9" fill="#ffd36a"/>
<line x1="968.90" y1="817.90" x2="968.90" y2="812.10" stroke="#888" stroke-width="0.8"/>
<circle cx="968.90" cy="815.10" r="1.2" fill="#777"/>
<circle cx="969.08" cy="811.30" r="1.3" fill="#e8222a"/>
<line x1="980.66" y1="817.90" x2="980.66" y2="812.10" stroke="#888" stroke-width="0.8"/>
<circle cx="980.66" cy="815.10" r="1.2" fill="#777"/>
<circle cx="980.34" cy="811.30" r="1.3" fill="#e8222a"/>
<rect x="952.50" y="883.00" width="32.20" height="16.50" fill="#fff" stroke="#1ea7e1" stroke-width="1.1"/>
<ellipse cx="960.00" cy="897.90" rx="1.9" ry="0.9" fill="#f0a860" opacity="0.7"/>
<circle cx="957.10" cy="894.30" r="2.35" fill="#f7a21b" stroke="#d86a10" stroke-width="0.7"/>
<circle cx="957.10" cy="894.30" r="0.9" fill="#ffd36a"/>
<ellipse cx="965.75" cy="897.90" rx="1.9" ry="0.9" fill="#f0a860" opacity="0.7"/>
<circle cx="962.85" cy="894.30" r="2.35" fill="#f7a21b" stroke="#d86a10" stroke-width="0.7"/>
<circle cx="962.85" cy="894.30" r="0.9" fill="#ffd36a"/>
<ellipse cx="971.50" cy="897.90" rx="1.9" ry="0.9" fill="#f0a860" opacity="0.7"/>
<circle cx="968.60" cy="894.30" r="2.35" fill="#f7a21b" stroke="#d86a10" stroke-width="0.7"/>
<circle cx="968.60" cy="894.30" r="0.9" fill="#ffd36a"/>
<ellipse cx="977.25" cy="897.90" rx="1.9" ry="0.9" fill="#f0a860" opacity="0.7"/>
<circle cx="974.35" cy="894.30" r="2.35" fill="#f7a21b" stroke="#d86a10" stroke-width="0.7"/>
<circle cx="974.35" cy="894.30" r="0.9" fill="#ffd36a"/>
<ellipse cx="983.00" cy="897.90" rx="1.9" ry="0.9" fill="#f0a860" opacity="0.7"/>
<circle cx="980.10" cy="894.30" r="2.35" fill="#f7a21b" stroke="#d86a10" stroke-width="0.7"/>
<circle cx="980.10" cy="894.30" r="0.9" fill="#ffd36a"/>
<line x1="956.77" y1="892.10" x2="956.77" y2="886.30" stroke="#888" stroke-width="0.8"/>
<circle cx="956.77" cy="889.30" r="1.2" fill="#777"/>
<circle cx="956.34" cy="885.50" r="1.3" fill="#e8222a"/>
<line x1="962.77" y1="892.10" x2="962.77" y2="886.30" stroke="#888" stroke-width="0.8"/>
<circle cx="962.77" cy="889.30" r="1.2" fill="#777"/>
<circle cx="962.74" cy="885.50" r="1.3" fill="#e8222a"/>
<line x1="969.20" y1="892.10" x2="969.20" y2="886.30" stroke="#888" stroke-width="0.8"/>
<circle cx="969.20" cy="889.30" r="1.2" fill="#777"/>
<circle cx="969.09" cy="885.50" r="1.3" fill="#e8222a"/>
<line x1="975.00" y1="892.10" x2="975.00" y2="886.30" stroke="#888" stroke-width="0.8"/>
<circle cx="975.00" cy="889.30" r="1.2" fill="#777"/>
<circle cx="974.77" cy="885.50" r="1.3" fill="#e8222a"/>
<rect x="1044.00" y="956.00" width="31.70" height="16.70" fill="#fff" stroke="#e36a78" stroke-width="1.1"/>
<ellipse cx="1051.50" cy="971.10" rx="1.9" ry="0.9" fill="#f0a860" opacity="0.7"/>
<circle cx="1048.60" cy="967.50" r="2.35" fill="#f7a21b" stroke="#d86a10" stroke-width="0.7"/>
<circle cx="1048.60" cy="967.50" r="0.9" fill="#ffd36a"/>
<ellipse cx="1057.12" cy="971.10" rx="1.9" ry="0.9" fill="#f0a860" opacity="0.7"/>
<circle cx="1054.22" cy="967.50" r="2.35" fill="#f7a21b" stroke="#d86a10" stroke-width="0.7"/>
<circle cx="1054.22" cy="967.50" r="0.9" fill="#ffd36a"/>
<ellipse cx="1062.75" cy="971.10" rx="1.9" ry="0.9" fill="#f0a860" opacity="0.7"/>
<circle cx="1059.85" cy="967.50" r="2.35" fill="#f7a21b" stroke="#d86a10" stroke-width="0.7"/>
<circle cx="1059.85" cy="967.50" r="0.9" fill="#ffd36a"/>
<ellipse cx="1068.38" cy="971.10" rx="1.9" ry="0.9" fill="#f0a860" opacity="0.7"/>
<circle cx="1065.47" cy="967.50" r="2.35" fill="#f7a21b" stroke="#d86a10" stroke-width="0.7"/>
<circle cx="1065.47" cy="967.50" r="0.9" fill="#ffd36a"/>
<ellipse cx="1074.00" cy="971.10" rx="1.9" ry="0.9" fill="#f0a860" opacity="0.7"/>
<circle cx="1071.10" cy="967.50" r="2.35" fill="#f7a21b" stroke="#d86a10" stroke-width="0.7"/>
<circle cx="1071.10" cy="967.50" r="0.9" fill="#ffd36a"/>
<line x1="1048.63" y1="965.30" x2="1048.63" y2="959.50" stroke="#888" stroke-width="0.8"/>
<circle cx="1048.63" cy="962.50" r="1.2" fill="#777"/>
<circle cx="1048.17" cy="958.70" r="1.3" fill="#e8222a"/>
<line x1="1054.89" y1="965.30" x2="1054.89" y2="959.50" stroke="#888" stroke-width="0.8"/>
<circle cx="1054.89" cy="962.50" r="1.2" fill="#777"/>
<circle cx="1054.62" cy="958.70" r="1.3" fill="#e8222a"/>
<rect x="1044.00" y="976.70" width="31.70" height="16.60" fill="#fff" stroke="#1ea7e1" stroke-width="1.1"/>
<ellipse cx="1051.50" cy="991.70" rx="1.9" ry="0.9" fill="#f0a860" opacity="0.7"/>
<circle cx="1048.60" cy="988.10" r="2.35" fill="#f7a21b" stroke="#d86a10" stroke-width="0.7"/>
<circle cx="1048.60" cy="988.10" r="0.9" fill="#ffd36a"/>
<ellipse cx="1057.12" cy="991.70" rx="1.9" ry="0.9" fill="#f0a860" opacity="0.7"/>
<circle cx="1054.22" cy="988.10" r="2.35" fill="#f7a21b" stroke="#d86a10" stroke-width="0.7"/>
<circle cx="1054.22" cy="988.10" r="0.9" fill="#ffd36a"/>
<ellipse cx="1062.75" cy="991.70" rx="1.9" ry="0.9" fill="#f0a860" opacity="0.7"/>
<circle cx="1059.85" cy="988.10" r="2.35" fill="#f7a21b" stroke="#d86a10" stroke-width="0.7"/>
<circle cx="1059.85" cy="988.10" r="0.9" fill="#ffd36a"/>
<ellipse cx="1068.38" cy="991.70" rx="1.9" ry="0.9" fill="#f0a860" opacity="0.7"/>
<circle cx="1065.47" cy="988.10" r="2.35" fill="#f7a21b" stroke="#d86a10" stroke-width="0.7"/>
<circle cx="1065.47" cy="988.10" r="0.9" fill="#ffd36a"/>
<ellipse cx="1074.00" cy="991.70" rx="1.9" ry="0.9" fill="#f0a860" opacity="0.7"/>
<circle cx="1071.10" cy="988.10" r="2.35" fill="#f7a21b" stroke="#d86a10" stroke-width="0.7"/>
<circle cx="1071.10" cy="988.10" r="0.9" fill="#ffd36a"/>
<line x1="1054.09" y1="985.90" x2="1054.09" y2="980.10" stroke="#888" stroke-width="0.8"/>
<circle cx="1054.09" cy="983.10" r="1.2" fill="#777"/>
<circle cx="1054.04" cy="979.30" r="1.3" fill="#e8222a"/>
<line x1="1059.71" y1="985.90" x2="1059.71" y2="980.10" stroke="#888" stroke-width="0.8"/>
<circle cx="1059.71" cy="983.10" r="1.2" fill="#777"/>
<circle cx="1059.86" cy="979.30" r="1.3" fill="#e8222a"/>
<line x1="1065.09" y1="985.90" x2="1065.09" y2="980.10" stroke="#888" stroke-width="0.8"/>
<circle cx="1065.09" cy="983.10" r="1.2" fill="#777"/>
<circle cx="1065.22" cy="979.30" r="1.3" fill="#e8222a"/>
<line x1="1070.32" y1="985.90" x2="1070.32" y2="980.10" stroke="#888" stroke-width="0.8"/>
<circle cx="1070.32" cy="983.10" r="1.2" fill="#777"/>
<circle cx="1070.12" cy="979.30" r="1.3" fill="#e8222a"/>
<rect x="1138.00" y="803.80" width="31.70" height="16.70" fill="#fff" stroke="#1ea7e1" stroke-width="1.1"/>
<ellipse cx="1145.50" cy="818.90" rx="1.9" ry="0.9" fill="#f0a860" opacity="0.7"/>
<circle cx="1142.60" cy="815.30" r="2.35" fill="#f7a21b" stroke="#d86a10" stroke-width="0.7"/>
<circle cx="1142.60" cy="815.30" r="0.9" fill="#ffd36a"/>
<ellipse cx="1151.12" cy="818.90" rx="1.9" ry="0.9" fill="#f0a860" opacity="0.7"/>
<circle cx="1148.22" cy="815.30" r="2.35" fill="#f7a21b" stroke="#d86a10" stroke-width="0.7"/>
<circle cx="1148.22" cy="815.30" r="0.9" fill="#ffd36a"/>
<ellipse cx="1156.75" cy="818.90" rx="1.9" ry="0.9" fill="#f0a860" opacity="0.7"/>
<circle cx="1153.85" cy="815.30" r="2.35" fill="#f7a21b" stroke="#d86a10" stroke-width="0.7"/>
<circle cx="1153.85" cy="815.30" r="0.9" fill="#ffd36a"/>
<ellipse cx="1162.38" cy="818.90" rx="1.9" ry="0.9" fill="#f0a860" opacity="0.7"/>
<circle cx="1159.47" cy="815.30" r="2.35" fill="#f7a21b" stroke="#d86a10" stroke-width="0.7"/>
<circle cx="1159.47" cy="815.30" r="0.9" fill="#ffd36a"/>
<ellipse cx="1168.00" cy="818.90" rx="1.9" ry="0.9" fill="#f0a860" opacity="0.7"/>
<circle cx="1165.10" cy="815.30" r="2.35" fill="#f7a21b" stroke="#d86a10" stroke-width="0.7"/>
<circle cx="1165.10" cy="815.30" r="0.9" fill="#ffd36a"/>
<line x1="1147.89" y1="813.10" x2="1147.89" y2="807.30" stroke="#888" stroke-width="0.8"/>
<circle cx="1147.89" cy="810.30" r="1.2" fill="#777"/>
<circle cx="1148.15" cy="806.50" r="1.3" fill="#e8222a"/>
<line x1="1154.18" y1="813.10" x2="1154.18" y2="807.30" stroke="#888" stroke-width="0.8"/>
<circle cx="1154.18" cy="810.30" r="1.2" fill="#777"/>
<circle cx="1154.34" cy="806.50" r="1.3" fill="#e8222a"/>
<line x1="1158.85" y1="813.10" x2="1158.85" y2="807.30" stroke="#888" stroke-width="0.8"/>
<circle cx="1158.85" cy="810.30" r="1.2" fill="#777"/>
<circle cx="1158.38" cy="806.50" r="1.3" fill="#e8222a"/>
<line x1="1164.91" y1="813.10" x2="1164.91" y2="807.30" stroke="#888" stroke-width="0.8"/>
<circle cx="1164.91" cy="810.30" r="1.2" fill="#777"/>
<circle cx="1165.16" cy="806.50" r="1.3" fill="#e8222a"/>
<rect x="1138.00" y="823.80" width="31.70" height="16.70" fill="#fff" stroke="#e36a78" stroke-width="1.1"/>
<ellipse cx="1145.50" cy="838.90" rx="1.9" ry="0.9" fill="#f0a860" opacity="0.7"/>
<circle cx="1142.60" cy="835.30" r="2.35" fill="#f7a21b" stroke="#d86a10" stroke-width="0.7"/>
<circle cx="1142.60" cy="835.30" r="0.9" fill="#ffd36a"/>
<ellipse cx="1151.12" cy="838.90" rx="1.9" ry="0.9" fill="#f0a860" opacity="0.7"/>
<circle cx="1148.22" cy="835.30" r="2.35" fill="#f7a21b" stroke="#d86a10" stroke-width="0.7"/>
<circle cx="1148.22" cy="835.30" r="0.9" fill="#ffd36a"/>
<ellipse cx="1156.75" cy="838.90" rx="1.9" ry="0.9" fill="#f0a860" opacity="0.7"/>
<circle cx="1153.85" cy="835.30" r="2.35" fill="#f7a21b" stroke="#d86a10" stroke-width="0.7"/>
<circle cx="1153.85" cy="835.30" r="0.9" fill="#ffd36a"/>
<ellipse cx="1162.38" cy="838.90" rx="1.9" ry="0.9" fill="#f0a860" opacity="0.7"/>
<circle cx="1159.47" cy="835.30" r="2.35" fill="#f7a21b" stroke="#d86a10" stroke-width="0.7"/>
<circle cx="1159.47" cy="835.30" r="0.9" fill="#ffd36a"/>
<ellipse cx="1168.00" cy="838.90" rx="1.9" ry="0.9" fill="#f0a860" opacity="0.7"/>
<circle cx="1165.10" cy="835.30" r="2.35" fill="#f7a21b" stroke="#d86a10" stroke-width="0.7"/>
<circle cx="1165.10" cy="835.30" r="0.9" fill="#ffd36a"/>
<line x1="1142.86" y1="833.10" x2="1142.86" y2="827.30" stroke="#888" stroke-width="0.8"/>
<circle cx="1142.86" cy="830.30" r="1.2" fill="#777"/>
<circle cx="1142.69" cy="826.50" r="1.3" fill="#e8222a"/>
<line x1="1147.74" y1="833.10" x2="1147.74" y2="827.30" stroke="#888" stroke-width="0.8"/>
<circle cx="1147.74" cy="830.30" r="1.2" fill="#777"/>
<circle cx="1147.73" cy="826.50" r="1.3" fill="#e8222a"/>
<line x1="976.70" y1="766.40" x2="1007.50" y2="766.40" stroke="#e0252f" stroke-width="3.00" />
<line x1="976.70" y1="784.00" x2="1007.50" y2="784.00" stroke="#1ea7e1" stroke-width="3.00" />
<text x="1012.00" y="771.20" font-size="14.30" fill="#111" text-anchor="start" >Cu(111) 3/16 ML</text>
<text x="1012.00" y="788.80" font-size="14.30" fill="#111" text-anchor="start" >Cu(111) 6/16 ML</text>
<text transform="translate(815.50,892.45) rotate(-90)" font-size="14" fill="#222" text-anchor="middle">Free energy (eV)</text>
<text x="1015.00" y="1050.00" font-size="14.00" fill="#222" text-anchor="middle" >Reaction coordinate</text>
<text x="9.50" y="767.50" font-size="36.00" fill="#000" text-anchor="start" font-weight="normal" >g</text>
<text x="416.00" y="773.70" font-size="36.00" fill="#000" text-anchor="start" font-weight="normal" >h</text>
<text x="801.50" y="769.00" font-size="36.00" fill="#000" text-anchor="start" font-weight="normal" >i</text>
<text x="18.60" y="1118.30" font-size="35.00" fill="#000" text-anchor="start" font-weight="normal" >j</text>
<line x1="270" y1="1102.30" x2="318" y2="1102.30" stroke="#d00" stroke-width="2.2"/>
<line x1="285" y1="1102.30" x2="307" y2="1102.30" stroke="#444" stroke-width="2.2"/>
<line x1="270" y1="1107.50" x2="318" y2="1107.50" stroke="#d00" stroke-width="2.2"/>
<line x1="285" y1="1107.50" x2="307" y2="1107.50" stroke="#444" stroke-width="2.2"/>
<circle cx="264.50" cy="1104.90" r="10.50" fill="url(#gO)"/>
<circle cx="326.60" cy="1104.90" r="10.50" fill="url(#gO)"/>
<circle cx="296.00" cy="1104.90" r="11.60" fill="url(#gCg)"/>
<line x1="462" y1="1103.60" x2="478" y2="1103.60" stroke="#111" stroke-width="2.4"/>
<line x1="478" y1="1103.60" x2="496" y2="1103.60" stroke="#d00" stroke-width="2.4"/>
<line x1="462" y1="1107.00" x2="478" y2="1107.00" stroke="#111" stroke-width="2.4"/>
<line x1="478" y1="1107.00" x2="496" y2="1107.00" stroke="#d00" stroke-width="2.4"/>
<line x1="462" y1="1110.40" x2="478" y2="1110.40" stroke="#111" stroke-width="2.4"/>
<line x1="478" y1="1110.40" x2="496" y2="1110.40" stroke="#d00" stroke-width="2.4"/>
<circle cx="451.40" cy="1107.00" r="13.60" fill="url(#gC)"/>
<circle cx="504.50" cy="1107.00" r="13.20" fill="url(#gO)"/>
<rect x="612" y="1099" width="27" height="13" fill="#e4e4e4" stroke="#aaa" stroke-width="0.6"/>
<circle cx="609.50" cy="1105.60" r="11.20" fill="url(#gH)"/>
<circle cx="641.40" cy="1105.60" r="11.20" fill="url(#gH)"/>
<line x1="780.00" y1="1104.80" x2="780.00" y2="1075.50" stroke="#ddd" stroke-width="7.00"/>
<line x1="780.00" y1="1104.80" x2="753.60" y2="1106.70" stroke="#ddd" stroke-width="7.00"/>
<line x1="780.00" y1="1104.80" x2="802.00" y2="1099.00" stroke="#ddd" stroke-width="7.00"/>
<line x1="780.00" y1="1104.80" x2="788.00" y2="1125.00" stroke="#ddd" stroke-width="7.00"/>
<circle cx="802.00" cy="1099.00" r="12.20" fill="url(#gH)"/>
<circle cx="780.00" cy="1104.80" r="14.50" fill="url(#gC)"/>
<circle cx="780.00" cy="1075.50" r="12.20" fill="url(#gH)"/>
<circle cx="753.60" cy="1106.70" r="12.20" fill="url(#gH)"/>
<circle cx="788.00" cy="1125.00" r="12.20" fill="url(#gH)"/>
<line x1="928.50" y1="1102.20" x2="915.70" y2="1078.00" stroke="#333" stroke-width="6.00"/>
<line x1="928.50" y1="1102.20" x2="915.00" y2="1123.00" stroke="#333" stroke-width="6.00"/>
<line x1="959.70" y1="1102.20" x2="975.00" y2="1077.30" stroke="#333" stroke-width="6.00"/>
<line x1="959.70" y1="1102.20" x2="973.60" y2="1125.00" stroke="#333" stroke-width="6.00"/>
<line x1="928.5" y1="1099.5" x2="959.7" y2="1099.5" stroke="#222" stroke-width="3"/>
<line x1="928.5" y1="1104.8" x2="959.7" y2="1104.8" stroke="#222" stroke-width="3"/>
<circle cx="915.70" cy="1078.00" r="6.30" fill="url(#gH)"/>
<circle cx="915.00" cy="1123.00" r="6.30" fill="url(#gH)"/>
<circle cx="975.00" cy="1077.30" r="6.30" fill="url(#gH)"/>
<circle cx="973.60" cy="1125.00" r="6.30" fill="url(#gH)"/>
<circle cx="928.50" cy="1102.30" r="10.20" fill="url(#gC)"/>
<circle cx="959.70" cy="1102.00" r="10.20" fill="url(#gC)"/>
<text x="276.50" y="1169.60" font-size="26.80" fill="#000" text-anchor="start" font-weight="normal" >CO<tspan font-size="17.5" dy="6.5">2</tspan></text>
<text x="459.80" y="1169.60" font-size="26.80" fill="#000" text-anchor="start" font-weight="normal" >CO</text>
<text x="613.50" y="1169.60" font-size="26.80" fill="#000" text-anchor="start" font-weight="normal" >H<tspan font-size="17.5" dy="6.5">2</tspan></text>
<text x="755.80" y="1169.60" font-size="26.80" fill="#000" text-anchor="start" font-weight="normal" >CH<tspan font-size="17.5" dy="6.5">4</tspan></text>
<text x="914.20" y="1169.60" font-size="26.80" fill="#000" text-anchor="start" font-weight="normal" >C<tspan font-size="17.5" dy="6.5">2</tspan><tspan dy="-6.5">H</tspan><tspan font-size="17.5" dy="6.5">4</tspan></text>
<g filter="url(#roughL)"><circle cx="252.00" cy="1336.50" r="150.50" fill="url(#sgL)" filter="url(#bumpL)"/>
<polygon points="333.5,1315.0 333.3,1328.7 332.7,1336.6 331.8,1343.2 330.4,1349.0 328.7,1354.1 326.6,1358.8 324.1,1363.0 321.2,1366.8 317.9,1370.2 314.2,1373.2 310.1,1375.8 305.6,1378.1 300.5,1380.1 294.9,1381.7 288.7,1382.9 281.5,1383.8 272.8,1384.3 258.0,1384.5 243.2,1384.3 234.5,1383.8 227.3,1382.9 221.1,1381.7 215.5,1380.1 210.4,1378.1 205.9,1375.8 201.8,1373.2 198.1,1370.2 194.8,1366.8 191.9,1363.0 189.4,1358.8 187.3,1354.1 185.6,1349.0 184.2,1343.2 183.3,1336.6 182.7,1328.7 182.5,1315.0 182.7,1301.3 183.3,1293.4 184.2,1286.8 185.6,1281.0 187.3,1275.9 189.4,1271.2 191.9,1267.0 194.8,1263.2 198.1,1259.8 201.8,1256.8 205.9,1254.2 210.4,1251.9 215.5,1249.9 221.1,1248.3 227.3,1247.1 234.5,1246.2 243.2,1245.7 258.0,1245.5 272.8,1245.7 281.5,1246.2 288.7,1247.1 294.9,1248.3 300.5,1249.9 305.6,1251.9 310.1,1254.2 314.2,1256.8 317.9,1259.8 321.2,1263.2 324.1,1267.0 326.6,1271.2 328.7,1275.9 330.4,1281.0 331.8,1286.8 332.7,1293.4 333.3,1301.3" fill="url(#hgL)" filter="url(#grainL)"/></g>
<g filter="url(#roughM)"><circle cx="632.30" cy="1333.80" r="104.00" fill="url(#sgM)" filter="url(#bumpM)"/>
<polygon points="688.2,1321.5 688.0,1328.1 687.5,1333.0 686.7,1337.3 685.6,1341.2 684.1,1344.8 682.3,1348.2 680.2,1351.3 677.7,1354.2 675.0,1356.7 672.0,1359.1 668.6,1361.1 665.0,1362.9 661.1,1364.5 656.8,1365.7 652.2,1366.7 647.1,1367.4 641.4,1367.9 633.7,1368.0 626.0,1367.9 620.3,1367.4 615.2,1366.7 610.6,1365.7 606.3,1364.5 602.4,1362.9 598.8,1361.1 595.4,1359.1 592.4,1356.7 589.7,1354.2 587.2,1351.3 585.1,1348.2 583.3,1344.8 581.8,1341.2 580.7,1337.3 579.9,1333.0 579.4,1328.1 579.2,1321.5 579.4,1314.9 579.9,1310.0 580.7,1305.7 581.8,1301.8 583.3,1298.2 585.1,1294.8 587.2,1291.7 589.7,1288.8 592.4,1286.3 595.4,1283.9 598.8,1281.9 602.4,1280.1 606.3,1278.5 610.6,1277.3 615.2,1276.3 620.3,1275.6 626.0,1275.1 633.7,1275.0 641.4,1275.1 647.1,1275.6 652.2,1276.3 656.8,1277.3 661.1,1278.5 665.0,1280.1 668.6,1281.9 672.0,1283.9 675.0,1286.3 677.7,1288.8 680.2,1291.7 682.3,1294.8 684.1,1298.2 685.6,1301.8 686.7,1305.7 687.5,1310.0 688.0,1314.9" fill="url(#hgM)" filter="url(#grainM)"/></g>
<g filter="url(#roughS)"><circle cx="987.00" cy="1334.70" r="75.00" fill="url(#sgS)" filter="url(#bumpS)"/>
<polygon points="1024.5,1330.6 1024.4,1333.8 1024.0,1336.5 1023.4,1339.1 1022.5,1341.5 1021.5,1343.9 1020.1,1346.0 1018.6,1348.1 1016.8,1350.0 1014.9,1351.8 1012.7,1353.4 1010.4,1354.8 1007.9,1356.0 1005.2,1357.1 1002.3,1358.0 999.3,1358.7 996.1,1359.2 992.8,1359.5 988.9,1359.6 985.0,1359.5 981.7,1359.2 978.5,1358.7 975.5,1358.0 972.6,1357.1 969.9,1356.0 967.4,1354.8 965.1,1353.4 962.9,1351.8 961.0,1350.0 959.2,1348.1 957.7,1346.0 956.3,1343.9 955.3,1341.5 954.4,1339.1 953.8,1336.5 953.4,1333.8 953.3,1330.6 953.4,1327.4 953.8,1324.7 954.4,1322.1 955.3,1319.7 956.3,1317.3 957.7,1315.2 959.2,1313.1 961.0,1311.2 962.9,1309.4 965.1,1307.8 967.4,1306.4 969.9,1305.2 972.6,1304.1 975.5,1303.2 978.5,1302.5 981.7,1302.0 985.0,1301.7 988.9,1301.6 992.8,1301.7 996.1,1302.0 999.3,1302.5 1002.3,1303.2 1005.2,1304.1 1007.9,1305.2 1010.4,1306.4 1012.7,1307.8 1014.9,1309.4 1016.8,1311.2 1018.6,1313.1 1020.1,1315.2 1021.5,1317.3 1022.5,1319.7 1023.4,1322.1 1024.0,1324.7 1024.4,1327.4" fill="url(#hgS)" filter="url(#grainS)"/></g>
<polygon points="230.70,1321.00 245.70,1345.70 261.50,1331.50" fill="#6a5a20" opacity="0.55"/>
<polygon points="261.50,1331.50 245.70,1345.70 270.50,1340.50 276.50,1316.50" fill="#8a8040" opacity="0.55"/>
<polygon points="251.00,1301.50 230.70,1321.00 261.50,1331.50" fill="#e0aa18" opacity="0.90"/>
<polygon points="251.00,1301.50 261.50,1331.50 276.50,1316.50" fill="#cfc46a" opacity="0.90"/>
<line x1="283.20" y1="1305.20" x2="288.45" y2="1307.70" stroke="#222" stroke-width="1.80"/>
<line x1="288.45" y1="1307.70" x2="293.70" y2="1310.20" stroke="#e00" stroke-width="1.80"/>
<circle cx="283.20" cy="1305.20" r="3.10" fill="url(#gC)"/>
<circle cx="293.70" cy="1310.20" r="3.30" fill="url(#gO)"/>
<line x1="295.20" y1="1326.20" x2="300.70" y2="1323.75" stroke="#222" stroke-width="1.80"/>
<line x1="300.70" y1="1323.75" x2="306.20" y2="1321.30" stroke="#e00" stroke-width="1.80"/>
<circle cx="295.20" cy="1326.20" r="3.10" fill="url(#gC)"/>
<circle cx="306.20" cy="1321.30" r="3.30" fill="url(#gO)"/>
<line x1="211.70" y1="1339.70" x2="217.70" y2="1338.75" stroke="#222" stroke-width="1.80"/>
<line x1="217.70" y1="1338.75" x2="223.70" y2="1337.80" stroke="#e00" stroke-width="1.80"/>
<circle cx="211.70" cy="1339.70" r="3.10" fill="url(#gC)"/>
<circle cx="223.70" cy="1337.80" r="3.30" fill="url(#gO)"/>
<line x1="229.00" y1="1357.00" x2="230.85" y2="1351.35" stroke="#222" stroke-width="1.80"/>
<line x1="230.85" y1="1351.35" x2="232.70" y2="1345.70" stroke="#e00" stroke-width="1.80"/>
<circle cx="229.00" cy="1357.00" r="3.10" fill="url(#gC)"/>
<circle cx="232.70" cy="1345.70" r="3.30" fill="url(#gO)"/>
<line x1="243.20" y1="1353.20" x2="247.85" y2="1357.20" stroke="#222" stroke-width="1.80"/>
<line x1="247.85" y1="1357.20" x2="252.50" y2="1361.20" stroke="#e00" stroke-width="1.80"/>
<circle cx="243.20" cy="1353.20" r="3.10" fill="url(#gC)"/>
<circle cx="252.50" cy="1361.20" r="3.30" fill="url(#gO)"/>
<line x1="272.70" y1="1354.00" x2="275.70" y2="1359.60" stroke="#222" stroke-width="1.80"/>
<line x1="275.70" y1="1359.60" x2="278.70" y2="1365.20" stroke="#e00" stroke-width="1.80"/>
<circle cx="272.70" cy="1354.00" r="3.10" fill="url(#gC)"/>
<circle cx="278.70" cy="1365.20" r="3.30" fill="url(#gO)"/>
<line x1="294.80" y1="1359.50" x2="300.50" y2="1357.35" stroke="#222" stroke-width="1.80"/>
<line x1="300.50" y1="1357.35" x2="306.20" y2="1355.20" stroke="#e00" stroke-width="1.80"/>
<circle cx="294.80" cy="1359.50" r="3.10" fill="url(#gC)"/>
<circle cx="306.20" cy="1355.20" r="3.30" fill="url(#gO)"/>
<line x1="197.20" y1="1324.70" x2="204.20" y2="1324.70" stroke="#ccc" stroke-width="2.00"/>
<circle cx="197.20" cy="1324.70" r="2.80" fill="url(#gH)"/>
<circle cx="204.20" cy="1324.70" r="2.80" fill="url(#gH)"/>
<line x1="307.03" y1="1338.73" x2="311.97" y2="1343.67" stroke="#ccc" stroke-width="2.00"/>
<circle cx="307.03" cy="1338.73" r="2.80" fill="url(#gH)"/>
<circle cx="311.97" cy="1343.67" r="2.80" fill="url(#gH)"/>
<line x1="253.33" y1="1368.49" x2="259.07" y2="1372.51" stroke="#ccc" stroke-width="2.00"/>
<circle cx="253.33" cy="1368.49" r="2.80" fill="url(#gH)"/>
<circle cx="259.07" cy="1372.51" r="2.80" fill="url(#gH)"/>
<ellipse cx="266.70" cy="1235.50" rx="32.00" ry="13.60" fill="#9ab0c0" opacity="0.68" filter="url(#blur2)"/>
<ellipse cx="266.70" cy="1235.50" rx="30.00" ry="11.60" fill="#2f6eb8" opacity="0.85" filter="url(#blur2)"/>
<ellipse cx="253.20" cy="1284.20" rx="32.40" ry="13.20" fill="#9ab0c0" opacity="0.68" filter="url(#blur2)"/>
<ellipse cx="253.20" cy="1284.20" rx="30.40" ry="11.20" fill="#2f6eb8" opacity="0.85" filter="url(#blur2)"/>
<ellipse cx="227.70" cy="1305.20" rx="16.00" ry="10.00" fill="#9ab0c0" opacity="0.68" filter="url(#blur1)" transform="rotate(-55.0 227.70 1305.20)"/>
<ellipse cx="227.70" cy="1305.20" rx="14.00" ry="8.00" fill="#2f6eb8" opacity="0.85" filter="url(#blur1)" transform="rotate(-55.0 227.70 1305.20)"/>
<line x1="250.71" y1="1234.30" x2="257.29" y2="1236.70" stroke="#ccc" stroke-width="2.00"/>
<circle cx="250.71" cy="1234.30" r="2.80" fill="url(#gH)"/>
<circle cx="257.29" cy="1236.70" r="2.80" fill="url(#gH)"/>
<line x1="276.50" y1="1237.00" x2="277.08" y2="1231.20" stroke="#aaa" stroke-width="1.80"/>
<line x1="276.50" y1="1237.00" x2="270.70" y2="1236.71" stroke="#aaa" stroke-width="1.80"/>
<line x1="276.50" y1="1237.00" x2="282.01" y2="1237.87" stroke="#aaa" stroke-width="1.80"/>
<line x1="276.50" y1="1237.00" x2="276.50" y2="1242.80" stroke="#aaa" stroke-width="1.80"/>
<circle cx="276.50" cy="1237.00" r="3.30" fill="url(#gC)"/>
<circle cx="277.08" cy="1231.20" r="2.80" fill="url(#gH)"/>
<circle cx="270.70" cy="1236.71" r="2.80" fill="url(#gH)"/>
<circle cx="282.01" cy="1237.87" r="2.80" fill="url(#gH)"/>
<circle cx="276.50" cy="1242.80" r="2.80" fill="url(#gH)"/>
<line x1="235.50" y1="1283.80" x2="242.50" y2="1283.80" stroke="#ccc" stroke-width="2.00"/>
<circle cx="235.50" cy="1283.80" r="2.80" fill="url(#gH)"/>
<circle cx="242.50" cy="1283.80" r="2.80" fill="url(#gH)"/>
<line x1="258.50" y1="1282.00" x2="263.75" y2="1284.85" stroke="#222" stroke-width="1.80"/>
<line x1="263.75" y1="1284.85" x2="269.00" y2="1287.70" stroke="#e00" stroke-width="1.80"/>
<circle cx="258.50" cy="1282.00" r="3.10" fill="url(#gC)"/>
<circle cx="269.00" cy="1287.70" r="3.30" fill="url(#gO)"/>
<line x1="224.26" y1="1309.41" x2="225.98" y2="1306.96" stroke="#c00" stroke-width="1.60"/>
<line x1="225.98" y1="1306.96" x2="227.70" y2="1304.50" stroke="#333" stroke-width="1.60"/>
<line x1="227.70" y1="1304.50" x2="229.42" y2="1302.04" stroke="#333" stroke-width="1.60"/>
<line x1="229.42" y1="1302.04" x2="231.14" y2="1299.59" stroke="#c00" stroke-width="1.60"/>
<circle cx="224.26" cy="1309.41" r="2.40" fill="url(#gO)"/>
<circle cx="231.14" cy="1299.59" r="2.40" fill="url(#gO)"/>
<circle cx="227.70" cy="1304.50" r="2.50" fill="url(#gC)"/>
<polygon points="267.35,1277.36 273.04,1256.12 275.31,1256.73 273.50,1249.00 268.07,1254.79 270.34,1255.40 264.65,1276.64" fill="#c23cf0"/>
<path d="M239,1310.5 Q255,1316 260,1300" fill="none" stroke="#c23cf0" stroke-width="2.8"/>
<polygon points="254.5,1302 263,1293 265.5,1304" fill="#c23cf0"/>
<line x1="249.80" y1="1203.20" x2="252.33" y2="1197.95" stroke="#aaa" stroke-width="1.80"/>
<line x1="249.80" y1="1203.20" x2="244.45" y2="1200.94" stroke="#aaa" stroke-width="1.80"/>
<line x1="249.80" y1="1203.20" x2="254.68" y2="1205.90" stroke="#aaa" stroke-width="1.80"/>
<line x1="249.80" y1="1203.20" x2="247.82" y2="1208.65" stroke="#aaa" stroke-width="1.80"/>
<circle cx="249.80" cy="1203.20" r="3.30" fill="url(#gC)"/>
<circle cx="252.33" cy="1197.95" r="2.80" fill="url(#gH)"/>
<circle cx="244.45" cy="1200.94" r="2.80" fill="url(#gH)"/>
<circle cx="254.68" cy="1205.90" r="2.80" fill="url(#gH)"/>
<circle cx="247.82" cy="1208.65" r="2.80" fill="url(#gH)"/>
<line x1="309.20" y1="1221.30" x2="311.73" y2="1216.05" stroke="#aaa" stroke-width="1.80"/>
<line x1="309.20" y1="1221.30" x2="303.85" y2="1219.04" stroke="#aaa" stroke-width="1.80"/>
<line x1="309.20" y1="1221.30" x2="314.08" y2="1224.00" stroke="#aaa" stroke-width="1.80"/>
<line x1="309.20" y1="1221.30" x2="307.22" y2="1226.75" stroke="#aaa" stroke-width="1.80"/>
<circle cx="309.20" cy="1221.30" r="3.30" fill="url(#gC)"/>
<circle cx="311.73" cy="1216.05" r="2.80" fill="url(#gH)"/>
<circle cx="303.85" cy="1219.04" r="2.80" fill="url(#gH)"/>
<circle cx="314.08" cy="1224.00" r="2.80" fill="url(#gH)"/>
<circle cx="307.22" cy="1226.75" r="2.80" fill="url(#gH)"/>
<line x1="155.50" y1="1292.40" x2="158.03" y2="1287.15" stroke="#aaa" stroke-width="1.80"/>
<line x1="155.50" y1="1292.40" x2="150.15" y2="1290.14" stroke="#aaa" stroke-width="1.80"/>
<line x1="155.50" y1="1292.40" x2="160.38" y2="1295.10" stroke="#aaa" stroke-width="1.80"/>
<line x1="155.50" y1="1292.40" x2="153.52" y2="1297.85" stroke="#aaa" stroke-width="1.80"/>
<circle cx="155.50" cy="1292.40" r="3.30" fill="url(#gC)"/>
<circle cx="158.03" cy="1287.15" r="2.80" fill="url(#gH)"/>
<circle cx="150.15" cy="1290.14" r="2.80" fill="url(#gH)"/>
<circle cx="160.38" cy="1295.10" r="2.80" fill="url(#gH)"/>
<circle cx="153.52" cy="1297.85" r="2.80" fill="url(#gH)"/>
<line x1="358.30" y1="1286.00" x2="360.83" y2="1280.75" stroke="#aaa" stroke-width="1.80"/>
<line x1="358.30" y1="1286.00" x2="352.95" y2="1283.74" stroke="#aaa" stroke-width="1.80"/>
<line x1="358.30" y1="1286.00" x2="363.18" y2="1288.70" stroke="#aaa" stroke-width="1.80"/>
<line x1="358.30" y1="1286.00" x2="356.32" y2="1291.45" stroke="#aaa" stroke-width="1.80"/>
<circle cx="358.30" cy="1286.00" r="3.30" fill="url(#gC)"/>
<circle cx="360.83" cy="1280.75" r="2.80" fill="url(#gH)"/>
<circle cx="352.95" cy="1283.74" r="2.80" fill="url(#gH)"/>
<circle cx="363.18" cy="1288.70" r="2.80" fill="url(#gH)"/>
<circle cx="356.32" cy="1291.45" r="2.80" fill="url(#gH)"/>
<line x1="160.70" y1="1375.00" x2="163.23" y2="1369.75" stroke="#aaa" stroke-width="1.80"/>
<line x1="160.70" y1="1375.00" x2="155.35" y2="1372.74" stroke="#aaa" stroke-width="1.80"/>
<line x1="160.70" y1="1375.00" x2="165.58" y2="1377.70" stroke="#aaa" stroke-width="1.80"/>
<line x1="160.70" y1="1375.00" x2="158.72" y2="1380.45" stroke="#aaa" stroke-width="1.80"/>
<circle cx="160.70" cy="1375.00" r="3.30" fill="url(#gC)"/>
<circle cx="163.23" cy="1369.75" r="2.80" fill="url(#gH)"/>
<circle cx="155.35" cy="1372.74" r="2.80" fill="url(#gH)"/>
<circle cx="165.58" cy="1377.70" r="2.80" fill="url(#gH)"/>
<circle cx="158.72" cy="1380.45" r="2.80" fill="url(#gH)"/>
<line x1="239.50" y1="1421.50" x2="242.03" y2="1416.25" stroke="#aaa" stroke-width="1.80"/>
<line x1="239.50" y1="1421.50" x2="234.15" y2="1419.24" stroke="#aaa" stroke-width="1.80"/>
<line x1="239.50" y1="1421.50" x2="244.38" y2="1424.20" stroke="#aaa" stroke-width="1.80"/>
<line x1="239.50" y1="1421.50" x2="237.52" y2="1426.95" stroke="#aaa" stroke-width="1.80"/>
<circle cx="239.50" cy="1421.50" r="3.30" fill="url(#gC)"/>
<circle cx="242.03" cy="1416.25" r="2.80" fill="url(#gH)"/>
<circle cx="234.15" cy="1419.24" r="2.80" fill="url(#gH)"/>
<circle cx="244.38" cy="1424.20" r="2.80" fill="url(#gH)"/>
<circle cx="237.52" cy="1426.95" r="2.80" fill="url(#gH)"/>
<line x1="331.20" y1="1406.00" x2="333.73" y2="1400.75" stroke="#aaa" stroke-width="1.80"/>
<line x1="331.20" y1="1406.00" x2="325.85" y2="1403.74" stroke="#aaa" stroke-width="1.80"/>
<line x1="331.20" y1="1406.00" x2="336.08" y2="1408.70" stroke="#aaa" stroke-width="1.80"/>
<line x1="331.20" y1="1406.00" x2="329.22" y2="1411.45" stroke="#aaa" stroke-width="1.80"/>
<circle cx="331.20" cy="1406.00" r="3.30" fill="url(#gC)"/>
<circle cx="333.73" cy="1400.75" r="2.80" fill="url(#gH)"/>
<circle cx="325.85" cy="1403.74" r="2.80" fill="url(#gH)"/>
<circle cx="336.08" cy="1408.70" r="2.80" fill="url(#gH)"/>
<circle cx="329.22" cy="1411.45" r="2.80" fill="url(#gH)"/>
<line x1="288.17" y1="1197.75" x2="294.23" y2="1194.25" stroke="#ccc" stroke-width="2.00"/>
<circle cx="288.17" cy="1197.75" r="2.70" fill="url(#gH)"/>
<circle cx="294.23" cy="1194.25" r="2.70" fill="url(#gH)"/>
<line x1="340.12" y1="1226.75" x2="345.48" y2="1231.25" stroke="#ccc" stroke-width="2.00"/>
<circle cx="340.12" cy="1226.75" r="2.70" fill="url(#gH)"/>
<circle cx="345.48" cy="1231.25" r="2.70" fill="url(#gH)"/>
<line x1="157.83" y1="1246.49" x2="163.57" y2="1250.51" stroke="#ccc" stroke-width="2.00"/>
<circle cx="157.83" cy="1246.49" r="2.70" fill="url(#gH)"/>
<circle cx="163.57" cy="1250.51" r="2.70" fill="url(#gH)"/>
<line x1="134.12" y1="1342.41" x2="140.88" y2="1340.59" stroke="#ccc" stroke-width="2.00"/>
<circle cx="134.12" cy="1342.41" r="2.70" fill="url(#gH)"/>
<circle cx="140.88" cy="1340.59" r="2.70" fill="url(#gH)"/>
<line x1="379.40" y1="1376.30" x2="386.40" y2="1376.30" stroke="#ccc" stroke-width="2.00"/>
<circle cx="379.40" cy="1376.30" r="2.70" fill="url(#gH)"/>
<circle cx="386.40" cy="1376.30" r="2.70" fill="url(#gH)"/>
<line x1="297.33" y1="1438.99" x2="303.07" y2="1443.01" stroke="#ccc" stroke-width="2.00"/>
<circle cx="297.33" cy="1438.99" r="2.70" fill="url(#gH)"/>
<circle cx="303.07" cy="1443.01" r="2.70" fill="url(#gH)"/>
<line x1="163.03" y1="1446.69" x2="168.77" y2="1450.71" stroke="#ccc" stroke-width="2.00"/>
<circle cx="163.03" cy="1446.69" r="2.70" fill="url(#gH)"/>
<circle cx="168.77" cy="1450.71" r="2.70" fill="url(#gH)"/>
<line x1="359.17" y1="1442.75" x2="365.23" y2="1439.25" stroke="#ccc" stroke-width="2.00"/>
<circle cx="359.17" cy="1442.75" r="2.70" fill="url(#gH)"/>
<circle cx="365.23" cy="1439.25" r="2.70" fill="url(#gH)"/>
<path d="M59,1300.5 Q68,1284 92,1279.5 L92,1288.5 Q72,1290 60.1,1301.6 Z" fill="#12b4c6"/>
<polygon points="90.50,1275.50 106.00,1284.30 91.00,1292.50" fill="#12b4c6" />
<path d="M109.4,1279 Q117.5,1255 114,1236.5 L104,1241 Q113,1255 108.3,1280 Z" fill="#12b4c6"/>
<polygon points="100.80,1242.00 97.00,1223.50 117.00,1233.00" fill="#12b4c6" />
<line x1="91.50" y1="1212.80" x2="95.00" y2="1211.15" stroke="#c00" stroke-width="1.60"/>
<line x1="95.00" y1="1211.15" x2="98.50" y2="1209.50" stroke="#333" stroke-width="1.60"/>
<line x1="98.50" y1="1209.50" x2="101.90" y2="1208.00" stroke="#333" stroke-width="1.60"/>
<line x1="101.90" y1="1208.00" x2="105.30" y2="1206.50" stroke="#c00" stroke-width="1.60"/>
<circle cx="91.50" cy="1212.80" r="2.70" fill="url(#gO)"/>
<circle cx="105.30" cy="1206.50" r="2.70" fill="url(#gO)"/>
<circle cx="98.50" cy="1209.50" r="2.90" fill="url(#gC)"/>
<line x1="82.30" y1="1221.40" x2="84.80" y2="1223.50" stroke="#c00" stroke-width="1.60"/>
<line x1="84.80" y1="1223.50" x2="87.30" y2="1225.60" stroke="#333" stroke-width="1.60"/>
<line x1="87.30" y1="1225.60" x2="90.00" y2="1227.95" stroke="#333" stroke-width="1.60"/>
<line x1="90.00" y1="1227.95" x2="92.70" y2="1230.30" stroke="#c00" stroke-width="1.60"/>
<circle cx="82.30" cy="1221.40" r="2.70" fill="url(#gO)"/>
<circle cx="92.70" cy="1230.30" r="2.70" fill="url(#gO)"/>
<circle cx="87.30" cy="1225.60" r="2.90" fill="url(#gC)"/>
<line x1="39.00" y1="1295.50" x2="42.65" y2="1295.15" stroke="#c00" stroke-width="1.60"/>
<line x1="42.65" y1="1295.15" x2="46.30" y2="1294.80" stroke="#333" stroke-width="1.60"/>
<line x1="46.30" y1="1294.80" x2="49.85" y2="1294.55" stroke="#333" stroke-width="1.60"/>
<line x1="49.85" y1="1294.55" x2="53.40" y2="1294.30" stroke="#c00" stroke-width="1.60"/>
<circle cx="39.00" cy="1295.50" r="2.70" fill="url(#gO)"/>
<circle cx="53.40" cy="1294.30" r="2.70" fill="url(#gO)"/>
<circle cx="46.30" cy="1294.80" r="2.90" fill="url(#gC)"/>
<line x1="58.30" y1="1308.50" x2="55.85" y2="1311.50" stroke="#c00" stroke-width="1.60"/>
<line x1="55.85" y1="1311.50" x2="53.40" y2="1314.50" stroke="#333" stroke-width="1.60"/>
<line x1="53.40" y1="1314.50" x2="50.45" y2="1317.15" stroke="#333" stroke-width="1.60"/>
<line x1="50.45" y1="1317.15" x2="47.50" y2="1319.80" stroke="#c00" stroke-width="1.60"/>
<circle cx="58.30" cy="1308.50" r="2.70" fill="url(#gO)"/>
<circle cx="47.50" cy="1319.80" r="2.70" fill="url(#gO)"/>
<circle cx="53.40" cy="1314.50" r="2.90" fill="url(#gC)"/>
<text x="0.30" y="1271.50" font-size="15.20" fill="#f01010" text-anchor="start" font-weight="normal" >Be restricted</text>
<circle cx="101.8" cy="1265.8" r="8" fill="none" stroke="#f00000" stroke-width="2.8"/>
<line x1="96.5" y1="1260.5" x2="107.1" y2="1271.1" stroke="#f00000" stroke-width="2.8"/>
<polygon points="612.00,1318.00 625.00,1340.00 640.00,1328.00" fill="#505020" opacity="0.55"/>
<polygon points="640.00,1328.00 625.00,1340.00 646.00,1336.00 650.00,1313.00" fill="#7a7a40" opacity="0.55"/>
<polygon points="630.00,1303.00 612.00,1318.00 640.00,1328.00" fill="#e0aa18" opacity="0.90"/>
<polygon points="630.00,1303.00 640.00,1328.00 650.00,1313.00" fill="#c8c070" opacity="0.90"/>
<line x1="650.50" y1="1299.00" x2="652.75" y2="1305.00" stroke="#222" stroke-width="1.80"/>
<line x1="652.75" y1="1305.00" x2="655.00" y2="1311.00" stroke="#e00" stroke-width="1.80"/>
<circle cx="650.50" cy="1299.00" r="3.10" fill="url(#gC)"/>
<circle cx="655.00" cy="1311.00" r="3.30" fill="url(#gO)"/>
<line x1="666.00" y1="1308.00" x2="670.00" y2="1304.00" stroke="#222" stroke-width="1.80"/>
<line x1="670.00" y1="1304.00" x2="674.00" y2="1300.00" stroke="#e00" stroke-width="1.80"/>
<circle cx="666.00" cy="1308.00" r="3.10" fill="url(#gC)"/>
<circle cx="674.00" cy="1300.00" r="3.30" fill="url(#gO)"/>
<line x1="605.00" y1="1316.00" x2="606.50" y2="1321.00" stroke="#222" stroke-width="1.80"/>
<line x1="606.50" y1="1321.00" x2="608.00" y2="1326.00" stroke="#e00" stroke-width="1.80"/>
<circle cx="605.00" cy="1316.00" r="3.10" fill="url(#gC)"/>
<circle cx="608.00" cy="1326.00" r="3.30" fill="url(#gO)"/>
<line x1="587.00" y1="1324.00" x2="588.00" y2="1330.00" stroke="#222" stroke-width="1.80"/>
<line x1="588.00" y1="1330.00" x2="589.00" y2="1336.00" stroke="#e00" stroke-width="1.80"/>
<circle cx="587.00" cy="1324.00" r="3.10" fill="url(#gC)"/>
<circle cx="589.00" cy="1336.00" r="3.30" fill="url(#gO)"/>
<line x1="633.00" y1="1334.00" x2="635.00" y2="1339.50" stroke="#222" stroke-width="1.80"/>
<line x1="635.00" y1="1339.50" x2="637.00" y2="1345.00" stroke="#e00" stroke-width="1.80"/>
<circle cx="633.00" cy="1334.00" r="3.10" fill="url(#gC)"/>
<circle cx="637.00" cy="1345.00" r="3.30" fill="url(#gO)"/>
<line x1="655.00" y1="1331.00" x2="657.00" y2="1337.00" stroke="#222" stroke-width="1.80"/>
<line x1="657.00" y1="1337.00" x2="659.00" y2="1343.00" stroke="#e00" stroke-width="1.80"/>
<circle cx="655.00" cy="1331.00" r="3.10" fill="url(#gC)"/>
<circle cx="659.00" cy="1343.00" r="3.30" fill="url(#gO)"/>
<line x1="670.00" y1="1330.00" x2="675.00" y2="1329.00" stroke="#222" stroke-width="1.80"/>
<line x1="675.00" y1="1329.00" x2="680.00" y2="1328.00" stroke="#e00" stroke-width="1.80"/>
<circle cx="670.00" cy="1330.00" r="3.10" fill="url(#gC)"/>
<circle cx="680.00" cy="1328.00" r="3.30" fill="url(#gO)"/>
<line x1="670.00" y1="1341.00" x2="675.00" y2="1343.50" stroke="#222" stroke-width="1.80"/>
<line x1="675.00" y1="1343.50" x2="680.00" y2="1346.00" stroke="#e00" stroke-width="1.80"/>
<circle cx="670.00" cy="1341.00" r="3.10" fill="url(#gC)"/>
<circle cx="680.00" cy="1346.00" r="3.30" fill="url(#gO)"/>
<line x1="599.00" y1="1349.00" x2="604.00" y2="1351.50" stroke="#222" stroke-width="1.80"/>
<line x1="604.00" y1="1351.50" x2="609.00" y2="1354.00" stroke="#e00" stroke-width="1.80"/>
<circle cx="599.00" cy="1349.00" r="3.10" fill="url(#gC)"/>
<circle cx="609.00" cy="1354.00" r="3.30" fill="url(#gO)"/>
<line x1="628.00" y1="1351.00" x2="623.00" y2="1348.50" stroke="#222" stroke-width="1.80"/>
<line x1="623.00" y1="1348.50" x2="618.00" y2="1346.00" stroke="#e00" stroke-width="1.80"/>
<circle cx="628.00" cy="1351.00" r="3.10" fill="url(#gC)"/>
<circle cx="618.00" cy="1346.00" r="3.30" fill="url(#gO)"/>
<line x1="642.00" y1="1353.00" x2="646.50" y2="1350.00" stroke="#222" stroke-width="1.80"/>
<line x1="646.50" y1="1350.00" x2="651.00" y2="1347.00" stroke="#e00" stroke-width="1.80"/>
<circle cx="642.00" cy="1353.00" r="3.10" fill="url(#gC)"/>
<circle cx="651.00" cy="1347.00" r="3.30" fill="url(#gO)"/>
<ellipse cx="646.50" cy="1238.80" rx="22.00" ry="13.00" fill="#f8b080" opacity="0.68" filter="url(#blur2)"/>
<ellipse cx="646.50" cy="1238.80" rx="20.00" ry="11.00" fill="#f07414" opacity="0.85" filter="url(#blur2)"/>
<ellipse cx="626.30" cy="1281.80" rx="32.00" ry="14.00" fill="#f8b080" opacity="0.64" filter="url(#blur2)"/>
<ellipse cx="626.30" cy="1281.80" rx="30.00" ry="12.00" fill="#f07414" opacity="0.80" filter="url(#blur2)"/>
<ellipse cx="606.20" cy="1305.70" rx="10.00" ry="14.00" fill="#f07414" opacity="0.75" filter="url(#blur2)" transform="rotate(30.0 606.20 1305.70)"/>
<line x1="646.50" y1="1238.00" x2="647.08" y2="1232.20" stroke="#aaa" stroke-width="1.80"/>
<line x1="646.50" y1="1238.00" x2="640.70" y2="1237.71" stroke="#aaa" stroke-width="1.80"/>
<line x1="646.50" y1="1238.00" x2="652.01" y2="1238.87" stroke="#aaa" stroke-width="1.80"/>
<line x1="646.50" y1="1238.00" x2="646.50" y2="1243.80" stroke="#aaa" stroke-width="1.80"/>
<circle cx="646.50" cy="1238.00" r="3.30" fill="url(#gC)"/>
<circle cx="647.08" cy="1232.20" r="2.80" fill="url(#gH)"/>
<circle cx="640.70" cy="1237.71" r="2.80" fill="url(#gH)"/>
<circle cx="652.01" cy="1238.87" r="2.80" fill="url(#gH)"/>
<circle cx="646.50" cy="1243.80" r="2.80" fill="url(#gH)"/>
<line x1="611.32" y1="1282.25" x2="616.68" y2="1277.75" stroke="#ccc" stroke-width="2.00"/>
<circle cx="611.32" cy="1282.25" r="2.70" fill="url(#gH)"/>
<circle cx="616.68" cy="1277.75" r="2.70" fill="url(#gH)"/>
<line x1="631.00" y1="1279.00" x2="636.00" y2="1282.50" stroke="#222" stroke-width="1.80"/>
<line x1="636.00" y1="1282.50" x2="641.00" y2="1286.00" stroke="#e00" stroke-width="1.80"/>
<circle cx="631.00" cy="1279.00" r="3.10" fill="url(#gC)"/>
<circle cx="641.00" cy="1286.00" r="3.30" fill="url(#gO)"/>
<line x1="603.00" y1="1310.20" x2="604.50" y2="1307.60" stroke="#c00" stroke-width="1.60"/>
<line x1="604.50" y1="1307.60" x2="606.00" y2="1305.00" stroke="#333" stroke-width="1.60"/>
<line x1="606.00" y1="1305.00" x2="607.50" y2="1302.40" stroke="#333" stroke-width="1.60"/>
<line x1="607.50" y1="1302.40" x2="609.00" y2="1299.80" stroke="#c00" stroke-width="1.60"/>
<circle cx="603.00" cy="1310.20" r="2.40" fill="url(#gO)"/>
<circle cx="609.00" cy="1299.80" r="2.40" fill="url(#gO)"/>
<circle cx="606.00" cy="1305.00" r="2.50" fill="url(#gC)"/>
<polygon points="639.35,1282.37 645.49,1260.12 647.75,1260.75 646.00,1253.00 640.52,1258.75 642.79,1259.38 636.65,1281.63" fill="#c23cf0"/>
<path d="M612,1309 Q628,1316 636,1298" fill="none" stroke="#c23cf0" stroke-width="2.8"/>
<polygon points="630,1300 638.5,1290 641,1302" fill="#c23cf0"/>
<line x1="614.00" y1="1220.50" x2="616.06" y2="1215.05" stroke="#aaa" stroke-width="1.80"/>
<line x1="614.00" y1="1220.50" x2="608.47" y2="1218.72" stroke="#aaa" stroke-width="1.80"/>
<line x1="614.00" y1="1220.50" x2="619.10" y2="1222.77" stroke="#aaa" stroke-width="1.80"/>
<line x1="614.00" y1="1220.50" x2="612.50" y2="1226.10" stroke="#aaa" stroke-width="1.80"/>
<circle cx="614.00" cy="1220.50" r="3.30" fill="url(#gC)"/>
<circle cx="616.06" cy="1215.05" r="2.80" fill="url(#gH)"/>
<circle cx="608.47" cy="1218.72" r="2.80" fill="url(#gH)"/>
<circle cx="619.10" cy="1222.77" r="2.80" fill="url(#gH)"/>
<circle cx="612.50" cy="1226.10" r="2.80" fill="url(#gH)"/>
<line x1="549.50" y1="1252.00" x2="551.56" y2="1246.55" stroke="#aaa" stroke-width="1.80"/>
<line x1="549.50" y1="1252.00" x2="543.97" y2="1250.22" stroke="#aaa" stroke-width="1.80"/>
<line x1="549.50" y1="1252.00" x2="554.60" y2="1254.27" stroke="#aaa" stroke-width="1.80"/>
<line x1="549.50" y1="1252.00" x2="548.00" y2="1257.60" stroke="#aaa" stroke-width="1.80"/>
<circle cx="549.50" cy="1252.00" r="3.30" fill="url(#gC)"/>
<circle cx="551.56" cy="1246.55" r="2.80" fill="url(#gH)"/>
<circle cx="543.97" cy="1250.22" r="2.80" fill="url(#gH)"/>
<circle cx="554.60" cy="1254.27" r="2.80" fill="url(#gH)"/>
<circle cx="548.00" cy="1257.60" r="2.80" fill="url(#gH)"/>
<line x1="600.50" y1="1249.00" x2="602.56" y2="1243.55" stroke="#aaa" stroke-width="1.80"/>
<line x1="600.50" y1="1249.00" x2="594.97" y2="1247.22" stroke="#aaa" stroke-width="1.80"/>
<line x1="600.50" y1="1249.00" x2="605.60" y2="1251.27" stroke="#aaa" stroke-width="1.80"/>
<line x1="600.50" y1="1249.00" x2="599.00" y2="1254.60" stroke="#aaa" stroke-width="1.80"/>
<circle cx="600.50" cy="1249.00" r="3.30" fill="url(#gC)"/>
<circle cx="602.56" cy="1243.55" r="2.80" fill="url(#gH)"/>
<circle cx="594.97" cy="1247.22" r="2.80" fill="url(#gH)"/>
<circle cx="605.60" cy="1251.27" r="2.80" fill="url(#gH)"/>
<circle cx="599.00" cy="1254.60" r="2.80" fill="url(#gH)"/>
<line x1="564.50" y1="1280.50" x2="566.56" y2="1275.05" stroke="#aaa" stroke-width="1.80"/>
<line x1="564.50" y1="1280.50" x2="558.97" y2="1278.72" stroke="#aaa" stroke-width="1.80"/>
<line x1="564.50" y1="1280.50" x2="569.60" y2="1282.77" stroke="#aaa" stroke-width="1.80"/>
<line x1="564.50" y1="1280.50" x2="563.00" y2="1286.10" stroke="#aaa" stroke-width="1.80"/>
<circle cx="564.50" cy="1280.50" r="3.30" fill="url(#gC)"/>
<circle cx="566.56" cy="1275.05" r="2.80" fill="url(#gH)"/>
<circle cx="558.97" cy="1278.72" r="2.80" fill="url(#gH)"/>
<circle cx="569.60" cy="1282.77" r="2.80" fill="url(#gH)"/>
<circle cx="563.00" cy="1286.10" r="2.80" fill="url(#gH)"/>
<line x1="719.00" y1="1258.00" x2="721.06" y2="1252.55" stroke="#aaa" stroke-width="1.80"/>
<line x1="719.00" y1="1258.00" x2="713.47" y2="1256.22" stroke="#aaa" stroke-width="1.80"/>
<line x1="719.00" y1="1258.00" x2="724.10" y2="1260.27" stroke="#aaa" stroke-width="1.80"/>
<line x1="719.00" y1="1258.00" x2="717.50" y2="1263.60" stroke="#aaa" stroke-width="1.80"/>
<circle cx="719.00" cy="1258.00" r="3.30" fill="url(#gC)"/>
<circle cx="721.06" cy="1252.55" r="2.80" fill="url(#gH)"/>
<circle cx="713.47" cy="1256.22" r="2.80" fill="url(#gH)"/>
<circle cx="724.10" cy="1260.27" r="2.80" fill="url(#gH)"/>
<circle cx="717.50" cy="1263.60" r="2.80" fill="url(#gH)"/>
<line x1="710.00" y1="1283.50" x2="712.06" y2="1278.05" stroke="#aaa" stroke-width="1.80"/>
<line x1="710.00" y1="1283.50" x2="704.47" y2="1281.72" stroke="#aaa" stroke-width="1.80"/>
<line x1="710.00" y1="1283.50" x2="715.10" y2="1285.77" stroke="#aaa" stroke-width="1.80"/>
<line x1="710.00" y1="1283.50" x2="708.50" y2="1289.10" stroke="#aaa" stroke-width="1.80"/>
<circle cx="710.00" cy="1283.50" r="3.30" fill="url(#gC)"/>
<circle cx="712.06" cy="1278.05" r="2.80" fill="url(#gH)"/>
<circle cx="704.47" cy="1281.72" r="2.80" fill="url(#gH)"/>
<circle cx="715.10" cy="1285.77" r="2.80" fill="url(#gH)"/>
<circle cx="708.50" cy="1289.10" r="2.80" fill="url(#gH)"/>
<line x1="740.00" y1="1288.00" x2="742.06" y2="1282.55" stroke="#aaa" stroke-width="1.80"/>
<line x1="740.00" y1="1288.00" x2="734.47" y2="1286.22" stroke="#aaa" stroke-width="1.80"/>
<line x1="740.00" y1="1288.00" x2="745.10" y2="1290.27" stroke="#aaa" stroke-width="1.80"/>
<line x1="740.00" y1="1288.00" x2="738.50" y2="1293.60" stroke="#aaa" stroke-width="1.80"/>
<circle cx="740.00" cy="1288.00" r="3.30" fill="url(#gC)"/>
<circle cx="742.06" cy="1282.55" r="2.80" fill="url(#gH)"/>
<circle cx="734.47" cy="1286.22" r="2.80" fill="url(#gH)"/>
<circle cx="745.10" cy="1290.27" r="2.80" fill="url(#gH)"/>
<circle cx="738.50" cy="1293.60" r="2.80" fill="url(#gH)"/>
<line x1="740.00" y1="1312.00" x2="742.06" y2="1306.55" stroke="#aaa" stroke-width="1.80"/>
<line x1="740.00" y1="1312.00" x2="734.47" y2="1310.22" stroke="#aaa" stroke-width="1.80"/>
<line x1="740.00" y1="1312.00" x2="745.10" y2="1314.27" stroke="#aaa" stroke-width="1.80"/>
<line x1="740.00" y1="1312.00" x2="738.50" y2="1317.60" stroke="#aaa" stroke-width="1.80"/>
<circle cx="740.00" cy="1312.00" r="3.30" fill="url(#gC)"/>
<circle cx="742.06" cy="1306.55" r="2.80" fill="url(#gH)"/>
<circle cx="734.47" cy="1310.22" r="2.80" fill="url(#gH)"/>
<circle cx="745.10" cy="1314.27" r="2.80" fill="url(#gH)"/>
<circle cx="738.50" cy="1317.60" r="2.80" fill="url(#gH)"/>
<line x1="525.50" y1="1321.00" x2="527.56" y2="1315.55" stroke="#aaa" stroke-width="1.80"/>
<line x1="525.50" y1="1321.00" x2="519.97" y2="1319.22" stroke="#aaa" stroke-width="1.80"/>
<line x1="525.50" y1="1321.00" x2="530.60" y2="1323.27" stroke="#aaa" stroke-width="1.80"/>
<line x1="525.50" y1="1321.00" x2="524.00" y2="1326.60" stroke="#aaa" stroke-width="1.80"/>
<circle cx="525.50" cy="1321.00" r="3.30" fill="url(#gC)"/>
<circle cx="527.56" cy="1315.55" r="2.80" fill="url(#gH)"/>
<circle cx="519.97" cy="1319.22" r="2.80" fill="url(#gH)"/>
<circle cx="530.60" cy="1323.27" r="2.80" fill="url(#gH)"/>
<circle cx="524.00" cy="1326.60" r="2.80" fill="url(#gH)"/>
<line x1="737.00" y1="1354.00" x2="739.06" y2="1348.55" stroke="#aaa" stroke-width="1.80"/>
<line x1="737.00" y1="1354.00" x2="731.47" y2="1352.22" stroke="#aaa" stroke-width="1.80"/>
<line x1="737.00" y1="1354.00" x2="742.10" y2="1356.27" stroke="#aaa" stroke-width="1.80"/>
<line x1="737.00" y1="1354.00" x2="735.50" y2="1359.60" stroke="#aaa" stroke-width="1.80"/>
<circle cx="737.00" cy="1354.00" r="3.30" fill="url(#gC)"/>
<circle cx="739.06" cy="1348.55" r="2.80" fill="url(#gH)"/>
<circle cx="731.47" cy="1352.22" r="2.80" fill="url(#gH)"/>
<circle cx="742.10" cy="1356.27" r="2.80" fill="url(#gH)"/>
<circle cx="735.50" cy="1359.60" r="2.80" fill="url(#gH)"/>
<line x1="558.50" y1="1367.50" x2="560.56" y2="1362.05" stroke="#aaa" stroke-width="1.80"/>
<line x1="558.50" y1="1367.50" x2="552.97" y2="1365.72" stroke="#aaa" stroke-width="1.80"/>
<line x1="558.50" y1="1367.50" x2="563.60" y2="1369.77" stroke="#aaa" stroke-width="1.80"/>
<line x1="558.50" y1="1367.50" x2="557.00" y2="1373.10" stroke="#aaa" stroke-width="1.80"/>
<circle cx="558.50" cy="1367.50" r="3.30" fill="url(#gC)"/>
<circle cx="560.56" cy="1362.05" r="2.80" fill="url(#gH)"/>
<circle cx="552.97" cy="1365.72" r="2.80" fill="url(#gH)"/>
<circle cx="563.60" cy="1369.77" r="2.80" fill="url(#gH)"/>
<circle cx="557.00" cy="1373.10" r="2.80" fill="url(#gH)"/>
<line x1="524.00" y1="1378.00" x2="526.06" y2="1372.55" stroke="#aaa" stroke-width="1.80"/>
<line x1="524.00" y1="1378.00" x2="518.47" y2="1376.22" stroke="#aaa" stroke-width="1.80"/>
<line x1="524.00" y1="1378.00" x2="529.10" y2="1380.27" stroke="#aaa" stroke-width="1.80"/>
<line x1="524.00" y1="1378.00" x2="522.50" y2="1383.60" stroke="#aaa" stroke-width="1.80"/>
<circle cx="524.00" cy="1378.00" r="3.30" fill="url(#gC)"/>
<circle cx="526.06" cy="1372.55" r="2.80" fill="url(#gH)"/>
<circle cx="518.47" cy="1376.22" r="2.80" fill="url(#gH)"/>
<circle cx="529.10" cy="1380.27" r="2.80" fill="url(#gH)"/>
<circle cx="522.50" cy="1383.60" r="2.80" fill="url(#gH)"/>
<line x1="729.50" y1="1378.00" x2="731.56" y2="1372.55" stroke="#aaa" stroke-width="1.80"/>
<line x1="729.50" y1="1378.00" x2="723.97" y2="1376.22" stroke="#aaa" stroke-width="1.80"/>
<line x1="729.50" y1="1378.00" x2="734.60" y2="1380.27" stroke="#aaa" stroke-width="1.80"/>
<line x1="729.50" y1="1378.00" x2="728.00" y2="1383.60" stroke="#aaa" stroke-width="1.80"/>
<circle cx="729.50" cy="1378.00" r="3.30" fill="url(#gC)"/>
<circle cx="731.56" cy="1372.55" r="2.80" fill="url(#gH)"/>
<circle cx="723.97" cy="1376.22" r="2.80" fill="url(#gH)"/>
<circle cx="734.60" cy="1380.27" r="2.80" fill="url(#gH)"/>
<circle cx="728.00" cy="1383.60" r="2.80" fill="url(#gH)"/>
<line x1="590.00" y1="1405.00" x2="592.06" y2="1399.55" stroke="#aaa" stroke-width="1.80"/>
<line x1="590.00" y1="1405.00" x2="584.47" y2="1403.22" stroke="#aaa" stroke-width="1.80"/>
<line x1="590.00" y1="1405.00" x2="595.10" y2="1407.27" stroke="#aaa" stroke-width="1.80"/>
<line x1="590.00" y1="1405.00" x2="588.50" y2="1410.60" stroke="#aaa" stroke-width="1.80"/>
<circle cx="590.00" cy="1405.00" r="3.30" fill="url(#gC)"/>
<circle cx="592.06" cy="1399.55" r="2.80" fill="url(#gH)"/>
<circle cx="584.47" cy="1403.22" r="2.80" fill="url(#gH)"/>
<circle cx="595.10" cy="1407.27" r="2.80" fill="url(#gH)"/>
<circle cx="588.50" cy="1410.60" r="2.80" fill="url(#gH)"/>
<line x1="677.00" y1="1417.00" x2="679.06" y2="1411.55" stroke="#aaa" stroke-width="1.80"/>
<line x1="677.00" y1="1417.00" x2="671.47" y2="1415.22" stroke="#aaa" stroke-width="1.80"/>
<line x1="677.00" y1="1417.00" x2="682.10" y2="1419.27" stroke="#aaa" stroke-width="1.80"/>
<line x1="677.00" y1="1417.00" x2="675.50" y2="1422.60" stroke="#aaa" stroke-width="1.80"/>
<circle cx="677.00" cy="1417.00" r="3.30" fill="url(#gC)"/>
<circle cx="679.06" cy="1411.55" r="2.80" fill="url(#gH)"/>
<circle cx="671.47" cy="1415.22" r="2.80" fill="url(#gH)"/>
<circle cx="682.10" cy="1419.27" r="2.80" fill="url(#gH)"/>
<circle cx="675.50" cy="1422.60" r="2.80" fill="url(#gH)"/>
<line x1="702.50" y1="1421.50" x2="704.56" y2="1416.05" stroke="#aaa" stroke-width="1.80"/>
<line x1="702.50" y1="1421.50" x2="696.97" y2="1419.72" stroke="#aaa" stroke-width="1.80"/>
<line x1="702.50" y1="1421.50" x2="707.60" y2="1423.77" stroke="#aaa" stroke-width="1.80"/>
<line x1="702.50" y1="1421.50" x2="701.00" y2="1427.10" stroke="#aaa" stroke-width="1.80"/>
<circle cx="702.50" cy="1421.50" r="3.30" fill="url(#gC)"/>
<circle cx="704.56" cy="1416.05" r="2.80" fill="url(#gH)"/>
<circle cx="696.97" cy="1419.72" r="2.80" fill="url(#gH)"/>
<circle cx="707.60" cy="1423.77" r="2.80" fill="url(#gH)"/>
<circle cx="701.00" cy="1427.10" r="2.80" fill="url(#gH)"/>
<line x1="557.00" y1="1426.00" x2="559.06" y2="1420.55" stroke="#aaa" stroke-width="1.80"/>
<line x1="557.00" y1="1426.00" x2="551.47" y2="1424.22" stroke="#aaa" stroke-width="1.80"/>
<line x1="557.00" y1="1426.00" x2="562.10" y2="1428.27" stroke="#aaa" stroke-width="1.80"/>
<line x1="557.00" y1="1426.00" x2="555.50" y2="1431.60" stroke="#aaa" stroke-width="1.80"/>
<circle cx="557.00" cy="1426.00" r="3.30" fill="url(#gC)"/>
<circle cx="559.06" cy="1420.55" r="2.80" fill="url(#gH)"/>
<circle cx="551.47" cy="1424.22" r="2.80" fill="url(#gH)"/>
<circle cx="562.10" cy="1428.27" r="2.80" fill="url(#gH)"/>
<circle cx="555.50" cy="1431.60" r="2.80" fill="url(#gH)"/>
<line x1="596.00" y1="1436.50" x2="598.06" y2="1431.05" stroke="#aaa" stroke-width="1.80"/>
<line x1="596.00" y1="1436.50" x2="590.47" y2="1434.72" stroke="#aaa" stroke-width="1.80"/>
<line x1="596.00" y1="1436.50" x2="601.10" y2="1438.77" stroke="#aaa" stroke-width="1.80"/>
<line x1="596.00" y1="1436.50" x2="594.50" y2="1442.10" stroke="#aaa" stroke-width="1.80"/>
<circle cx="596.00" cy="1436.50" r="3.30" fill="url(#gC)"/>
<circle cx="598.06" cy="1431.05" r="2.80" fill="url(#gH)"/>
<circle cx="590.47" cy="1434.72" r="2.80" fill="url(#gH)"/>
<circle cx="601.10" cy="1438.77" r="2.80" fill="url(#gH)"/>
<circle cx="594.50" cy="1442.10" r="2.80" fill="url(#gH)"/>
<line x1="630.50" y1="1433.50" x2="632.56" y2="1428.05" stroke="#aaa" stroke-width="1.80"/>
<line x1="630.50" y1="1433.50" x2="624.97" y2="1431.72" stroke="#aaa" stroke-width="1.80"/>
<line x1="630.50" y1="1433.50" x2="635.60" y2="1435.77" stroke="#aaa" stroke-width="1.80"/>
<line x1="630.50" y1="1433.50" x2="629.00" y2="1439.10" stroke="#aaa" stroke-width="1.80"/>
<circle cx="630.50" cy="1433.50" r="3.30" fill="url(#gC)"/>
<circle cx="632.56" cy="1428.05" r="2.80" fill="url(#gH)"/>
<circle cx="624.97" cy="1431.72" r="2.80" fill="url(#gH)"/>
<circle cx="635.60" cy="1435.77" r="2.80" fill="url(#gH)"/>
<circle cx="629.00" cy="1439.10" r="2.80" fill="url(#gH)"/>
<line x1="671.00" y1="1444.00" x2="673.06" y2="1438.55" stroke="#aaa" stroke-width="1.80"/>
<line x1="671.00" y1="1444.00" x2="665.47" y2="1442.22" stroke="#aaa" stroke-width="1.80"/>
<line x1="671.00" y1="1444.00" x2="676.10" y2="1446.27" stroke="#aaa" stroke-width="1.80"/>
<line x1="671.00" y1="1444.00" x2="669.50" y2="1449.60" stroke="#aaa" stroke-width="1.80"/>
<circle cx="671.00" cy="1444.00" r="3.30" fill="url(#gC)"/>
<circle cx="673.06" cy="1438.55" r="2.80" fill="url(#gH)"/>
<circle cx="665.47" cy="1442.22" r="2.80" fill="url(#gH)"/>
<circle cx="676.10" cy="1446.27" r="2.80" fill="url(#gH)"/>
<circle cx="669.50" cy="1449.60" r="2.80" fill="url(#gH)"/>
<line x1="666.47" y1="1230.75" x2="672.53" y2="1234.25" stroke="#ccc" stroke-width="2.00"/>
<circle cx="666.47" cy="1230.75" r="2.70" fill="url(#gH)"/>
<circle cx="672.53" cy="1234.25" r="2.70" fill="url(#gH)"/>
<line x1="531.21" y1="1339.30" x2="537.79" y2="1341.70" stroke="#ccc" stroke-width="2.00"/>
<circle cx="531.21" cy="1339.30" r="2.70" fill="url(#gH)"/>
<circle cx="537.79" cy="1341.70" r="2.70" fill="url(#gH)"/>
<line x1="716.13" y1="1336.51" x2="721.87" y2="1332.49" stroke="#ccc" stroke-width="2.00"/>
<circle cx="716.13" cy="1336.51" r="2.70" fill="url(#gH)"/>
<circle cx="721.87" cy="1332.49" r="2.70" fill="url(#gH)"/>
<line x1="545.75" y1="1400.18" x2="550.25" y2="1394.82" stroke="#ccc" stroke-width="2.00"/>
<circle cx="545.75" cy="1400.18" r="2.70" fill="url(#gH)"/>
<circle cx="550.25" cy="1394.82" r="2.70" fill="url(#gH)"/>
<line x1="718.50" y1="1405.00" x2="725.50" y2="1405.00" stroke="#ccc" stroke-width="2.00"/>
<circle cx="718.50" cy="1405.00" r="2.70" fill="url(#gH)"/>
<circle cx="725.50" cy="1405.00" r="2.70" fill="url(#gH)"/>
<line x1="494.40" y1="1245.30" x2="495.90" y2="1248.85" stroke="#c00" stroke-width="1.60"/>
<line x1="495.90" y1="1248.85" x2="497.40" y2="1252.40" stroke="#333" stroke-width="1.60"/>
<line x1="497.40" y1="1252.40" x2="499.10" y2="1255.60" stroke="#333" stroke-width="1.60"/>
<line x1="499.10" y1="1255.60" x2="500.80" y2="1258.80" stroke="#c00" stroke-width="1.60"/>
<circle cx="494.40" cy="1245.30" r="2.70" fill="url(#gO)"/>
<circle cx="500.80" cy="1258.80" r="2.70" fill="url(#gO)"/>
<circle cx="497.40" cy="1252.40" r="2.90" fill="url(#gC)"/>
<line x1="476.00" y1="1274.90" x2="479.55" y2="1275.20" stroke="#c00" stroke-width="1.60"/>
<line x1="479.55" y1="1275.20" x2="483.10" y2="1275.50" stroke="#333" stroke-width="1.60"/>
<line x1="483.10" y1="1275.50" x2="486.50" y2="1276.50" stroke="#333" stroke-width="1.60"/>
<line x1="486.50" y1="1276.50" x2="489.90" y2="1277.50" stroke="#c00" stroke-width="1.60"/>
<circle cx="476.00" cy="1274.90" r="2.70" fill="url(#gO)"/>
<circle cx="489.90" cy="1277.50" r="2.70" fill="url(#gO)"/>
<circle cx="483.10" cy="1275.50" r="2.90" fill="url(#gC)"/>
<line x1="711.10" y1="1196.70" x2="709.20" y2="1199.90" stroke="#c00" stroke-width="1.60"/>
<line x1="709.20" y1="1199.90" x2="707.30" y2="1203.10" stroke="#333" stroke-width="1.60"/>
<line x1="707.30" y1="1203.10" x2="705.30" y2="1206.20" stroke="#333" stroke-width="1.60"/>
<line x1="705.30" y1="1206.20" x2="703.30" y2="1209.30" stroke="#c00" stroke-width="1.60"/>
<circle cx="711.10" cy="1196.70" r="2.70" fill="url(#gO)"/>
<circle cx="703.30" cy="1209.30" r="2.70" fill="url(#gO)"/>
<circle cx="707.30" cy="1203.10" r="2.90" fill="url(#gC)"/>
<line x1="721.90" y1="1206.30" x2="723.35" y2="1209.80" stroke="#c00" stroke-width="1.60"/>
<line x1="723.35" y1="1209.80" x2="724.80" y2="1213.30" stroke="#333" stroke-width="1.60"/>
<line x1="724.80" y1="1213.30" x2="726.30" y2="1216.65" stroke="#333" stroke-width="1.60"/>
<line x1="726.30" y1="1216.65" x2="727.80" y2="1220.00" stroke="#c00" stroke-width="1.60"/>
<circle cx="721.90" cy="1206.30" r="2.70" fill="url(#gO)"/>
<circle cx="727.80" cy="1220.00" r="2.70" fill="url(#gO)"/>
<circle cx="724.80" cy="1213.30" r="2.90" fill="url(#gC)"/>
<polygon points="498.10,1264.00 527.00,1277.50 529.30,1273.80 538.60,1288.40 521.00,1291.00 522.50,1286.50 494.00,1272.30 502.30,1270.80" fill="#416ec8" />
<polygon points="708.50,1211.00 709.10,1218.90 716.70,1215.40 701.80,1243.40 705.00,1245.40 689.50,1253.90 688.70,1236.40 692.50,1238.70" fill="#416ec8" />
<polygon points="988.00,1315.00 975.00,1328.00 995.00,1337.00" fill="#e8c020" opacity="0.85"/>
<polygon points="988.00,1315.00 995.00,1337.00 1002.00,1325.00" fill="#d0c060" opacity="0.85"/>
<polygon points="975.00,1328.00 986.00,1348.00 995.00,1337.00" fill="#a89030" opacity="0.85"/>
<polygon points="995.00,1337.00 986.00,1348.00 1002.00,1325.00" fill="#b8a850" opacity="0.85"/>
<ellipse cx="984.00" cy="1295.00" rx="30.00" ry="10.00" fill="#0aa4bc" opacity="0.80" filter="url(#blur1)"/>
<ellipse cx="966.00" cy="1318.00" rx="13.00" ry="20.00" fill="#0aa4bc" opacity="0.55" filter="url(#blur2)" transform="rotate(20.0 966.00 1318.00)"/>
<line x1="974.57" y1="1324.48" x2="975.42" y2="1321.60" stroke="#222" stroke-width="1.80"/>
<line x1="975.42" y1="1321.60" x2="976.26" y2="1318.72" stroke="#e00" stroke-width="1.80"/>
<circle cx="974.57" cy="1324.48" r="2.70" fill="url(#gC)"/>
<circle cx="976.26" cy="1318.72" r="3.00" fill="url(#gO)"/>
<line x1="1014.72" y1="1330.17" x2="1017.37" y2="1328.76" stroke="#222" stroke-width="1.80"/>
<line x1="1017.37" y1="1328.76" x2="1020.02" y2="1327.35" stroke="#e00" stroke-width="1.80"/>
<circle cx="1014.72" cy="1330.17" r="2.70" fill="url(#gC)"/>
<circle cx="1020.02" cy="1327.35" r="3.00" fill="url(#gO)"/>
<line x1="1011.32" y1="1338.42" x2="1014.13" y2="1337.37" stroke="#222" stroke-width="1.80"/>
<line x1="1014.13" y1="1337.37" x2="1016.95" y2="1336.33" stroke="#e00" stroke-width="1.80"/>
<circle cx="1011.32" cy="1338.42" r="2.70" fill="url(#gC)"/>
<circle cx="1016.95" cy="1336.33" r="3.00" fill="url(#gO)"/>
<line x1="976.20" y1="1321.44" x2="978.47" y2="1323.40" stroke="#222" stroke-width="1.80"/>
<line x1="978.47" y1="1323.40" x2="980.74" y2="1325.36" stroke="#e00" stroke-width="1.80"/>
<circle cx="976.20" cy="1321.44" r="2.70" fill="url(#gC)"/>
<circle cx="980.74" cy="1325.36" r="3.00" fill="url(#gO)"/>
<line x1="977.35" y1="1337.96" x2="974.47" y2="1337.14" stroke="#222" stroke-width="1.80"/>
<line x1="974.47" y1="1337.14" x2="971.58" y2="1336.33" stroke="#e00" stroke-width="1.80"/>
<circle cx="977.35" cy="1337.96" r="2.70" fill="url(#gC)"/>
<circle cx="971.58" cy="1336.33" r="3.00" fill="url(#gO)"/>
<line x1="985.74" y1="1333.87" x2="986.37" y2="1336.81" stroke="#222" stroke-width="1.80"/>
<line x1="986.37" y1="1336.81" x2="986.99" y2="1339.74" stroke="#e00" stroke-width="1.80"/>
<circle cx="985.74" cy="1333.87" r="2.70" fill="url(#gC)"/>
<circle cx="986.99" cy="1339.74" r="3.00" fill="url(#gO)"/>
<line x1="987.05" y1="1353.92" x2="987.35" y2="1350.93" stroke="#222" stroke-width="1.80"/>
<line x1="987.35" y1="1350.93" x2="987.64" y2="1347.95" stroke="#e00" stroke-width="1.80"/>
<circle cx="987.05" cy="1353.92" r="2.70" fill="url(#gC)"/>
<circle cx="987.64" cy="1347.95" r="3.00" fill="url(#gO)"/>
<line x1="1005.53" y1="1350.39" x2="1007.46" y2="1352.69" stroke="#222" stroke-width="1.80"/>
<line x1="1007.46" y1="1352.69" x2="1009.39" y2="1354.98" stroke="#e00" stroke-width="1.80"/>
<circle cx="1005.53" cy="1350.39" r="2.70" fill="url(#gC)"/>
<circle cx="1009.39" cy="1354.98" r="3.00" fill="url(#gO)"/>
<line x1="983.45" y1="1330.72" x2="986.45" y2="1330.76" stroke="#222" stroke-width="1.80"/>
<line x1="986.45" y1="1330.76" x2="989.45" y2="1330.79" stroke="#e00" stroke-width="1.80"/>
<circle cx="983.45" cy="1330.72" r="2.70" fill="url(#gC)"/>
<circle cx="989.45" cy="1330.79" r="3.00" fill="url(#gO)"/>
<line x1="1001.65" y1="1329.15" x2="1002.30" y2="1332.08" stroke="#222" stroke-width="1.80"/>
<line x1="1002.30" y1="1332.08" x2="1002.94" y2="1335.01" stroke="#e00" stroke-width="1.80"/>
<circle cx="1001.65" cy="1329.15" r="2.70" fill="url(#gC)"/>
<circle cx="1002.94" cy="1335.01" r="3.00" fill="url(#gO)"/>
<line x1="1018.09" y1="1334.04" x2="1017.35" y2="1336.95" stroke="#222" stroke-width="1.80"/>
<line x1="1017.35" y1="1336.95" x2="1016.62" y2="1339.85" stroke="#e00" stroke-width="1.80"/>
<circle cx="1018.09" cy="1334.04" r="2.70" fill="url(#gC)"/>
<circle cx="1016.62" cy="1339.85" r="3.00" fill="url(#gO)"/>
<line x1="1012.38" y1="1332.59" x2="1011.07" y2="1329.89" stroke="#222" stroke-width="1.80"/>
<line x1="1011.07" y1="1329.89" x2="1009.76" y2="1327.19" stroke="#e00" stroke-width="1.80"/>
<circle cx="1012.38" cy="1332.59" r="2.70" fill="url(#gC)"/>
<circle cx="1009.76" cy="1327.19" r="3.00" fill="url(#gO)"/>
<line x1="999.63" y1="1353.72" x2="998.53" y2="1350.93" stroke="#222" stroke-width="1.80"/>
<line x1="998.53" y1="1350.93" x2="997.44" y2="1348.13" stroke="#e00" stroke-width="1.80"/>
<circle cx="999.63" cy="1353.72" r="2.70" fill="url(#gC)"/>
<circle cx="997.44" cy="1348.13" r="3.00" fill="url(#gO)"/>
<line x1="1017.97" y1="1332.24" x2="1017.06" y2="1335.10" stroke="#222" stroke-width="1.80"/>
<line x1="1017.06" y1="1335.10" x2="1016.15" y2="1337.96" stroke="#e00" stroke-width="1.80"/>
<circle cx="1017.97" cy="1332.24" r="2.70" fill="url(#gC)"/>
<circle cx="1016.15" cy="1337.96" r="3.00" fill="url(#gO)"/>
<line x1="983.79" y1="1342.63" x2="985.62" y2="1345.01" stroke="#222" stroke-width="1.80"/>
<line x1="985.62" y1="1345.01" x2="987.45" y2="1347.39" stroke="#e00" stroke-width="1.80"/>
<circle cx="983.79" cy="1342.63" r="2.70" fill="url(#gC)"/>
<circle cx="987.45" cy="1347.39" r="3.00" fill="url(#gO)"/>
<line x1="1006.90" y1="1340.38" x2="1004.50" y2="1338.57" stroke="#222" stroke-width="1.80"/>
<line x1="1004.50" y1="1338.57" x2="1002.11" y2="1336.76" stroke="#e00" stroke-width="1.80"/>
<circle cx="1006.90" cy="1340.38" r="2.70" fill="url(#gC)"/>
<circle cx="1002.11" cy="1336.76" r="3.00" fill="url(#gO)"/>
<line x1="1015.32" y1="1336.34" x2="1013.75" y2="1338.89" stroke="#222" stroke-width="1.80"/>
<line x1="1013.75" y1="1338.89" x2="1012.17" y2="1341.44" stroke="#e00" stroke-width="1.80"/>
<circle cx="1015.32" cy="1336.34" r="2.70" fill="url(#gC)"/>
<circle cx="1012.17" cy="1341.44" r="3.00" fill="url(#gO)"/>
<line x1="982.63" y1="1352.07" x2="979.65" y2="1352.43" stroke="#222" stroke-width="1.80"/>
<line x1="979.65" y1="1352.43" x2="976.67" y2="1352.80" stroke="#e00" stroke-width="1.80"/>
<circle cx="982.63" cy="1352.07" r="2.70" fill="url(#gC)"/>
<circle cx="976.67" cy="1352.80" r="3.00" fill="url(#gO)"/>
<line x1="983.99" y1="1348.39" x2="983.15" y2="1345.51" stroke="#222" stroke-width="1.80"/>
<line x1="983.15" y1="1345.51" x2="982.30" y2="1342.63" stroke="#e00" stroke-width="1.80"/>
<circle cx="983.99" cy="1348.39" r="2.70" fill="url(#gC)"/>
<circle cx="982.30" cy="1342.63" r="3.00" fill="url(#gO)"/>
<line x1="1017.91" y1="1342.58" x2="1020.88" y2="1343.01" stroke="#222" stroke-width="1.80"/>
<line x1="1020.88" y1="1343.01" x2="1023.85" y2="1343.44" stroke="#e00" stroke-width="1.80"/>
<circle cx="1017.91" cy="1342.58" r="2.70" fill="url(#gC)"/>
<circle cx="1023.85" cy="1343.44" r="3.00" fill="url(#gO)"/>
<line x1="991.97" y1="1318.46" x2="994.95" y2="1318.80" stroke="#222" stroke-width="1.80"/>
<line x1="994.95" y1="1318.80" x2="997.93" y2="1319.14" stroke="#e00" stroke-width="1.80"/>
<circle cx="991.97" cy="1318.46" r="2.70" fill="url(#gC)"/>
<circle cx="997.93" cy="1319.14" r="3.00" fill="url(#gO)"/>
<line x1="996.15" y1="1324.35" x2="993.51" y2="1322.93" stroke="#222" stroke-width="1.80"/>
<line x1="993.51" y1="1322.93" x2="990.86" y2="1321.51" stroke="#e00" stroke-width="1.80"/>
<circle cx="996.15" cy="1324.35" r="2.70" fill="url(#gC)"/>
<circle cx="990.86" cy="1321.51" r="3.00" fill="url(#gO)"/>
<line x1="1000.59" y1="1336.33" x2="1001.85" y2="1339.05" stroke="#222" stroke-width="1.80"/>
<line x1="1001.85" y1="1339.05" x2="1003.11" y2="1341.78" stroke="#e00" stroke-width="1.80"/>
<circle cx="1000.59" cy="1336.33" r="2.70" fill="url(#gC)"/>
<circle cx="1003.11" cy="1341.78" r="3.00" fill="url(#gO)"/>
<line x1="1005.09" y1="1333.43" x2="1005.19" y2="1330.43" stroke="#222" stroke-width="1.80"/>
<line x1="1005.19" y1="1330.43" x2="1005.30" y2="1327.44" stroke="#e00" stroke-width="1.80"/>
<circle cx="1005.09" cy="1333.43" r="2.70" fill="url(#gC)"/>
<circle cx="1005.30" cy="1327.44" r="3.00" fill="url(#gO)"/>
<line x1="1016.60" y1="1328.10" x2="1014.93" y2="1330.59" stroke="#222" stroke-width="1.80"/>
<line x1="1014.93" y1="1330.59" x2="1013.25" y2="1333.08" stroke="#e00" stroke-width="1.80"/>
<circle cx="1016.60" cy="1328.10" r="2.70" fill="url(#gC)"/>
<circle cx="1013.25" cy="1333.08" r="3.00" fill="url(#gO)"/>
<line x1="979.31" y1="1347.13" x2="979.79" y2="1344.17" stroke="#222" stroke-width="1.80"/>
<line x1="979.79" y1="1344.17" x2="980.27" y2="1341.21" stroke="#e00" stroke-width="1.80"/>
<circle cx="979.31" cy="1347.13" r="2.70" fill="url(#gC)"/>
<circle cx="980.27" cy="1341.21" r="3.00" fill="url(#gO)"/>
<line x1="1011.01" y1="1346.41" x2="1011.89" y2="1343.54" stroke="#222" stroke-width="1.80"/>
<line x1="1011.89" y1="1343.54" x2="1012.76" y2="1340.67" stroke="#e00" stroke-width="1.80"/>
<circle cx="1011.01" cy="1346.41" r="2.70" fill="url(#gC)"/>
<circle cx="1012.76" cy="1340.67" r="3.00" fill="url(#gO)"/>
<line x1="997.19" y1="1331.73" x2="1000.01" y2="1330.73" stroke="#222" stroke-width="1.80"/>
<line x1="1000.01" y1="1330.73" x2="1002.84" y2="1329.73" stroke="#e00" stroke-width="1.80"/>
<circle cx="997.19" cy="1331.73" r="2.70" fill="url(#gC)"/>
<circle cx="1002.84" cy="1329.73" r="3.00" fill="url(#gO)"/>
<line x1="1006.38" y1="1342.30" x2="1004.08" y2="1340.37" stroke="#222" stroke-width="1.80"/>
<line x1="1004.08" y1="1340.37" x2="1001.78" y2="1338.45" stroke="#e00" stroke-width="1.80"/>
<circle cx="1006.38" cy="1342.30" r="2.70" fill="url(#gC)"/>
<circle cx="1001.78" cy="1338.45" r="3.00" fill="url(#gO)"/>
<line x1="1006.88" y1="1330.29" x2="1009.55" y2="1328.91" stroke="#222" stroke-width="1.80"/>
<line x1="1009.55" y1="1328.91" x2="1012.22" y2="1327.54" stroke="#e00" stroke-width="1.80"/>
<circle cx="1006.88" cy="1330.29" r="2.70" fill="url(#gC)"/>
<circle cx="1012.22" cy="1327.54" r="3.00" fill="url(#gO)"/>
<line x1="977.00" y1="1298.00" x2="973.00" y2="1294.00" stroke="#222" stroke-width="1.80"/>
<line x1="973.00" y1="1294.00" x2="969.00" y2="1290.00" stroke="#e00" stroke-width="1.80"/>
<circle cx="977.00" cy="1298.00" r="2.70" fill="url(#gC)"/>
<circle cx="969.00" cy="1290.00" r="3.00" fill="url(#gO)"/>
<line x1="990.00" y1="1298.00" x2="994.50" y2="1295.00" stroke="#222" stroke-width="1.80"/>
<line x1="994.50" y1="1295.00" x2="999.00" y2="1292.00" stroke="#e00" stroke-width="1.80"/>
<circle cx="990.00" cy="1298.00" r="2.70" fill="url(#gC)"/>
<circle cx="999.00" cy="1292.00" r="3.00" fill="url(#gO)"/>
<line x1="960.00" y1="1318.00" x2="962.50" y2="1314.50" stroke="#222" stroke-width="1.80"/>
<line x1="962.50" y1="1314.50" x2="965.00" y2="1311.00" stroke="#e00" stroke-width="1.80"/>
<circle cx="960.00" cy="1318.00" r="2.70" fill="url(#gC)"/>
<circle cx="965.00" cy="1311.00" r="3.00" fill="url(#gO)"/>
<line x1="956.00" y1="1324.00" x2="953.00" y2="1325.50" stroke="#222" stroke-width="1.80"/>
<line x1="953.00" y1="1325.50" x2="950.00" y2="1327.00" stroke="#e00" stroke-width="1.80"/>
<circle cx="956.00" cy="1324.00" r="2.70" fill="url(#gC)"/>
<circle cx="950.00" cy="1327.00" r="3.00" fill="url(#gO)"/>
<ellipse cx="991.50" cy="1246.50" rx="28.00" ry="14.50" fill="#80e0f8" opacity="0.76" filter="url(#blur2)"/>
<ellipse cx="991.50" cy="1246.50" rx="26.00" ry="12.50" fill="#20b6e8" opacity="0.95" filter="url(#blur2)"/>
<line x1="975.50" y1="1244.00" x2="982.50" y2="1244.00" stroke="#ccc" stroke-width="2.00"/>
<circle cx="975.50" cy="1244.00" r="2.60" fill="url(#gH)"/>
<circle cx="982.50" cy="1244.00" r="2.60" fill="url(#gH)"/>
<line x1="1004.46" y1="1245.00" x2="1005.40" y2="1239.61" stroke="#111" stroke-width="2.00"/>
<line x1="1004.46" y1="1245.00" x2="1008.70" y2="1248.33" stroke="#111" stroke-width="2.00"/>
<line x1="997.54" y1="1249.00" x2="993.30" y2="1245.67" stroke="#111" stroke-width="2.00"/>
<line x1="997.54" y1="1249.00" x2="996.60" y2="1254.39" stroke="#111" stroke-width="2.00"/>
<line x1="1004.46" y1="1245.00" x2="997.54" y2="1249.00" stroke="#111" stroke-width="3.00"/>
<circle cx="1005.40" cy="1239.61" r="1.40" fill="url(#gH)"/>
<circle cx="1008.70" cy="1248.33" r="1.40" fill="url(#gH)"/>
<circle cx="993.30" cy="1245.67" r="1.40" fill="url(#gH)"/>
<circle cx="996.60" cy="1254.39" r="1.40" fill="url(#gH)"/>
<circle cx="1004.46" cy="1245.00" r="2.60" fill="url(#gC)"/>
<circle cx="997.54" cy="1249.00" r="2.60" fill="url(#gC)"/>
<polygon points="990.23,1289.42 996.96,1269.74 999.05,1270.46 998.00,1262.70 992.42,1268.19 994.50,1268.90 987.77,1288.58" fill="#c23cf0"/>
<path d="M966,1322 Q982,1328 987,1311" fill="none" stroke="#c23cf0" stroke-width="2.6"/>
<polygon points="982,1313 989,1304 992,1315" fill="#c23cf0"/>
<line x1="896.94" y1="1318.43" x2="891.55" y2="1319.40" stroke="#111" stroke-width="2.00"/>
<line x1="896.94" y1="1318.43" x2="898.62" y2="1313.31" stroke="#111" stroke-width="2.00"/>
<line x1="903.06" y1="1323.57" x2="901.38" y2="1328.69" stroke="#111" stroke-width="2.00"/>
<line x1="903.06" y1="1323.57" x2="908.45" y2="1322.60" stroke="#111" stroke-width="2.00"/>
<line x1="896.94" y1="1318.43" x2="903.06" y2="1323.57" stroke="#111" stroke-width="3.00"/>
<circle cx="891.55" cy="1319.40" r="1.40" fill="url(#gH)"/>
<circle cx="898.62" cy="1313.31" r="1.40" fill="url(#gH)"/>
<circle cx="901.38" cy="1328.69" r="1.40" fill="url(#gH)"/>
<circle cx="908.45" cy="1322.60" r="1.40" fill="url(#gH)"/>
<circle cx="896.94" cy="1318.43" r="2.60" fill="url(#gC)"/>
<circle cx="903.06" cy="1323.57" r="2.60" fill="url(#gC)"/>
<line x1="909.46" y1="1364.00" x2="910.40" y2="1358.61" stroke="#111" stroke-width="2.00"/>
<line x1="909.46" y1="1364.00" x2="913.70" y2="1367.33" stroke="#111" stroke-width="2.00"/>
<line x1="902.54" y1="1368.00" x2="898.30" y2="1364.67" stroke="#111" stroke-width="2.00"/>
<line x1="902.54" y1="1368.00" x2="901.60" y2="1373.39" stroke="#111" stroke-width="2.00"/>
<line x1="909.46" y1="1364.00" x2="902.54" y2="1368.00" stroke="#111" stroke-width="3.00"/>
<circle cx="910.40" cy="1358.61" r="1.40" fill="url(#gH)"/>
<circle cx="913.70" cy="1367.33" r="1.40" fill="url(#gH)"/>
<circle cx="898.30" cy="1364.67" r="1.40" fill="url(#gH)"/>
<circle cx="901.60" cy="1373.39" r="1.40" fill="url(#gH)"/>
<circle cx="909.46" cy="1364.00" r="2.60" fill="url(#gC)"/>
<circle cx="902.54" cy="1368.00" r="2.60" fill="url(#gC)"/>
<line x1="938.54" y1="1394.00" x2="933.40" y2="1395.89" stroke="#111" stroke-width="2.00"/>
<line x1="938.54" y1="1394.00" x2="939.30" y2="1388.67" stroke="#111" stroke-width="2.00"/>
<line x1="945.46" y1="1398.00" x2="944.70" y2="1403.33" stroke="#111" stroke-width="2.00"/>
<line x1="945.46" y1="1398.00" x2="950.60" y2="1396.11" stroke="#111" stroke-width="2.00"/>
<line x1="938.54" y1="1394.00" x2="945.46" y2="1398.00" stroke="#111" stroke-width="3.00"/>
<circle cx="933.40" cy="1395.89" r="1.40" fill="url(#gH)"/>
<circle cx="939.30" cy="1388.67" r="1.40" fill="url(#gH)"/>
<circle cx="944.70" cy="1403.33" r="1.40" fill="url(#gH)"/>
<circle cx="950.60" cy="1396.11" r="1.40" fill="url(#gH)"/>
<circle cx="938.54" cy="1394.00" r="2.60" fill="url(#gC)"/>
<circle cx="945.46" cy="1398.00" r="2.60" fill="url(#gC)"/>
<line x1="1018.04" y1="1272.50" x2="1012.90" y2="1274.39" stroke="#111" stroke-width="2.00"/>
<line x1="1018.04" y1="1272.50" x2="1018.80" y2="1267.17" stroke="#111" stroke-width="2.00"/>
<line x1="1024.96" y1="1276.50" x2="1024.20" y2="1281.83" stroke="#111" stroke-width="2.00"/>
<line x1="1024.96" y1="1276.50" x2="1030.10" y2="1274.61" stroke="#111" stroke-width="2.00"/>
<line x1="1018.04" y1="1272.50" x2="1024.96" y2="1276.50" stroke="#111" stroke-width="3.00"/>
<circle cx="1012.90" cy="1274.39" r="1.40" fill="url(#gH)"/>
<circle cx="1018.80" cy="1267.17" r="1.40" fill="url(#gH)"/>
<circle cx="1024.20" cy="1281.83" r="1.40" fill="url(#gH)"/>
<circle cx="1030.10" cy="1274.61" r="1.40" fill="url(#gH)"/>
<circle cx="1018.04" cy="1272.50" r="2.60" fill="url(#gC)"/>
<circle cx="1024.96" cy="1276.50" r="2.60" fill="url(#gC)"/>
<line x1="1070.19" y1="1314.56" x2="1066.67" y2="1310.38" stroke="#111" stroke-width="2.00"/>
<line x1="1070.19" y1="1314.56" x2="1075.47" y2="1313.46" stroke="#111" stroke-width="2.00"/>
<line x1="1068.81" y1="1322.44" x2="1063.53" y2="1323.54" stroke="#111" stroke-width="2.00"/>
<line x1="1068.81" y1="1322.44" x2="1072.33" y2="1326.62" stroke="#111" stroke-width="2.00"/>
<line x1="1070.19" y1="1314.56" x2="1068.81" y2="1322.44" stroke="#111" stroke-width="3.00"/>
<circle cx="1066.67" cy="1310.38" r="1.40" fill="url(#gH)"/>
<circle cx="1075.47" cy="1313.46" r="1.40" fill="url(#gH)"/>
<circle cx="1063.53" cy="1323.54" r="1.40" fill="url(#gH)"/>
<circle cx="1072.33" cy="1326.62" r="1.40" fill="url(#gH)"/>
<circle cx="1070.19" cy="1314.56" r="2.60" fill="url(#gC)"/>
<circle cx="1068.81" cy="1322.44" r="2.60" fill="url(#gC)"/>
<line x1="1071.46" y1="1346.00" x2="1072.40" y2="1340.61" stroke="#111" stroke-width="2.00"/>
<line x1="1071.46" y1="1346.00" x2="1075.70" y2="1349.33" stroke="#111" stroke-width="2.00"/>
<line x1="1064.54" y1="1350.00" x2="1060.30" y2="1346.67" stroke="#111" stroke-width="2.00"/>
<line x1="1064.54" y1="1350.00" x2="1063.60" y2="1355.39" stroke="#111" stroke-width="2.00"/>
<line x1="1071.46" y1="1346.00" x2="1064.54" y2="1350.00" stroke="#111" stroke-width="3.00"/>
<circle cx="1072.40" cy="1340.61" r="1.40" fill="url(#gH)"/>
<circle cx="1075.70" cy="1349.33" r="1.40" fill="url(#gH)"/>
<circle cx="1060.30" cy="1346.67" r="1.40" fill="url(#gH)"/>
<circle cx="1063.60" cy="1355.39" r="1.40" fill="url(#gH)"/>
<circle cx="1071.46" cy="1346.00" r="2.60" fill="url(#gC)"/>
<circle cx="1064.54" cy="1350.00" r="2.60" fill="url(#gC)"/>
<line x1="1036.04" y1="1397.00" x2="1030.90" y2="1398.89" stroke="#111" stroke-width="2.00"/>
<line x1="1036.04" y1="1397.00" x2="1036.80" y2="1391.67" stroke="#111" stroke-width="2.00"/>
<line x1="1042.96" y1="1401.00" x2="1042.20" y2="1406.33" stroke="#111" stroke-width="2.00"/>
<line x1="1042.96" y1="1401.00" x2="1048.10" y2="1399.11" stroke="#111" stroke-width="2.00"/>
<line x1="1036.04" y1="1397.00" x2="1042.96" y2="1401.00" stroke="#111" stroke-width="3.00"/>
<circle cx="1030.90" cy="1398.89" r="1.40" fill="url(#gH)"/>
<circle cx="1036.80" cy="1391.67" r="1.40" fill="url(#gH)"/>
<circle cx="1042.20" cy="1406.33" r="1.40" fill="url(#gH)"/>
<circle cx="1048.10" cy="1399.11" r="1.40" fill="url(#gH)"/>
<circle cx="1036.04" cy="1397.00" r="2.60" fill="url(#gC)"/>
<circle cx="1042.96" cy="1401.00" r="2.60" fill="url(#gC)"/>
<line x1="934.50" y1="1333.00" x2="936.56" y2="1327.55" stroke="#aaa" stroke-width="1.80"/>
<line x1="934.50" y1="1333.00" x2="928.97" y2="1331.22" stroke="#aaa" stroke-width="1.80"/>
<line x1="934.50" y1="1333.00" x2="939.60" y2="1335.27" stroke="#aaa" stroke-width="1.80"/>
<line x1="934.50" y1="1333.00" x2="933.00" y2="1338.60" stroke="#aaa" stroke-width="1.80"/>
<circle cx="934.50" cy="1333.00" r="3.30" fill="url(#gC)"/>
<circle cx="936.56" cy="1327.55" r="2.80" fill="url(#gH)"/>
<circle cx="928.97" cy="1331.22" r="2.80" fill="url(#gH)"/>
<circle cx="939.60" cy="1335.27" r="2.80" fill="url(#gH)"/>
<circle cx="933.00" cy="1338.60" r="2.80" fill="url(#gH)"/>
<line x1="1008.00" y1="1382.50" x2="1010.06" y2="1377.05" stroke="#aaa" stroke-width="1.80"/>
<line x1="1008.00" y1="1382.50" x2="1002.47" y2="1380.72" stroke="#aaa" stroke-width="1.80"/>
<line x1="1008.00" y1="1382.50" x2="1013.10" y2="1384.77" stroke="#aaa" stroke-width="1.80"/>
<line x1="1008.00" y1="1382.50" x2="1006.50" y2="1388.10" stroke="#aaa" stroke-width="1.80"/>
<circle cx="1008.00" cy="1382.50" r="3.30" fill="url(#gC)"/>
<circle cx="1010.06" cy="1377.05" r="2.80" fill="url(#gH)"/>
<circle cx="1002.47" cy="1380.72" r="2.80" fill="url(#gH)"/>
<circle cx="1013.10" cy="1384.77" r="2.80" fill="url(#gH)"/>
<circle cx="1006.50" cy="1388.10" r="2.80" fill="url(#gH)"/>
<line x1="933.32" y1="1300.75" x2="938.68" y2="1305.25" stroke="#ccc" stroke-width="2.00"/>
<circle cx="933.32" cy="1300.75" r="2.50" fill="url(#gH)"/>
<circle cx="938.68" cy="1305.25" r="2.50" fill="url(#gH)"/>
<line x1="930.00" y1="1362.50" x2="930.00" y2="1369.50" stroke="#ccc" stroke-width="2.00"/>
<circle cx="930.00" cy="1362.50" r="2.50" fill="url(#gH)"/>
<circle cx="930.00" cy="1369.50" r="2.50" fill="url(#gH)"/>
<line x1="1042.20" y1="1305.00" x2="1049.20" y2="1305.00" stroke="#ccc" stroke-width="2.00"/>
<circle cx="1042.20" cy="1305.00" r="2.50" fill="url(#gH)"/>
<circle cx="1049.20" cy="1305.00" r="2.50" fill="url(#gH)"/>
<line x1="1042.99" y1="1341.57" x2="1047.01" y2="1335.83" stroke="#ccc" stroke-width="2.00"/>
<circle cx="1042.99" cy="1341.57" r="2.50" fill="url(#gH)"/>
<circle cx="1047.01" cy="1335.83" r="2.50" fill="url(#gH)"/>
<line x1="971.97" y1="1405.25" x2="978.03" y2="1401.75" stroke="#ccc" stroke-width="2.00"/>
<circle cx="971.97" cy="1405.25" r="2.50" fill="url(#gH)"/>
<circle cx="978.03" cy="1401.75" r="2.50" fill="url(#gH)"/>
<line x1="1035.30" y1="1271.21" x2="1037.70" y2="1277.79" stroke="#ccc" stroke-width="2.00"/>
<circle cx="1035.30" cy="1271.21" r="2.50" fill="url(#gH)"/>
<circle cx="1037.70" cy="1277.79" r="2.50" fill="url(#gH)"/>
<line x1="1054.47" y1="1374.75" x2="1060.53" y2="1378.25" stroke="#ccc" stroke-width="2.00"/>
<circle cx="1054.47" cy="1374.75" r="2.50" fill="url(#gH)"/>
<circle cx="1060.53" cy="1378.25" r="2.50" fill="url(#gH)"/>
<line x1="875.70" y1="1261.70" x2="876.85" y2="1265.20" stroke="#c00" stroke-width="1.60"/>
<line x1="876.85" y1="1265.20" x2="878.00" y2="1268.70" stroke="#333" stroke-width="1.60"/>
<line x1="878.00" y1="1268.70" x2="879.45" y2="1272.00" stroke="#333" stroke-width="1.60"/>
<line x1="879.45" y1="1272.00" x2="880.90" y2="1275.30" stroke="#c00" stroke-width="1.60"/>
<circle cx="875.70" cy="1261.70" r="2.70" fill="url(#gO)"/>
<circle cx="880.90" cy="1275.30" r="2.70" fill="url(#gO)"/>
<circle cx="878.00" cy="1268.70" r="2.90" fill="url(#gC)"/>
<line x1="860.70" y1="1284.70" x2="864.00" y2="1284.50" stroke="#c00" stroke-width="1.60"/>
<line x1="864.00" y1="1284.50" x2="867.30" y2="1284.30" stroke="#333" stroke-width="1.60"/>
<line x1="867.30" y1="1284.30" x2="871.00" y2="1284.00" stroke="#333" stroke-width="1.60"/>
<line x1="871.00" y1="1284.00" x2="874.70" y2="1283.70" stroke="#c00" stroke-width="1.60"/>
<circle cx="860.70" cy="1284.70" r="2.70" fill="url(#gO)"/>
<circle cx="874.70" cy="1283.70" r="2.70" fill="url(#gO)"/>
<circle cx="867.30" cy="1284.30" r="2.90" fill="url(#gC)"/>
<line x1="1082.60" y1="1244.00" x2="1081.45" y2="1247.65" stroke="#c00" stroke-width="1.60"/>
<line x1="1081.45" y1="1247.65" x2="1080.30" y2="1251.30" stroke="#333" stroke-width="1.60"/>
<line x1="1080.30" y1="1251.30" x2="1079.10" y2="1254.65" stroke="#333" stroke-width="1.60"/>
<line x1="1079.10" y1="1254.65" x2="1077.90" y2="1258.00" stroke="#c00" stroke-width="1.60"/>
<circle cx="1082.60" cy="1244.00" r="2.70" fill="url(#gO)"/>
<circle cx="1077.90" cy="1258.00" r="2.70" fill="url(#gO)"/>
<circle cx="1080.30" cy="1251.30" r="2.90" fill="url(#gC)"/>
<line x1="1089.00" y1="1265.90" x2="1092.65" y2="1265.30" stroke="#c00" stroke-width="1.60"/>
<line x1="1092.65" y1="1265.30" x2="1096.30" y2="1264.70" stroke="#333" stroke-width="1.60"/>
<line x1="1096.30" y1="1264.70" x2="1099.80" y2="1264.00" stroke="#333" stroke-width="1.60"/>
<line x1="1099.80" y1="1264.00" x2="1103.30" y2="1263.30" stroke="#c00" stroke-width="1.60"/>
<circle cx="1089.00" cy="1265.90" r="2.70" fill="url(#gO)"/>
<circle cx="1103.30" cy="1263.30" r="2.70" fill="url(#gO)"/>
<circle cx="1096.30" cy="1264.70" r="2.90" fill="url(#gC)"/>
<line x1="988.00" y1="1454.30" x2="985.80" y2="1457.20" stroke="#c00" stroke-width="1.60"/>
<line x1="985.80" y1="1457.20" x2="983.60" y2="1460.10" stroke="#333" stroke-width="1.60"/>
<line x1="983.60" y1="1460.10" x2="981.55" y2="1463.00" stroke="#333" stroke-width="1.60"/>
<line x1="981.55" y1="1463.00" x2="979.50" y2="1465.90" stroke="#c00" stroke-width="1.60"/>
<circle cx="988.00" cy="1454.30" r="2.70" fill="url(#gO)"/>
<circle cx="979.50" cy="1465.90" r="2.70" fill="url(#gO)"/>
<circle cx="983.60" cy="1460.10" r="2.90" fill="url(#gC)"/>
<line x1="1004.00" y1="1451.90" x2="1005.75" y2="1455.10" stroke="#c00" stroke-width="1.60"/>
<line x1="1005.75" y1="1455.10" x2="1007.50" y2="1458.30" stroke="#333" stroke-width="1.60"/>
<line x1="1007.50" y1="1458.30" x2="1008.85" y2="1461.65" stroke="#333" stroke-width="1.60"/>
<line x1="1008.85" y1="1461.65" x2="1010.20" y2="1465.00" stroke="#c00" stroke-width="1.60"/>
<circle cx="1004.00" cy="1451.90" r="2.70" fill="url(#gO)"/>
<circle cx="1010.20" cy="1465.00" r="2.70" fill="url(#gO)"/>
<circle cx="1007.50" cy="1458.30" r="2.90" fill="url(#gC)"/>
<polygon points="879.00,1280.00 911.00,1291.30 913.70,1286.30 919.30,1301.70 902.70,1305.70 904.70,1301.00" fill="#eb1e70" />
<polygon points="1082.90,1260.30 1056.30,1280.80 1052.00,1277.30 1051.40,1293.90 1067.70,1291.80 1064.50,1288.60" fill="#eb1e70" />
<polygon points="995.30,1455.10 990.00,1422.20 984.20,1421.60 995.30,1409.00 1006.40,1421.60 1000.80,1422.20" fill="#eb1e70" />
<text x="111.00" y="1520.70" font-size="26.50" fill="#1db35a" text-anchor="start" font-weight="bold" letter-spacing="0.6">CO<tspan font-size="17.5" dy="6">2</tspan></text>
<polygon points="178.50,1502.70 258.30,1502.70 258.30,1496.00 274.80,1512.30 258.30,1528.60 258.30,1521.90 178.50,1521.90 188.00,1512.30" fill="url(#agL)"/>
<text x="292.00" y="1520.70" font-size="26.00" fill="#1874c2" text-anchor="start" font-weight="bold" >CH<tspan font-size="17.5" dy="6">4</tspan><tspan dy="-6"> + H</tspan><tspan font-size="17.5" dy="6">2</tspan></text>
<text x="148.50" y="1575.30" font-size="26.50" fill="#000" text-anchor="start" font-weight="normal" letter-spacing="0.4">Au@Cu<tspan font-size="17.5" dy="6">2</tspan><tspan dy="-6">O-L</tspan></text>
<text x="524.60" y="1518.60" font-size="26.50" fill="#1db35a" text-anchor="start" font-weight="bold" letter-spacing="0.6">CO<tspan font-size="17.5" dy="6">2</tspan></text>
<polygon points="594.00,1501.60 672.90,1501.60 672.90,1494.90 689.40,1511.20 672.90,1527.50 672.90,1520.80 594.00,1520.80 603.50,1511.20" fill="url(#agM)"/>
<text x="705.00" y="1518.60" font-size="26.50" fill="#f0843a" text-anchor="start" font-weight="bold" letter-spacing="0.3">CH<tspan font-size="17.5" dy="6">4</tspan></text>
<text x="557.50" y="1576.50" font-size="26.50" fill="#000" text-anchor="start" font-weight="normal" letter-spacing="0.4">Au@Cu<tspan font-size="17.5" dy="6">2</tspan><tspan dy="-6">O-M</tspan></text>
<text x="875.00" y="1518.60" font-size="26.50" fill="#1db35a" text-anchor="start" font-weight="bold" letter-spacing="0.6">CO<tspan font-size="17.5" dy="6">2</tspan></text>
<polygon points="944.40,1501.60 1023.90,1501.60 1023.90,1494.90 1040.40,1511.20 1023.90,1527.50 1023.90,1520.80 944.40,1520.80 953.90,1511.20" fill="url(#agS)"/>
<text x="1056.20" y="1518.60" font-size="26.50" fill="#18b4ea" text-anchor="start" font-weight="bold" letter-spacing="0.5">C<tspan font-size="17.5" dy="6">2</tspan><tspan dy="-6">H</tspan><tspan font-size="17.5" dy="6">4</tspan><tspan dy="-6"> + CO</tspan></text>
<text x="913.00" y="1576.50" font-size="26.50" fill="#000" text-anchor="start" font-weight="normal" letter-spacing="0.4">Au@Cu<tspan font-size="17.5" dy="6">2</tspan><tspan dy="-6">O-S</tspan></text>
</svg></body></html>
